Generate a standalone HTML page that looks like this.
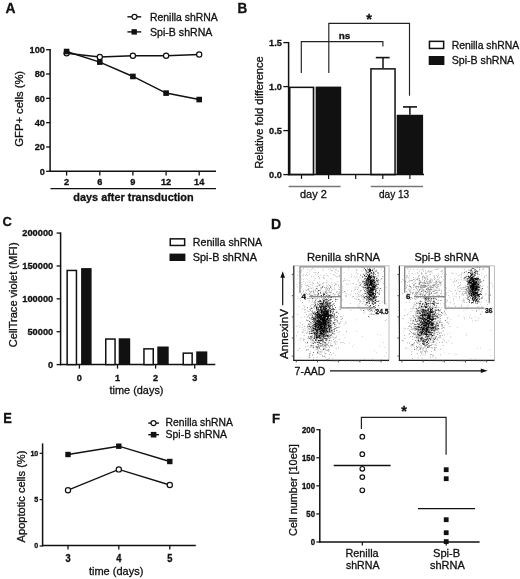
<!DOCTYPE html>
<html><head><meta charset="utf-8"><style>
html,body{margin:0;padding:0;background:#fff;width:520px;height:579px;overflow:hidden}
svg{display:block;filter:grayscale(1) blur(0.3px)}
text{font-family:"Liberation Sans", sans-serif;stroke:#111;stroke-width:0.3px}
</style></head><body>
<svg width="520" height="579" viewBox="0 0 520 579">
<text x="5.50" y="12.70" font-size="13.8" font-weight="bold" text-anchor="start" fill="#111">A</text>
<line x1="50.10" y1="49.00" x2="50.10" y2="172.05" stroke="#111" stroke-width="1.5"/>
<line x1="49.40" y1="171.30" x2="216.00" y2="171.30" stroke="#111" stroke-width="1.5"/>
<line x1="46.10" y1="171.30" x2="50.10" y2="171.30" stroke="#111" stroke-width="1.3"/>
<text x="44.90" y="174.60" font-size="9.2" font-weight="bold" text-anchor="end" fill="#111">0</text>
<line x1="46.10" y1="146.98" x2="50.10" y2="146.98" stroke="#111" stroke-width="1.3"/>
<text x="44.90" y="150.28" font-size="9.2" font-weight="bold" text-anchor="end" fill="#111">20</text>
<line x1="46.10" y1="122.66" x2="50.10" y2="122.66" stroke="#111" stroke-width="1.3"/>
<text x="44.90" y="125.96" font-size="9.2" font-weight="bold" text-anchor="end" fill="#111">40</text>
<line x1="46.10" y1="98.34" x2="50.10" y2="98.34" stroke="#111" stroke-width="1.3"/>
<text x="44.90" y="101.64" font-size="9.2" font-weight="bold" text-anchor="end" fill="#111">60</text>
<line x1="46.10" y1="74.02" x2="50.10" y2="74.02" stroke="#111" stroke-width="1.3"/>
<text x="44.90" y="77.32" font-size="9.2" font-weight="bold" text-anchor="end" fill="#111">80</text>
<line x1="46.10" y1="49.70" x2="50.10" y2="49.70" stroke="#111" stroke-width="1.3"/>
<text x="44.90" y="53.00" font-size="9.2" font-weight="bold" text-anchor="end" fill="#111">100</text>
<line x1="66.60" y1="171.30" x2="66.60" y2="175.60" stroke="#111" stroke-width="1.3"/>
<text transform="translate(66.60,185.00) scale(1,1.08)" font-size="9.2" font-weight="bold" text-anchor="middle" fill="#111">2</text>
<line x1="99.80" y1="171.30" x2="99.80" y2="175.60" stroke="#111" stroke-width="1.3"/>
<text transform="translate(99.80,185.00) scale(1,1.08)" font-size="9.2" font-weight="bold" text-anchor="middle" fill="#111">6</text>
<line x1="132.90" y1="171.30" x2="132.90" y2="175.60" stroke="#111" stroke-width="1.3"/>
<text transform="translate(132.90,185.00) scale(1,1.08)" font-size="9.2" font-weight="bold" text-anchor="middle" fill="#111">9</text>
<line x1="166.10" y1="171.30" x2="166.10" y2="175.60" stroke="#111" stroke-width="1.3"/>
<text transform="translate(166.10,185.00) scale(1,1.08)" font-size="9.2" font-weight="bold" text-anchor="middle" fill="#111">12</text>
<line x1="199.20" y1="171.30" x2="199.20" y2="175.60" stroke="#111" stroke-width="1.3"/>
<text transform="translate(199.20,185.00) scale(1,1.08)" font-size="9.2" font-weight="bold" text-anchor="middle" fill="#111">14</text>
<line x1="50.50" y1="188.60" x2="216.00" y2="188.60" stroke="#111" stroke-width="1.4"/>
<text x="133.50" y="200.80" font-size="10.9" font-weight="bold" text-anchor="middle" fill="#111" textLength="120.3" lengthAdjust="spacingAndGlyphs">days after transduction</text>
<text transform="translate(23.10,108.80) rotate(-90)" font-size="10.7" font-weight="normal" text-anchor="middle" fill="#111" textLength="75.8" lengthAdjust="spacingAndGlyphs">GFP+ cells (%)</text>
<polyline points="66.60,53.35 99.80,57.00 132.90,55.78 166.10,55.78 199.20,54.56" fill="none" stroke="#111" stroke-width="1.5"/>
<polyline points="66.60,51.52 99.80,62.10 132.90,76.45 166.10,93.11 199.20,99.56" fill="none" stroke="#111" stroke-width="1.5"/>
<circle cx="66.60" cy="53.35" r="2.60" fill="#fff" stroke="#111" stroke-width="1.2"/>
<circle cx="99.80" cy="57.00" r="2.60" fill="#fff" stroke="#111" stroke-width="1.2"/>
<circle cx="132.90" cy="55.78" r="2.60" fill="#fff" stroke="#111" stroke-width="1.2"/>
<circle cx="166.10" cy="55.78" r="2.60" fill="#fff" stroke="#111" stroke-width="1.2"/>
<circle cx="199.20" cy="54.56" r="2.60" fill="#fff" stroke="#111" stroke-width="1.2"/>
<rect x="63.80" y="48.72" width="5.60" height="5.60" fill="#111" stroke="none" stroke-width="0"/>
<rect x="97.00" y="59.30" width="5.60" height="5.60" fill="#111" stroke="none" stroke-width="0"/>
<rect x="130.10" y="73.65" width="5.60" height="5.60" fill="#111" stroke="none" stroke-width="0"/>
<rect x="163.30" y="90.31" width="5.60" height="5.60" fill="#111" stroke="none" stroke-width="0"/>
<rect x="196.40" y="96.76" width="5.60" height="5.60" fill="#111" stroke="none" stroke-width="0"/>
<line x1="127.40" y1="16.80" x2="141.20" y2="16.80" stroke="#111" stroke-width="1.4"/>
<circle cx="134.50" cy="16.80" r="2.50" fill="#fff" stroke="#111" stroke-width="1.2"/>
<text x="150.00" y="20.80" font-size="10.4" font-weight="normal" text-anchor="start" fill="#111" textLength="67.7" lengthAdjust="spacingAndGlyphs">Renilla shRNA</text>
<line x1="127.40" y1="31.90" x2="141.20" y2="31.90" stroke="#111" stroke-width="1.4"/>
<rect x="131.50" y="29.20" width="5.40" height="5.40" fill="#111" stroke="none" stroke-width="0"/>
<text x="150.00" y="36.10" font-size="10.4" font-weight="normal" text-anchor="start" fill="#111" textLength="62.4" lengthAdjust="spacingAndGlyphs">Spi-B shRNA</text>
<text transform="translate(237.40,12.60) scale(1,1.12)" font-size="13.5" font-weight="bold" text-anchor="start" fill="#111">B</text>
<rect x="289.75" y="87.35" width="23.70" height="87.25" fill="#fff" stroke="#111" stroke-width="1.5"/>
<rect x="315.70" y="86.60" width="25.50" height="88.00" fill="#111" stroke="none" stroke-width="0"/>
<line x1="314.90" y1="86.60" x2="314.90" y2="174.60" stroke="#888" stroke-width="0.8"/>
<rect x="370.95" y="68.87" width="24.10" height="105.73" fill="#fff" stroke="#111" stroke-width="1.5"/>
<rect x="396.70" y="114.76" width="26.40" height="59.84" fill="#111" stroke="none" stroke-width="0"/>
<line x1="383.00" y1="68.12" x2="383.00" y2="57.60" stroke="#111" stroke-width="1.5"/>
<line x1="375.80" y1="57.60" x2="389.60" y2="57.60" stroke="#111" stroke-width="1.6"/>
<line x1="409.90" y1="114.76" x2="409.90" y2="106.90" stroke="#111" stroke-width="1.5"/>
<line x1="403.00" y1="106.90" x2="417.00" y2="106.90" stroke="#111" stroke-width="1.6"/>
<line x1="288.60" y1="41.90" x2="288.60" y2="175.35" stroke="#111" stroke-width="1.5"/>
<line x1="287.90" y1="174.60" x2="424.00" y2="174.60" stroke="#111" stroke-width="1.5"/>
<line x1="283.30" y1="174.60" x2="288.60" y2="174.60" stroke="#111" stroke-width="1.3"/>
<text transform="translate(281.90,177.70) scale(1,0.95)" font-size="9.2" font-weight="bold" text-anchor="end" fill="#111">0.0</text>
<line x1="283.30" y1="130.60" x2="288.60" y2="130.60" stroke="#111" stroke-width="1.3"/>
<text transform="translate(281.90,133.70) scale(1,0.95)" font-size="9.2" font-weight="bold" text-anchor="end" fill="#111">0.5</text>
<line x1="283.30" y1="86.60" x2="288.60" y2="86.60" stroke="#111" stroke-width="1.3"/>
<text transform="translate(281.90,89.70) scale(1,0.95)" font-size="9.2" font-weight="bold" text-anchor="end" fill="#111">1.0</text>
<line x1="283.30" y1="42.60" x2="288.60" y2="42.60" stroke="#111" stroke-width="1.3"/>
<text transform="translate(281.90,45.70) scale(1,0.95)" font-size="9.2" font-weight="bold" text-anchor="end" fill="#111">1.5</text>
<line x1="301.50" y1="174.60" x2="301.50" y2="178.90" stroke="#111" stroke-width="1.2"/>
<line x1="328.60" y1="174.60" x2="328.60" y2="178.90" stroke="#111" stroke-width="1.2"/>
<line x1="355.70" y1="174.60" x2="355.70" y2="178.90" stroke="#111" stroke-width="1.2"/>
<line x1="382.80" y1="174.60" x2="382.80" y2="178.90" stroke="#111" stroke-width="1.2"/>
<line x1="409.90" y1="174.60" x2="409.90" y2="178.90" stroke="#111" stroke-width="1.2"/>
<line x1="288.60" y1="186.50" x2="340.60" y2="186.50" stroke="#777" stroke-width="1.3"/>
<line x1="370.80" y1="186.50" x2="423.00" y2="186.50" stroke="#777" stroke-width="1.3"/>
<text x="313.40" y="198.30" font-size="10.5" font-weight="normal" text-anchor="middle" fill="#111" textLength="26.8" lengthAdjust="spacingAndGlyphs">day 2</text>
<text x="394.10" y="198.30" font-size="10.5" font-weight="normal" text-anchor="middle" fill="#111" textLength="30.2" lengthAdjust="spacingAndGlyphs">day 13</text>
<text transform="translate(263.30,112.50) rotate(-90)" font-size="10.9" font-weight="normal" text-anchor="middle" fill="#111" textLength="112.4" lengthAdjust="spacingAndGlyphs">Relative fold difference</text>
<polyline points="301.30,73.10 301.30,41.60 382.90,41.60 382.90,46.50" fill="none" stroke="#222" stroke-width="1.15"/>
<polyline points="328.80,73.10 328.80,23.40 409.50,23.40 409.50,95.70" fill="none" stroke="#222" stroke-width="1.15"/>
<text x="344.60" y="39.40" font-size="9.8" font-weight="bold" text-anchor="middle" fill="#111" textLength="11.6" lengthAdjust="spacingAndGlyphs">ns</text>
<text x="369.20" y="23.90" font-size="14.5" font-weight="bold" text-anchor="middle" fill="#111">*</text>
<rect x="429.45" y="41.35" width="14.20" height="7.10" fill="#fff" stroke="#111" stroke-width="1.5"/>
<rect x="428.70" y="56.00" width="15.70" height="9.00" fill="#111" stroke="none" stroke-width="0"/>
<text x="451.70" y="48.80" font-size="10.4" font-weight="normal" text-anchor="start" fill="#111" textLength="67.5" lengthAdjust="spacingAndGlyphs">Renilla shRNA</text>
<text x="451.70" y="63.90" font-size="10.4" font-weight="normal" text-anchor="start" fill="#111" textLength="62.5" lengthAdjust="spacingAndGlyphs">Spi-B shRNA</text>
<text x="2.40" y="226.20" font-size="13" font-weight="bold" text-anchor="start" fill="#111">C</text>
<line x1="60.60" y1="232.38" x2="60.60" y2="365.35" stroke="#111" stroke-width="1.5"/>
<line x1="59.90" y1="364.60" x2="215.30" y2="364.60" stroke="#111" stroke-width="1.5"/>
<line x1="56.60" y1="364.60" x2="60.60" y2="364.60" stroke="#111" stroke-width="1.3"/>
<text x="53.20" y="367.50" font-size="8.4" font-weight="bold" text-anchor="end" fill="#111" textLength="5.15" lengthAdjust="spacingAndGlyphs">0</text>
<line x1="56.60" y1="331.72" x2="60.60" y2="331.72" stroke="#111" stroke-width="1.3"/>
<text x="53.20" y="334.62" font-size="8.4" font-weight="bold" text-anchor="end" fill="#111" textLength="25.75" lengthAdjust="spacingAndGlyphs">50000</text>
<line x1="56.60" y1="298.84" x2="60.60" y2="298.84" stroke="#111" stroke-width="1.3"/>
<text x="53.20" y="301.74" font-size="8.4" font-weight="bold" text-anchor="end" fill="#111" textLength="30.900000000000002" lengthAdjust="spacingAndGlyphs">100000</text>
<line x1="56.60" y1="265.96" x2="60.60" y2="265.96" stroke="#111" stroke-width="1.3"/>
<text x="53.20" y="268.86" font-size="8.4" font-weight="bold" text-anchor="end" fill="#111" textLength="30.900000000000002" lengthAdjust="spacingAndGlyphs">150000</text>
<line x1="56.60" y1="233.08" x2="60.60" y2="233.08" stroke="#111" stroke-width="1.3"/>
<text x="53.20" y="235.98" font-size="8.4" font-weight="bold" text-anchor="end" fill="#111" textLength="30.900000000000002" lengthAdjust="spacingAndGlyphs">200000</text>
<rect x="67.15" y="270.45" width="9.30" height="94.15" fill="#fff" stroke="#111" stroke-width="1.5"/>
<rect x="81.10" y="268.10" width="10.50" height="96.50" fill="#111" stroke="none" stroke-width="0"/>
<rect x="105.75" y="339.05" width="9.30" height="25.55" fill="#fff" stroke="#111" stroke-width="1.5"/>
<rect x="118.70" y="338.30" width="11.50" height="26.30" fill="#111" stroke="none" stroke-width="0"/>
<rect x="143.95" y="348.85" width="9.30" height="15.75" fill="#fff" stroke="#111" stroke-width="1.5"/>
<rect x="157.30" y="346.50" width="11.40" height="18.10" fill="#111" stroke="none" stroke-width="0"/>
<rect x="183.25" y="353.15" width="8.90" height="11.45" fill="#fff" stroke="#111" stroke-width="1.5"/>
<rect x="196.20" y="351.40" width="11.10" height="13.20" fill="#111" stroke="none" stroke-width="0"/>
<line x1="79.40" y1="364.60" x2="79.40" y2="368.60" stroke="#111" stroke-width="1.3"/>
<text transform="translate(79.40,381.20) scale(1,1.05)" font-size="9.2" font-weight="bold" text-anchor="middle" fill="#111">0</text>
<line x1="117.50" y1="364.60" x2="117.50" y2="368.60" stroke="#111" stroke-width="1.3"/>
<text transform="translate(117.50,381.20) scale(1,1.05)" font-size="9.2" font-weight="bold" text-anchor="middle" fill="#111">1</text>
<line x1="155.60" y1="364.60" x2="155.60" y2="368.60" stroke="#111" stroke-width="1.3"/>
<text transform="translate(155.60,381.20) scale(1,1.05)" font-size="9.2" font-weight="bold" text-anchor="middle" fill="#111">2</text>
<line x1="194.70" y1="364.60" x2="194.70" y2="368.60" stroke="#111" stroke-width="1.3"/>
<text transform="translate(194.70,381.20) scale(1,1.05)" font-size="9.2" font-weight="bold" text-anchor="middle" fill="#111">3</text>
<text x="136.50" y="393.80" font-size="10.9" font-weight="normal" text-anchor="middle" fill="#111" textLength="54" lengthAdjust="spacingAndGlyphs">time (days)</text>
<text transform="translate(17.00,294.80) rotate(-90)" font-size="10.9" font-weight="normal" text-anchor="middle" fill="#111" textLength="104.8" lengthAdjust="spacingAndGlyphs">CellTrace violet (MFI)</text>
<rect x="170.25" y="238.85" width="14.40" height="6.60" fill="#fff" stroke="#111" stroke-width="1.5"/>
<rect x="169.50" y="253.60" width="15.90" height="7.40" fill="#111" stroke="none" stroke-width="0"/>
<text x="192.80" y="245.60" font-size="10.4" font-weight="normal" text-anchor="start" fill="#111" textLength="69.4" lengthAdjust="spacingAndGlyphs">Renilla shRNA</text>
<text x="192.80" y="261.00" font-size="10.4" font-weight="normal" text-anchor="start" fill="#111" textLength="64.1" lengthAdjust="spacingAndGlyphs">Spi-B shRNA</text>
<text x="3.20" y="422.60" font-size="14" font-weight="bold" text-anchor="start" fill="#111" textLength="8.6" lengthAdjust="spacingAndGlyphs">E</text>
<line x1="42.60" y1="443.40" x2="42.60" y2="546.35" stroke="#111" stroke-width="1.5"/>
<line x1="41.90" y1="545.60" x2="195.80" y2="545.60" stroke="#111" stroke-width="1.5"/>
<line x1="39.60" y1="546.00" x2="42.60" y2="546.00" stroke="#111" stroke-width="1.2"/>
<text transform="translate(38.30,548.40) scale(1,1.1)" font-size="7.1" font-weight="bold" text-anchor="end" fill="#111">0</text>
<line x1="39.60" y1="499.65" x2="42.60" y2="499.65" stroke="#111" stroke-width="1.2"/>
<text transform="translate(38.30,502.05) scale(1,1.1)" font-size="7.1" font-weight="bold" text-anchor="end" fill="#111">5</text>
<line x1="39.60" y1="453.30" x2="42.60" y2="453.30" stroke="#111" stroke-width="1.2"/>
<text transform="translate(38.30,455.70) scale(1,1.1)" font-size="7.1" font-weight="bold" text-anchor="end" fill="#111">10</text>
<line x1="68.00" y1="545.60" x2="68.00" y2="549.40" stroke="#111" stroke-width="1.3"/>
<text transform="translate(68.00,561.70) scale(1,1.12)" font-size="9.3" font-weight="bold" text-anchor="middle" fill="#111">3</text>
<line x1="118.80" y1="545.60" x2="118.80" y2="549.40" stroke="#111" stroke-width="1.3"/>
<text transform="translate(118.80,561.70) scale(1,1.12)" font-size="9.3" font-weight="bold" text-anchor="middle" fill="#111">4</text>
<line x1="169.80" y1="545.60" x2="169.80" y2="549.40" stroke="#111" stroke-width="1.3"/>
<text transform="translate(169.80,561.70) scale(1,1.12)" font-size="9.3" font-weight="bold" text-anchor="middle" fill="#111">5</text>
<text x="116.10" y="574.90" font-size="10.9" font-weight="normal" text-anchor="middle" fill="#111" textLength="54.4" lengthAdjust="spacingAndGlyphs">time (days)</text>
<text transform="translate(25.00,496.50) rotate(-90)" font-size="10.7" font-weight="normal" text-anchor="middle" fill="#111" textLength="91.8" lengthAdjust="spacingAndGlyphs">Apoptotic cells (%)</text>
<polyline points="68.00,454.50 118.80,446.20 169.80,461.50" fill="none" stroke="#111" stroke-width="1.4"/>
<polyline points="68.00,490.20 118.80,469.40 169.80,485.00" fill="none" stroke="#111" stroke-width="1.4"/>
<rect x="65.30" y="451.80" width="5.40" height="5.40" fill="#111" stroke="none" stroke-width="0"/>
<rect x="116.10" y="443.50" width="5.40" height="5.40" fill="#111" stroke="none" stroke-width="0"/>
<rect x="167.10" y="458.80" width="5.40" height="5.40" fill="#111" stroke="none" stroke-width="0"/>
<circle cx="68.00" cy="490.20" r="2.60" fill="#fff" stroke="#111" stroke-width="1.2"/>
<circle cx="118.80" cy="469.40" r="2.60" fill="#fff" stroke="#111" stroke-width="1.2"/>
<circle cx="169.80" cy="485.00" r="2.60" fill="#fff" stroke="#111" stroke-width="1.2"/>
<line x1="148.30" y1="423.10" x2="159.00" y2="423.10" stroke="#111" stroke-width="1.4"/>
<circle cx="153.50" cy="423.10" r="2.50" fill="#fff" stroke="#111" stroke-width="1.2"/>
<text x="165.60" y="426.00" font-size="10.4" font-weight="normal" text-anchor="start" fill="#111" textLength="67.3" lengthAdjust="spacingAndGlyphs">Renilla shRNA</text>
<line x1="148.30" y1="434.70" x2="159.00" y2="434.70" stroke="#111" stroke-width="1.4"/>
<rect x="150.80" y="431.90" width="5.60" height="5.60" fill="#111" stroke="none" stroke-width="0"/>
<text x="165.60" y="438.00" font-size="10.4" font-weight="normal" text-anchor="start" fill="#111" textLength="61.4" lengthAdjust="spacingAndGlyphs">Spi-B shRNA</text>
<text x="271.90" y="423.20" font-size="13.3" font-weight="bold" text-anchor="start" fill="#111">F</text>
<line x1="319.80" y1="429.00" x2="319.80" y2="542.75" stroke="#111" stroke-width="1.5"/>
<line x1="319.10" y1="542.00" x2="479.60" y2="542.00" stroke="#111" stroke-width="1.5"/>
<line x1="316.30" y1="542.00" x2="319.80" y2="542.00" stroke="#111" stroke-width="1.2"/>
<text transform="translate(315.00,545.30) scale(1,1.18)" font-size="7.8" font-weight="bold" text-anchor="end" fill="#111">0</text>
<line x1="316.30" y1="513.92" x2="319.80" y2="513.92" stroke="#111" stroke-width="1.2"/>
<text transform="translate(315.00,517.22) scale(1,1.18)" font-size="7.8" font-weight="bold" text-anchor="end" fill="#111">50</text>
<line x1="316.30" y1="485.85" x2="319.80" y2="485.85" stroke="#111" stroke-width="1.2"/>
<text transform="translate(315.00,489.15) scale(1,1.18)" font-size="7.8" font-weight="bold" text-anchor="end" fill="#111">100</text>
<line x1="316.30" y1="457.77" x2="319.80" y2="457.77" stroke="#111" stroke-width="1.2"/>
<text transform="translate(315.00,461.07) scale(1,1.18)" font-size="7.8" font-weight="bold" text-anchor="end" fill="#111">150</text>
<line x1="316.30" y1="429.70" x2="319.80" y2="429.70" stroke="#111" stroke-width="1.2"/>
<text transform="translate(315.00,433.00) scale(1,1.18)" font-size="7.8" font-weight="bold" text-anchor="end" fill="#111">200</text>
<line x1="362.30" y1="542.00" x2="362.30" y2="545.50" stroke="#111" stroke-width="1.2"/>
<line x1="446.20" y1="542.00" x2="446.20" y2="545.50" stroke="#111" stroke-width="1.2"/>
<text x="362.00" y="556.70" font-size="10.9" font-weight="normal" text-anchor="middle" fill="#111" textLength="33.2" lengthAdjust="spacingAndGlyphs">Renilla</text>
<text x="362.70" y="569.20" font-size="10.9" font-weight="normal" text-anchor="middle" fill="#111" textLength="33.6" lengthAdjust="spacingAndGlyphs">shRNA</text>
<text x="446.60" y="556.70" font-size="10.9" font-weight="normal" text-anchor="middle" fill="#111" textLength="27.2" lengthAdjust="spacingAndGlyphs">Spi-B</text>
<text x="447.40" y="569.20" font-size="10.9" font-weight="normal" text-anchor="middle" fill="#111" textLength="34.8" lengthAdjust="spacingAndGlyphs">shRNA</text>
<text transform="translate(296.70,490.10) rotate(-90)" font-size="10.9" font-weight="normal" text-anchor="middle" fill="#111" textLength="91.7" lengthAdjust="spacingAndGlyphs">Cell number [10e6]</text>
<line x1="333.70" y1="465.50" x2="390.60" y2="465.50" stroke="#111" stroke-width="1.4"/>
<line x1="418.00" y1="508.60" x2="475.10" y2="508.60" stroke="#111" stroke-width="1.4"/>
<circle cx="362.30" cy="436.70" r="2.30" fill="#fff" stroke="#111" stroke-width="1.2"/>
<circle cx="362.30" cy="454.20" r="2.30" fill="#fff" stroke="#111" stroke-width="1.2"/>
<circle cx="362.30" cy="468.80" r="2.30" fill="#fff" stroke="#111" stroke-width="1.2"/>
<circle cx="362.30" cy="477.10" r="2.30" fill="#fff" stroke="#111" stroke-width="1.2"/>
<circle cx="362.30" cy="490.30" r="2.30" fill="#fff" stroke="#111" stroke-width="1.2"/>
<rect x="443.80" y="467.30" width="4.80" height="4.80" fill="#111" stroke="none" stroke-width="0"/>
<rect x="443.80" y="476.30" width="4.80" height="4.80" fill="#111" stroke="none" stroke-width="0"/>
<rect x="443.80" y="517.30" width="4.80" height="4.80" fill="#111" stroke="none" stroke-width="0"/>
<rect x="443.80" y="530.30" width="4.80" height="4.80" fill="#111" stroke="none" stroke-width="0"/>
<rect x="443.80" y="539.20" width="4.80" height="4.80" fill="#111" stroke="none" stroke-width="0"/>
<polyline points="361.40,429.00 361.40,417.40 446.10,417.40 446.10,454.70" fill="none" stroke="#222" stroke-width="1.2"/>
<text x="404.20" y="416.00" font-size="14.5" font-weight="bold" text-anchor="middle" fill="#111">*</text>
<defs><filter id="soft" x="-5%" y="-5%" width="110%" height="110%"><feGaussianBlur stdDeviation="0.35"/></filter></defs>
<text x="270.90" y="228.70" font-size="14" font-weight="bold" text-anchor="start" fill="#111">D</text>
<rect x="293.8" y="265.8" width="95.19999999999999" height="94.59999999999997" fill="#fff" stroke="#b5b5b5" stroke-width="0.9"/>
<path d="M322.2 333.7h0.75v0.75h-0.75zM327.9 311.6h0.75v0.75h-0.75zM320.6 315.4h0.75v0.75h-0.75zM324.7 317.9h0.75v0.75h-0.75zM325.6 299.3h0.75v0.75h-0.75zM329.5 314.9h0.75v0.75h-0.75zM325.3 316.8h0.75v0.75h-0.75zM320.2 325.7h0.75v0.75h-0.75zM326.0 315.8h0.75v0.75h-0.75zM321.3 327.4h0.75v0.75h-0.75zM317.8 306.9h0.75v0.75h-0.75zM323.9 312.1h0.75v0.75h-0.75zM312.8 316.8h0.75v0.75h-0.75zM319.8 309.1h0.75v0.75h-0.75zM314.8 324.3h0.75v0.75h-0.75zM326.3 315.3h0.75v0.75h-0.75zM318.4 325.9h0.75v0.75h-0.75zM325.4 315.1h0.75v0.75h-0.75zM324.6 329.2h0.75v0.75h-0.75zM321.0 312.3h0.75v0.75h-0.75zM323.7 321.6h0.75v0.75h-0.75zM327.3 304.1h0.75v0.75h-0.75zM318.8 313.2h0.75v0.75h-0.75zM313.7 325.8h0.75v0.75h-0.75zM324.5 311.1h0.75v0.75h-0.75zM328.7 324.7h0.75v0.75h-0.75zM325.0 322.4h0.75v0.75h-0.75zM326.6 303.9h0.75v0.75h-0.75zM324.9 324.5h0.75v0.75h-0.75zM313.5 328.2h0.75v0.75h-0.75zM320.8 328.6h0.75v0.75h-0.75zM319.9 321.0h0.75v0.75h-0.75zM323.6 310.2h0.75v0.75h-0.75zM324.9 317.4h0.75v0.75h-0.75zM324.4 313.4h0.75v0.75h-0.75zM327.2 323.3h0.75v0.75h-0.75zM321.1 326.9h0.75v0.75h-0.75zM328.0 334.9h0.75v0.75h-0.75zM314.4 333.1h0.75v0.75h-0.75zM324.2 317.8h0.75v0.75h-0.75zM317.2 335.4h0.75v0.75h-0.75zM315.9 329.1h0.75v0.75h-0.75zM328.2 300.3h0.75v0.75h-0.75zM320.5 307.5h0.75v0.75h-0.75zM323.2 334.8h0.75v0.75h-0.75zM331.7 296.6h0.75v0.75h-0.75zM319.2 328.7h0.75v0.75h-0.75zM329.6 320.1h0.75v0.75h-0.75zM318.4 325.0h0.75v0.75h-0.75zM321.9 318.0h0.75v0.75h-0.75zM318.5 325.9h0.75v0.75h-0.75zM323.5 318.2h0.75v0.75h-0.75zM320.9 307.5h0.75v0.75h-0.75zM319.7 333.5h0.75v0.75h-0.75zM321.1 305.9h0.75v0.75h-0.75zM328.4 321.9h0.75v0.75h-0.75zM332.1 315.1h0.75v0.75h-0.75zM319.8 306.5h0.75v0.75h-0.75zM328.4 342.6h0.75v0.75h-0.75zM318.1 315.6h0.75v0.75h-0.75zM324.9 310.0h0.75v0.75h-0.75zM320.7 317.2h0.75v0.75h-0.75zM322.9 330.6h0.75v0.75h-0.75zM322.1 329.3h0.75v0.75h-0.75zM320.0 324.4h0.75v0.75h-0.75zM311.7 310.9h0.75v0.75h-0.75zM325.8 311.9h0.75v0.75h-0.75zM324.8 324.0h0.75v0.75h-0.75zM328.3 324.8h0.75v0.75h-0.75zM326.9 316.2h0.75v0.75h-0.75zM318.6 314.4h0.75v0.75h-0.75zM319.7 309.8h0.75v0.75h-0.75zM319.4 320.5h0.75v0.75h-0.75zM323.2 315.9h0.75v0.75h-0.75zM312.8 324.3h0.75v0.75h-0.75zM323.1 330.4h0.75v0.75h-0.75zM324.8 311.9h0.75v0.75h-0.75zM318.5 342.3h0.75v0.75h-0.75zM325.6 336.6h0.75v0.75h-0.75zM332.2 306.1h0.75v0.75h-0.75zM323.8 323.6h0.75v0.75h-0.75zM324.7 324.0h0.75v0.75h-0.75zM323.0 321.2h0.75v0.75h-0.75zM314.8 322.3h0.75v0.75h-0.75zM318.4 323.2h0.75v0.75h-0.75zM319.8 327.5h0.75v0.75h-0.75zM325.9 321.0h0.75v0.75h-0.75zM323.5 320.1h0.75v0.75h-0.75zM319.9 319.5h0.75v0.75h-0.75zM319.6 325.2h0.75v0.75h-0.75zM322.1 325.9h0.75v0.75h-0.75zM315.6 332.5h0.75v0.75h-0.75zM318.3 314.5h0.75v0.75h-0.75zM321.1 314.8h0.75v0.75h-0.75zM323.4 313.4h0.75v0.75h-0.75zM316.9 314.2h0.75v0.75h-0.75zM328.3 317.0h0.75v0.75h-0.75zM316.4 323.1h0.75v0.75h-0.75zM314.5 342.3h0.75v0.75h-0.75zM314.7 328.9h0.75v0.75h-0.75zM324.6 303.8h0.75v0.75h-0.75zM323.4 329.3h0.75v0.75h-0.75zM324.2 321.4h0.75v0.75h-0.75zM326.6 319.1h0.75v0.75h-0.75zM323.6 317.8h0.75v0.75h-0.75zM325.0 308.8h0.75v0.75h-0.75zM325.8 312.8h0.75v0.75h-0.75zM316.8 326.6h0.75v0.75h-0.75zM330.1 325.3h0.75v0.75h-0.75zM319.5 328.5h0.75v0.75h-0.75zM319.8 319.9h0.75v0.75h-0.75zM322.4 296.2h0.75v0.75h-0.75zM322.9 309.0h0.75v0.75h-0.75zM318.7 306.8h0.75v0.75h-0.75zM314.7 314.4h0.75v0.75h-0.75zM326.0 334.8h0.75v0.75h-0.75zM321.9 331.2h0.75v0.75h-0.75zM320.7 301.3h0.75v0.75h-0.75zM322.7 324.1h0.75v0.75h-0.75zM319.9 324.2h0.75v0.75h-0.75zM324.7 309.7h0.75v0.75h-0.75zM314.9 321.6h0.75v0.75h-0.75zM321.0 317.0h0.75v0.75h-0.75zM326.7 335.0h0.75v0.75h-0.75zM320.0 328.2h0.75v0.75h-0.75zM326.5 324.8h0.75v0.75h-0.75zM327.0 313.3h0.75v0.75h-0.75zM325.6 338.6h0.75v0.75h-0.75zM325.9 311.6h0.75v0.75h-0.75zM324.9 331.2h0.75v0.75h-0.75zM323.8 313.3h0.75v0.75h-0.75zM329.4 303.2h0.75v0.75h-0.75zM324.4 318.5h0.75v0.75h-0.75zM316.3 335.5h0.75v0.75h-0.75zM323.7 307.2h0.75v0.75h-0.75zM324.9 314.0h0.75v0.75h-0.75zM312.9 318.0h0.75v0.75h-0.75zM323.3 325.8h0.75v0.75h-0.75zM322.8 320.0h0.75v0.75h-0.75zM324.3 316.6h0.75v0.75h-0.75zM327.6 318.4h0.75v0.75h-0.75zM323.4 324.7h0.75v0.75h-0.75zM316.9 315.6h0.75v0.75h-0.75zM329.3 319.4h0.75v0.75h-0.75zM320.6 324.2h0.75v0.75h-0.75zM319.7 324.1h0.75v0.75h-0.75zM318.8 324.6h0.75v0.75h-0.75zM314.4 337.7h0.75v0.75h-0.75zM319.5 305.3h0.75v0.75h-0.75zM320.9 316.8h0.75v0.75h-0.75zM322.7 308.0h0.75v0.75h-0.75zM323.9 355.8h0.75v0.75h-0.75zM315.9 326.8h0.75v0.75h-0.75zM320.5 322.8h0.75v0.75h-0.75zM313.3 313.1h0.75v0.75h-0.75zM324.2 318.4h0.75v0.75h-0.75zM329.8 308.5h0.75v0.75h-0.75zM322.8 349.2h0.75v0.75h-0.75zM318.3 312.8h0.75v0.75h-0.75zM321.8 319.6h0.75v0.75h-0.75zM326.1 319.1h0.75v0.75h-0.75zM318.4 324.1h0.75v0.75h-0.75zM334.7 326.0h0.75v0.75h-0.75zM308.6 325.9h0.75v0.75h-0.75zM317.8 328.6h0.75v0.75h-0.75zM321.2 340.1h0.75v0.75h-0.75zM326.5 326.6h0.75v0.75h-0.75zM322.9 319.1h0.75v0.75h-0.75zM323.6 332.3h0.75v0.75h-0.75zM324.6 315.0h0.75v0.75h-0.75zM328.1 318.6h0.75v0.75h-0.75zM321.6 312.2h0.75v0.75h-0.75zM319.3 315.0h0.75v0.75h-0.75zM308.6 337.7h0.75v0.75h-0.75zM324.7 316.3h0.75v0.75h-0.75zM327.0 321.7h0.75v0.75h-0.75zM323.8 293.9h0.75v0.75h-0.75zM320.9 326.0h0.75v0.75h-0.75zM329.7 334.5h0.75v0.75h-0.75zM328.8 304.4h0.75v0.75h-0.75zM311.5 331.6h0.75v0.75h-0.75zM322.1 329.7h0.75v0.75h-0.75zM321.4 322.6h0.75v0.75h-0.75zM314.8 328.5h0.75v0.75h-0.75zM319.9 324.7h0.75v0.75h-0.75zM324.2 317.6h0.75v0.75h-0.75zM323.5 319.0h0.75v0.75h-0.75zM325.6 323.1h0.75v0.75h-0.75zM319.4 315.5h0.75v0.75h-0.75zM330.4 314.4h0.75v0.75h-0.75zM326.8 321.4h0.75v0.75h-0.75zM319.3 313.9h0.75v0.75h-0.75zM322.6 322.3h0.75v0.75h-0.75zM324.9 305.5h0.75v0.75h-0.75zM319.1 320.6h0.75v0.75h-0.75zM329.7 291.8h0.75v0.75h-0.75zM324.1 313.4h0.75v0.75h-0.75zM324.1 313.9h0.75v0.75h-0.75zM323.7 335.0h0.75v0.75h-0.75zM323.7 323.5h0.75v0.75h-0.75zM323.8 311.4h0.75v0.75h-0.75zM324.6 316.5h0.75v0.75h-0.75zM318.1 321.7h0.75v0.75h-0.75zM320.9 328.3h0.75v0.75h-0.75zM321.8 314.7h0.75v0.75h-0.75zM329.0 326.2h0.75v0.75h-0.75zM328.1 322.8h0.75v0.75h-0.75zM321.5 316.0h0.75v0.75h-0.75zM320.7 330.4h0.75v0.75h-0.75zM322.5 304.6h0.75v0.75h-0.75zM321.8 305.7h0.75v0.75h-0.75zM322.8 307.3h0.75v0.75h-0.75zM315.9 324.5h0.75v0.75h-0.75zM321.6 303.3h0.75v0.75h-0.75zM325.6 340.0h0.75v0.75h-0.75zM314.9 342.4h0.75v0.75h-0.75zM318.7 316.8h0.75v0.75h-0.75zM321.1 305.8h0.75v0.75h-0.75zM328.2 321.6h0.75v0.75h-0.75zM318.4 319.2h0.75v0.75h-0.75zM314.7 320.4h0.75v0.75h-0.75zM326.5 300.1h0.75v0.75h-0.75zM319.9 322.6h0.75v0.75h-0.75zM327.0 331.0h0.75v0.75h-0.75zM319.8 313.7h0.75v0.75h-0.75zM324.2 315.1h0.75v0.75h-0.75zM320.5 331.8h0.75v0.75h-0.75zM330.1 318.3h0.75v0.75h-0.75zM321.1 326.3h0.75v0.75h-0.75zM312.9 324.8h0.75v0.75h-0.75zM316.9 347.1h0.75v0.75h-0.75zM325.5 319.5h0.75v0.75h-0.75zM321.1 294.9h0.75v0.75h-0.75zM325.4 334.7h0.75v0.75h-0.75zM318.5 328.9h0.75v0.75h-0.75zM325.5 302.4h0.75v0.75h-0.75zM326.5 331.3h0.75v0.75h-0.75zM323.1 318.8h0.75v0.75h-0.75zM325.8 302.3h0.75v0.75h-0.75zM322.4 330.5h0.75v0.75h-0.75zM316.0 333.4h0.75v0.75h-0.75zM320.0 299.9h0.75v0.75h-0.75zM321.5 310.4h0.75v0.75h-0.75zM323.5 307.2h0.75v0.75h-0.75zM327.0 309.7h0.75v0.75h-0.75zM323.7 313.0h0.75v0.75h-0.75zM320.5 333.0h0.75v0.75h-0.75zM323.0 315.4h0.75v0.75h-0.75zM316.0 335.1h0.75v0.75h-0.75zM325.5 314.8h0.75v0.75h-0.75zM323.2 308.9h0.75v0.75h-0.75zM317.1 314.3h0.75v0.75h-0.75zM323.7 322.1h0.75v0.75h-0.75zM318.4 329.5h0.75v0.75h-0.75zM325.8 319.7h0.75v0.75h-0.75zM327.0 314.4h0.75v0.75h-0.75zM321.5 325.1h0.75v0.75h-0.75zM321.8 328.2h0.75v0.75h-0.75zM316.0 337.8h0.75v0.75h-0.75zM318.2 320.4h0.75v0.75h-0.75zM315.4 329.7h0.75v0.75h-0.75zM328.1 327.5h0.75v0.75h-0.75zM326.0 302.0h0.75v0.75h-0.75zM318.2 317.4h0.75v0.75h-0.75zM317.5 333.9h0.75v0.75h-0.75zM322.9 319.3h0.75v0.75h-0.75zM324.3 309.0h0.75v0.75h-0.75zM317.6 313.4h0.75v0.75h-0.75zM324.4 322.2h0.75v0.75h-0.75zM324.8 329.4h0.75v0.75h-0.75zM315.5 317.9h0.75v0.75h-0.75zM322.7 305.9h0.75v0.75h-0.75zM319.4 331.7h0.75v0.75h-0.75zM327.3 328.1h0.75v0.75h-0.75zM322.2 317.7h0.75v0.75h-0.75zM327.2 313.4h0.75v0.75h-0.75zM323.6 332.6h0.75v0.75h-0.75zM320.2 314.8h0.75v0.75h-0.75zM322.0 326.1h0.75v0.75h-0.75zM324.3 320.3h0.75v0.75h-0.75zM324.7 302.3h0.75v0.75h-0.75zM317.9 323.9h0.75v0.75h-0.75zM317.5 308.8h0.75v0.75h-0.75zM316.2 313.8h0.75v0.75h-0.75zM321.1 310.1h0.75v0.75h-0.75zM323.1 336.6h0.75v0.75h-0.75zM321.3 333.3h0.75v0.75h-0.75zM323.4 307.9h0.75v0.75h-0.75zM320.8 310.7h0.75v0.75h-0.75zM325.7 306.3h0.75v0.75h-0.75zM328.3 322.4h0.75v0.75h-0.75zM312.3 333.3h0.75v0.75h-0.75zM329.5 307.9h0.75v0.75h-0.75zM326.7 299.1h0.75v0.75h-0.75zM323.2 302.4h0.75v0.75h-0.75zM324.3 300.6h0.75v0.75h-0.75zM309.4 330.9h0.75v0.75h-0.75zM333.0 307.9h0.75v0.75h-0.75zM326.0 318.9h0.75v0.75h-0.75zM320.4 327.1h0.75v0.75h-0.75zM329.9 303.1h0.75v0.75h-0.75zM324.7 322.0h0.75v0.75h-0.75zM315.2 340.2h0.75v0.75h-0.75zM331.4 305.2h0.75v0.75h-0.75zM330.3 316.0h0.75v0.75h-0.75zM321.2 335.7h0.75v0.75h-0.75zM323.1 322.7h0.75v0.75h-0.75zM329.3 329.1h0.75v0.75h-0.75zM326.3 303.4h0.75v0.75h-0.75zM314.5 335.6h0.75v0.75h-0.75zM317.6 323.9h0.75v0.75h-0.75zM316.8 321.0h0.75v0.75h-0.75zM315.9 339.9h0.75v0.75h-0.75zM317.1 321.4h0.75v0.75h-0.75zM321.1 332.8h0.75v0.75h-0.75zM315.2 323.4h0.75v0.75h-0.75zM321.0 325.9h0.75v0.75h-0.75zM324.3 314.0h0.75v0.75h-0.75zM323.2 315.6h0.75v0.75h-0.75zM324.2 317.7h0.75v0.75h-0.75zM318.9 321.4h0.75v0.75h-0.75zM323.7 342.1h0.75v0.75h-0.75zM319.6 324.4h0.75v0.75h-0.75zM329.0 295.0h0.75v0.75h-0.75zM313.6 312.5h0.75v0.75h-0.75zM321.5 345.1h0.75v0.75h-0.75zM323.9 331.3h0.75v0.75h-0.75zM320.9 295.5h0.75v0.75h-0.75zM310.9 336.4h0.75v0.75h-0.75zM322.9 306.3h0.75v0.75h-0.75zM327.4 301.4h0.75v0.75h-0.75zM327.4 331.8h0.75v0.75h-0.75zM318.3 310.7h0.75v0.75h-0.75zM326.1 306.6h0.75v0.75h-0.75zM326.1 305.6h0.75v0.75h-0.75zM325.9 318.8h0.75v0.75h-0.75zM319.9 312.0h0.75v0.75h-0.75zM323.1 300.1h0.75v0.75h-0.75zM320.7 316.7h0.75v0.75h-0.75zM325.3 305.5h0.75v0.75h-0.75zM330.2 312.3h0.75v0.75h-0.75zM316.5 337.1h0.75v0.75h-0.75zM330.0 313.7h0.75v0.75h-0.75zM317.7 322.5h0.75v0.75h-0.75zM318.7 318.6h0.75v0.75h-0.75zM329.5 319.9h0.75v0.75h-0.75zM322.7 323.1h0.75v0.75h-0.75zM321.7 328.7h0.75v0.75h-0.75zM326.2 313.9h0.75v0.75h-0.75zM322.5 344.3h0.75v0.75h-0.75zM324.0 317.0h0.75v0.75h-0.75zM331.8 314.7h0.75v0.75h-0.75zM316.7 329.7h0.75v0.75h-0.75zM317.7 317.3h0.75v0.75h-0.75zM323.6 317.9h0.75v0.75h-0.75zM318.3 316.4h0.75v0.75h-0.75zM319.2 333.4h0.75v0.75h-0.75zM318.5 316.1h0.75v0.75h-0.75zM331.8 309.0h0.75v0.75h-0.75zM329.1 329.5h0.75v0.75h-0.75zM321.3 306.0h0.75v0.75h-0.75zM324.2 325.6h0.75v0.75h-0.75zM326.6 318.2h0.75v0.75h-0.75zM327.8 331.0h0.75v0.75h-0.75zM316.9 337.3h0.75v0.75h-0.75zM322.8 313.8h0.75v0.75h-0.75zM320.5 339.9h0.75v0.75h-0.75zM326.7 299.2h0.75v0.75h-0.75zM322.4 318.4h0.75v0.75h-0.75zM321.2 315.2h0.75v0.75h-0.75zM315.0 332.6h0.75v0.75h-0.75zM317.5 318.7h0.75v0.75h-0.75zM319.1 314.2h0.75v0.75h-0.75zM325.6 322.0h0.75v0.75h-0.75zM318.8 312.2h0.75v0.75h-0.75zM319.7 331.1h0.75v0.75h-0.75zM322.6 322.0h0.75v0.75h-0.75zM320.4 318.2h0.75v0.75h-0.75zM323.0 300.7h0.75v0.75h-0.75zM329.7 307.8h0.75v0.75h-0.75zM319.3 335.1h0.75v0.75h-0.75zM323.1 319.8h0.75v0.75h-0.75zM319.2 305.7h0.75v0.75h-0.75zM322.9 331.7h0.75v0.75h-0.75zM317.7 336.2h0.75v0.75h-0.75zM316.6 315.5h0.75v0.75h-0.75zM324.4 318.7h0.75v0.75h-0.75zM325.3 310.6h0.75v0.75h-0.75zM317.0 303.7h0.75v0.75h-0.75zM316.2 312.2h0.75v0.75h-0.75zM315.2 326.9h0.75v0.75h-0.75zM318.8 301.5h0.75v0.75h-0.75zM333.9 305.0h0.75v0.75h-0.75zM316.0 335.9h0.75v0.75h-0.75zM327.6 305.2h0.75v0.75h-0.75zM314.9 313.7h0.75v0.75h-0.75zM327.4 313.9h0.75v0.75h-0.75zM318.1 321.8h0.75v0.75h-0.75zM327.8 302.7h0.75v0.75h-0.75zM320.2 306.9h0.75v0.75h-0.75zM332.4 332.8h0.75v0.75h-0.75zM326.6 316.1h0.75v0.75h-0.75zM325.2 296.9h0.75v0.75h-0.75zM323.3 305.7h0.75v0.75h-0.75zM315.6 316.3h0.75v0.75h-0.75zM320.3 326.8h0.75v0.75h-0.75zM325.4 320.8h0.75v0.75h-0.75zM317.5 329.4h0.75v0.75h-0.75zM321.4 332.3h0.75v0.75h-0.75zM317.6 294.3h0.75v0.75h-0.75zM319.7 343.1h0.75v0.75h-0.75zM324.3 316.8h0.75v0.75h-0.75zM326.2 322.8h0.75v0.75h-0.75zM324.2 313.6h0.75v0.75h-0.75zM322.4 321.8h0.75v0.75h-0.75zM318.9 310.3h0.75v0.75h-0.75zM322.7 329.5h0.75v0.75h-0.75zM325.1 323.3h0.75v0.75h-0.75zM324.4 344.9h0.75v0.75h-0.75zM323.2 329.9h0.75v0.75h-0.75zM331.4 315.4h0.75v0.75h-0.75zM323.3 329.9h0.75v0.75h-0.75zM330.1 318.8h0.75v0.75h-0.75zM323.7 320.0h0.75v0.75h-0.75zM316.2 334.5h0.75v0.75h-0.75zM320.8 303.2h0.75v0.75h-0.75zM321.3 302.8h0.75v0.75h-0.75zM317.2 322.9h0.75v0.75h-0.75zM317.6 333.3h0.75v0.75h-0.75zM315.0 326.6h0.75v0.75h-0.75zM324.7 333.4h0.75v0.75h-0.75zM326.5 320.0h0.75v0.75h-0.75zM322.4 319.3h0.75v0.75h-0.75zM327.5 310.4h0.75v0.75h-0.75zM324.5 317.8h0.75v0.75h-0.75zM323.2 316.8h0.75v0.75h-0.75zM332.3 307.8h0.75v0.75h-0.75zM323.3 322.2h0.75v0.75h-0.75zM325.0 323.1h0.75v0.75h-0.75zM324.1 329.0h0.75v0.75h-0.75zM314.8 324.1h0.75v0.75h-0.75zM316.1 325.7h0.75v0.75h-0.75zM316.4 313.4h0.75v0.75h-0.75zM321.8 334.4h0.75v0.75h-0.75zM324.8 321.6h0.75v0.75h-0.75zM328.8 306.8h0.75v0.75h-0.75zM312.0 321.3h0.75v0.75h-0.75zM320.7 333.4h0.75v0.75h-0.75zM332.3 301.0h0.75v0.75h-0.75zM334.0 329.5h0.75v0.75h-0.75zM326.1 321.6h0.75v0.75h-0.75zM333.7 314.6h0.75v0.75h-0.75zM319.8 322.8h0.75v0.75h-0.75zM315.5 328.5h0.75v0.75h-0.75zM321.5 323.8h0.75v0.75h-0.75zM323.8 308.4h0.75v0.75h-0.75zM328.4 306.3h0.75v0.75h-0.75zM326.3 301.6h0.75v0.75h-0.75zM323.9 310.8h0.75v0.75h-0.75zM322.3 313.4h0.75v0.75h-0.75zM311.6 314.5h0.75v0.75h-0.75zM322.4 326.3h0.75v0.75h-0.75zM315.0 302.4h0.75v0.75h-0.75zM317.9 320.3h0.75v0.75h-0.75zM319.0 313.5h0.75v0.75h-0.75zM326.2 327.7h0.75v0.75h-0.75zM325.6 308.6h0.75v0.75h-0.75zM322.4 317.9h0.75v0.75h-0.75zM315.2 332.8h0.75v0.75h-0.75zM322.5 315.0h0.75v0.75h-0.75zM328.9 324.2h0.75v0.75h-0.75zM326.2 330.1h0.75v0.75h-0.75zM325.5 305.4h0.75v0.75h-0.75zM320.2 331.3h0.75v0.75h-0.75zM318.4 322.5h0.75v0.75h-0.75zM324.0 333.7h0.75v0.75h-0.75zM328.3 325.8h0.75v0.75h-0.75zM321.2 329.9h0.75v0.75h-0.75zM324.6 317.1h0.75v0.75h-0.75zM328.6 321.6h0.75v0.75h-0.75zM318.4 335.0h0.75v0.75h-0.75zM320.8 326.8h0.75v0.75h-0.75zM314.7 323.9h0.75v0.75h-0.75zM317.5 312.7h0.75v0.75h-0.75zM312.9 346.9h0.75v0.75h-0.75zM321.3 322.9h0.75v0.75h-0.75zM327.4 315.9h0.75v0.75h-0.75zM324.5 304.9h0.75v0.75h-0.75zM323.0 315.3h0.75v0.75h-0.75zM324.4 320.6h0.75v0.75h-0.75zM315.4 304.9h0.75v0.75h-0.75zM317.2 330.2h0.75v0.75h-0.75zM324.1 323.0h0.75v0.75h-0.75zM312.3 298.0h0.75v0.75h-0.75zM319.0 318.3h0.75v0.75h-0.75zM319.1 325.2h0.75v0.75h-0.75zM321.2 308.4h0.75v0.75h-0.75zM317.8 323.8h0.75v0.75h-0.75zM322.4 319.1h0.75v0.75h-0.75zM332.9 311.4h0.75v0.75h-0.75zM322.6 309.6h0.75v0.75h-0.75zM320.3 326.3h0.75v0.75h-0.75zM324.7 316.9h0.75v0.75h-0.75zM323.9 319.5h0.75v0.75h-0.75zM313.0 291.6h0.75v0.75h-0.75zM333.1 322.4h0.75v0.75h-0.75zM321.7 302.5h0.75v0.75h-0.75zM315.9 337.1h0.75v0.75h-0.75zM308.6 324.0h0.75v0.75h-0.75zM326.2 319.2h0.75v0.75h-0.75zM325.6 316.7h0.75v0.75h-0.75zM333.5 303.3h0.75v0.75h-0.75zM315.5 326.4h0.75v0.75h-0.75zM328.9 315.7h0.75v0.75h-0.75zM327.0 311.8h0.75v0.75h-0.75zM316.3 337.3h0.75v0.75h-0.75zM329.5 331.5h0.75v0.75h-0.75zM319.9 309.4h0.75v0.75h-0.75zM316.4 320.8h0.75v0.75h-0.75zM324.8 323.6h0.75v0.75h-0.75zM315.1 325.7h0.75v0.75h-0.75zM322.1 320.9h0.75v0.75h-0.75zM321.9 318.0h0.75v0.75h-0.75zM324.8 319.7h0.75v0.75h-0.75zM323.1 312.4h0.75v0.75h-0.75zM323.9 317.7h0.75v0.75h-0.75zM311.8 330.5h0.75v0.75h-0.75zM320.7 330.1h0.75v0.75h-0.75zM321.2 319.5h0.75v0.75h-0.75zM323.0 319.3h0.75v0.75h-0.75zM319.9 302.9h0.75v0.75h-0.75zM330.8 299.1h0.75v0.75h-0.75zM320.4 327.5h0.75v0.75h-0.75zM323.8 324.8h0.75v0.75h-0.75zM325.7 330.8h0.75v0.75h-0.75zM323.4 348.8h0.75v0.75h-0.75zM317.1 325.0h0.75v0.75h-0.75zM320.3 315.4h0.75v0.75h-0.75zM323.4 334.1h0.75v0.75h-0.75zM318.6 314.6h0.75v0.75h-0.75zM325.5 323.6h0.75v0.75h-0.75zM331.4 325.3h0.75v0.75h-0.75zM323.1 316.0h0.75v0.75h-0.75zM323.0 317.7h0.75v0.75h-0.75zM315.4 323.7h0.75v0.75h-0.75zM321.2 318.1h0.75v0.75h-0.75zM319.9 338.3h0.75v0.75h-0.75zM325.3 327.7h0.75v0.75h-0.75zM319.1 311.2h0.75v0.75h-0.75zM320.6 323.2h0.75v0.75h-0.75zM320.3 319.0h0.75v0.75h-0.75zM326.6 320.5h0.75v0.75h-0.75zM317.3 318.2h0.75v0.75h-0.75zM318.8 323.6h0.75v0.75h-0.75zM316.4 321.2h0.75v0.75h-0.75zM325.3 318.5h0.75v0.75h-0.75zM317.6 316.1h0.75v0.75h-0.75zM322.6 324.6h0.75v0.75h-0.75zM326.0 316.3h0.75v0.75h-0.75zM315.7 337.9h0.75v0.75h-0.75zM323.4 323.3h0.75v0.75h-0.75zM323.5 308.7h0.75v0.75h-0.75zM320.5 323.5h0.75v0.75h-0.75zM327.0 317.9h0.75v0.75h-0.75zM307.0 325.7h0.75v0.75h-0.75zM323.7 332.2h0.75v0.75h-0.75zM325.4 343.4h0.75v0.75h-0.75zM328.8 330.0h0.75v0.75h-0.75zM326.5 303.5h0.75v0.75h-0.75zM326.1 323.9h0.75v0.75h-0.75zM319.5 327.3h0.75v0.75h-0.75zM324.0 314.2h0.75v0.75h-0.75zM321.4 317.6h0.75v0.75h-0.75zM323.1 315.1h0.75v0.75h-0.75zM324.6 299.1h0.75v0.75h-0.75zM320.6 303.6h0.75v0.75h-0.75zM319.7 326.5h0.75v0.75h-0.75zM322.1 318.8h0.75v0.75h-0.75zM322.3 335.8h0.75v0.75h-0.75zM316.7 331.9h0.75v0.75h-0.75zM314.7 319.2h0.75v0.75h-0.75zM322.8 310.9h0.75v0.75h-0.75zM323.0 326.9h0.75v0.75h-0.75zM316.3 322.3h0.75v0.75h-0.75zM320.2 301.3h0.75v0.75h-0.75zM321.1 312.4h0.75v0.75h-0.75zM328.4 307.6h0.75v0.75h-0.75zM330.2 310.1h0.75v0.75h-0.75zM331.3 320.4h0.75v0.75h-0.75zM324.2 327.0h0.75v0.75h-0.75zM326.3 331.9h0.75v0.75h-0.75zM330.3 311.9h0.75v0.75h-0.75zM316.0 296.1h0.75v0.75h-0.75zM320.1 328.7h0.75v0.75h-0.75zM323.8 320.2h0.75v0.75h-0.75zM320.3 314.4h0.75v0.75h-0.75zM320.6 324.7h0.75v0.75h-0.75zM313.5 332.0h0.75v0.75h-0.75zM315.0 322.2h0.75v0.75h-0.75zM319.0 317.9h0.75v0.75h-0.75zM317.0 311.0h0.75v0.75h-0.75zM320.9 309.6h0.75v0.75h-0.75zM333.8 309.3h0.75v0.75h-0.75zM318.8 316.1h0.75v0.75h-0.75zM316.8 297.8h0.75v0.75h-0.75zM320.7 323.8h0.75v0.75h-0.75zM314.7 324.0h0.75v0.75h-0.75zM316.2 322.8h0.75v0.75h-0.75zM323.7 323.9h0.75v0.75h-0.75zM324.1 311.6h0.75v0.75h-0.75zM326.2 313.1h0.75v0.75h-0.75zM323.6 326.2h0.75v0.75h-0.75zM320.5 307.7h0.75v0.75h-0.75zM324.9 307.0h0.75v0.75h-0.75zM317.7 311.1h0.75v0.75h-0.75zM326.0 316.1h0.75v0.75h-0.75zM311.2 333.3h0.75v0.75h-0.75zM331.9 332.8h0.75v0.75h-0.75zM319.2 322.2h0.75v0.75h-0.75zM324.4 327.7h0.75v0.75h-0.75zM322.1 308.7h0.75v0.75h-0.75zM325.6 324.2h0.75v0.75h-0.75zM315.6 319.7h0.75v0.75h-0.75zM323.2 319.2h0.75v0.75h-0.75zM324.5 326.6h0.75v0.75h-0.75zM324.5 317.3h0.75v0.75h-0.75zM315.5 329.7h0.75v0.75h-0.75zM328.7 336.3h0.75v0.75h-0.75zM321.8 319.6h0.75v0.75h-0.75zM328.9 330.7h0.75v0.75h-0.75zM323.6 326.3h0.75v0.75h-0.75zM318.3 327.8h0.75v0.75h-0.75zM318.0 320.6h0.75v0.75h-0.75zM321.3 315.5h0.75v0.75h-0.75zM311.8 317.0h0.75v0.75h-0.75zM323.5 318.4h0.75v0.75h-0.75zM320.0 325.3h0.75v0.75h-0.75zM325.2 326.7h0.75v0.75h-0.75zM318.1 322.2h0.75v0.75h-0.75zM320.3 311.8h0.75v0.75h-0.75zM314.7 322.8h0.75v0.75h-0.75zM317.7 344.1h0.75v0.75h-0.75zM321.4 317.9h0.75v0.75h-0.75zM320.0 340.0h0.75v0.75h-0.75zM317.4 320.7h0.75v0.75h-0.75zM318.2 320.6h0.75v0.75h-0.75zM321.7 331.1h0.75v0.75h-0.75zM315.1 323.4h0.75v0.75h-0.75zM329.7 310.4h0.75v0.75h-0.75zM321.1 311.3h0.75v0.75h-0.75zM309.4 325.7h0.75v0.75h-0.75zM327.6 312.0h0.75v0.75h-0.75zM313.1 327.4h0.75v0.75h-0.75zM322.3 329.8h0.75v0.75h-0.75zM326.3 314.7h0.75v0.75h-0.75zM323.8 300.5h0.75v0.75h-0.75zM327.3 318.8h0.75v0.75h-0.75zM327.1 327.8h0.75v0.75h-0.75zM320.5 319.1h0.75v0.75h-0.75zM317.7 301.2h0.75v0.75h-0.75zM321.3 321.8h0.75v0.75h-0.75zM316.7 330.0h0.75v0.75h-0.75zM322.4 324.2h0.75v0.75h-0.75zM318.2 304.0h0.75v0.75h-0.75zM325.7 324.0h0.75v0.75h-0.75zM321.4 315.9h0.75v0.75h-0.75zM320.6 319.2h0.75v0.75h-0.75zM319.5 300.8h0.75v0.75h-0.75zM325.7 302.6h0.75v0.75h-0.75zM320.3 317.6h0.75v0.75h-0.75zM323.2 302.8h0.75v0.75h-0.75zM327.7 323.4h0.75v0.75h-0.75zM325.6 330.8h0.75v0.75h-0.75zM318.1 290.1h0.75v0.75h-0.75zM323.5 332.4h0.75v0.75h-0.75zM327.5 311.4h0.75v0.75h-0.75zM321.5 323.1h0.75v0.75h-0.75zM313.3 317.9h0.75v0.75h-0.75zM318.9 337.7h0.75v0.75h-0.75zM318.8 337.6h0.75v0.75h-0.75zM322.0 302.9h0.75v0.75h-0.75zM332.6 304.3h0.75v0.75h-0.75zM325.0 335.7h0.75v0.75h-0.75zM319.4 308.9h0.75v0.75h-0.75zM327.0 317.9h0.75v0.75h-0.75zM316.1 312.2h0.75v0.75h-0.75zM320.1 330.8h0.75v0.75h-0.75zM320.6 327.4h0.75v0.75h-0.75zM329.9 328.6h0.75v0.75h-0.75zM328.9 328.8h0.75v0.75h-0.75zM314.3 336.7h0.75v0.75h-0.75zM323.6 317.9h0.75v0.75h-0.75zM316.8 306.7h0.75v0.75h-0.75zM316.7 322.7h0.75v0.75h-0.75zM316.4 314.8h0.75v0.75h-0.75zM319.0 328.4h0.75v0.75h-0.75zM320.6 319.3h0.75v0.75h-0.75zM328.4 313.3h0.75v0.75h-0.75zM324.9 307.7h0.75v0.75h-0.75zM323.6 320.4h0.75v0.75h-0.75zM322.8 314.8h0.75v0.75h-0.75zM317.1 319.7h0.75v0.75h-0.75zM319.8 331.7h0.75v0.75h-0.75zM326.4 305.4h0.75v0.75h-0.75zM325.0 313.5h0.75v0.75h-0.75zM324.2 313.9h0.75v0.75h-0.75zM314.9 334.2h0.75v0.75h-0.75zM324.2 306.4h0.75v0.75h-0.75zM312.9 319.5h0.75v0.75h-0.75zM316.3 319.4h0.75v0.75h-0.75zM325.0 333.3h0.75v0.75h-0.75zM320.3 334.9h0.75v0.75h-0.75zM327.6 312.5h0.75v0.75h-0.75zM314.0 333.1h0.75v0.75h-0.75zM324.9 342.3h0.75v0.75h-0.75zM328.9 324.2h0.75v0.75h-0.75zM330.1 304.9h0.75v0.75h-0.75zM322.9 316.7h0.75v0.75h-0.75zM330.4 321.2h0.75v0.75h-0.75zM307.3 342.0h0.75v0.75h-0.75zM317.7 330.3h0.75v0.75h-0.75zM319.7 323.8h0.75v0.75h-0.75zM325.1 320.4h0.75v0.75h-0.75zM317.5 336.8h0.75v0.75h-0.75zM324.0 318.9h0.75v0.75h-0.75zM325.5 312.8h0.75v0.75h-0.75zM331.1 317.5h0.75v0.75h-0.75zM323.8 322.7h0.75v0.75h-0.75zM317.7 310.6h0.75v0.75h-0.75zM323.1 323.2h0.75v0.75h-0.75zM328.5 321.2h0.75v0.75h-0.75zM316.9 328.4h0.75v0.75h-0.75zM326.1 328.2h0.75v0.75h-0.75zM323.7 306.9h0.75v0.75h-0.75zM327.7 309.7h0.75v0.75h-0.75zM324.8 302.6h0.75v0.75h-0.75zM325.8 310.2h0.75v0.75h-0.75zM327.3 335.2h0.75v0.75h-0.75zM327.7 305.2h0.75v0.75h-0.75zM317.6 313.8h0.75v0.75h-0.75zM325.3 321.9h0.75v0.75h-0.75zM322.8 322.9h0.75v0.75h-0.75zM324.9 325.2h0.75v0.75h-0.75zM330.2 315.1h0.75v0.75h-0.75zM323.1 300.7h0.75v0.75h-0.75zM315.7 316.5h0.75v0.75h-0.75zM316.4 325.4h0.75v0.75h-0.75zM327.1 312.9h0.75v0.75h-0.75zM319.7 316.1h0.75v0.75h-0.75zM322.7 314.2h0.75v0.75h-0.75zM324.1 322.0h0.75v0.75h-0.75zM323.7 326.9h0.75v0.75h-0.75zM322.2 321.4h0.75v0.75h-0.75zM330.5 314.9h0.75v0.75h-0.75zM325.8 318.5h0.75v0.75h-0.75zM319.8 316.6h0.75v0.75h-0.75zM318.1 322.3h0.75v0.75h-0.75zM319.1 317.3h0.75v0.75h-0.75zM327.8 315.4h0.75v0.75h-0.75zM327.5 319.7h0.75v0.75h-0.75zM326.1 311.5h0.75v0.75h-0.75zM322.7 346.4h0.75v0.75h-0.75zM326.0 328.0h0.75v0.75h-0.75zM323.1 328.1h0.75v0.75h-0.75zM316.4 314.4h0.75v0.75h-0.75zM324.0 327.2h0.75v0.75h-0.75zM320.0 319.1h0.75v0.75h-0.75zM320.2 319.0h0.75v0.75h-0.75zM316.2 308.5h0.75v0.75h-0.75zM321.6 302.5h0.75v0.75h-0.75zM317.3 315.8h0.75v0.75h-0.75zM316.9 325.1h0.75v0.75h-0.75zM319.8 320.2h0.75v0.75h-0.75zM317.1 315.0h0.75v0.75h-0.75zM324.4 322.2h0.75v0.75h-0.75zM319.7 324.7h0.75v0.75h-0.75zM322.8 320.9h0.75v0.75h-0.75zM329.5 311.5h0.75v0.75h-0.75zM323.9 323.0h0.75v0.75h-0.75zM320.7 308.5h0.75v0.75h-0.75zM325.2 320.6h0.75v0.75h-0.75zM322.1 319.9h0.75v0.75h-0.75zM321.9 310.6h0.75v0.75h-0.75zM323.2 300.6h0.75v0.75h-0.75zM321.7 304.5h0.75v0.75h-0.75zM320.1 327.9h0.75v0.75h-0.75zM320.5 315.5h0.75v0.75h-0.75zM324.2 315.6h0.75v0.75h-0.75zM319.8 316.7h0.75v0.75h-0.75zM329.0 322.4h0.75v0.75h-0.75zM324.1 306.2h0.75v0.75h-0.75zM324.7 304.8h0.75v0.75h-0.75zM324.0 307.0h0.75v0.75h-0.75zM331.1 297.3h0.75v0.75h-0.75zM327.6 324.5h0.75v0.75h-0.75zM313.2 321.8h0.75v0.75h-0.75zM328.6 327.3h0.75v0.75h-0.75zM313.7 318.6h0.75v0.75h-0.75zM316.1 312.2h0.75v0.75h-0.75zM318.6 339.9h0.75v0.75h-0.75zM322.3 316.9h0.75v0.75h-0.75zM320.1 327.2h0.75v0.75h-0.75zM325.0 308.4h0.75v0.75h-0.75zM328.7 304.7h0.75v0.75h-0.75zM320.4 324.8h0.75v0.75h-0.75zM329.9 311.5h0.75v0.75h-0.75zM323.1 332.0h0.75v0.75h-0.75zM324.7 329.3h0.75v0.75h-0.75zM326.7 319.4h0.75v0.75h-0.75zM324.7 327.2h0.75v0.75h-0.75zM321.6 335.8h0.75v0.75h-0.75zM312.2 315.4h0.75v0.75h-0.75zM328.6 320.1h0.75v0.75h-0.75zM318.6 325.0h0.75v0.75h-0.75zM326.9 311.0h0.75v0.75h-0.75zM325.4 316.3h0.75v0.75h-0.75zM321.1 319.1h0.75v0.75h-0.75zM327.0 305.2h0.75v0.75h-0.75zM319.9 327.2h0.75v0.75h-0.75zM315.8 306.6h0.75v0.75h-0.75zM324.4 318.0h0.75v0.75h-0.75zM321.0 321.4h0.75v0.75h-0.75zM317.0 351.7h0.75v0.75h-0.75zM317.0 317.7h0.75v0.75h-0.75zM314.9 319.0h0.75v0.75h-0.75zM329.0 315.7h0.75v0.75h-0.75zM324.6 313.0h0.75v0.75h-0.75zM330.4 316.4h0.75v0.75h-0.75zM315.7 330.6h0.75v0.75h-0.75zM319.9 326.7h0.75v0.75h-0.75zM322.4 321.8h0.75v0.75h-0.75zM322.4 310.0h0.75v0.75h-0.75zM314.5 333.4h0.75v0.75h-0.75zM321.0 322.8h0.75v0.75h-0.75zM319.5 300.2h0.75v0.75h-0.75zM315.6 337.1h0.75v0.75h-0.75zM317.9 317.7h0.75v0.75h-0.75zM314.6 318.0h0.75v0.75h-0.75zM319.9 318.2h0.75v0.75h-0.75zM321.3 313.3h0.75v0.75h-0.75zM318.9 320.9h0.75v0.75h-0.75zM323.2 317.2h0.75v0.75h-0.75zM330.0 317.0h0.75v0.75h-0.75zM322.4 312.4h0.75v0.75h-0.75zM326.6 306.4h0.75v0.75h-0.75zM313.9 313.8h0.75v0.75h-0.75zM324.6 306.2h0.75v0.75h-0.75zM327.9 315.8h0.75v0.75h-0.75zM314.4 321.1h0.75v0.75h-0.75zM330.2 306.0h0.75v0.75h-0.75zM315.4 328.1h0.75v0.75h-0.75zM327.9 326.4h0.75v0.75h-0.75zM320.1 322.2h0.75v0.75h-0.75zM323.2 330.5h0.75v0.75h-0.75zM332.0 312.7h0.75v0.75h-0.75zM327.9 312.6h0.75v0.75h-0.75zM324.5 308.4h0.75v0.75h-0.75zM318.0 325.7h0.75v0.75h-0.75zM317.4 330.8h0.75v0.75h-0.75zM319.0 321.7h0.75v0.75h-0.75zM321.3 316.3h0.75v0.75h-0.75zM322.3 330.1h0.75v0.75h-0.75zM336.6 299.2h0.75v0.75h-0.75zM323.1 316.9h0.75v0.75h-0.75zM317.3 324.8h0.75v0.75h-0.75zM317.4 321.0h0.75v0.75h-0.75zM327.6 295.7h0.75v0.75h-0.75zM322.8 323.4h0.75v0.75h-0.75zM317.1 327.3h0.75v0.75h-0.75zM323.3 315.0h0.75v0.75h-0.75zM327.5 303.0h0.75v0.75h-0.75zM324.7 315.4h0.75v0.75h-0.75zM316.6 320.4h0.75v0.75h-0.75zM320.0 328.7h0.75v0.75h-0.75zM314.5 321.4h0.75v0.75h-0.75zM319.5 336.6h0.75v0.75h-0.75zM316.3 333.2h0.75v0.75h-0.75zM313.2 327.6h0.75v0.75h-0.75zM321.0 323.6h0.75v0.75h-0.75zM318.3 301.4h0.75v0.75h-0.75zM314.2 336.8h0.75v0.75h-0.75zM322.6 310.0h0.75v0.75h-0.75zM325.9 309.4h0.75v0.75h-0.75zM318.1 309.0h0.75v0.75h-0.75zM327.2 336.2h0.75v0.75h-0.75zM317.0 324.8h0.75v0.75h-0.75zM326.3 338.3h0.75v0.75h-0.75zM310.1 327.1h0.75v0.75h-0.75zM324.7 302.6h0.75v0.75h-0.75zM323.5 320.2h0.75v0.75h-0.75zM325.0 311.5h0.75v0.75h-0.75zM323.6 312.0h0.75v0.75h-0.75zM324.5 319.3h0.75v0.75h-0.75zM319.7 305.9h0.75v0.75h-0.75zM329.5 326.2h0.75v0.75h-0.75zM325.8 310.2h0.75v0.75h-0.75zM319.9 337.2h0.75v0.75h-0.75zM325.1 308.7h0.75v0.75h-0.75zM321.8 320.6h0.75v0.75h-0.75zM320.6 310.2h0.75v0.75h-0.75zM327.6 322.0h0.75v0.75h-0.75zM320.6 303.8h0.75v0.75h-0.75zM318.8 320.8h0.75v0.75h-0.75zM325.7 313.3h0.75v0.75h-0.75zM326.9 317.9h0.75v0.75h-0.75zM318.0 292.9h0.75v0.75h-0.75zM316.0 307.3h0.75v0.75h-0.75zM320.9 323.2h0.75v0.75h-0.75zM328.3 315.6h0.75v0.75h-0.75zM316.1 346.4h0.75v0.75h-0.75zM323.1 315.9h0.75v0.75h-0.75zM320.4 306.4h0.75v0.75h-0.75zM324.7 321.6h0.75v0.75h-0.75zM329.3 326.5h0.75v0.75h-0.75zM325.8 330.0h0.75v0.75h-0.75zM320.3 315.7h0.75v0.75h-0.75zM321.4 307.0h0.75v0.75h-0.75zM321.0 316.5h0.75v0.75h-0.75zM324.9 317.6h0.75v0.75h-0.75zM312.5 324.9h0.75v0.75h-0.75zM328.5 297.2h0.75v0.75h-0.75zM318.1 321.7h0.75v0.75h-0.75zM315.4 317.5h0.75v0.75h-0.75zM322.0 306.0h0.75v0.75h-0.75zM323.2 323.0h0.75v0.75h-0.75zM315.7 323.2h0.75v0.75h-0.75zM326.9 315.0h0.75v0.75h-0.75zM323.9 325.0h0.75v0.75h-0.75zM320.7 330.3h0.75v0.75h-0.75zM323.6 308.6h0.75v0.75h-0.75zM324.3 327.1h0.75v0.75h-0.75zM325.7 311.0h0.75v0.75h-0.75zM324.0 332.5h0.75v0.75h-0.75zM322.9 331.2h0.75v0.75h-0.75zM328.1 316.0h0.75v0.75h-0.75zM325.0 315.1h0.75v0.75h-0.75zM327.0 316.1h0.75v0.75h-0.75zM319.2 321.0h0.75v0.75h-0.75zM321.5 323.9h0.75v0.75h-0.75zM324.1 306.7h0.75v0.75h-0.75zM318.8 325.2h0.75v0.75h-0.75zM324.2 319.4h0.75v0.75h-0.75zM334.5 324.3h0.75v0.75h-0.75zM321.5 327.5h0.75v0.75h-0.75zM328.3 320.1h0.75v0.75h-0.75zM313.6 325.5h0.75v0.75h-0.75zM322.2 341.5h0.75v0.75h-0.75zM313.1 340.5h0.75v0.75h-0.75zM321.2 329.9h0.75v0.75h-0.75zM320.6 322.6h0.75v0.75h-0.75zM327.4 317.9h0.75v0.75h-0.75zM327.1 316.4h0.75v0.75h-0.75zM320.1 318.9h0.75v0.75h-0.75zM319.6 320.2h0.75v0.75h-0.75zM328.6 304.6h0.75v0.75h-0.75zM314.1 324.3h0.75v0.75h-0.75zM330.1 326.3h0.75v0.75h-0.75zM328.4 329.4h0.75v0.75h-0.75zM318.6 323.2h0.75v0.75h-0.75zM309.3 320.9h0.75v0.75h-0.75zM325.0 302.7h0.75v0.75h-0.75zM312.2 312.4h0.75v0.75h-0.75zM323.2 331.5h0.75v0.75h-0.75zM334.5 328.0h0.75v0.75h-0.75zM314.9 300.6h0.75v0.75h-0.75zM322.9 330.6h0.75v0.75h-0.75zM314.4 319.2h0.75v0.75h-0.75zM320.0 321.9h0.75v0.75h-0.75zM321.4 326.1h0.75v0.75h-0.75zM327.3 318.3h0.75v0.75h-0.75zM325.9 338.7h0.75v0.75h-0.75zM317.4 312.5h0.75v0.75h-0.75zM324.7 338.0h0.75v0.75h-0.75zM323.1 331.2h0.75v0.75h-0.75zM320.8 330.6h0.75v0.75h-0.75zM319.3 329.1h0.75v0.75h-0.75zM324.3 323.6h0.75v0.75h-0.75zM329.0 327.9h0.75v0.75h-0.75zM319.5 331.2h0.75v0.75h-0.75zM314.3 335.2h0.75v0.75h-0.75zM335.6 318.9h0.75v0.75h-0.75zM324.9 320.1h0.75v0.75h-0.75zM326.5 314.0h0.75v0.75h-0.75zM325.7 316.3h0.75v0.75h-0.75zM320.5 323.2h0.75v0.75h-0.75zM322.3 303.4h0.75v0.75h-0.75zM332.5 316.9h0.75v0.75h-0.75zM314.4 336.3h0.75v0.75h-0.75zM322.5 323.1h0.75v0.75h-0.75zM326.0 310.0h0.75v0.75h-0.75zM308.5 327.7h0.75v0.75h-0.75zM323.8 330.5h0.75v0.75h-0.75zM319.0 320.2h0.75v0.75h-0.75zM324.5 316.7h0.75v0.75h-0.75zM321.4 324.2h0.75v0.75h-0.75zM317.8 339.7h0.75v0.75h-0.75zM318.2 323.7h0.75v0.75h-0.75zM321.0 314.6h0.75v0.75h-0.75zM325.2 329.8h0.75v0.75h-0.75zM329.6 323.0h0.75v0.75h-0.75zM320.4 330.9h0.75v0.75h-0.75zM315.7 325.2h0.75v0.75h-0.75zM325.1 325.3h0.75v0.75h-0.75zM317.0 308.7h0.75v0.75h-0.75zM330.5 311.3h0.75v0.75h-0.75zM314.6 312.5h0.75v0.75h-0.75zM322.6 332.8h0.75v0.75h-0.75zM322.5 333.0h0.75v0.75h-0.75zM323.6 325.0h0.75v0.75h-0.75zM327.2 314.3h0.75v0.75h-0.75zM323.9 316.0h0.75v0.75h-0.75zM319.4 329.0h0.75v0.75h-0.75zM318.5 323.6h0.75v0.75h-0.75zM318.6 321.8h0.75v0.75h-0.75zM319.9 333.1h0.75v0.75h-0.75zM322.8 321.2h0.75v0.75h-0.75zM330.3 286.8h0.75v0.75h-0.75zM317.0 295.5h0.75v0.75h-0.75zM322.3 324.9h0.75v0.75h-0.75zM325.4 321.4h0.75v0.75h-0.75zM318.1 340.5h0.75v0.75h-0.75zM323.7 316.9h0.75v0.75h-0.75zM316.8 327.5h0.75v0.75h-0.75zM319.8 317.0h0.75v0.75h-0.75zM323.2 321.9h0.75v0.75h-0.75zM318.2 335.1h0.75v0.75h-0.75zM317.3 311.5h0.75v0.75h-0.75zM323.6 320.7h0.75v0.75h-0.75zM322.5 315.8h0.75v0.75h-0.75zM322.3 314.3h0.75v0.75h-0.75zM314.2 332.0h0.75v0.75h-0.75zM317.2 320.5h0.75v0.75h-0.75zM325.6 318.5h0.75v0.75h-0.75zM335.3 298.7h0.75v0.75h-0.75zM318.5 323.0h0.75v0.75h-0.75zM328.6 314.0h0.75v0.75h-0.75zM315.2 335.5h0.75v0.75h-0.75zM317.7 320.5h0.75v0.75h-0.75zM326.3 311.0h0.75v0.75h-0.75zM319.9 326.2h0.75v0.75h-0.75zM321.1 323.5h0.75v0.75h-0.75zM317.5 321.3h0.75v0.75h-0.75zM316.8 307.1h0.75v0.75h-0.75zM330.5 320.1h0.75v0.75h-0.75zM326.4 307.8h0.75v0.75h-0.75zM321.9 318.0h0.75v0.75h-0.75zM315.2 329.3h0.75v0.75h-0.75zM318.6 319.9h0.75v0.75h-0.75zM314.7 334.1h0.75v0.75h-0.75zM325.7 322.0h0.75v0.75h-0.75zM317.7 316.9h0.75v0.75h-0.75zM327.9 314.0h0.75v0.75h-0.75zM323.3 320.8h0.75v0.75h-0.75zM316.7 338.5h0.75v0.75h-0.75zM312.5 327.5h0.75v0.75h-0.75zM321.6 303.8h0.75v0.75h-0.75zM323.6 324.4h0.75v0.75h-0.75zM322.3 311.5h0.75v0.75h-0.75zM324.2 330.2h0.75v0.75h-0.75zM323.1 337.0h0.75v0.75h-0.75zM326.1 325.6h0.75v0.75h-0.75zM328.7 309.7h0.75v0.75h-0.75zM319.5 326.6h0.75v0.75h-0.75zM324.5 334.0h0.75v0.75h-0.75zM327.5 318.8h0.75v0.75h-0.75zM323.1 316.7h0.75v0.75h-0.75zM320.3 316.4h0.75v0.75h-0.75zM326.4 312.9h0.75v0.75h-0.75zM320.4 322.7h0.75v0.75h-0.75zM319.6 319.2h0.75v0.75h-0.75zM311.6 329.7h0.75v0.75h-0.75zM320.6 322.9h0.75v0.75h-0.75zM323.9 300.4h0.75v0.75h-0.75zM333.7 315.7h0.75v0.75h-0.75zM323.1 301.9h0.75v0.75h-0.75zM325.3 323.2h0.75v0.75h-0.75zM320.7 324.2h0.75v0.75h-0.75zM328.7 314.1h0.75v0.75h-0.75zM318.2 336.9h0.75v0.75h-0.75zM323.9 318.6h0.75v0.75h-0.75zM333.7 316.7h0.75v0.75h-0.75zM321.9 324.3h0.75v0.75h-0.75zM320.8 324.3h0.75v0.75h-0.75zM323.4 314.0h0.75v0.75h-0.75zM321.4 324.9h0.75v0.75h-0.75zM324.5 326.0h0.75v0.75h-0.75zM326.4 321.5h0.75v0.75h-0.75zM325.1 315.8h0.75v0.75h-0.75zM321.4 332.2h0.75v0.75h-0.75zM313.1 329.9h0.75v0.75h-0.75zM337.8 293.8h0.75v0.75h-0.75zM329.7 299.0h0.75v0.75h-0.75zM324.2 336.3h0.75v0.75h-0.75zM329.6 307.5h0.75v0.75h-0.75zM316.1 309.4h0.75v0.75h-0.75zM325.8 314.6h0.75v0.75h-0.75zM322.3 323.1h0.75v0.75h-0.75zM324.3 324.8h0.75v0.75h-0.75zM322.9 303.7h0.75v0.75h-0.75zM329.2 288.6h0.75v0.75h-0.75zM328.2 311.0h0.75v0.75h-0.75zM321.3 315.5h0.75v0.75h-0.75zM320.4 321.1h0.75v0.75h-0.75zM320.9 309.9h0.75v0.75h-0.75zM326.3 312.2h0.75v0.75h-0.75zM328.6 315.2h0.75v0.75h-0.75zM318.8 326.6h0.75v0.75h-0.75zM326.4 308.6h0.75v0.75h-0.75zM320.8 335.5h0.75v0.75h-0.75zM317.4 314.3h0.75v0.75h-0.75zM323.0 307.5h0.75v0.75h-0.75zM310.3 309.8h0.75v0.75h-0.75zM324.0 326.0h0.75v0.75h-0.75zM325.0 322.7h0.75v0.75h-0.75zM316.3 330.4h0.75v0.75h-0.75zM327.7 310.2h0.75v0.75h-0.75zM326.7 314.1h0.75v0.75h-0.75zM323.1 323.5h0.75v0.75h-0.75zM315.1 339.1h0.75v0.75h-0.75zM318.1 321.5h0.75v0.75h-0.75zM319.8 326.3h0.75v0.75h-0.75zM324.3 319.4h0.75v0.75h-0.75zM329.0 319.5h0.75v0.75h-0.75zM320.3 292.1h0.75v0.75h-0.75zM320.8 318.1h0.75v0.75h-0.75zM318.0 313.8h0.75v0.75h-0.75zM325.0 329.4h0.75v0.75h-0.75zM331.3 327.0h0.75v0.75h-0.75zM318.8 324.8h0.75v0.75h-0.75zM315.7 331.3h0.75v0.75h-0.75zM323.9 313.2h0.75v0.75h-0.75zM321.7 318.0h0.75v0.75h-0.75zM319.1 335.4h0.75v0.75h-0.75zM337.1 320.5h0.75v0.75h-0.75zM327.3 319.2h0.75v0.75h-0.75zM320.5 343.6h0.75v0.75h-0.75zM320.4 325.3h0.75v0.75h-0.75zM321.6 326.6h0.75v0.75h-0.75zM322.0 326.5h0.75v0.75h-0.75zM316.1 322.6h0.75v0.75h-0.75zM328.8 306.2h0.75v0.75h-0.75zM319.0 336.0h0.75v0.75h-0.75zM324.1 330.1h0.75v0.75h-0.75zM311.5 327.7h0.75v0.75h-0.75zM316.1 309.5h0.75v0.75h-0.75zM324.2 331.3h0.75v0.75h-0.75zM315.0 313.0h0.75v0.75h-0.75zM319.4 320.5h0.75v0.75h-0.75zM315.8 346.8h0.75v0.75h-0.75zM325.0 315.1h0.75v0.75h-0.75zM319.7 345.3h0.75v0.75h-0.75zM333.0 309.4h0.75v0.75h-0.75zM323.8 332.2h0.75v0.75h-0.75zM316.5 317.4h0.75v0.75h-0.75zM328.7 309.6h0.75v0.75h-0.75zM320.1 307.6h0.75v0.75h-0.75zM318.5 329.2h0.75v0.75h-0.75zM318.2 309.0h0.75v0.75h-0.75zM319.1 339.9h0.75v0.75h-0.75zM323.0 314.0h0.75v0.75h-0.75zM322.8 324.3h0.75v0.75h-0.75zM322.7 301.3h0.75v0.75h-0.75zM323.5 317.1h0.75v0.75h-0.75zM326.1 304.0h0.75v0.75h-0.75zM327.1 312.2h0.75v0.75h-0.75zM313.8 338.2h0.75v0.75h-0.75zM319.6 325.2h0.75v0.75h-0.75zM321.3 331.7h0.75v0.75h-0.75zM327.4 328.5h0.75v0.75h-0.75zM325.5 301.6h0.75v0.75h-0.75zM313.9 326.5h0.75v0.75h-0.75zM317.4 327.3h0.75v0.75h-0.75zM322.8 305.1h0.75v0.75h-0.75zM317.0 311.1h0.75v0.75h-0.75zM317.7 320.2h0.75v0.75h-0.75zM325.3 331.9h0.75v0.75h-0.75zM317.3 316.8h0.75v0.75h-0.75zM329.5 325.0h0.75v0.75h-0.75zM323.1 295.3h0.75v0.75h-0.75zM317.1 324.3h0.75v0.75h-0.75zM319.1 342.0h0.75v0.75h-0.75zM322.4 322.6h0.75v0.75h-0.75zM316.7 312.2h0.75v0.75h-0.75zM318.8 315.3h0.75v0.75h-0.75zM320.9 324.4h0.75v0.75h-0.75zM323.1 329.6h0.75v0.75h-0.75zM315.4 325.7h0.75v0.75h-0.75zM323.1 335.6h0.75v0.75h-0.75zM320.9 323.9h0.75v0.75h-0.75zM318.0 326.5h0.75v0.75h-0.75zM323.9 312.5h0.75v0.75h-0.75zM319.9 320.8h0.75v0.75h-0.75zM324.8 306.6h0.75v0.75h-0.75zM326.3 314.2h0.75v0.75h-0.75zM331.2 329.9h0.75v0.75h-0.75zM320.0 314.6h0.75v0.75h-0.75zM333.9 319.9h0.75v0.75h-0.75zM324.7 314.1h0.75v0.75h-0.75zM321.4 328.6h0.75v0.75h-0.75zM325.0 309.8h0.75v0.75h-0.75zM328.0 319.8h0.75v0.75h-0.75zM317.4 332.7h0.75v0.75h-0.75zM321.1 328.5h0.75v0.75h-0.75zM319.3 325.2h0.75v0.75h-0.75zM314.1 328.1h0.75v0.75h-0.75zM314.6 325.7h0.75v0.75h-0.75zM309.7 326.1h0.75v0.75h-0.75zM325.5 323.0h0.75v0.75h-0.75zM327.8 305.8h0.75v0.75h-0.75zM329.6 332.3h0.75v0.75h-0.75zM316.2 315.0h0.75v0.75h-0.75zM319.2 321.3h0.75v0.75h-0.75zM322.9 294.2h0.75v0.75h-0.75zM324.9 315.8h0.75v0.75h-0.75zM317.1 332.4h0.75v0.75h-0.75zM320.3 332.5h0.75v0.75h-0.75zM324.6 315.3h0.75v0.75h-0.75zM327.7 325.1h0.75v0.75h-0.75zM319.5 304.8h0.75v0.75h-0.75zM319.3 327.7h0.75v0.75h-0.75zM320.8 338.7h0.75v0.75h-0.75zM323.2 321.3h0.75v0.75h-0.75zM323.9 309.8h0.75v0.75h-0.75zM321.4 313.5h0.75v0.75h-0.75zM310.6 307.9h0.75v0.75h-0.75zM325.5 313.5h0.75v0.75h-0.75zM321.4 305.1h0.75v0.75h-0.75zM319.1 329.5h0.75v0.75h-0.75zM322.4 314.4h0.75v0.75h-0.75zM329.4 315.3h0.75v0.75h-0.75zM320.3 332.6h0.75v0.75h-0.75zM313.6 330.2h0.75v0.75h-0.75zM316.6 314.8h0.75v0.75h-0.75zM318.7 323.1h0.75v0.75h-0.75zM322.5 322.8h0.75v0.75h-0.75zM323.0 333.8h0.75v0.75h-0.75zM330.2 322.8h0.75v0.75h-0.75zM325.6 314.1h0.75v0.75h-0.75zM316.7 328.9h0.75v0.75h-0.75zM322.1 328.7h0.75v0.75h-0.75zM313.1 352.2h0.75v0.75h-0.75zM315.8 323.7h0.75v0.75h-0.75zM326.8 303.2h0.75v0.75h-0.75zM319.3 300.7h0.75v0.75h-0.75zM315.1 303.9h0.75v0.75h-0.75zM322.5 322.7h0.75v0.75h-0.75zM320.5 333.8h0.75v0.75h-0.75zM328.7 316.2h0.75v0.75h-0.75zM320.9 317.8h0.75v0.75h-0.75zM319.8 334.6h0.75v0.75h-0.75zM323.1 316.0h0.75v0.75h-0.75zM320.9 326.2h0.75v0.75h-0.75zM320.1 324.3h0.75v0.75h-0.75zM321.8 334.0h0.75v0.75h-0.75zM327.6 302.4h0.75v0.75h-0.75zM321.2 327.7h0.75v0.75h-0.75zM319.8 329.5h0.75v0.75h-0.75zM323.6 325.2h0.75v0.75h-0.75zM321.7 323.3h0.75v0.75h-0.75zM324.5 303.6h0.75v0.75h-0.75zM317.6 312.0h0.75v0.75h-0.75zM330.1 318.7h0.75v0.75h-0.75zM323.8 320.8h0.75v0.75h-0.75zM319.5 313.8h0.75v0.75h-0.75zM326.1 314.0h0.75v0.75h-0.75zM329.6 317.9h0.75v0.75h-0.75zM322.5 317.5h0.75v0.75h-0.75zM321.7 320.6h0.75v0.75h-0.75zM329.4 339.9h0.75v0.75h-0.75zM316.5 325.7h0.75v0.75h-0.75zM325.4 308.9h0.75v0.75h-0.75zM319.0 317.0h0.75v0.75h-0.75zM310.4 333.0h0.75v0.75h-0.75zM321.8 319.2h0.75v0.75h-0.75zM322.4 322.4h0.75v0.75h-0.75zM333.2 315.8h0.75v0.75h-0.75zM326.1 312.6h0.75v0.75h-0.75zM323.7 315.9h0.75v0.75h-0.75zM321.3 311.2h0.75v0.75h-0.75zM318.1 326.9h0.75v0.75h-0.75zM325.6 322.8h0.75v0.75h-0.75zM318.8 325.1h0.75v0.75h-0.75zM309.8 336.4h0.75v0.75h-0.75zM321.9 323.0h0.75v0.75h-0.75zM327.7 312.7h0.75v0.75h-0.75zM326.7 313.1h0.75v0.75h-0.75zM324.7 314.5h0.75v0.75h-0.75zM323.6 334.1h0.75v0.75h-0.75zM319.0 315.6h0.75v0.75h-0.75zM320.5 324.1h0.75v0.75h-0.75zM335.3 307.0h0.75v0.75h-0.75zM312.3 318.9h0.75v0.75h-0.75zM314.5 318.7h0.75v0.75h-0.75zM322.2 310.4h0.75v0.75h-0.75zM318.9 303.0h0.75v0.75h-0.75zM323.0 312.1h0.75v0.75h-0.75zM327.4 328.1h0.75v0.75h-0.75zM318.0 318.8h0.75v0.75h-0.75zM322.4 327.8h0.75v0.75h-0.75zM314.1 323.9h0.75v0.75h-0.75zM331.1 314.5h0.75v0.75h-0.75zM323.2 319.7h0.75v0.75h-0.75zM316.4 333.1h0.75v0.75h-0.75zM323.5 321.3h0.75v0.75h-0.75zM325.7 326.4h0.75v0.75h-0.75zM313.1 330.2h0.75v0.75h-0.75zM319.4 323.5h0.75v0.75h-0.75zM318.8 313.4h0.75v0.75h-0.75zM326.8 317.8h0.75v0.75h-0.75zM320.9 318.2h0.75v0.75h-0.75zM322.6 320.0h0.75v0.75h-0.75zM310.9 317.7h0.75v0.75h-0.75zM321.1 328.6h0.75v0.75h-0.75zM328.8 307.3h0.75v0.75h-0.75zM331.6 316.3h0.75v0.75h-0.75zM324.7 313.8h0.75v0.75h-0.75zM319.4 336.7h0.75v0.75h-0.75zM321.3 320.1h0.75v0.75h-0.75zM327.9 335.1h0.75v0.75h-0.75zM315.2 322.6h0.75v0.75h-0.75zM322.3 339.1h0.75v0.75h-0.75zM334.3 313.6h0.75v0.75h-0.75zM324.2 328.5h0.75v0.75h-0.75zM328.0 314.4h0.75v0.75h-0.75zM326.6 311.3h0.75v0.75h-0.75zM309.6 313.7h0.75v0.75h-0.75zM323.5 328.2h0.75v0.75h-0.75zM311.6 308.3h0.75v0.75h-0.75zM322.3 286.4h0.75v0.75h-0.75zM325.2 329.9h0.75v0.75h-0.75zM308.2 336.5h0.75v0.75h-0.75zM321.6 335.8h0.75v0.75h-0.75zM323.9 317.7h0.75v0.75h-0.75zM323.2 330.2h0.75v0.75h-0.75zM323.5 320.9h0.75v0.75h-0.75zM315.7 329.7h0.75v0.75h-0.75zM322.8 339.7h0.75v0.75h-0.75zM322.6 320.2h0.75v0.75h-0.75zM319.6 330.1h0.75v0.75h-0.75zM321.7 314.4h0.75v0.75h-0.75zM330.4 335.0h0.75v0.75h-0.75zM320.5 311.8h0.75v0.75h-0.75zM328.1 309.6h0.75v0.75h-0.75zM336.3 312.3h0.75v0.75h-0.75zM327.3 305.3h0.75v0.75h-0.75zM322.5 332.4h0.75v0.75h-0.75zM324.8 314.5h0.75v0.75h-0.75zM334.5 322.2h0.75v0.75h-0.75zM321.6 315.6h0.75v0.75h-0.75zM321.4 335.7h0.75v0.75h-0.75zM319.0 323.5h0.75v0.75h-0.75zM318.8 336.1h0.75v0.75h-0.75zM322.0 330.4h0.75v0.75h-0.75zM325.5 313.7h0.75v0.75h-0.75zM326.1 328.9h0.75v0.75h-0.75zM317.2 331.4h0.75v0.75h-0.75zM339.9 308.7h0.75v0.75h-0.75zM325.8 305.8h0.75v0.75h-0.75zM325.0 313.9h0.75v0.75h-0.75zM326.5 318.6h0.75v0.75h-0.75zM317.1 335.5h0.75v0.75h-0.75zM321.7 311.4h0.75v0.75h-0.75zM323.1 311.1h0.75v0.75h-0.75zM324.7 319.5h0.75v0.75h-0.75zM321.0 329.0h0.75v0.75h-0.75zM316.6 334.5h0.75v0.75h-0.75zM313.0 343.0h0.75v0.75h-0.75zM323.6 318.0h0.75v0.75h-0.75zM319.2 328.7h0.75v0.75h-0.75zM322.0 319.8h0.75v0.75h-0.75zM327.8 314.0h0.75v0.75h-0.75zM321.6 326.2h0.75v0.75h-0.75zM327.9 316.8h0.75v0.75h-0.75zM323.5 321.2h0.75v0.75h-0.75zM326.4 334.5h0.75v0.75h-0.75zM318.2 322.3h0.75v0.75h-0.75zM322.5 327.4h0.75v0.75h-0.75zM330.0 317.0h0.75v0.75h-0.75zM323.8 332.2h0.75v0.75h-0.75zM316.7 316.6h0.75v0.75h-0.75zM320.6 322.3h0.75v0.75h-0.75zM323.9 315.2h0.75v0.75h-0.75zM331.3 309.2h0.75v0.75h-0.75zM321.8 332.9h0.75v0.75h-0.75zM326.5 318.9h0.75v0.75h-0.75zM324.6 328.6h0.75v0.75h-0.75zM322.7 327.8h0.75v0.75h-0.75zM318.3 324.3h0.75v0.75h-0.75zM314.7 316.3h0.75v0.75h-0.75zM317.1 337.0h0.75v0.75h-0.75zM320.4 325.4h0.75v0.75h-0.75zM318.2 321.4h0.75v0.75h-0.75zM321.3 313.0h0.75v0.75h-0.75zM326.8 301.6h0.75v0.75h-0.75zM325.7 346.8h0.75v0.75h-0.75zM318.6 323.5h0.75v0.75h-0.75zM315.0 324.8h0.75v0.75h-0.75zM314.1 332.0h0.75v0.75h-0.75zM320.2 303.1h0.75v0.75h-0.75zM316.2 307.8h0.75v0.75h-0.75zM321.1 330.3h0.75v0.75h-0.75zM320.5 309.6h0.75v0.75h-0.75zM318.3 324.1h0.75v0.75h-0.75zM310.5 333.1h0.75v0.75h-0.75zM324.3 294.0h0.75v0.75h-0.75zM328.1 300.4h0.75v0.75h-0.75zM321.2 333.2h0.75v0.75h-0.75zM314.3 305.6h0.75v0.75h-0.75zM316.8 312.1h0.75v0.75h-0.75zM321.5 315.3h0.75v0.75h-0.75zM319.8 316.6h0.75v0.75h-0.75zM321.3 311.9h0.75v0.75h-0.75zM323.8 319.4h0.75v0.75h-0.75zM317.2 342.0h0.75v0.75h-0.75zM316.0 331.3h0.75v0.75h-0.75zM318.5 326.1h0.75v0.75h-0.75zM324.8 327.9h0.75v0.75h-0.75zM329.2 307.8h0.75v0.75h-0.75zM336.3 316.9h0.75v0.75h-0.75zM318.3 308.5h0.75v0.75h-0.75zM333.8 331.3h0.75v0.75h-0.75zM322.2 328.5h0.75v0.75h-0.75zM328.8 318.0h0.75v0.75h-0.75zM320.3 321.3h0.75v0.75h-0.75zM326.5 318.5h0.75v0.75h-0.75zM316.3 331.7h0.75v0.75h-0.75zM313.9 317.4h0.75v0.75h-0.75zM328.4 319.7h0.75v0.75h-0.75zM323.5 321.1h0.75v0.75h-0.75zM327.4 317.3h0.75v0.75h-0.75zM312.8 328.4h0.75v0.75h-0.75zM307.3 307.5h0.75v0.75h-0.75zM330.1 327.1h0.75v0.75h-0.75zM320.1 321.0h0.75v0.75h-0.75zM322.8 330.7h0.75v0.75h-0.75zM318.6 313.5h0.75v0.75h-0.75zM319.3 323.7h0.75v0.75h-0.75zM323.6 315.7h0.75v0.75h-0.75zM326.1 307.9h0.75v0.75h-0.75zM322.0 313.5h0.75v0.75h-0.75zM317.4 336.0h0.75v0.75h-0.75zM320.8 310.9h0.75v0.75h-0.75zM322.5 310.0h0.75v0.75h-0.75zM325.3 327.8h0.75v0.75h-0.75zM327.4 306.8h0.75v0.75h-0.75zM321.6 340.1h0.75v0.75h-0.75zM321.3 334.3h0.75v0.75h-0.75zM329.8 302.1h0.75v0.75h-0.75zM328.3 325.1h0.75v0.75h-0.75zM326.7 335.8h0.75v0.75h-0.75z" fill="#000" fill-opacity="1.0" filter="url(#soft)"/>
<path d="M326.1 327.5h0.75v0.75h-0.75zM327.5 320.8h0.75v0.75h-0.75zM326.5 295.6h0.75v0.75h-0.75zM337.2 316.3h0.75v0.75h-0.75zM326.8 330.9h0.75v0.75h-0.75zM323.0 328.6h0.75v0.75h-0.75zM322.7 301.9h0.75v0.75h-0.75zM317.4 346.1h0.75v0.75h-0.75zM313.2 312.5h0.75v0.75h-0.75zM340.5 342.2h0.75v0.75h-0.75zM335.7 324.4h0.75v0.75h-0.75zM324.5 338.2h0.75v0.75h-0.75zM327.0 324.8h0.75v0.75h-0.75zM309.4 318.0h0.75v0.75h-0.75zM309.0 353.2h0.75v0.75h-0.75zM318.6 324.7h0.75v0.75h-0.75zM324.5 326.6h0.75v0.75h-0.75zM326.6 316.5h0.75v0.75h-0.75zM308.8 355.7h0.75v0.75h-0.75zM315.8 320.5h0.75v0.75h-0.75zM315.0 319.5h0.75v0.75h-0.75zM322.1 337.9h0.75v0.75h-0.75zM312.8 332.6h0.75v0.75h-0.75zM316.0 345.8h0.75v0.75h-0.75zM311.2 329.9h0.75v0.75h-0.75zM328.0 304.8h0.75v0.75h-0.75zM322.7 328.5h0.75v0.75h-0.75zM314.9 324.4h0.75v0.75h-0.75zM330.3 328.6h0.75v0.75h-0.75zM318.2 323.9h0.75v0.75h-0.75zM325.6 344.9h0.75v0.75h-0.75zM328.6 336.2h0.75v0.75h-0.75zM335.2 300.6h0.75v0.75h-0.75zM309.3 294.1h0.75v0.75h-0.75zM328.8 290.5h0.75v0.75h-0.75zM321.3 337.7h0.75v0.75h-0.75zM309.6 318.4h0.75v0.75h-0.75zM319.4 337.6h0.75v0.75h-0.75zM308.6 333.3h0.75v0.75h-0.75zM327.6 327.2h0.75v0.75h-0.75zM322.9 344.7h0.75v0.75h-0.75zM323.5 325.4h0.75v0.75h-0.75zM318.7 336.4h0.75v0.75h-0.75zM319.1 336.3h0.75v0.75h-0.75zM322.4 342.9h0.75v0.75h-0.75zM314.8 328.4h0.75v0.75h-0.75zM324.5 331.7h0.75v0.75h-0.75zM331.2 330.3h0.75v0.75h-0.75zM329.3 354.1h0.75v0.75h-0.75zM328.7 308.9h0.75v0.75h-0.75zM309.4 338.2h0.75v0.75h-0.75zM318.3 331.0h0.75v0.75h-0.75zM320.1 345.9h0.75v0.75h-0.75zM331.8 307.4h0.75v0.75h-0.75zM323.9 321.1h0.75v0.75h-0.75zM310.4 337.7h0.75v0.75h-0.75zM320.3 332.9h0.75v0.75h-0.75zM342.6 342.2h0.75v0.75h-0.75zM330.9 318.3h0.75v0.75h-0.75zM311.5 346.5h0.75v0.75h-0.75zM318.9 327.2h0.75v0.75h-0.75zM318.3 328.1h0.75v0.75h-0.75zM342.0 317.7h0.75v0.75h-0.75zM319.1 329.5h0.75v0.75h-0.75zM323.9 307.6h0.75v0.75h-0.75zM306.4 319.9h0.75v0.75h-0.75zM319.7 314.5h0.75v0.75h-0.75zM312.9 313.3h0.75v0.75h-0.75zM318.0 324.6h0.75v0.75h-0.75zM307.5 320.0h0.75v0.75h-0.75zM324.4 323.3h0.75v0.75h-0.75zM309.8 322.4h0.75v0.75h-0.75zM321.1 337.2h0.75v0.75h-0.75zM307.5 338.3h0.75v0.75h-0.75zM317.3 329.4h0.75v0.75h-0.75zM327.1 311.6h0.75v0.75h-0.75zM314.4 325.1h0.75v0.75h-0.75zM327.4 316.4h0.75v0.75h-0.75zM309.2 317.3h0.75v0.75h-0.75zM324.5 342.2h0.75v0.75h-0.75zM316.9 321.4h0.75v0.75h-0.75zM319.7 323.7h0.75v0.75h-0.75zM313.1 320.3h0.75v0.75h-0.75zM323.0 326.6h0.75v0.75h-0.75zM321.3 310.4h0.75v0.75h-0.75zM316.5 315.6h0.75v0.75h-0.75zM330.0 345.5h0.75v0.75h-0.75zM324.0 348.6h0.75v0.75h-0.75zM318.7 321.6h0.75v0.75h-0.75zM310.2 330.8h0.75v0.75h-0.75zM317.3 327.5h0.75v0.75h-0.75zM325.3 321.2h0.75v0.75h-0.75zM311.7 326.5h0.75v0.75h-0.75zM320.6 326.0h0.75v0.75h-0.75zM326.9 321.3h0.75v0.75h-0.75zM318.9 351.6h0.75v0.75h-0.75zM330.3 322.6h0.75v0.75h-0.75zM313.4 320.4h0.75v0.75h-0.75zM324.5 337.5h0.75v0.75h-0.75zM341.6 318.5h0.75v0.75h-0.75zM322.6 320.2h0.75v0.75h-0.75zM322.0 320.0h0.75v0.75h-0.75zM312.4 342.5h0.75v0.75h-0.75zM322.5 344.7h0.75v0.75h-0.75zM317.2 330.5h0.75v0.75h-0.75zM327.0 297.2h0.75v0.75h-0.75zM310.4 339.0h0.75v0.75h-0.75zM322.3 298.7h0.75v0.75h-0.75zM315.3 311.6h0.75v0.75h-0.75zM317.5 349.6h0.75v0.75h-0.75zM316.7 356.8h0.75v0.75h-0.75zM319.5 315.7h0.75v0.75h-0.75zM334.7 337.8h0.75v0.75h-0.75zM333.2 352.8h0.75v0.75h-0.75zM330.6 342.7h0.75v0.75h-0.75zM307.2 316.7h0.75v0.75h-0.75zM325.4 328.7h0.75v0.75h-0.75zM327.8 318.3h0.75v0.75h-0.75zM331.1 354.6h0.75v0.75h-0.75zM326.7 338.0h0.75v0.75h-0.75zM326.1 339.5h0.75v0.75h-0.75zM323.7 318.9h0.75v0.75h-0.75zM323.5 327.9h0.75v0.75h-0.75zM309.1 332.4h0.75v0.75h-0.75zM322.1 329.7h0.75v0.75h-0.75zM317.3 334.6h0.75v0.75h-0.75zM327.2 315.3h0.75v0.75h-0.75zM324.6 337.7h0.75v0.75h-0.75zM328.1 311.9h0.75v0.75h-0.75zM313.3 328.4h0.75v0.75h-0.75zM314.9 315.8h0.75v0.75h-0.75zM327.1 318.4h0.75v0.75h-0.75zM301.9 327.5h0.75v0.75h-0.75zM313.3 319.8h0.75v0.75h-0.75zM307.9 315.0h0.75v0.75h-0.75zM320.0 324.9h0.75v0.75h-0.75zM312.0 316.7h0.75v0.75h-0.75zM314.1 328.9h0.75v0.75h-0.75zM319.9 307.3h0.75v0.75h-0.75zM326.5 314.1h0.75v0.75h-0.75zM324.4 311.3h0.75v0.75h-0.75zM323.6 323.1h0.75v0.75h-0.75zM321.5 332.6h0.75v0.75h-0.75zM324.7 327.0h0.75v0.75h-0.75zM322.4 306.3h0.75v0.75h-0.75zM320.4 293.1h0.75v0.75h-0.75zM302.2 323.9h0.75v0.75h-0.75zM319.1 347.6h0.75v0.75h-0.75zM326.6 340.6h0.75v0.75h-0.75zM318.4 332.3h0.75v0.75h-0.75zM330.8 331.4h0.75v0.75h-0.75zM324.1 326.4h0.75v0.75h-0.75zM313.4 313.6h0.75v0.75h-0.75zM309.1 333.6h0.75v0.75h-0.75zM318.9 316.0h0.75v0.75h-0.75zM324.2 316.6h0.75v0.75h-0.75zM330.0 352.2h0.75v0.75h-0.75zM325.0 314.8h0.75v0.75h-0.75zM308.7 357.5h0.75v0.75h-0.75zM325.1 307.7h0.75v0.75h-0.75zM330.3 299.5h0.75v0.75h-0.75zM317.6 322.8h0.75v0.75h-0.75zM318.3 309.4h0.75v0.75h-0.75zM341.4 316.3h0.75v0.75h-0.75zM324.5 325.7h0.75v0.75h-0.75zM307.9 320.0h0.75v0.75h-0.75zM323.1 339.2h0.75v0.75h-0.75zM318.4 331.7h0.75v0.75h-0.75zM318.5 335.0h0.75v0.75h-0.75zM300.5 338.3h0.75v0.75h-0.75zM316.1 318.1h0.75v0.75h-0.75zM297.4 314.3h0.75v0.75h-0.75zM326.5 359.1h0.75v0.75h-0.75zM315.5 317.1h0.75v0.75h-0.75zM325.5 329.4h0.75v0.75h-0.75zM316.4 324.2h0.75v0.75h-0.75zM318.2 335.6h0.75v0.75h-0.75zM328.1 350.8h0.75v0.75h-0.75zM329.2 334.4h0.75v0.75h-0.75zM322.8 339.6h0.75v0.75h-0.75zM313.1 359.4h0.75v0.75h-0.75zM323.8 346.5h0.75v0.75h-0.75zM314.7 342.4h0.75v0.75h-0.75zM324.9 322.6h0.75v0.75h-0.75zM315.8 313.9h0.75v0.75h-0.75zM336.7 341.4h0.75v0.75h-0.75zM322.5 328.7h0.75v0.75h-0.75zM315.3 299.8h0.75v0.75h-0.75zM306.3 319.6h0.75v0.75h-0.75zM320.2 308.8h0.75v0.75h-0.75zM328.2 332.5h0.75v0.75h-0.75zM322.9 299.6h0.75v0.75h-0.75zM319.7 325.9h0.75v0.75h-0.75zM310.8 295.4h0.75v0.75h-0.75zM337.7 332.4h0.75v0.75h-0.75zM318.2 350.4h0.75v0.75h-0.75zM330.9 331.0h0.75v0.75h-0.75zM323.4 337.3h0.75v0.75h-0.75zM333.9 324.8h0.75v0.75h-0.75zM319.5 335.0h0.75v0.75h-0.75zM297.6 331.5h0.75v0.75h-0.75zM318.0 326.3h0.75v0.75h-0.75zM319.9 331.3h0.75v0.75h-0.75zM322.4 326.8h0.75v0.75h-0.75zM320.4 333.0h0.75v0.75h-0.75zM317.2 341.4h0.75v0.75h-0.75zM307.2 331.6h0.75v0.75h-0.75zM325.3 306.3h0.75v0.75h-0.75zM317.8 346.4h0.75v0.75h-0.75zM320.4 313.0h0.75v0.75h-0.75zM296.2 335.5h0.75v0.75h-0.75zM322.4 334.9h0.75v0.75h-0.75zM338.9 322.9h0.75v0.75h-0.75zM322.6 315.6h0.75v0.75h-0.75zM321.0 325.7h0.75v0.75h-0.75zM327.9 333.1h0.75v0.75h-0.75zM315.0 320.0h0.75v0.75h-0.75zM333.2 309.6h0.75v0.75h-0.75zM327.9 349.1h0.75v0.75h-0.75zM327.1 328.8h0.75v0.75h-0.75zM333.1 329.2h0.75v0.75h-0.75zM321.4 323.0h0.75v0.75h-0.75zM331.3 334.7h0.75v0.75h-0.75zM334.6 318.7h0.75v0.75h-0.75zM318.8 320.0h0.75v0.75h-0.75zM323.9 315.2h0.75v0.75h-0.75zM329.4 329.7h0.75v0.75h-0.75zM313.2 283.2h0.75v0.75h-0.75zM306.0 350.2h0.75v0.75h-0.75zM321.0 328.3h0.75v0.75h-0.75zM317.9 332.5h0.75v0.75h-0.75zM305.2 299.0h0.75v0.75h-0.75zM307.6 329.4h0.75v0.75h-0.75zM327.5 332.0h0.75v0.75h-0.75zM320.4 307.0h0.75v0.75h-0.75zM328.2 320.6h0.75v0.75h-0.75zM321.3 324.9h0.75v0.75h-0.75zM317.5 315.8h0.75v0.75h-0.75zM316.4 307.6h0.75v0.75h-0.75zM323.6 323.0h0.75v0.75h-0.75zM330.1 297.4h0.75v0.75h-0.75zM331.4 323.1h0.75v0.75h-0.75zM320.1 314.2h0.75v0.75h-0.75zM314.5 304.9h0.75v0.75h-0.75zM329.1 321.4h0.75v0.75h-0.75zM327.6 337.2h0.75v0.75h-0.75zM317.2 323.1h0.75v0.75h-0.75zM318.5 341.8h0.75v0.75h-0.75zM322.6 328.3h0.75v0.75h-0.75zM327.6 323.7h0.75v0.75h-0.75zM338.8 309.0h0.75v0.75h-0.75zM332.1 345.1h0.75v0.75h-0.75zM311.8 340.6h0.75v0.75h-0.75zM323.9 338.6h0.75v0.75h-0.75zM311.3 331.4h0.75v0.75h-0.75zM313.2 322.5h0.75v0.75h-0.75zM333.6 321.9h0.75v0.75h-0.75zM302.4 308.5h0.75v0.75h-0.75zM311.8 342.9h0.75v0.75h-0.75zM315.6 303.8h0.75v0.75h-0.75zM331.0 328.1h0.75v0.75h-0.75zM324.4 313.6h0.75v0.75h-0.75zM333.6 322.0h0.75v0.75h-0.75zM304.7 312.0h0.75v0.75h-0.75zM314.3 324.9h0.75v0.75h-0.75zM328.0 314.0h0.75v0.75h-0.75zM316.4 359.8h0.75v0.75h-0.75zM322.2 318.0h0.75v0.75h-0.75zM321.8 307.3h0.75v0.75h-0.75zM326.0 339.6h0.75v0.75h-0.75zM316.5 341.8h0.75v0.75h-0.75zM319.0 330.7h0.75v0.75h-0.75zM315.2 315.2h0.75v0.75h-0.75zM308.8 331.5h0.75v0.75h-0.75zM319.1 322.6h0.75v0.75h-0.75zM311.9 310.3h0.75v0.75h-0.75zM316.1 334.0h0.75v0.75h-0.75zM324.1 315.4h0.75v0.75h-0.75zM324.0 351.8h0.75v0.75h-0.75zM322.4 356.0h0.75v0.75h-0.75zM325.2 345.2h0.75v0.75h-0.75zM317.0 344.3h0.75v0.75h-0.75zM311.4 331.4h0.75v0.75h-0.75zM318.7 296.7h0.75v0.75h-0.75zM309.9 344.9h0.75v0.75h-0.75zM325.7 344.6h0.75v0.75h-0.75zM323.2 282.4h0.75v0.75h-0.75zM323.6 317.1h0.75v0.75h-0.75zM317.2 320.0h0.75v0.75h-0.75zM315.0 312.8h0.75v0.75h-0.75zM332.0 330.8h0.75v0.75h-0.75zM315.9 320.6h0.75v0.75h-0.75zM329.7 330.2h0.75v0.75h-0.75zM323.1 307.3h0.75v0.75h-0.75zM317.8 309.6h0.75v0.75h-0.75zM305.2 342.1h0.75v0.75h-0.75zM318.7 320.2h0.75v0.75h-0.75zM313.3 338.6h0.75v0.75h-0.75zM339.2 331.5h0.75v0.75h-0.75zM329.3 305.9h0.75v0.75h-0.75zM322.9 328.9h0.75v0.75h-0.75zM334.1 323.8h0.75v0.75h-0.75zM313.4 326.3h0.75v0.75h-0.75zM317.7 348.1h0.75v0.75h-0.75zM327.1 330.0h0.75v0.75h-0.75zM322.9 338.2h0.75v0.75h-0.75zM317.2 312.9h0.75v0.75h-0.75zM305.4 346.4h0.75v0.75h-0.75zM325.7 334.7h0.75v0.75h-0.75zM321.8 350.6h0.75v0.75h-0.75zM313.1 345.3h0.75v0.75h-0.75zM314.2 320.3h0.75v0.75h-0.75zM311.0 329.0h0.75v0.75h-0.75zM318.9 332.7h0.75v0.75h-0.75zM316.4 305.9h0.75v0.75h-0.75zM326.2 344.1h0.75v0.75h-0.75zM327.6 323.8h0.75v0.75h-0.75zM324.8 299.8h0.75v0.75h-0.75zM318.5 343.5h0.75v0.75h-0.75zM325.2 312.3h0.75v0.75h-0.75zM328.6 322.4h0.75v0.75h-0.75zM327.5 303.6h0.75v0.75h-0.75zM316.8 331.3h0.75v0.75h-0.75zM323.9 333.5h0.75v0.75h-0.75zM321.2 322.7h0.75v0.75h-0.75zM325.3 337.9h0.75v0.75h-0.75zM308.4 323.2h0.75v0.75h-0.75zM319.6 328.4h0.75v0.75h-0.75zM329.9 304.4h0.75v0.75h-0.75zM325.8 299.1h0.75v0.75h-0.75zM314.9 319.1h0.75v0.75h-0.75zM319.0 317.0h0.75v0.75h-0.75zM317.0 321.4h0.75v0.75h-0.75zM319.0 298.7h0.75v0.75h-0.75zM309.4 321.3h0.75v0.75h-0.75zM325.8 339.8h0.75v0.75h-0.75zM345.5 323.0h0.75v0.75h-0.75zM314.7 329.5h0.75v0.75h-0.75zM327.1 326.8h0.75v0.75h-0.75zM312.3 325.8h0.75v0.75h-0.75zM321.0 304.9h0.75v0.75h-0.75zM311.1 345.3h0.75v0.75h-0.75zM302.5 331.6h0.75v0.75h-0.75zM319.1 346.7h0.75v0.75h-0.75zM326.5 312.0h0.75v0.75h-0.75zM332.0 315.5h0.75v0.75h-0.75zM338.2 347.4h0.75v0.75h-0.75zM320.7 337.3h0.75v0.75h-0.75zM322.9 312.1h0.75v0.75h-0.75zM330.3 330.5h0.75v0.75h-0.75zM328.5 340.4h0.75v0.75h-0.75zM333.3 339.1h0.75v0.75h-0.75zM320.6 327.3h0.75v0.75h-0.75zM324.9 323.5h0.75v0.75h-0.75zM319.4 353.8h0.75v0.75h-0.75zM325.6 353.2h0.75v0.75h-0.75zM315.0 326.5h0.75v0.75h-0.75zM317.8 320.8h0.75v0.75h-0.75zM319.0 324.5h0.75v0.75h-0.75zM317.8 353.3h0.75v0.75h-0.75zM327.2 313.9h0.75v0.75h-0.75zM316.9 337.8h0.75v0.75h-0.75zM326.1 316.1h0.75v0.75h-0.75zM329.3 303.4h0.75v0.75h-0.75zM317.5 352.2h0.75v0.75h-0.75zM299.5 326.8h0.75v0.75h-0.75zM329.8 322.4h0.75v0.75h-0.75zM314.9 314.0h0.75v0.75h-0.75zM304.0 309.5h0.75v0.75h-0.75zM322.0 317.5h0.75v0.75h-0.75zM321.4 323.8h0.75v0.75h-0.75zM323.9 301.0h0.75v0.75h-0.75zM318.9 321.4h0.75v0.75h-0.75zM318.9 313.3h0.75v0.75h-0.75zM303.0 338.6h0.75v0.75h-0.75zM328.3 359.8h0.75v0.75h-0.75zM327.6 349.2h0.75v0.75h-0.75zM326.5 319.5h0.75v0.75h-0.75zM325.7 308.0h0.75v0.75h-0.75zM323.5 324.0h0.75v0.75h-0.75zM312.6 345.6h0.75v0.75h-0.75zM330.9 331.2h0.75v0.75h-0.75zM328.4 349.1h0.75v0.75h-0.75zM320.4 306.2h0.75v0.75h-0.75zM313.5 337.7h0.75v0.75h-0.75zM323.4 303.7h0.75v0.75h-0.75zM332.6 327.3h0.75v0.75h-0.75zM335.1 340.4h0.75v0.75h-0.75zM317.9 328.1h0.75v0.75h-0.75zM315.4 314.8h0.75v0.75h-0.75zM319.1 334.0h0.75v0.75h-0.75zM333.1 310.9h0.75v0.75h-0.75zM327.5 325.7h0.75v0.75h-0.75zM319.8 343.2h0.75v0.75h-0.75zM318.6 347.2h0.75v0.75h-0.75zM318.8 313.1h0.75v0.75h-0.75zM328.1 303.6h0.75v0.75h-0.75zM311.7 325.3h0.75v0.75h-0.75zM321.7 322.4h0.75v0.75h-0.75zM305.1 309.5h0.75v0.75h-0.75zM326.1 333.6h0.75v0.75h-0.75zM313.2 331.8h0.75v0.75h-0.75zM323.5 341.2h0.75v0.75h-0.75zM315.6 349.1h0.75v0.75h-0.75zM319.2 348.3h0.75v0.75h-0.75zM329.6 310.1h0.75v0.75h-0.75zM319.2 331.2h0.75v0.75h-0.75zM330.4 304.4h0.75v0.75h-0.75zM317.6 336.4h0.75v0.75h-0.75zM325.8 310.1h0.75v0.75h-0.75zM314.2 334.2h0.75v0.75h-0.75zM313.1 331.4h0.75v0.75h-0.75zM329.5 325.3h0.75v0.75h-0.75zM299.1 347.9h0.75v0.75h-0.75zM331.5 345.8h0.75v0.75h-0.75zM329.1 300.2h0.75v0.75h-0.75zM333.8 329.5h0.75v0.75h-0.75zM329.7 322.7h0.75v0.75h-0.75zM319.7 323.3h0.75v0.75h-0.75zM335.3 328.2h0.75v0.75h-0.75zM320.1 307.7h0.75v0.75h-0.75zM325.8 325.9h0.75v0.75h-0.75zM323.1 340.9h0.75v0.75h-0.75zM327.9 325.4h0.75v0.75h-0.75zM323.6 327.5h0.75v0.75h-0.75zM327.9 335.7h0.75v0.75h-0.75zM323.0 313.5h0.75v0.75h-0.75zM328.9 338.6h0.75v0.75h-0.75zM312.7 333.8h0.75v0.75h-0.75zM318.5 294.5h0.75v0.75h-0.75zM321.4 340.6h0.75v0.75h-0.75zM315.6 317.0h0.75v0.75h-0.75zM330.4 308.5h0.75v0.75h-0.75zM313.8 323.0h0.75v0.75h-0.75zM327.0 334.7h0.75v0.75h-0.75zM317.2 322.5h0.75v0.75h-0.75zM322.5 320.4h0.75v0.75h-0.75zM314.4 311.3h0.75v0.75h-0.75zM327.7 322.0h0.75v0.75h-0.75zM346.0 331.3h0.75v0.75h-0.75zM315.3 327.5h0.75v0.75h-0.75zM324.6 331.7h0.75v0.75h-0.75zM325.5 332.4h0.75v0.75h-0.75zM320.5 336.2h0.75v0.75h-0.75zM340.2 316.5h0.75v0.75h-0.75zM318.5 337.4h0.75v0.75h-0.75zM332.2 336.6h0.75v0.75h-0.75zM332.0 323.7h0.75v0.75h-0.75zM319.7 336.4h0.75v0.75h-0.75zM327.4 350.2h0.75v0.75h-0.75zM334.9 296.8h0.75v0.75h-0.75zM328.3 315.2h0.75v0.75h-0.75zM303.8 335.2h0.75v0.75h-0.75zM320.2 321.3h0.75v0.75h-0.75zM310.8 313.0h0.75v0.75h-0.75zM319.8 304.3h0.75v0.75h-0.75zM320.7 328.0h0.75v0.75h-0.75zM320.3 330.8h0.75v0.75h-0.75zM321.0 309.0h0.75v0.75h-0.75zM312.8 329.7h0.75v0.75h-0.75zM329.8 326.9h0.75v0.75h-0.75zM317.3 329.3h0.75v0.75h-0.75zM306.2 314.0h0.75v0.75h-0.75zM318.3 325.7h0.75v0.75h-0.75zM318.8 322.5h0.75v0.75h-0.75zM311.5 319.3h0.75v0.75h-0.75zM323.6 298.3h0.75v0.75h-0.75zM311.3 322.6h0.75v0.75h-0.75zM334.1 333.8h0.75v0.75h-0.75zM334.8 343.6h0.75v0.75h-0.75zM317.7 325.6h0.75v0.75h-0.75zM311.5 345.2h0.75v0.75h-0.75zM327.7 333.7h0.75v0.75h-0.75zM327.1 331.9h0.75v0.75h-0.75zM323.3 329.8h0.75v0.75h-0.75zM331.8 312.5h0.75v0.75h-0.75zM312.7 327.6h0.75v0.75h-0.75zM331.3 327.9h0.75v0.75h-0.75zM319.8 338.7h0.75v0.75h-0.75zM322.5 297.6h0.75v0.75h-0.75zM313.0 296.4h0.75v0.75h-0.75zM319.7 319.7h0.75v0.75h-0.75zM325.2 356.8h0.75v0.75h-0.75zM316.5 327.1h0.75v0.75h-0.75zM318.3 284.8h0.75v0.75h-0.75zM315.1 316.5h0.75v0.75h-0.75zM323.9 313.2h0.75v0.75h-0.75zM310.6 336.8h0.75v0.75h-0.75zM321.0 312.9h0.75v0.75h-0.75zM315.1 322.7h0.75v0.75h-0.75zM328.5 346.0h0.75v0.75h-0.75zM310.5 345.4h0.75v0.75h-0.75zM322.0 331.4h0.75v0.75h-0.75zM329.8 310.3h0.75v0.75h-0.75zM328.8 305.4h0.75v0.75h-0.75zM317.6 314.2h0.75v0.75h-0.75zM335.8 348.0h0.75v0.75h-0.75zM328.0 332.6h0.75v0.75h-0.75zM317.1 352.8h0.75v0.75h-0.75zM333.4 337.4h0.75v0.75h-0.75zM320.7 321.2h0.75v0.75h-0.75zM320.9 346.1h0.75v0.75h-0.75zM313.6 329.4h0.75v0.75h-0.75zM335.5 336.9h0.75v0.75h-0.75zM336.4 329.9h0.75v0.75h-0.75zM325.3 346.2h0.75v0.75h-0.75zM327.2 330.5h0.75v0.75h-0.75zM317.4 305.2h0.75v0.75h-0.75zM334.4 318.1h0.75v0.75h-0.75zM315.5 340.4h0.75v0.75h-0.75zM314.3 307.8h0.75v0.75h-0.75zM317.0 326.5h0.75v0.75h-0.75zM324.2 333.7h0.75v0.75h-0.75zM330.0 323.4h0.75v0.75h-0.75zM325.0 324.4h0.75v0.75h-0.75zM316.5 333.5h0.75v0.75h-0.75zM324.9 353.5h0.75v0.75h-0.75zM327.0 315.5h0.75v0.75h-0.75zM326.9 322.1h0.75v0.75h-0.75zM335.2 299.1h0.75v0.75h-0.75zM316.4 317.9h0.75v0.75h-0.75zM322.9 324.6h0.75v0.75h-0.75zM308.6 301.5h0.75v0.75h-0.75zM323.5 348.0h0.75v0.75h-0.75zM334.1 318.6h0.75v0.75h-0.75zM325.8 313.2h0.75v0.75h-0.75zM309.8 346.9h0.75v0.75h-0.75zM327.6 320.8h0.75v0.75h-0.75zM318.8 340.8h0.75v0.75h-0.75zM324.6 321.3h0.75v0.75h-0.75zM324.3 326.2h0.75v0.75h-0.75zM318.5 316.8h0.75v0.75h-0.75zM329.7 318.4h0.75v0.75h-0.75zM312.1 355.1h0.75v0.75h-0.75zM332.4 332.6h0.75v0.75h-0.75zM321.4 329.7h0.75v0.75h-0.75zM309.8 328.6h0.75v0.75h-0.75zM324.3 323.4h0.75v0.75h-0.75zM325.6 314.8h0.75v0.75h-0.75zM323.5 303.4h0.75v0.75h-0.75zM321.7 317.7h0.75v0.75h-0.75zM310.8 322.7h0.75v0.75h-0.75zM322.0 317.8h0.75v0.75h-0.75zM329.6 315.0h0.75v0.75h-0.75zM329.7 335.8h0.75v0.75h-0.75zM316.8 348.4h0.75v0.75h-0.75zM310.5 336.3h0.75v0.75h-0.75zM322.4 337.6h0.75v0.75h-0.75zM308.7 311.3h0.75v0.75h-0.75zM314.8 327.9h0.75v0.75h-0.75zM322.4 326.5h0.75v0.75h-0.75zM319.5 316.3h0.75v0.75h-0.75zM310.3 322.0h0.75v0.75h-0.75zM326.1 340.3h0.75v0.75h-0.75zM317.4 342.6h0.75v0.75h-0.75zM310.3 339.5h0.75v0.75h-0.75zM312.6 331.3h0.75v0.75h-0.75zM313.6 313.4h0.75v0.75h-0.75zM317.1 347.7h0.75v0.75h-0.75zM316.1 336.2h0.75v0.75h-0.75zM322.9 330.3h0.75v0.75h-0.75zM324.2 334.9h0.75v0.75h-0.75zM311.6 328.6h0.75v0.75h-0.75zM324.5 317.1h0.75v0.75h-0.75zM324.6 310.7h0.75v0.75h-0.75zM327.6 314.9h0.75v0.75h-0.75zM319.3 338.1h0.75v0.75h-0.75zM330.6 316.3h0.75v0.75h-0.75zM316.3 341.5h0.75v0.75h-0.75zM297.7 349.9h0.75v0.75h-0.75zM332.3 308.7h0.75v0.75h-0.75zM331.5 329.7h0.75v0.75h-0.75zM325.4 291.7h0.75v0.75h-0.75zM317.5 324.1h0.75v0.75h-0.75zM318.2 321.1h0.75v0.75h-0.75zM319.2 284.7h0.75v0.75h-0.75zM319.9 316.3h0.75v0.75h-0.75zM320.8 319.0h0.75v0.75h-0.75zM321.5 330.2h0.75v0.75h-0.75zM336.3 311.5h0.75v0.75h-0.75zM335.6 320.1h0.75v0.75h-0.75zM314.1 306.2h0.75v0.75h-0.75zM328.7 302.7h0.75v0.75h-0.75zM329.1 329.8h0.75v0.75h-0.75zM316.8 317.2h0.75v0.75h-0.75zM325.6 327.6h0.75v0.75h-0.75zM327.7 324.9h0.75v0.75h-0.75zM317.3 334.6h0.75v0.75h-0.75zM311.6 340.2h0.75v0.75h-0.75zM322.0 309.6h0.75v0.75h-0.75zM313.0 322.8h0.75v0.75h-0.75zM306.4 349.1h0.75v0.75h-0.75zM329.6 308.6h0.75v0.75h-0.75zM320.6 351.0h0.75v0.75h-0.75zM324.9 310.5h0.75v0.75h-0.75zM303.5 305.1h0.75v0.75h-0.75zM331.5 328.9h0.75v0.75h-0.75zM310.6 338.3h0.75v0.75h-0.75zM318.5 316.7h0.75v0.75h-0.75zM317.1 319.9h0.75v0.75h-0.75zM335.5 309.6h0.75v0.75h-0.75zM318.1 346.2h0.75v0.75h-0.75zM334.1 309.3h0.75v0.75h-0.75zM338.8 339.2h0.75v0.75h-0.75zM309.0 354.9h0.75v0.75h-0.75zM309.1 338.3h0.75v0.75h-0.75zM311.8 301.4h0.75v0.75h-0.75zM328.7 331.0h0.75v0.75h-0.75zM320.8 329.0h0.75v0.75h-0.75zM320.6 322.3h0.75v0.75h-0.75zM312.5 336.2h0.75v0.75h-0.75zM321.7 322.4h0.75v0.75h-0.75zM316.7 322.7h0.75v0.75h-0.75zM308.7 323.7h0.75v0.75h-0.75zM313.2 346.5h0.75v0.75h-0.75zM313.5 320.8h0.75v0.75h-0.75zM321.6 337.8h0.75v0.75h-0.75zM325.4 325.6h0.75v0.75h-0.75zM339.7 322.6h0.75v0.75h-0.75zM314.0 341.6h0.75v0.75h-0.75zM325.3 305.9h0.75v0.75h-0.75zM316.3 339.3h0.75v0.75h-0.75zM309.3 325.4h0.75v0.75h-0.75zM329.4 321.1h0.75v0.75h-0.75zM323.8 315.7h0.75v0.75h-0.75zM316.2 317.8h0.75v0.75h-0.75zM318.5 335.9h0.75v0.75h-0.75zM322.1 355.1h0.75v0.75h-0.75zM326.2 329.3h0.75v0.75h-0.75zM340.5 321.0h0.75v0.75h-0.75zM314.7 329.5h0.75v0.75h-0.75zM312.3 335.3h0.75v0.75h-0.75zM333.0 333.4h0.75v0.75h-0.75zM318.1 324.5h0.75v0.75h-0.75zM325.6 342.8h0.75v0.75h-0.75zM318.1 320.4h0.75v0.75h-0.75zM330.7 327.6h0.75v0.75h-0.75zM324.4 332.7h0.75v0.75h-0.75zM315.0 325.0h0.75v0.75h-0.75zM330.5 322.1h0.75v0.75h-0.75zM319.9 330.8h0.75v0.75h-0.75zM314.7 329.3h0.75v0.75h-0.75zM338.6 323.6h0.75v0.75h-0.75zM324.7 304.0h0.75v0.75h-0.75zM329.8 337.5h0.75v0.75h-0.75zM328.5 322.2h0.75v0.75h-0.75zM324.7 324.5h0.75v0.75h-0.75zM328.7 324.6h0.75v0.75h-0.75zM328.2 305.1h0.75v0.75h-0.75zM318.8 284.4h0.75v0.75h-0.75zM320.3 337.7h0.75v0.75h-0.75zM313.2 322.6h0.75v0.75h-0.75zM313.8 320.0h0.75v0.75h-0.75zM317.6 304.9h0.75v0.75h-0.75zM313.3 357.6h0.75v0.75h-0.75zM319.3 340.0h0.75v0.75h-0.75zM310.8 326.3h0.75v0.75h-0.75zM326.1 322.7h0.75v0.75h-0.75zM317.2 324.0h0.75v0.75h-0.75zM321.8 338.4h0.75v0.75h-0.75zM331.7 304.7h0.75v0.75h-0.75zM304.2 326.3h0.75v0.75h-0.75zM321.6 336.7h0.75v0.75h-0.75zM330.5 314.6h0.75v0.75h-0.75zM338.9 326.8h0.75v0.75h-0.75zM306.6 342.9h0.75v0.75h-0.75zM323.9 329.9h0.75v0.75h-0.75zM308.1 323.9h0.75v0.75h-0.75zM322.9 323.5h0.75v0.75h-0.75zM327.3 343.7h0.75v0.75h-0.75zM334.4 342.3h0.75v0.75h-0.75zM320.3 351.8h0.75v0.75h-0.75zM323.7 338.3h0.75v0.75h-0.75zM319.5 305.7h0.75v0.75h-0.75zM302.4 332.2h0.75v0.75h-0.75zM315.8 327.0h0.75v0.75h-0.75zM329.1 302.0h0.75v0.75h-0.75zM306.6 332.5h0.75v0.75h-0.75zM324.6 321.5h0.75v0.75h-0.75zM317.1 303.2h0.75v0.75h-0.75zM320.8 315.2h0.75v0.75h-0.75zM325.2 339.5h0.75v0.75h-0.75zM316.8 333.0h0.75v0.75h-0.75zM323.1 336.2h0.75v0.75h-0.75zM334.5 333.6h0.75v0.75h-0.75zM327.5 336.8h0.75v0.75h-0.75zM317.9 326.6h0.75v0.75h-0.75zM324.4 343.9h0.75v0.75h-0.75zM332.5 357.8h0.75v0.75h-0.75zM312.3 327.1h0.75v0.75h-0.75zM306.9 320.6h0.75v0.75h-0.75zM307.6 345.8h0.75v0.75h-0.75zM327.9 309.0h0.75v0.75h-0.75zM324.4 336.5h0.75v0.75h-0.75zM336.2 335.8h0.75v0.75h-0.75zM322.6 324.5h0.75v0.75h-0.75zM326.8 329.6h0.75v0.75h-0.75zM317.5 308.7h0.75v0.75h-0.75zM330.4 313.8h0.75v0.75h-0.75zM319.2 338.3h0.75v0.75h-0.75zM321.1 342.9h0.75v0.75h-0.75zM312.0 339.0h0.75v0.75h-0.75zM310.3 305.7h0.75v0.75h-0.75zM312.7 329.3h0.75v0.75h-0.75zM315.8 306.6h0.75v0.75h-0.75zM331.7 310.0h0.75v0.75h-0.75zM320.6 330.0h0.75v0.75h-0.75zM317.5 332.1h0.75v0.75h-0.75zM326.8 323.6h0.75v0.75h-0.75zM330.3 315.7h0.75v0.75h-0.75zM312.6 330.6h0.75v0.75h-0.75zM313.3 333.1h0.75v0.75h-0.75zM320.7 319.2h0.75v0.75h-0.75zM326.4 333.1h0.75v0.75h-0.75zM296.5 325.7h0.75v0.75h-0.75zM322.7 333.1h0.75v0.75h-0.75zM316.9 309.8h0.75v0.75h-0.75zM322.6 335.9h0.75v0.75h-0.75zM304.1 306.8h0.75v0.75h-0.75zM316.5 288.4h0.75v0.75h-0.75zM316.5 339.1h0.75v0.75h-0.75zM312.5 329.6h0.75v0.75h-0.75zM314.0 333.6h0.75v0.75h-0.75zM327.0 344.4h0.75v0.75h-0.75zM322.1 341.5h0.75v0.75h-0.75zM324.9 318.3h0.75v0.75h-0.75zM334.0 314.9h0.75v0.75h-0.75zM328.9 312.5h0.75v0.75h-0.75zM324.0 317.3h0.75v0.75h-0.75zM320.3 303.8h0.75v0.75h-0.75zM323.3 302.6h0.75v0.75h-0.75zM324.6 331.0h0.75v0.75h-0.75zM328.7 357.9h0.75v0.75h-0.75zM307.5 310.7h0.75v0.75h-0.75zM313.0 319.0h0.75v0.75h-0.75zM328.9 319.6h0.75v0.75h-0.75zM316.5 310.0h0.75v0.75h-0.75zM316.1 320.4h0.75v0.75h-0.75zM320.6 304.8h0.75v0.75h-0.75zM320.8 334.5h0.75v0.75h-0.75zM324.4 306.9h0.75v0.75h-0.75zM328.4 336.7h0.75v0.75h-0.75zM324.0 307.2h0.75v0.75h-0.75zM309.0 328.8h0.75v0.75h-0.75zM312.8 307.6h0.75v0.75h-0.75zM329.0 338.2h0.75v0.75h-0.75zM326.9 344.5h0.75v0.75h-0.75zM329.1 307.4h0.75v0.75h-0.75zM331.2 326.0h0.75v0.75h-0.75zM325.2 348.7h0.75v0.75h-0.75zM325.2 348.8h0.75v0.75h-0.75zM322.0 320.2h0.75v0.75h-0.75zM315.5 325.0h0.75v0.75h-0.75zM307.2 327.6h0.75v0.75h-0.75zM320.5 318.2h0.75v0.75h-0.75zM302.5 297.3h0.75v0.75h-0.75zM327.5 310.6h0.75v0.75h-0.75zM333.1 313.3h0.75v0.75h-0.75zM324.5 303.9h0.75v0.75h-0.75zM316.1 323.7h0.75v0.75h-0.75zM326.4 350.2h0.75v0.75h-0.75zM329.7 302.9h0.75v0.75h-0.75zM321.5 323.5h0.75v0.75h-0.75zM316.1 335.7h0.75v0.75h-0.75zM334.9 316.8h0.75v0.75h-0.75zM331.0 345.2h0.75v0.75h-0.75zM312.5 354.1h0.75v0.75h-0.75zM335.8 327.9h0.75v0.75h-0.75zM336.0 327.2h0.75v0.75h-0.75zM331.3 334.0h0.75v0.75h-0.75zM314.2 331.2h0.75v0.75h-0.75zM320.1 318.9h0.75v0.75h-0.75zM311.7 316.1h0.75v0.75h-0.75zM311.0 344.8h0.75v0.75h-0.75zM304.8 330.1h0.75v0.75h-0.75zM316.3 308.3h0.75v0.75h-0.75zM327.7 313.0h0.75v0.75h-0.75zM331.8 321.5h0.75v0.75h-0.75zM324.3 323.6h0.75v0.75h-0.75zM327.0 339.1h0.75v0.75h-0.75zM317.7 326.5h0.75v0.75h-0.75zM336.5 314.8h0.75v0.75h-0.75zM336.9 317.4h0.75v0.75h-0.75zM316.8 301.6h0.75v0.75h-0.75zM314.3 301.3h0.75v0.75h-0.75zM316.6 337.2h0.75v0.75h-0.75zM321.0 317.1h0.75v0.75h-0.75zM312.8 317.3h0.75v0.75h-0.75zM309.1 309.2h0.75v0.75h-0.75zM338.1 326.7h0.75v0.75h-0.75zM313.7 337.4h0.75v0.75h-0.75zM334.3 314.2h0.75v0.75h-0.75zM320.6 307.4h0.75v0.75h-0.75zM307.9 349.0h0.75v0.75h-0.75zM350.6 309.8h0.75v0.75h-0.75zM307.7 349.6h0.75v0.75h-0.75zM330.5 331.5h0.75v0.75h-0.75zM334.0 318.7h0.75v0.75h-0.75zM323.8 337.4h0.75v0.75h-0.75zM318.8 333.6h0.75v0.75h-0.75zM319.5 333.1h0.75v0.75h-0.75zM322.9 296.2h0.75v0.75h-0.75zM322.3 304.5h0.75v0.75h-0.75zM314.2 302.4h0.75v0.75h-0.75zM328.4 319.8h0.75v0.75h-0.75zM318.2 345.2h0.75v0.75h-0.75zM327.5 321.7h0.75v0.75h-0.75zM303.8 338.9h0.75v0.75h-0.75zM319.2 320.9h0.75v0.75h-0.75zM327.7 315.4h0.75v0.75h-0.75zM320.8 339.3h0.75v0.75h-0.75zM326.3 315.9h0.75v0.75h-0.75zM333.8 340.9h0.75v0.75h-0.75zM337.5 322.3h0.75v0.75h-0.75zM323.3 341.4h0.75v0.75h-0.75zM325.2 327.4h0.75v0.75h-0.75zM320.6 321.6h0.75v0.75h-0.75zM316.0 317.4h0.75v0.75h-0.75zM325.0 320.8h0.75v0.75h-0.75zM309.5 328.9h0.75v0.75h-0.75zM335.6 343.8h0.75v0.75h-0.75zM304.4 316.4h0.75v0.75h-0.75zM328.1 326.1h0.75v0.75h-0.75zM322.1 324.0h0.75v0.75h-0.75zM322.0 310.8h0.75v0.75h-0.75zM331.6 308.7h0.75v0.75h-0.75zM320.3 349.1h0.75v0.75h-0.75zM330.7 324.3h0.75v0.75h-0.75zM321.5 317.2h0.75v0.75h-0.75zM317.3 323.3h0.75v0.75h-0.75zM332.9 317.6h0.75v0.75h-0.75zM326.4 331.7h0.75v0.75h-0.75zM325.0 321.4h0.75v0.75h-0.75zM327.8 327.5h0.75v0.75h-0.75zM322.4 319.0h0.75v0.75h-0.75zM303.4 340.3h0.75v0.75h-0.75zM328.0 317.6h0.75v0.75h-0.75zM320.2 330.8h0.75v0.75h-0.75zM313.4 338.2h0.75v0.75h-0.75zM327.7 337.9h0.75v0.75h-0.75zM329.5 296.7h0.75v0.75h-0.75zM326.1 319.0h0.75v0.75h-0.75zM331.1 340.4h0.75v0.75h-0.75zM328.6 323.9h0.75v0.75h-0.75zM345.4 321.4h0.75v0.75h-0.75zM312.9 342.4h0.75v0.75h-0.75zM309.5 357.1h0.75v0.75h-0.75zM330.4 344.6h0.75v0.75h-0.75zM330.6 330.9h0.75v0.75h-0.75zM310.7 319.6h0.75v0.75h-0.75zM326.6 322.7h0.75v0.75h-0.75zM325.0 315.9h0.75v0.75h-0.75zM315.2 332.2h0.75v0.75h-0.75zM328.1 325.5h0.75v0.75h-0.75zM313.6 303.4h0.75v0.75h-0.75zM338.9 306.7h0.75v0.75h-0.75zM314.5 317.0h0.75v0.75h-0.75zM329.4 314.0h0.75v0.75h-0.75zM326.4 330.0h0.75v0.75h-0.75zM312.1 330.5h0.75v0.75h-0.75zM311.5 325.8h0.75v0.75h-0.75zM328.0 321.8h0.75v0.75h-0.75zM314.0 321.5h0.75v0.75h-0.75zM320.1 331.5h0.75v0.75h-0.75zM302.3 302.3h0.75v0.75h-0.75zM325.7 323.7h0.75v0.75h-0.75zM321.7 329.2h0.75v0.75h-0.75zM320.2 319.6h0.75v0.75h-0.75zM322.4 335.7h0.75v0.75h-0.75zM324.4 325.8h0.75v0.75h-0.75zM312.7 331.0h0.75v0.75h-0.75zM311.7 317.7h0.75v0.75h-0.75zM322.7 327.4h0.75v0.75h-0.75zM330.6 337.3h0.75v0.75h-0.75zM325.6 320.4h0.75v0.75h-0.75zM321.3 322.4h0.75v0.75h-0.75zM336.0 330.1h0.75v0.75h-0.75zM316.0 314.4h0.75v0.75h-0.75zM331.9 311.3h0.75v0.75h-0.75zM324.6 328.0h0.75v0.75h-0.75zM330.4 311.5h0.75v0.75h-0.75zM325.4 328.3h0.75v0.75h-0.75zM328.2 344.9h0.75v0.75h-0.75zM322.4 322.6h0.75v0.75h-0.75zM328.9 304.0h0.75v0.75h-0.75zM323.1 311.3h0.75v0.75h-0.75zM311.4 304.5h0.75v0.75h-0.75zM307.6 340.7h0.75v0.75h-0.75zM328.9 326.3h0.75v0.75h-0.75zM330.2 325.0h0.75v0.75h-0.75zM317.4 310.9h0.75v0.75h-0.75zM328.0 337.0h0.75v0.75h-0.75zM332.2 312.5h0.75v0.75h-0.75zM319.2 306.7h0.75v0.75h-0.75zM331.2 334.9h0.75v0.75h-0.75zM325.9 325.2h0.75v0.75h-0.75zM320.4 321.0h0.75v0.75h-0.75zM330.8 315.3h0.75v0.75h-0.75zM329.1 329.1h0.75v0.75h-0.75zM313.2 306.4h0.75v0.75h-0.75zM315.1 326.8h0.75v0.75h-0.75zM310.8 337.4h0.75v0.75h-0.75zM331.2 332.6h0.75v0.75h-0.75zM307.5 294.1h0.75v0.75h-0.75zM329.0 347.0h0.75v0.75h-0.75zM318.3 334.6h0.75v0.75h-0.75zM319.4 317.2h0.75v0.75h-0.75zM330.0 316.7h0.75v0.75h-0.75zM328.8 350.4h0.75v0.75h-0.75zM320.6 354.1h0.75v0.75h-0.75zM310.6 341.8h0.75v0.75h-0.75zM322.0 314.4h0.75v0.75h-0.75zM335.4 301.2h0.75v0.75h-0.75zM325.4 314.3h0.75v0.75h-0.75zM333.3 322.7h0.75v0.75h-0.75zM328.9 324.4h0.75v0.75h-0.75zM312.4 296.0h0.75v0.75h-0.75zM336.8 327.0h0.75v0.75h-0.75zM311.9 323.3h0.75v0.75h-0.75zM330.0 302.6h0.75v0.75h-0.75zM340.8 319.1h0.75v0.75h-0.75zM318.5 345.8h0.75v0.75h-0.75zM323.4 311.0h0.75v0.75h-0.75zM329.4 331.5h0.75v0.75h-0.75zM331.1 310.8h0.75v0.75h-0.75zM312.1 337.1h0.75v0.75h-0.75zM317.9 294.8h0.75v0.75h-0.75zM316.6 336.3h0.75v0.75h-0.75zM315.4 346.2h0.75v0.75h-0.75zM317.3 325.4h0.75v0.75h-0.75zM307.8 316.6h0.75v0.75h-0.75zM319.9 334.9h0.75v0.75h-0.75zM323.1 341.6h0.75v0.75h-0.75zM303.1 329.6h0.75v0.75h-0.75zM320.3 310.7h0.75v0.75h-0.75zM321.1 315.0h0.75v0.75h-0.75zM325.1 320.2h0.75v0.75h-0.75zM325.8 311.7h0.75v0.75h-0.75zM332.3 330.0h0.75v0.75h-0.75zM336.6 321.3h0.75v0.75h-0.75zM317.2 328.8h0.75v0.75h-0.75zM317.5 311.2h0.75v0.75h-0.75zM321.6 325.0h0.75v0.75h-0.75zM316.0 321.2h0.75v0.75h-0.75zM313.2 329.6h0.75v0.75h-0.75zM310.1 353.3h0.75v0.75h-0.75zM321.8 340.0h0.75v0.75h-0.75zM311.3 333.0h0.75v0.75h-0.75zM320.4 340.9h0.75v0.75h-0.75zM328.9 300.2h0.75v0.75h-0.75zM331.3 302.0h0.75v0.75h-0.75zM332.9 323.2h0.75v0.75h-0.75zM311.3 338.4h0.75v0.75h-0.75zM321.8 311.1h0.75v0.75h-0.75zM315.2 334.3h0.75v0.75h-0.75zM309.8 315.2h0.75v0.75h-0.75zM337.3 311.7h0.75v0.75h-0.75zM324.7 332.1h0.75v0.75h-0.75zM329.7 337.7h0.75v0.75h-0.75zM300.0 322.5h0.75v0.75h-0.75zM331.6 312.4h0.75v0.75h-0.75zM337.1 327.0h0.75v0.75h-0.75zM311.1 336.3h0.75v0.75h-0.75zM338.1 313.0h0.75v0.75h-0.75zM326.3 311.9h0.75v0.75h-0.75zM316.5 328.6h0.75v0.75h-0.75zM325.9 330.6h0.75v0.75h-0.75zM312.3 299.7h0.75v0.75h-0.75zM326.3 328.0h0.75v0.75h-0.75zM309.3 354.1h0.75v0.75h-0.75zM315.5 305.9h0.75v0.75h-0.75zM325.1 335.1h0.75v0.75h-0.75zM341.7 299.4h0.75v0.75h-0.75zM310.6 323.9h0.75v0.75h-0.75zM317.8 325.6h0.75v0.75h-0.75zM315.5 303.7h0.75v0.75h-0.75zM317.7 337.4h0.75v0.75h-0.75zM328.3 315.0h0.75v0.75h-0.75zM326.2 331.5h0.75v0.75h-0.75zM317.3 321.6h0.75v0.75h-0.75zM323.0 312.5h0.75v0.75h-0.75zM320.2 317.9h0.75v0.75h-0.75zM331.3 291.8h0.75v0.75h-0.75zM312.2 340.3h0.75v0.75h-0.75zM325.2 325.9h0.75v0.75h-0.75zM327.8 305.0h0.75v0.75h-0.75zM324.7 308.4h0.75v0.75h-0.75zM310.6 335.6h0.75v0.75h-0.75zM314.7 321.9h0.75v0.75h-0.75zM327.0 309.4h0.75v0.75h-0.75zM326.8 359.1h0.75v0.75h-0.75zM319.9 340.9h0.75v0.75h-0.75z" fill="#000" fill-opacity="0.5" filter="url(#soft)"/>
<path d="M372.7 275.7h0.75v0.75h-0.75zM366.0 284.7h0.75v0.75h-0.75zM363.6 284.0h0.75v0.75h-0.75zM371.1 291.5h0.75v0.75h-0.75zM371.7 300.0h0.75v0.75h-0.75zM369.2 299.0h0.75v0.75h-0.75zM371.9 292.5h0.75v0.75h-0.75zM369.8 295.6h0.75v0.75h-0.75zM367.9 292.5h0.75v0.75h-0.75zM373.8 282.0h0.75v0.75h-0.75zM367.3 278.2h0.75v0.75h-0.75zM370.1 290.1h0.75v0.75h-0.75zM373.0 306.0h0.75v0.75h-0.75zM375.4 291.7h0.75v0.75h-0.75zM369.1 274.7h0.75v0.75h-0.75zM372.9 292.9h0.75v0.75h-0.75zM369.4 284.8h0.75v0.75h-0.75zM370.1 289.8h0.75v0.75h-0.75zM369.9 276.5h0.75v0.75h-0.75zM370.4 291.4h0.75v0.75h-0.75zM375.9 299.4h0.75v0.75h-0.75zM372.1 287.1h0.75v0.75h-0.75zM366.1 280.4h0.75v0.75h-0.75zM366.0 283.8h0.75v0.75h-0.75zM373.6 298.3h0.75v0.75h-0.75zM373.1 288.3h0.75v0.75h-0.75zM373.4 285.6h0.75v0.75h-0.75zM364.1 285.2h0.75v0.75h-0.75zM370.4 270.2h0.75v0.75h-0.75zM368.8 297.6h0.75v0.75h-0.75zM368.2 298.3h0.75v0.75h-0.75zM371.0 280.0h0.75v0.75h-0.75zM364.7 291.3h0.75v0.75h-0.75zM372.4 273.6h0.75v0.75h-0.75zM368.9 296.7h0.75v0.75h-0.75zM367.9 289.4h0.75v0.75h-0.75zM364.1 275.2h0.75v0.75h-0.75zM372.5 276.5h0.75v0.75h-0.75zM365.7 271.4h0.75v0.75h-0.75zM369.1 271.2h0.75v0.75h-0.75zM369.9 291.9h0.75v0.75h-0.75zM375.1 285.1h0.75v0.75h-0.75zM375.3 294.4h0.75v0.75h-0.75zM369.6 291.4h0.75v0.75h-0.75zM375.0 303.2h0.75v0.75h-0.75zM372.6 287.0h0.75v0.75h-0.75zM372.9 290.0h0.75v0.75h-0.75zM370.8 289.5h0.75v0.75h-0.75zM376.0 278.0h0.75v0.75h-0.75zM370.0 276.2h0.75v0.75h-0.75zM373.0 298.6h0.75v0.75h-0.75zM374.5 285.3h0.75v0.75h-0.75zM370.4 294.2h0.75v0.75h-0.75zM370.9 289.8h0.75v0.75h-0.75zM370.9 289.7h0.75v0.75h-0.75zM369.9 290.8h0.75v0.75h-0.75zM365.7 280.7h0.75v0.75h-0.75zM366.1 284.1h0.75v0.75h-0.75zM368.0 290.9h0.75v0.75h-0.75zM374.2 276.8h0.75v0.75h-0.75zM367.8 288.8h0.75v0.75h-0.75zM374.8 296.3h0.75v0.75h-0.75zM371.7 286.9h0.75v0.75h-0.75zM368.9 289.8h0.75v0.75h-0.75zM371.9 289.1h0.75v0.75h-0.75zM368.5 270.7h0.75v0.75h-0.75zM367.6 282.0h0.75v0.75h-0.75zM366.6 288.2h0.75v0.75h-0.75zM365.8 281.9h0.75v0.75h-0.75zM371.4 295.0h0.75v0.75h-0.75zM371.0 298.6h0.75v0.75h-0.75zM368.4 278.6h0.75v0.75h-0.75zM373.7 280.0h0.75v0.75h-0.75zM369.8 270.1h0.75v0.75h-0.75zM373.8 295.2h0.75v0.75h-0.75zM367.9 269.1h0.75v0.75h-0.75zM371.1 289.7h0.75v0.75h-0.75zM373.9 306.0h0.75v0.75h-0.75zM371.0 285.0h0.75v0.75h-0.75zM369.5 283.6h0.75v0.75h-0.75zM366.0 276.3h0.75v0.75h-0.75zM370.0 271.0h0.75v0.75h-0.75zM366.2 296.4h0.75v0.75h-0.75zM368.2 293.4h0.75v0.75h-0.75zM373.7 288.4h0.75v0.75h-0.75zM372.9 286.2h0.75v0.75h-0.75zM367.5 284.5h0.75v0.75h-0.75zM370.5 288.0h0.75v0.75h-0.75zM370.5 283.1h0.75v0.75h-0.75zM373.6 286.4h0.75v0.75h-0.75zM369.0 295.0h0.75v0.75h-0.75zM367.2 285.3h0.75v0.75h-0.75zM374.9 289.5h0.75v0.75h-0.75zM374.7 286.5h0.75v0.75h-0.75zM368.7 284.6h0.75v0.75h-0.75zM368.6 282.7h0.75v0.75h-0.75zM368.9 293.8h0.75v0.75h-0.75zM371.6 285.5h0.75v0.75h-0.75zM368.0 316.1h0.75v0.75h-0.75zM369.7 299.9h0.75v0.75h-0.75zM366.7 278.3h0.75v0.75h-0.75zM374.1 278.3h0.75v0.75h-0.75zM367.0 284.9h0.75v0.75h-0.75zM368.1 283.1h0.75v0.75h-0.75zM370.8 295.4h0.75v0.75h-0.75zM370.9 290.0h0.75v0.75h-0.75zM374.4 302.2h0.75v0.75h-0.75zM369.2 268.9h0.75v0.75h-0.75zM367.2 295.6h0.75v0.75h-0.75zM368.8 279.6h0.75v0.75h-0.75zM368.9 301.3h0.75v0.75h-0.75zM370.5 283.5h0.75v0.75h-0.75zM368.2 275.6h0.75v0.75h-0.75zM379.1 290.6h0.75v0.75h-0.75zM370.8 284.2h0.75v0.75h-0.75zM373.7 279.0h0.75v0.75h-0.75zM364.4 278.8h0.75v0.75h-0.75zM371.4 308.8h0.75v0.75h-0.75zM370.1 278.8h0.75v0.75h-0.75zM369.6 279.3h0.75v0.75h-0.75zM367.9 286.7h0.75v0.75h-0.75zM371.3 281.2h0.75v0.75h-0.75zM373.8 287.9h0.75v0.75h-0.75zM370.7 282.3h0.75v0.75h-0.75zM371.5 291.4h0.75v0.75h-0.75zM372.4 280.3h0.75v0.75h-0.75zM372.3 282.6h0.75v0.75h-0.75zM370.7 294.2h0.75v0.75h-0.75zM375.1 285.0h0.75v0.75h-0.75zM366.9 286.8h0.75v0.75h-0.75zM374.2 285.7h0.75v0.75h-0.75zM377.9 272.8h0.75v0.75h-0.75zM375.1 300.3h0.75v0.75h-0.75zM373.8 280.8h0.75v0.75h-0.75zM374.6 300.1h0.75v0.75h-0.75zM374.3 286.8h0.75v0.75h-0.75zM369.6 299.0h0.75v0.75h-0.75zM371.5 284.2h0.75v0.75h-0.75zM367.8 288.4h0.75v0.75h-0.75zM366.1 290.6h0.75v0.75h-0.75zM370.9 272.7h0.75v0.75h-0.75zM371.8 299.2h0.75v0.75h-0.75zM371.2 274.9h0.75v0.75h-0.75zM368.5 294.2h0.75v0.75h-0.75zM366.3 281.7h0.75v0.75h-0.75zM373.9 286.0h0.75v0.75h-0.75zM368.6 293.9h0.75v0.75h-0.75zM375.4 293.2h0.75v0.75h-0.75zM366.2 269.9h0.75v0.75h-0.75zM369.6 269.6h0.75v0.75h-0.75zM370.1 295.5h0.75v0.75h-0.75zM362.1 281.6h0.75v0.75h-0.75zM371.4 282.4h0.75v0.75h-0.75zM371.6 292.3h0.75v0.75h-0.75zM373.6 314.1h0.75v0.75h-0.75zM371.4 279.0h0.75v0.75h-0.75zM367.2 273.9h0.75v0.75h-0.75zM372.6 291.3h0.75v0.75h-0.75zM371.8 289.6h0.75v0.75h-0.75zM375.3 299.7h0.75v0.75h-0.75zM373.5 282.0h0.75v0.75h-0.75zM369.3 274.2h0.75v0.75h-0.75zM368.3 286.9h0.75v0.75h-0.75zM366.5 279.2h0.75v0.75h-0.75zM376.7 288.2h0.75v0.75h-0.75zM365.7 273.0h0.75v0.75h-0.75zM370.1 294.9h0.75v0.75h-0.75zM370.1 295.1h0.75v0.75h-0.75zM371.3 276.9h0.75v0.75h-0.75zM373.6 284.2h0.75v0.75h-0.75zM376.2 284.2h0.75v0.75h-0.75zM369.9 281.7h0.75v0.75h-0.75zM369.5 291.0h0.75v0.75h-0.75zM369.8 298.0h0.75v0.75h-0.75zM371.7 302.7h0.75v0.75h-0.75zM370.6 299.4h0.75v0.75h-0.75zM374.1 287.5h0.75v0.75h-0.75zM378.3 305.1h0.75v0.75h-0.75zM372.1 286.1h0.75v0.75h-0.75zM370.1 285.4h0.75v0.75h-0.75zM371.3 276.9h0.75v0.75h-0.75zM370.6 281.6h0.75v0.75h-0.75zM375.6 296.9h0.75v0.75h-0.75zM375.6 312.2h0.75v0.75h-0.75zM371.9 307.0h0.75v0.75h-0.75zM371.6 293.8h0.75v0.75h-0.75zM367.5 286.7h0.75v0.75h-0.75zM374.9 294.1h0.75v0.75h-0.75zM369.3 286.9h0.75v0.75h-0.75zM368.1 279.9h0.75v0.75h-0.75zM366.0 295.8h0.75v0.75h-0.75zM373.9 287.9h0.75v0.75h-0.75zM366.3 283.2h0.75v0.75h-0.75zM376.7 277.7h0.75v0.75h-0.75zM368.9 282.2h0.75v0.75h-0.75zM372.9 276.5h0.75v0.75h-0.75zM371.3 280.0h0.75v0.75h-0.75zM369.3 275.4h0.75v0.75h-0.75zM372.1 283.5h0.75v0.75h-0.75zM368.6 296.9h0.75v0.75h-0.75zM371.5 310.2h0.75v0.75h-0.75zM371.8 288.8h0.75v0.75h-0.75zM370.8 313.6h0.75v0.75h-0.75zM374.4 286.5h0.75v0.75h-0.75zM371.5 283.0h0.75v0.75h-0.75zM372.5 283.6h0.75v0.75h-0.75zM368.7 290.8h0.75v0.75h-0.75zM374.7 297.5h0.75v0.75h-0.75zM372.8 288.9h0.75v0.75h-0.75zM362.9 282.4h0.75v0.75h-0.75zM369.8 292.1h0.75v0.75h-0.75zM375.9 297.1h0.75v0.75h-0.75zM365.0 285.1h0.75v0.75h-0.75zM369.7 293.8h0.75v0.75h-0.75zM370.2 269.1h0.75v0.75h-0.75zM367.6 282.9h0.75v0.75h-0.75zM364.0 283.1h0.75v0.75h-0.75zM369.5 297.0h0.75v0.75h-0.75zM370.0 281.1h0.75v0.75h-0.75zM370.0 287.1h0.75v0.75h-0.75zM373.4 279.5h0.75v0.75h-0.75zM363.3 310.0h0.75v0.75h-0.75zM372.7 288.6h0.75v0.75h-0.75zM378.0 279.7h0.75v0.75h-0.75zM367.9 281.8h0.75v0.75h-0.75zM371.9 283.4h0.75v0.75h-0.75zM372.8 284.8h0.75v0.75h-0.75zM374.4 293.3h0.75v0.75h-0.75zM365.1 284.3h0.75v0.75h-0.75zM366.8 284.0h0.75v0.75h-0.75zM370.3 308.3h0.75v0.75h-0.75zM369.6 271.3h0.75v0.75h-0.75zM370.7 276.0h0.75v0.75h-0.75zM376.1 296.3h0.75v0.75h-0.75zM375.3 285.4h0.75v0.75h-0.75zM367.0 288.2h0.75v0.75h-0.75zM366.0 275.7h0.75v0.75h-0.75zM367.9 284.4h0.75v0.75h-0.75zM374.8 283.7h0.75v0.75h-0.75zM369.7 292.3h0.75v0.75h-0.75zM371.7 281.2h0.75v0.75h-0.75zM368.9 301.6h0.75v0.75h-0.75zM374.3 295.9h0.75v0.75h-0.75zM375.6 271.3h0.75v0.75h-0.75zM370.7 284.5h0.75v0.75h-0.75zM364.3 287.4h0.75v0.75h-0.75zM372.4 290.4h0.75v0.75h-0.75zM364.6 282.3h0.75v0.75h-0.75zM371.0 285.1h0.75v0.75h-0.75zM371.3 292.3h0.75v0.75h-0.75zM374.9 291.4h0.75v0.75h-0.75zM378.7 293.0h0.75v0.75h-0.75zM371.3 295.0h0.75v0.75h-0.75zM370.2 284.0h0.75v0.75h-0.75zM374.3 268.5h0.75v0.75h-0.75zM364.8 304.5h0.75v0.75h-0.75zM372.7 293.5h0.75v0.75h-0.75zM371.4 290.4h0.75v0.75h-0.75zM367.4 283.2h0.75v0.75h-0.75zM367.2 296.8h0.75v0.75h-0.75zM372.4 290.5h0.75v0.75h-0.75zM371.7 286.6h0.75v0.75h-0.75zM366.8 302.0h0.75v0.75h-0.75zM372.5 286.6h0.75v0.75h-0.75zM372.3 300.4h0.75v0.75h-0.75zM374.2 295.4h0.75v0.75h-0.75zM373.1 286.4h0.75v0.75h-0.75zM374.7 298.4h0.75v0.75h-0.75zM373.5 276.3h0.75v0.75h-0.75zM372.5 294.7h0.75v0.75h-0.75zM364.5 287.3h0.75v0.75h-0.75zM367.4 289.6h0.75v0.75h-0.75zM370.1 295.4h0.75v0.75h-0.75zM368.6 276.2h0.75v0.75h-0.75zM372.0 285.2h0.75v0.75h-0.75zM380.3 288.2h0.75v0.75h-0.75zM369.6 267.8h0.75v0.75h-0.75zM367.1 284.0h0.75v0.75h-0.75zM371.4 295.0h0.75v0.75h-0.75zM368.0 290.5h0.75v0.75h-0.75zM374.0 283.7h0.75v0.75h-0.75zM370.1 269.5h0.75v0.75h-0.75zM367.7 272.4h0.75v0.75h-0.75zM372.5 286.2h0.75v0.75h-0.75zM375.4 291.1h0.75v0.75h-0.75zM372.9 293.1h0.75v0.75h-0.75zM371.0 276.9h0.75v0.75h-0.75zM375.6 288.5h0.75v0.75h-0.75zM364.5 278.7h0.75v0.75h-0.75zM366.8 296.8h0.75v0.75h-0.75zM373.7 303.3h0.75v0.75h-0.75zM377.3 283.9h0.75v0.75h-0.75zM364.3 275.1h0.75v0.75h-0.75zM368.4 294.3h0.75v0.75h-0.75zM367.6 284.6h0.75v0.75h-0.75zM367.4 302.6h0.75v0.75h-0.75zM376.6 280.0h0.75v0.75h-0.75zM367.6 287.1h0.75v0.75h-0.75zM372.6 292.4h0.75v0.75h-0.75zM372.5 297.9h0.75v0.75h-0.75zM374.4 307.7h0.75v0.75h-0.75zM371.1 283.6h0.75v0.75h-0.75zM370.4 309.7h0.75v0.75h-0.75zM373.4 296.4h0.75v0.75h-0.75zM375.0 302.3h0.75v0.75h-0.75zM378.3 283.9h0.75v0.75h-0.75zM371.4 296.0h0.75v0.75h-0.75zM373.4 285.7h0.75v0.75h-0.75zM365.5 283.2h0.75v0.75h-0.75zM368.5 286.1h0.75v0.75h-0.75zM374.2 296.6h0.75v0.75h-0.75zM367.0 279.1h0.75v0.75h-0.75zM371.3 299.4h0.75v0.75h-0.75zM370.4 290.0h0.75v0.75h-0.75zM365.7 280.9h0.75v0.75h-0.75zM368.0 288.6h0.75v0.75h-0.75zM369.7 278.7h0.75v0.75h-0.75zM367.0 288.0h0.75v0.75h-0.75zM368.4 297.6h0.75v0.75h-0.75zM370.9 285.0h0.75v0.75h-0.75zM373.4 277.0h0.75v0.75h-0.75zM373.4 281.6h0.75v0.75h-0.75zM372.7 281.6h0.75v0.75h-0.75zM367.3 267.8h0.75v0.75h-0.75zM370.5 291.9h0.75v0.75h-0.75zM365.9 302.3h0.75v0.75h-0.75zM370.3 276.0h0.75v0.75h-0.75zM376.6 285.9h0.75v0.75h-0.75zM377.3 292.0h0.75v0.75h-0.75zM370.3 290.1h0.75v0.75h-0.75zM366.6 294.2h0.75v0.75h-0.75zM371.7 290.7h0.75v0.75h-0.75zM368.5 274.7h0.75v0.75h-0.75zM371.5 295.4h0.75v0.75h-0.75zM370.7 285.1h0.75v0.75h-0.75zM368.6 293.0h0.75v0.75h-0.75zM375.0 287.5h0.75v0.75h-0.75zM367.6 309.5h0.75v0.75h-0.75zM365.3 287.0h0.75v0.75h-0.75zM370.0 299.4h0.75v0.75h-0.75zM369.8 270.5h0.75v0.75h-0.75zM366.7 286.2h0.75v0.75h-0.75zM370.2 280.3h0.75v0.75h-0.75zM368.5 270.8h0.75v0.75h-0.75zM365.5 278.5h0.75v0.75h-0.75zM368.1 284.4h0.75v0.75h-0.75zM366.5 300.2h0.75v0.75h-0.75zM364.7 292.7h0.75v0.75h-0.75zM372.1 303.1h0.75v0.75h-0.75zM374.7 276.2h0.75v0.75h-0.75zM371.5 294.9h0.75v0.75h-0.75zM373.4 293.4h0.75v0.75h-0.75zM368.5 298.8h0.75v0.75h-0.75zM370.0 282.2h0.75v0.75h-0.75zM371.0 283.1h0.75v0.75h-0.75zM368.3 287.4h0.75v0.75h-0.75zM378.8 294.2h0.75v0.75h-0.75zM370.7 283.0h0.75v0.75h-0.75zM371.5 276.4h0.75v0.75h-0.75zM372.0 290.6h0.75v0.75h-0.75zM370.7 292.0h0.75v0.75h-0.75zM369.8 293.4h0.75v0.75h-0.75zM372.1 293.5h0.75v0.75h-0.75zM370.4 295.8h0.75v0.75h-0.75zM369.8 299.4h0.75v0.75h-0.75zM370.1 299.4h0.75v0.75h-0.75zM371.2 287.4h0.75v0.75h-0.75zM367.2 291.9h0.75v0.75h-0.75zM371.6 288.3h0.75v0.75h-0.75zM371.7 289.2h0.75v0.75h-0.75zM367.5 274.6h0.75v0.75h-0.75zM372.4 290.0h0.75v0.75h-0.75zM375.3 308.9h0.75v0.75h-0.75zM373.1 294.7h0.75v0.75h-0.75zM372.2 289.2h0.75v0.75h-0.75zM372.9 294.1h0.75v0.75h-0.75zM370.6 288.6h0.75v0.75h-0.75zM373.5 297.6h0.75v0.75h-0.75zM371.1 285.2h0.75v0.75h-0.75zM372.4 295.9h0.75v0.75h-0.75zM377.5 281.8h0.75v0.75h-0.75zM372.0 279.6h0.75v0.75h-0.75zM369.0 309.3h0.75v0.75h-0.75zM369.1 285.5h0.75v0.75h-0.75zM368.6 294.8h0.75v0.75h-0.75zM369.1 270.7h0.75v0.75h-0.75zM370.9 295.5h0.75v0.75h-0.75zM370.4 288.8h0.75v0.75h-0.75zM368.2 277.2h0.75v0.75h-0.75zM370.4 276.3h0.75v0.75h-0.75zM369.0 277.0h0.75v0.75h-0.75zM369.7 294.5h0.75v0.75h-0.75zM370.3 298.1h0.75v0.75h-0.75zM371.5 286.4h0.75v0.75h-0.75zM367.5 286.8h0.75v0.75h-0.75zM366.7 292.7h0.75v0.75h-0.75zM366.1 271.6h0.75v0.75h-0.75zM367.6 269.6h0.75v0.75h-0.75zM370.7 279.7h0.75v0.75h-0.75zM368.9 292.3h0.75v0.75h-0.75zM363.3 281.3h0.75v0.75h-0.75zM371.5 297.3h0.75v0.75h-0.75zM370.8 280.7h0.75v0.75h-0.75zM373.3 297.3h0.75v0.75h-0.75zM377.4 311.0h0.75v0.75h-0.75zM369.7 299.9h0.75v0.75h-0.75zM371.0 277.5h0.75v0.75h-0.75zM372.6 300.6h0.75v0.75h-0.75zM362.9 296.4h0.75v0.75h-0.75zM367.7 301.3h0.75v0.75h-0.75zM371.1 288.8h0.75v0.75h-0.75zM374.8 285.8h0.75v0.75h-0.75zM377.0 280.8h0.75v0.75h-0.75zM368.4 275.6h0.75v0.75h-0.75zM372.0 287.0h0.75v0.75h-0.75zM372.9 298.6h0.75v0.75h-0.75zM372.8 298.5h0.75v0.75h-0.75zM373.8 287.6h0.75v0.75h-0.75zM367.9 276.2h0.75v0.75h-0.75zM372.7 282.7h0.75v0.75h-0.75zM367.2 277.2h0.75v0.75h-0.75zM369.6 288.6h0.75v0.75h-0.75zM369.4 276.3h0.75v0.75h-0.75zM369.2 296.0h0.75v0.75h-0.75zM371.0 298.2h0.75v0.75h-0.75zM370.5 292.1h0.75v0.75h-0.75zM370.3 282.2h0.75v0.75h-0.75zM371.3 296.2h0.75v0.75h-0.75zM363.9 275.5h0.75v0.75h-0.75zM363.4 274.0h0.75v0.75h-0.75zM366.0 279.5h0.75v0.75h-0.75zM369.1 294.7h0.75v0.75h-0.75zM373.9 279.9h0.75v0.75h-0.75zM368.4 291.1h0.75v0.75h-0.75zM368.0 280.9h0.75v0.75h-0.75zM364.1 290.1h0.75v0.75h-0.75zM370.8 276.9h0.75v0.75h-0.75zM365.8 273.6h0.75v0.75h-0.75zM371.4 281.7h0.75v0.75h-0.75zM366.1 280.8h0.75v0.75h-0.75zM372.7 299.1h0.75v0.75h-0.75zM374.3 289.1h0.75v0.75h-0.75zM370.9 289.2h0.75v0.75h-0.75zM372.2 292.7h0.75v0.75h-0.75zM367.0 277.6h0.75v0.75h-0.75zM368.9 292.3h0.75v0.75h-0.75zM368.5 278.0h0.75v0.75h-0.75zM373.3 301.6h0.75v0.75h-0.75zM367.2 283.5h0.75v0.75h-0.75zM373.8 284.0h0.75v0.75h-0.75zM373.0 273.9h0.75v0.75h-0.75zM369.4 292.1h0.75v0.75h-0.75zM374.9 297.5h0.75v0.75h-0.75zM365.0 269.1h0.75v0.75h-0.75zM367.3 292.8h0.75v0.75h-0.75zM372.4 297.6h0.75v0.75h-0.75zM372.3 281.6h0.75v0.75h-0.75zM368.9 277.0h0.75v0.75h-0.75zM372.7 275.2h0.75v0.75h-0.75zM370.3 288.5h0.75v0.75h-0.75zM374.0 280.6h0.75v0.75h-0.75zM371.3 277.1h0.75v0.75h-0.75zM373.3 284.1h0.75v0.75h-0.75zM369.1 276.5h0.75v0.75h-0.75zM368.2 279.0h0.75v0.75h-0.75zM368.2 296.3h0.75v0.75h-0.75zM367.0 287.0h0.75v0.75h-0.75zM372.7 276.5h0.75v0.75h-0.75zM363.3 287.5h0.75v0.75h-0.75zM364.9 276.3h0.75v0.75h-0.75zM369.8 288.6h0.75v0.75h-0.75zM369.2 279.0h0.75v0.75h-0.75zM373.2 289.7h0.75v0.75h-0.75zM376.2 280.3h0.75v0.75h-0.75zM369.8 285.6h0.75v0.75h-0.75zM371.8 289.1h0.75v0.75h-0.75zM370.2 304.9h0.75v0.75h-0.75zM369.6 290.1h0.75v0.75h-0.75zM370.7 280.6h0.75v0.75h-0.75zM372.4 269.4h0.75v0.75h-0.75zM373.7 273.0h0.75v0.75h-0.75zM369.1 286.7h0.75v0.75h-0.75zM368.6 280.5h0.75v0.75h-0.75zM373.9 310.7h0.75v0.75h-0.75zM373.4 289.2h0.75v0.75h-0.75zM368.1 277.9h0.75v0.75h-0.75zM373.9 296.4h0.75v0.75h-0.75zM374.3 297.6h0.75v0.75h-0.75zM374.3 282.4h0.75v0.75h-0.75zM367.6 275.4h0.75v0.75h-0.75zM370.0 284.3h0.75v0.75h-0.75zM370.4 274.8h0.75v0.75h-0.75zM370.6 294.1h0.75v0.75h-0.75zM370.0 282.7h0.75v0.75h-0.75zM373.0 285.9h0.75v0.75h-0.75zM372.1 283.4h0.75v0.75h-0.75zM371.1 295.8h0.75v0.75h-0.75zM369.2 288.7h0.75v0.75h-0.75zM370.6 292.2h0.75v0.75h-0.75zM369.7 290.5h0.75v0.75h-0.75zM364.4 281.3h0.75v0.75h-0.75zM372.7 293.7h0.75v0.75h-0.75zM367.1 277.2h0.75v0.75h-0.75zM371.3 290.1h0.75v0.75h-0.75zM371.5 287.4h0.75v0.75h-0.75zM370.4 296.1h0.75v0.75h-0.75zM367.2 271.7h0.75v0.75h-0.75zM373.2 280.3h0.75v0.75h-0.75zM372.2 280.7h0.75v0.75h-0.75zM366.6 299.1h0.75v0.75h-0.75zM369.9 272.7h0.75v0.75h-0.75zM369.4 284.1h0.75v0.75h-0.75zM369.4 287.3h0.75v0.75h-0.75zM366.5 281.7h0.75v0.75h-0.75zM371.5 292.5h0.75v0.75h-0.75zM370.3 278.5h0.75v0.75h-0.75zM363.9 296.9h0.75v0.75h-0.75zM366.6 280.1h0.75v0.75h-0.75zM370.1 290.2h0.75v0.75h-0.75zM370.0 278.2h0.75v0.75h-0.75zM369.9 305.4h0.75v0.75h-0.75zM377.8 287.5h0.75v0.75h-0.75zM372.1 270.4h0.75v0.75h-0.75zM370.7 293.0h0.75v0.75h-0.75zM369.1 302.8h0.75v0.75h-0.75zM372.8 293.1h0.75v0.75h-0.75zM361.9 276.5h0.75v0.75h-0.75zM372.3 282.5h0.75v0.75h-0.75zM364.6 278.1h0.75v0.75h-0.75zM374.8 294.7h0.75v0.75h-0.75zM372.8 289.2h0.75v0.75h-0.75zM366.4 302.5h0.75v0.75h-0.75zM373.4 290.0h0.75v0.75h-0.75zM369.0 268.6h0.75v0.75h-0.75zM368.8 284.2h0.75v0.75h-0.75zM367.2 297.8h0.75v0.75h-0.75zM373.3 285.0h0.75v0.75h-0.75zM372.9 287.1h0.75v0.75h-0.75zM371.0 282.1h0.75v0.75h-0.75zM377.8 275.6h0.75v0.75h-0.75zM369.7 295.8h0.75v0.75h-0.75zM373.3 272.4h0.75v0.75h-0.75zM367.2 284.0h0.75v0.75h-0.75zM367.6 278.8h0.75v0.75h-0.75zM369.3 284.4h0.75v0.75h-0.75zM373.6 271.8h0.75v0.75h-0.75zM373.4 285.6h0.75v0.75h-0.75zM371.9 283.8h0.75v0.75h-0.75zM377.4 272.6h0.75v0.75h-0.75zM373.8 283.8h0.75v0.75h-0.75zM369.4 299.4h0.75v0.75h-0.75zM369.5 294.5h0.75v0.75h-0.75zM374.7 282.8h0.75v0.75h-0.75zM376.5 301.1h0.75v0.75h-0.75zM369.5 288.2h0.75v0.75h-0.75zM367.9 288.1h0.75v0.75h-0.75zM372.9 297.1h0.75v0.75h-0.75zM370.9 281.9h0.75v0.75h-0.75zM368.2 276.5h0.75v0.75h-0.75zM369.3 291.7h0.75v0.75h-0.75zM368.4 279.2h0.75v0.75h-0.75zM366.9 290.3h0.75v0.75h-0.75zM369.4 270.8h0.75v0.75h-0.75zM373.6 298.0h0.75v0.75h-0.75zM370.2 283.1h0.75v0.75h-0.75zM370.1 277.6h0.75v0.75h-0.75zM373.3 300.9h0.75v0.75h-0.75zM373.4 290.1h0.75v0.75h-0.75zM370.9 291.7h0.75v0.75h-0.75zM375.5 281.3h0.75v0.75h-0.75zM370.1 279.9h0.75v0.75h-0.75zM366.4 287.8h0.75v0.75h-0.75zM373.7 278.0h0.75v0.75h-0.75zM373.2 294.1h0.75v0.75h-0.75zM371.6 299.9h0.75v0.75h-0.75zM368.1 300.6h0.75v0.75h-0.75zM369.1 291.0h0.75v0.75h-0.75zM365.4 293.3h0.75v0.75h-0.75zM370.3 281.1h0.75v0.75h-0.75zM367.0 286.8h0.75v0.75h-0.75zM374.3 293.2h0.75v0.75h-0.75zM369.1 278.6h0.75v0.75h-0.75zM366.9 281.7h0.75v0.75h-0.75zM365.2 280.5h0.75v0.75h-0.75zM373.5 287.3h0.75v0.75h-0.75zM369.7 280.4h0.75v0.75h-0.75zM372.3 293.2h0.75v0.75h-0.75zM374.5 281.7h0.75v0.75h-0.75zM366.7 278.9h0.75v0.75h-0.75zM366.3 284.0h0.75v0.75h-0.75zM368.8 277.5h0.75v0.75h-0.75zM369.9 295.5h0.75v0.75h-0.75zM372.3 281.3h0.75v0.75h-0.75zM370.2 289.1h0.75v0.75h-0.75zM372.1 283.8h0.75v0.75h-0.75zM366.1 287.5h0.75v0.75h-0.75zM367.1 281.2h0.75v0.75h-0.75zM369.3 294.4h0.75v0.75h-0.75zM368.6 287.0h0.75v0.75h-0.75zM369.4 280.6h0.75v0.75h-0.75zM372.8 283.0h0.75v0.75h-0.75zM371.6 289.5h0.75v0.75h-0.75zM364.3 268.0h0.75v0.75h-0.75zM360.3 284.4h0.75v0.75h-0.75zM370.9 281.5h0.75v0.75h-0.75zM368.5 282.3h0.75v0.75h-0.75zM368.1 284.8h0.75v0.75h-0.75zM370.0 277.7h0.75v0.75h-0.75zM374.5 297.6h0.75v0.75h-0.75zM368.8 305.9h0.75v0.75h-0.75zM377.7 301.3h0.75v0.75h-0.75zM373.8 282.4h0.75v0.75h-0.75zM369.1 270.9h0.75v0.75h-0.75zM368.8 294.7h0.75v0.75h-0.75zM368.8 269.9h0.75v0.75h-0.75zM375.1 306.9h0.75v0.75h-0.75zM374.8 274.0h0.75v0.75h-0.75zM372.7 279.6h0.75v0.75h-0.75zM369.7 292.6h0.75v0.75h-0.75zM374.9 282.5h0.75v0.75h-0.75zM369.0 273.9h0.75v0.75h-0.75zM370.1 277.1h0.75v0.75h-0.75zM368.6 292.7h0.75v0.75h-0.75zM370.1 287.4h0.75v0.75h-0.75zM371.0 294.2h0.75v0.75h-0.75zM374.4 277.3h0.75v0.75h-0.75zM365.1 288.8h0.75v0.75h-0.75zM372.3 300.4h0.75v0.75h-0.75zM372.6 303.7h0.75v0.75h-0.75zM371.7 281.0h0.75v0.75h-0.75zM373.3 279.3h0.75v0.75h-0.75zM368.0 289.1h0.75v0.75h-0.75zM369.3 294.7h0.75v0.75h-0.75zM369.0 303.0h0.75v0.75h-0.75zM367.0 291.5h0.75v0.75h-0.75zM368.7 299.0h0.75v0.75h-0.75zM368.4 292.7h0.75v0.75h-0.75zM360.3 274.8h0.75v0.75h-0.75zM375.3 290.5h0.75v0.75h-0.75zM370.4 294.9h0.75v0.75h-0.75zM377.7 279.5h0.75v0.75h-0.75zM369.9 282.0h0.75v0.75h-0.75zM372.4 280.8h0.75v0.75h-0.75zM365.3 269.8h0.75v0.75h-0.75zM372.2 289.4h0.75v0.75h-0.75zM372.9 272.6h0.75v0.75h-0.75zM367.4 280.0h0.75v0.75h-0.75zM372.8 291.9h0.75v0.75h-0.75zM369.7 276.7h0.75v0.75h-0.75zM370.8 282.2h0.75v0.75h-0.75zM373.0 304.2h0.75v0.75h-0.75zM370.6 276.1h0.75v0.75h-0.75zM377.6 295.9h0.75v0.75h-0.75zM371.9 288.4h0.75v0.75h-0.75zM370.7 287.7h0.75v0.75h-0.75zM371.0 272.8h0.75v0.75h-0.75zM368.0 284.7h0.75v0.75h-0.75zM370.7 288.6h0.75v0.75h-0.75zM371.6 270.0h0.75v0.75h-0.75zM367.2 278.9h0.75v0.75h-0.75zM370.6 284.9h0.75v0.75h-0.75zM376.4 285.8h0.75v0.75h-0.75zM369.5 271.6h0.75v0.75h-0.75zM375.9 290.0h0.75v0.75h-0.75zM369.9 280.3h0.75v0.75h-0.75zM370.5 283.4h0.75v0.75h-0.75zM374.0 280.7h0.75v0.75h-0.75zM368.9 281.0h0.75v0.75h-0.75zM372.1 290.6h0.75v0.75h-0.75zM373.3 293.1h0.75v0.75h-0.75zM372.0 288.0h0.75v0.75h-0.75zM373.1 292.5h0.75v0.75h-0.75zM371.3 272.0h0.75v0.75h-0.75zM368.8 279.5h0.75v0.75h-0.75zM364.6 296.4h0.75v0.75h-0.75zM374.7 298.9h0.75v0.75h-0.75zM372.0 301.5h0.75v0.75h-0.75zM365.0 296.2h0.75v0.75h-0.75zM363.9 285.2h0.75v0.75h-0.75zM370.6 291.6h0.75v0.75h-0.75zM372.3 294.2h0.75v0.75h-0.75zM368.0 279.1h0.75v0.75h-0.75zM367.6 286.5h0.75v0.75h-0.75zM369.1 271.0h0.75v0.75h-0.75zM373.2 277.1h0.75v0.75h-0.75zM368.7 278.8h0.75v0.75h-0.75zM367.9 290.9h0.75v0.75h-0.75zM368.0 271.9h0.75v0.75h-0.75zM368.1 275.8h0.75v0.75h-0.75z" fill="#000" fill-opacity="1.0" filter="url(#soft)"/>
<path d="M356.2 298.9h0.75v0.75h-0.75zM375.1 270.6h0.75v0.75h-0.75zM378.0 310.0h0.75v0.75h-0.75zM357.2 293.0h0.75v0.75h-0.75zM365.0 297.9h0.75v0.75h-0.75zM346.3 295.4h0.75v0.75h-0.75zM364.4 293.7h0.75v0.75h-0.75zM366.6 287.9h0.75v0.75h-0.75zM371.2 301.6h0.75v0.75h-0.75zM372.3 278.6h0.75v0.75h-0.75zM371.9 278.8h0.75v0.75h-0.75zM372.4 285.8h0.75v0.75h-0.75zM365.7 289.6h0.75v0.75h-0.75zM355.8 284.1h0.75v0.75h-0.75zM358.6 299.1h0.75v0.75h-0.75zM375.9 270.5h0.75v0.75h-0.75zM351.2 290.8h0.75v0.75h-0.75zM362.9 276.7h0.75v0.75h-0.75zM383.0 282.9h0.75v0.75h-0.75zM359.7 284.6h0.75v0.75h-0.75zM369.0 306.9h0.75v0.75h-0.75zM369.1 272.9h0.75v0.75h-0.75zM363.5 310.1h0.75v0.75h-0.75zM354.8 287.4h0.75v0.75h-0.75zM375.2 291.2h0.75v0.75h-0.75zM365.5 277.3h0.75v0.75h-0.75zM368.1 294.3h0.75v0.75h-0.75zM368.5 300.3h0.75v0.75h-0.75zM368.4 303.5h0.75v0.75h-0.75zM368.0 299.0h0.75v0.75h-0.75zM364.7 309.0h0.75v0.75h-0.75zM375.8 296.4h0.75v0.75h-0.75zM360.1 290.3h0.75v0.75h-0.75zM346.4 283.7h0.75v0.75h-0.75zM368.2 277.7h0.75v0.75h-0.75zM368.2 296.1h0.75v0.75h-0.75zM379.8 288.3h0.75v0.75h-0.75zM365.9 299.0h0.75v0.75h-0.75zM375.0 289.3h0.75v0.75h-0.75zM362.5 279.7h0.75v0.75h-0.75zM366.1 289.3h0.75v0.75h-0.75zM371.3 289.6h0.75v0.75h-0.75zM381.2 290.1h0.75v0.75h-0.75zM370.6 300.8h0.75v0.75h-0.75zM373.8 280.4h0.75v0.75h-0.75zM355.8 272.6h0.75v0.75h-0.75zM369.7 295.4h0.75v0.75h-0.75zM369.6 297.8h0.75v0.75h-0.75zM376.3 279.0h0.75v0.75h-0.75zM385.1 320.3h0.75v0.75h-0.75zM372.5 286.2h0.75v0.75h-0.75zM369.0 271.4h0.75v0.75h-0.75zM367.4 278.5h0.75v0.75h-0.75zM366.5 284.5h0.75v0.75h-0.75zM381.7 278.0h0.75v0.75h-0.75zM369.4 283.5h0.75v0.75h-0.75zM378.3 301.2h0.75v0.75h-0.75zM356.5 276.5h0.75v0.75h-0.75zM369.2 280.9h0.75v0.75h-0.75zM370.4 289.4h0.75v0.75h-0.75zM359.7 284.8h0.75v0.75h-0.75zM370.6 287.5h0.75v0.75h-0.75zM368.2 292.9h0.75v0.75h-0.75zM366.4 304.6h0.75v0.75h-0.75zM358.4 294.1h0.75v0.75h-0.75zM363.6 293.3h0.75v0.75h-0.75zM373.2 296.1h0.75v0.75h-0.75zM372.0 297.6h0.75v0.75h-0.75zM371.0 285.6h0.75v0.75h-0.75zM372.4 300.1h0.75v0.75h-0.75zM373.3 291.8h0.75v0.75h-0.75zM361.5 286.0h0.75v0.75h-0.75zM374.3 302.8h0.75v0.75h-0.75zM368.2 274.8h0.75v0.75h-0.75zM370.6 300.2h0.75v0.75h-0.75zM372.6 279.9h0.75v0.75h-0.75zM359.6 277.5h0.75v0.75h-0.75zM359.6 300.4h0.75v0.75h-0.75zM369.4 314.3h0.75v0.75h-0.75zM378.8 300.5h0.75v0.75h-0.75zM362.4 296.3h0.75v0.75h-0.75zM370.3 271.4h0.75v0.75h-0.75zM358.2 279.4h0.75v0.75h-0.75zM376.0 283.5h0.75v0.75h-0.75zM357.4 289.3h0.75v0.75h-0.75zM371.4 273.6h0.75v0.75h-0.75zM380.6 279.2h0.75v0.75h-0.75zM374.6 296.5h0.75v0.75h-0.75zM362.0 286.8h0.75v0.75h-0.75zM367.2 283.9h0.75v0.75h-0.75zM372.4 288.8h0.75v0.75h-0.75zM354.9 289.3h0.75v0.75h-0.75zM359.0 285.3h0.75v0.75h-0.75zM368.7 286.8h0.75v0.75h-0.75zM374.2 287.2h0.75v0.75h-0.75zM363.4 308.0h0.75v0.75h-0.75zM372.2 286.5h0.75v0.75h-0.75zM367.1 283.3h0.75v0.75h-0.75zM367.6 276.5h0.75v0.75h-0.75zM379.5 303.0h0.75v0.75h-0.75zM351.2 276.5h0.75v0.75h-0.75zM366.7 280.3h0.75v0.75h-0.75zM352.0 296.5h0.75v0.75h-0.75zM358.7 296.3h0.75v0.75h-0.75zM370.2 306.4h0.75v0.75h-0.75zM360.7 310.1h0.75v0.75h-0.75zM358.4 306.2h0.75v0.75h-0.75zM374.5 293.3h0.75v0.75h-0.75zM359.4 307.6h0.75v0.75h-0.75zM372.7 268.0h0.75v0.75h-0.75zM348.7 280.1h0.75v0.75h-0.75zM361.0 296.7h0.75v0.75h-0.75zM368.0 291.9h0.75v0.75h-0.75zM363.4 299.6h0.75v0.75h-0.75zM363.0 269.8h0.75v0.75h-0.75zM350.1 294.4h0.75v0.75h-0.75zM362.8 267.3h0.75v0.75h-0.75zM360.8 283.3h0.75v0.75h-0.75zM364.2 297.1h0.75v0.75h-0.75zM370.4 298.1h0.75v0.75h-0.75zM381.1 277.9h0.75v0.75h-0.75zM362.9 301.3h0.75v0.75h-0.75zM378.6 292.5h0.75v0.75h-0.75zM365.0 274.4h0.75v0.75h-0.75zM371.7 292.7h0.75v0.75h-0.75zM359.7 282.2h0.75v0.75h-0.75zM360.4 295.6h0.75v0.75h-0.75zM366.3 303.6h0.75v0.75h-0.75zM376.9 292.6h0.75v0.75h-0.75zM375.8 301.3h0.75v0.75h-0.75zM378.0 283.0h0.75v0.75h-0.75zM371.9 311.2h0.75v0.75h-0.75zM372.2 283.9h0.75v0.75h-0.75zM369.3 316.7h0.75v0.75h-0.75zM364.8 281.4h0.75v0.75h-0.75zM374.0 284.5h0.75v0.75h-0.75zM356.5 269.9h0.75v0.75h-0.75zM367.7 281.5h0.75v0.75h-0.75zM378.0 281.8h0.75v0.75h-0.75zM357.8 279.7h0.75v0.75h-0.75zM358.9 303.4h0.75v0.75h-0.75zM362.1 307.4h0.75v0.75h-0.75zM371.7 313.9h0.75v0.75h-0.75zM366.9 299.5h0.75v0.75h-0.75zM352.9 283.5h0.75v0.75h-0.75zM362.4 303.2h0.75v0.75h-0.75zM366.8 297.4h0.75v0.75h-0.75zM362.6 273.5h0.75v0.75h-0.75zM367.1 305.1h0.75v0.75h-0.75zM367.4 308.4h0.75v0.75h-0.75zM365.4 285.0h0.75v0.75h-0.75zM365.2 286.1h0.75v0.75h-0.75zM362.8 286.4h0.75v0.75h-0.75zM362.0 276.7h0.75v0.75h-0.75zM378.5 300.0h0.75v0.75h-0.75zM365.6 281.9h0.75v0.75h-0.75zM356.6 296.4h0.75v0.75h-0.75zM363.0 312.8h0.75v0.75h-0.75zM355.4 293.4h0.75v0.75h-0.75zM376.4 282.8h0.75v0.75h-0.75zM382.2 301.6h0.75v0.75h-0.75zM374.8 278.9h0.75v0.75h-0.75zM375.1 301.7h0.75v0.75h-0.75zM368.8 311.3h0.75v0.75h-0.75zM370.3 310.8h0.75v0.75h-0.75zM363.6 298.6h0.75v0.75h-0.75zM363.3 289.5h0.75v0.75h-0.75zM348.6 267.4h0.75v0.75h-0.75zM365.7 282.4h0.75v0.75h-0.75zM354.5 298.0h0.75v0.75h-0.75zM370.3 278.6h0.75v0.75h-0.75zM353.0 296.3h0.75v0.75h-0.75zM364.2 298.1h0.75v0.75h-0.75zM375.8 284.9h0.75v0.75h-0.75zM366.0 298.3h0.75v0.75h-0.75zM371.8 292.6h0.75v0.75h-0.75zM363.3 295.0h0.75v0.75h-0.75zM364.6 283.5h0.75v0.75h-0.75zM372.9 271.6h0.75v0.75h-0.75zM355.7 286.4h0.75v0.75h-0.75zM357.8 298.8h0.75v0.75h-0.75zM361.8 267.0h0.75v0.75h-0.75zM376.9 287.8h0.75v0.75h-0.75zM372.0 294.5h0.75v0.75h-0.75zM368.5 275.4h0.75v0.75h-0.75zM372.7 284.1h0.75v0.75h-0.75zM376.2 285.3h0.75v0.75h-0.75zM373.8 286.8h0.75v0.75h-0.75zM374.3 287.7h0.75v0.75h-0.75zM361.0 295.1h0.75v0.75h-0.75zM355.9 269.2h0.75v0.75h-0.75zM366.6 297.3h0.75v0.75h-0.75zM375.0 287.1h0.75v0.75h-0.75zM366.3 290.7h0.75v0.75h-0.75zM365.6 282.0h0.75v0.75h-0.75zM370.6 282.0h0.75v0.75h-0.75zM365.6 302.8h0.75v0.75h-0.75zM368.7 281.9h0.75v0.75h-0.75zM372.1 286.4h0.75v0.75h-0.75zM371.9 277.7h0.75v0.75h-0.75zM361.6 270.8h0.75v0.75h-0.75zM375.1 305.2h0.75v0.75h-0.75zM375.5 292.5h0.75v0.75h-0.75zM368.5 285.3h0.75v0.75h-0.75zM371.2 285.9h0.75v0.75h-0.75zM359.9 300.2h0.75v0.75h-0.75zM373.4 294.5h0.75v0.75h-0.75zM366.6 283.5h0.75v0.75h-0.75zM367.7 290.6h0.75v0.75h-0.75zM358.8 282.6h0.75v0.75h-0.75zM359.6 301.5h0.75v0.75h-0.75zM357.5 273.4h0.75v0.75h-0.75zM360.8 289.9h0.75v0.75h-0.75zM360.5 309.2h0.75v0.75h-0.75zM368.5 292.1h0.75v0.75h-0.75zM358.1 286.8h0.75v0.75h-0.75zM367.5 280.2h0.75v0.75h-0.75zM366.2 291.9h0.75v0.75h-0.75zM363.3 287.1h0.75v0.75h-0.75zM358.5 295.4h0.75v0.75h-0.75z" fill="#000" fill-opacity="0.45" filter="url(#soft)"/>
<path d="M322.6 270.3h0.75v0.75h-0.75zM330.3 285.6h0.75v0.75h-0.75zM302.0 295.9h0.75v0.75h-0.75zM342.5 287.8h0.75v0.75h-0.75zM303.2 274.6h0.75v0.75h-0.75zM300.2 276.1h0.75v0.75h-0.75zM324.4 293.7h0.75v0.75h-0.75zM336.3 291.4h0.75v0.75h-0.75zM337.5 275.9h0.75v0.75h-0.75zM317.6 283.1h0.75v0.75h-0.75zM314.7 278.2h0.75v0.75h-0.75zM330.0 292.5h0.75v0.75h-0.75zM301.3 270.0h0.75v0.75h-0.75zM328.5 268.8h0.75v0.75h-0.75zM297.5 297.9h0.75v0.75h-0.75zM297.2 274.9h0.75v0.75h-0.75zM324.5 275.0h0.75v0.75h-0.75zM323.7 293.2h0.75v0.75h-0.75zM314.8 294.8h0.75v0.75h-0.75zM308.3 285.8h0.75v0.75h-0.75zM336.8 273.5h0.75v0.75h-0.75zM326.9 275.3h0.75v0.75h-0.75zM309.2 273.5h0.75v0.75h-0.75zM303.0 268.1h0.75v0.75h-0.75zM329.9 268.8h0.75v0.75h-0.75zM342.7 281.3h0.75v0.75h-0.75zM334.2 285.4h0.75v0.75h-0.75zM306.7 272.1h0.75v0.75h-0.75zM301.6 268.7h0.75v0.75h-0.75zM325.9 273.6h0.75v0.75h-0.75zM300.3 271.1h0.75v0.75h-0.75zM334.6 270.5h0.75v0.75h-0.75zM300.3 275.7h0.75v0.75h-0.75zM311.1 275.9h0.75v0.75h-0.75zM300.9 271.4h0.75v0.75h-0.75zM297.5 271.5h0.75v0.75h-0.75zM307.5 269.0h0.75v0.75h-0.75zM309.6 282.3h0.75v0.75h-0.75zM331.1 270.0h0.75v0.75h-0.75zM320.4 287.3h0.75v0.75h-0.75zM339.4 295.1h0.75v0.75h-0.75zM315.1 274.2h0.75v0.75h-0.75zM320.6 274.6h0.75v0.75h-0.75zM328.0 290.1h0.75v0.75h-0.75zM320.0 284.4h0.75v0.75h-0.75zM314.5 269.6h0.75v0.75h-0.75zM332.5 296.1h0.75v0.75h-0.75zM335.3 269.1h0.75v0.75h-0.75zM338.5 284.6h0.75v0.75h-0.75zM306.2 274.0h0.75v0.75h-0.75zM318.1 290.7h0.75v0.75h-0.75zM317.7 272.4h0.75v0.75h-0.75zM336.1 284.0h0.75v0.75h-0.75zM307.5 282.3h0.75v0.75h-0.75zM308.6 280.5h0.75v0.75h-0.75zM330.9 282.0h0.75v0.75h-0.75zM337.5 281.3h0.75v0.75h-0.75zM336.0 276.4h0.75v0.75h-0.75zM298.8 281.9h0.75v0.75h-0.75zM318.2 272.2h0.75v0.75h-0.75zM313.8 272.0h0.75v0.75h-0.75zM333.9 285.1h0.75v0.75h-0.75zM317.4 282.0h0.75v0.75h-0.75zM306.5 285.5h0.75v0.75h-0.75zM296.6 283.8h0.75v0.75h-0.75zM342.1 286.0h0.75v0.75h-0.75zM338.9 276.2h0.75v0.75h-0.75zM323.3 297.5h0.75v0.75h-0.75zM327.8 275.8h0.75v0.75h-0.75zM323.3 275.5h0.75v0.75h-0.75zM313.5 276.3h0.75v0.75h-0.75zM310.8 269.1h0.75v0.75h-0.75zM320.8 297.7h0.75v0.75h-0.75zM310.7 293.5h0.75v0.75h-0.75zM323.4 297.2h0.75v0.75h-0.75zM319.5 281.7h0.75v0.75h-0.75zM317.6 292.9h0.75v0.75h-0.75zM298.7 291.8h0.75v0.75h-0.75zM333.5 274.4h0.75v0.75h-0.75zM331.7 284.2h0.75v0.75h-0.75zM336.5 269.8h0.75v0.75h-0.75zM305.0 292.2h0.75v0.75h-0.75zM318.8 278.5h0.75v0.75h-0.75zM326.5 292.9h0.75v0.75h-0.75zM331.2 286.5h0.75v0.75h-0.75zM319.2 284.9h0.75v0.75h-0.75zM318.0 276.2h0.75v0.75h-0.75zM343.8 291.6h0.75v0.75h-0.75zM317.4 274.4h0.75v0.75h-0.75zM343.7 272.0h0.75v0.75h-0.75zM319.0 277.5h0.75v0.75h-0.75zM308.6 288.2h0.75v0.75h-0.75zM313.8 289.7h0.75v0.75h-0.75zM332.1 270.5h0.75v0.75h-0.75zM320.3 295.6h0.75v0.75h-0.75zM333.8 274.0h0.75v0.75h-0.75zM332.4 294.5h0.75v0.75h-0.75zM321.6 284.6h0.75v0.75h-0.75zM333.2 297.5h0.75v0.75h-0.75zM309.0 270.6h0.75v0.75h-0.75zM305.9 285.6h0.75v0.75h-0.75zM334.3 282.4h0.75v0.75h-0.75zM299.4 273.7h0.75v0.75h-0.75zM299.3 290.5h0.75v0.75h-0.75zM300.8 282.1h0.75v0.75h-0.75zM314.6 293.9h0.75v0.75h-0.75zM300.8 293.1h0.75v0.75h-0.75zM304.9 275.0h0.75v0.75h-0.75zM330.4 277.9h0.75v0.75h-0.75zM302.6 275.7h0.75v0.75h-0.75zM318.5 290.3h0.75v0.75h-0.75zM324.5 293.0h0.75v0.75h-0.75zM342.1 291.9h0.75v0.75h-0.75zM312.2 268.0h0.75v0.75h-0.75zM301.1 286.2h0.75v0.75h-0.75zM335.5 269.0h0.75v0.75h-0.75zM305.1 297.7h0.75v0.75h-0.75zM333.7 294.8h0.75v0.75h-0.75zM302.9 278.9h0.75v0.75h-0.75zM296.7 278.5h0.75v0.75h-0.75zM338.2 271.3h0.75v0.75h-0.75zM328.2 284.5h0.75v0.75h-0.75zM300.8 287.5h0.75v0.75h-0.75zM308.6 289.9h0.75v0.75h-0.75zM334.8 272.3h0.75v0.75h-0.75zM301.1 284.5h0.75v0.75h-0.75zM339.1 289.0h0.75v0.75h-0.75zM301.5 292.5h0.75v0.75h-0.75zM322.6 268.5h0.75v0.75h-0.75zM305.0 282.6h0.75v0.75h-0.75zM322.9 277.0h0.75v0.75h-0.75zM304.7 284.4h0.75v0.75h-0.75zM301.7 284.2h0.75v0.75h-0.75zM313.8 279.8h0.75v0.75h-0.75zM330.8 296.8h0.75v0.75h-0.75zM321.8 286.9h0.75v0.75h-0.75zM323.1 277.5h0.75v0.75h-0.75zM321.1 296.2h0.75v0.75h-0.75zM323.9 278.3h0.75v0.75h-0.75zM303.1 291.5h0.75v0.75h-0.75zM318.0 290.4h0.75v0.75h-0.75zM300.3 272.1h0.75v0.75h-0.75zM301.0 278.5h0.75v0.75h-0.75zM307.3 275.1h0.75v0.75h-0.75zM297.4 296.6h0.75v0.75h-0.75zM303.4 281.0h0.75v0.75h-0.75zM315.6 294.4h0.75v0.75h-0.75zM297.0 286.4h0.75v0.75h-0.75zM343.8 291.0h0.75v0.75h-0.75zM339.2 274.9h0.75v0.75h-0.75zM331.7 279.4h0.75v0.75h-0.75zM308.7 292.7h0.75v0.75h-0.75zM326.8 289.2h0.75v0.75h-0.75zM304.8 295.8h0.75v0.75h-0.75zM344.5 291.3h0.75v0.75h-0.75zM331.0 288.1h0.75v0.75h-0.75zM315.9 288.2h0.75v0.75h-0.75zM318.4 276.2h0.75v0.75h-0.75zM315.0 272.3h0.75v0.75h-0.75zM338.1 285.7h0.75v0.75h-0.75zM326.7 285.8h0.75v0.75h-0.75zM301.2 294.0h0.75v0.75h-0.75zM300.6 275.6h0.75v0.75h-0.75zM334.9 275.4h0.75v0.75h-0.75zM310.3 295.7h0.75v0.75h-0.75zM317.1 282.5h0.75v0.75h-0.75zM325.8 282.6h0.75v0.75h-0.75zM310.4 287.5h0.75v0.75h-0.75zM332.9 268.3h0.75v0.75h-0.75zM330.5 273.5h0.75v0.75h-0.75z" fill="#000" fill-opacity="0.38" filter="url(#soft)"/>
<path d="M333.1 293.2h0.75v0.75h-0.75zM312.2 295.1h0.75v0.75h-0.75zM309.3 291.2h0.75v0.75h-0.75zM313.7 294.5h0.75v0.75h-0.75zM319.3 290.1h0.75v0.75h-0.75zM324.7 295.4h0.75v0.75h-0.75zM324.4 298.6h0.75v0.75h-0.75zM311.5 295.0h0.75v0.75h-0.75zM338.8 293.1h0.75v0.75h-0.75zM299.8 297.9h0.75v0.75h-0.75zM320.0 296.3h0.75v0.75h-0.75zM324.8 296.1h0.75v0.75h-0.75zM334.3 293.7h0.75v0.75h-0.75zM329.9 286.5h0.75v0.75h-0.75zM313.1 292.4h0.75v0.75h-0.75zM337.9 288.8h0.75v0.75h-0.75zM318.5 296.3h0.75v0.75h-0.75zM316.7 286.5h0.75v0.75h-0.75zM302.3 296.9h0.75v0.75h-0.75zM310.7 294.7h0.75v0.75h-0.75zM327.1 288.0h0.75v0.75h-0.75zM326.5 282.3h0.75v0.75h-0.75zM320.8 287.8h0.75v0.75h-0.75zM324.3 294.0h0.75v0.75h-0.75zM323.8 296.1h0.75v0.75h-0.75zM315.5 285.7h0.75v0.75h-0.75zM309.5 298.0h0.75v0.75h-0.75zM311.5 291.2h0.75v0.75h-0.75zM325.5 292.2h0.75v0.75h-0.75zM312.0 282.4h0.75v0.75h-0.75zM331.4 290.1h0.75v0.75h-0.75zM305.6 289.7h0.75v0.75h-0.75zM322.4 283.1h0.75v0.75h-0.75zM323.3 293.0h0.75v0.75h-0.75zM326.5 293.0h0.75v0.75h-0.75zM311.9 284.8h0.75v0.75h-0.75zM319.9 290.3h0.75v0.75h-0.75zM337.2 291.5h0.75v0.75h-0.75zM326.0 293.2h0.75v0.75h-0.75zM304.3 296.7h0.75v0.75h-0.75zM317.2 285.7h0.75v0.75h-0.75zM326.0 299.1h0.75v0.75h-0.75zM320.6 291.5h0.75v0.75h-0.75zM315.4 290.8h0.75v0.75h-0.75zM332.9 293.3h0.75v0.75h-0.75zM326.0 295.8h0.75v0.75h-0.75zM327.5 294.0h0.75v0.75h-0.75zM306.9 289.0h0.75v0.75h-0.75zM328.5 295.0h0.75v0.75h-0.75zM326.2 287.2h0.75v0.75h-0.75zM324.5 300.1h0.75v0.75h-0.75zM322.2 299.6h0.75v0.75h-0.75zM330.4 297.0h0.75v0.75h-0.75zM315.0 289.6h0.75v0.75h-0.75zM315.0 298.6h0.75v0.75h-0.75zM334.2 287.7h0.75v0.75h-0.75zM308.9 293.5h0.75v0.75h-0.75zM334.8 294.2h0.75v0.75h-0.75zM328.1 295.3h0.75v0.75h-0.75zM327.5 292.2h0.75v0.75h-0.75zM326.5 296.3h0.75v0.75h-0.75zM320.7 301.2h0.75v0.75h-0.75zM311.2 290.9h0.75v0.75h-0.75zM313.3 298.2h0.75v0.75h-0.75zM332.6 289.1h0.75v0.75h-0.75zM322.5 290.6h0.75v0.75h-0.75zM308.1 288.8h0.75v0.75h-0.75zM325.0 295.7h0.75v0.75h-0.75zM314.4 292.8h0.75v0.75h-0.75zM329.9 299.7h0.75v0.75h-0.75zM325.2 288.8h0.75v0.75h-0.75zM306.1 293.2h0.75v0.75h-0.75zM318.7 290.0h0.75v0.75h-0.75zM314.9 290.1h0.75v0.75h-0.75zM323.3 296.2h0.75v0.75h-0.75zM313.7 302.1h0.75v0.75h-0.75zM335.9 291.7h0.75v0.75h-0.75zM324.8 300.4h0.75v0.75h-0.75zM312.7 289.8h0.75v0.75h-0.75zM315.8 287.9h0.75v0.75h-0.75zM328.9 291.8h0.75v0.75h-0.75zM322.8 293.3h0.75v0.75h-0.75zM319.9 300.4h0.75v0.75h-0.75zM320.2 288.7h0.75v0.75h-0.75zM308.2 289.6h0.75v0.75h-0.75zM323.7 293.8h0.75v0.75h-0.75zM324.7 290.9h0.75v0.75h-0.75zM326.2 295.2h0.75v0.75h-0.75zM310.0 294.9h0.75v0.75h-0.75zM326.0 291.6h0.75v0.75h-0.75zM332.8 293.2h0.75v0.75h-0.75zM314.5 297.6h0.75v0.75h-0.75zM339.5 287.3h0.75v0.75h-0.75zM321.2 297.3h0.75v0.75h-0.75zM328.0 298.0h0.75v0.75h-0.75zM334.9 284.1h0.75v0.75h-0.75zM328.8 284.9h0.75v0.75h-0.75zM312.6 287.6h0.75v0.75h-0.75zM326.7 284.7h0.75v0.75h-0.75zM322.9 285.5h0.75v0.75h-0.75zM341.7 290.3h0.75v0.75h-0.75zM321.7 287.1h0.75v0.75h-0.75zM316.2 299.5h0.75v0.75h-0.75zM324.3 287.2h0.75v0.75h-0.75zM316.9 292.2h0.75v0.75h-0.75zM339.3 292.4h0.75v0.75h-0.75zM326.2 298.2h0.75v0.75h-0.75zM345.6 296.2h0.75v0.75h-0.75zM311.3 288.0h0.75v0.75h-0.75zM338.8 295.0h0.75v0.75h-0.75zM302.8 290.4h0.75v0.75h-0.75zM317.3 291.2h0.75v0.75h-0.75zM328.3 296.3h0.75v0.75h-0.75zM335.2 283.5h0.75v0.75h-0.75zM324.8 291.9h0.75v0.75h-0.75zM311.3 297.1h0.75v0.75h-0.75zM308.7 286.0h0.75v0.75h-0.75zM338.0 295.0h0.75v0.75h-0.75zM330.1 299.5h0.75v0.75h-0.75zM309.2 299.8h0.75v0.75h-0.75zM323.0 295.7h0.75v0.75h-0.75zM330.0 296.2h0.75v0.75h-0.75zM318.2 292.9h0.75v0.75h-0.75zM323.6 298.3h0.75v0.75h-0.75zM299.9 300.1h0.75v0.75h-0.75zM312.7 303.9h0.75v0.75h-0.75zM326.8 301.8h0.75v0.75h-0.75zM319.8 301.7h0.75v0.75h-0.75zM326.3 295.1h0.75v0.75h-0.75zM326.6 280.6h0.75v0.75h-0.75zM307.2 284.9h0.75v0.75h-0.75zM322.9 291.9h0.75v0.75h-0.75zM330.3 294.8h0.75v0.75h-0.75zM334.5 289.5h0.75v0.75h-0.75zM325.6 290.5h0.75v0.75h-0.75zM310.4 284.1h0.75v0.75h-0.75zM321.0 288.4h0.75v0.75h-0.75zM316.6 288.2h0.75v0.75h-0.75zM310.9 307.1h0.75v0.75h-0.75zM322.3 286.4h0.75v0.75h-0.75zM319.9 293.0h0.75v0.75h-0.75zM307.1 298.2h0.75v0.75h-0.75zM312.5 295.5h0.75v0.75h-0.75zM317.1 288.8h0.75v0.75h-0.75zM354.2 289.8h0.75v0.75h-0.75zM306.3 290.2h0.75v0.75h-0.75zM311.6 298.3h0.75v0.75h-0.75zM326.0 286.8h0.75v0.75h-0.75zM339.3 291.6h0.75v0.75h-0.75zM308.3 298.3h0.75v0.75h-0.75zM328.1 287.6h0.75v0.75h-0.75zM310.1 292.0h0.75v0.75h-0.75zM314.7 295.5h0.75v0.75h-0.75zM324.4 286.7h0.75v0.75h-0.75zM310.5 291.5h0.75v0.75h-0.75zM334.6 289.5h0.75v0.75h-0.75zM327.5 289.5h0.75v0.75h-0.75zM325.9 289.8h0.75v0.75h-0.75zM325.7 288.2h0.75v0.75h-0.75z" fill="#000" fill-opacity="0.45" filter="url(#soft)"/>
<path d="M371.0 272.5h0.75v0.75h-0.75zM367.7 269.5h0.75v0.75h-0.75zM383.0 270.9h0.75v0.75h-0.75zM366.5 272.0h0.75v0.75h-0.75zM366.1 295.8h0.75v0.75h-0.75zM376.1 269.6h0.75v0.75h-0.75zM362.3 298.6h0.75v0.75h-0.75zM358.3 291.3h0.75v0.75h-0.75zM370.5 305.0h0.75v0.75h-0.75zM361.3 279.8h0.75v0.75h-0.75zM350.2 303.3h0.75v0.75h-0.75zM367.6 305.4h0.75v0.75h-0.75zM357.4 287.7h0.75v0.75h-0.75zM364.5 283.6h0.75v0.75h-0.75zM378.8 289.3h0.75v0.75h-0.75zM384.6 300.7h0.75v0.75h-0.75zM385.8 303.0h0.75v0.75h-0.75zM345.9 293.4h0.75v0.75h-0.75zM382.0 276.0h0.75v0.75h-0.75zM384.6 268.8h0.75v0.75h-0.75zM360.5 301.0h0.75v0.75h-0.75zM358.7 299.6h0.75v0.75h-0.75zM362.3 281.5h0.75v0.75h-0.75zM346.4 279.4h0.75v0.75h-0.75zM372.1 302.2h0.75v0.75h-0.75zM352.7 282.9h0.75v0.75h-0.75zM351.1 274.2h0.75v0.75h-0.75zM362.3 294.1h0.75v0.75h-0.75zM378.6 307.6h0.75v0.75h-0.75zM345.1 292.7h0.75v0.75h-0.75zM366.3 270.7h0.75v0.75h-0.75zM382.7 276.2h0.75v0.75h-0.75zM380.2 280.9h0.75v0.75h-0.75zM348.4 307.4h0.75v0.75h-0.75zM354.0 276.2h0.75v0.75h-0.75zM343.5 280.1h0.75v0.75h-0.75zM376.4 269.9h0.75v0.75h-0.75zM344.8 280.3h0.75v0.75h-0.75zM368.8 302.1h0.75v0.75h-0.75zM378.9 280.0h0.75v0.75h-0.75zM372.1 297.7h0.75v0.75h-0.75zM379.1 307.7h0.75v0.75h-0.75zM368.8 273.2h0.75v0.75h-0.75zM344.1 278.4h0.75v0.75h-0.75zM349.7 283.0h0.75v0.75h-0.75zM381.1 268.7h0.75v0.75h-0.75zM347.9 269.4h0.75v0.75h-0.75zM357.5 304.8h0.75v0.75h-0.75zM360.2 307.5h0.75v0.75h-0.75zM374.2 285.8h0.75v0.75h-0.75zM385.8 304.6h0.75v0.75h-0.75zM376.1 276.5h0.75v0.75h-0.75zM347.9 284.0h0.75v0.75h-0.75zM344.8 295.2h0.75v0.75h-0.75zM363.3 279.7h0.75v0.75h-0.75zM348.3 294.6h0.75v0.75h-0.75zM359.3 292.1h0.75v0.75h-0.75zM369.2 306.7h0.75v0.75h-0.75zM363.9 300.7h0.75v0.75h-0.75zM357.4 281.6h0.75v0.75h-0.75zM359.9 291.1h0.75v0.75h-0.75zM386.0 287.4h0.75v0.75h-0.75zM376.2 288.7h0.75v0.75h-0.75zM347.4 289.7h0.75v0.75h-0.75zM362.9 286.4h0.75v0.75h-0.75zM373.7 269.4h0.75v0.75h-0.75zM384.6 273.9h0.75v0.75h-0.75zM355.4 277.8h0.75v0.75h-0.75zM377.7 306.1h0.75v0.75h-0.75zM374.9 305.1h0.75v0.75h-0.75z" fill="#000" fill-opacity="0.35" filter="url(#soft)"/>
<path d="M356.2 319.6h0.75v0.75h-0.75zM377.4 334.1h0.75v0.75h-0.75zM366.6 307.8h0.75v0.75h-0.75zM352.0 346.3h0.75v0.75h-0.75zM320.2 320.6h0.75v0.75h-0.75zM312.9 348.1h0.75v0.75h-0.75zM298.8 306.0h0.75v0.75h-0.75zM380.3 316.6h0.75v0.75h-0.75zM325.4 349.7h0.75v0.75h-0.75zM384.3 347.3h0.75v0.75h-0.75zM298.7 339.4h0.75v0.75h-0.75zM343.4 334.5h0.75v0.75h-0.75zM381.3 359.1h0.75v0.75h-0.75zM300.6 339.7h0.75v0.75h-0.75zM386.0 319.0h0.75v0.75h-0.75zM364.6 311.8h0.75v0.75h-0.75zM321.7 325.9h0.75v0.75h-0.75zM383.9 355.8h0.75v0.75h-0.75zM368.0 310.2h0.75v0.75h-0.75zM321.1 352.2h0.75v0.75h-0.75zM379.1 345.4h0.75v0.75h-0.75zM317.8 310.2h0.75v0.75h-0.75zM373.8 300.8h0.75v0.75h-0.75zM371.8 303.9h0.75v0.75h-0.75zM356.3 331.2h0.75v0.75h-0.75zM343.4 315.1h0.75v0.75h-0.75zM324.0 343.0h0.75v0.75h-0.75zM310.9 333.2h0.75v0.75h-0.75zM334.5 323.0h0.75v0.75h-0.75zM309.0 333.5h0.75v0.75h-0.75zM343.9 343.3h0.75v0.75h-0.75zM349.3 342.7h0.75v0.75h-0.75zM362.4 308.2h0.75v0.75h-0.75zM330.5 315.3h0.75v0.75h-0.75zM335.0 312.0h0.75v0.75h-0.75zM362.2 336.3h0.75v0.75h-0.75zM329.3 357.1h0.75v0.75h-0.75zM304.9 328.2h0.75v0.75h-0.75zM375.7 303.5h0.75v0.75h-0.75zM309.9 323.4h0.75v0.75h-0.75zM301.2 317.5h0.75v0.75h-0.75zM317.6 327.1h0.75v0.75h-0.75zM372.2 358.3h0.75v0.75h-0.75zM364.0 358.0h0.75v0.75h-0.75zM306.3 333.3h0.75v0.75h-0.75zM354.0 343.7h0.75v0.75h-0.75zM374.4 301.4h0.75v0.75h-0.75zM380.3 334.7h0.75v0.75h-0.75zM344.5 337.0h0.75v0.75h-0.75zM374.1 350.4h0.75v0.75h-0.75zM328.3 325.9h0.75v0.75h-0.75zM298.6 325.2h0.75v0.75h-0.75zM310.0 351.2h0.75v0.75h-0.75zM320.1 308.2h0.75v0.75h-0.75zM299.7 357.4h0.75v0.75h-0.75zM383.0 342.1h0.75v0.75h-0.75zM386.0 352.1h0.75v0.75h-0.75zM376.4 352.6h0.75v0.75h-0.75zM343.7 323.8h0.75v0.75h-0.75zM335.0 355.5h0.75v0.75h-0.75z" fill="#000" fill-opacity="0.3" filter="url(#soft)"/>
<line x1="293.80" y1="265.80" x2="293.80" y2="360.90" stroke="#1a1a1a" stroke-width="1.1"/>
<line x1="293.30" y1="360.40" x2="389.00" y2="360.40" stroke="#1a1a1a" stroke-width="1.1"/>
<polyline points="300.00,292.80 300.00,266.80 341.00,266.80 341.00,296.60 309.20,296.60" fill="none" stroke="#888" stroke-width="1.3"/>
<polyline points="341.00,266.80 384.60,266.80 384.60,304.30" fill="none" stroke="#888" stroke-width="1.3"/>
<polyline points="341.00,296.60 341.00,307.80 374.60,307.80" fill="none" stroke="#888" stroke-width="1.3"/>
<text x="301.40" y="299.40" font-size="8.0" font-weight="bold" text-anchor="start" fill="#111">4</text>
<text x="375.60" y="314.00" font-size="8.0" font-weight="bold" text-anchor="start" fill="#111" textLength="12.9" lengthAdjust="spacingAndGlyphs">24.5</text>
<text x="343.50" y="261.30" font-size="10.9" font-weight="normal" text-anchor="middle" fill="#111" textLength="73" lengthAdjust="spacingAndGlyphs">Renilla shRNA</text>
<line x1="291.80" y1="356.10" x2="293.80" y2="356.10" stroke="#444" stroke-width="0.9"/>
<line x1="291.80" y1="338.00" x2="293.80" y2="338.00" stroke="#444" stroke-width="0.9"/>
<line x1="291.80" y1="316.90" x2="293.80" y2="316.90" stroke="#444" stroke-width="0.9"/>
<line x1="291.80" y1="295.70" x2="293.80" y2="295.70" stroke="#444" stroke-width="0.9"/>
<line x1="291.80" y1="274.40" x2="293.80" y2="274.40" stroke="#444" stroke-width="0.9"/>
<line x1="292.60" y1="331.62" x2="293.80" y2="331.62" stroke="#777" stroke-width="0.6"/>
<line x1="292.60" y1="327.89" x2="293.80" y2="327.89" stroke="#777" stroke-width="0.6"/>
<line x1="292.60" y1="325.24" x2="293.80" y2="325.24" stroke="#777" stroke-width="0.6"/>
<line x1="292.60" y1="323.18" x2="293.80" y2="323.18" stroke="#777" stroke-width="0.6"/>
<line x1="292.60" y1="321.50" x2="293.80" y2="321.50" stroke="#777" stroke-width="0.6"/>
<line x1="292.60" y1="320.08" x2="293.80" y2="320.08" stroke="#777" stroke-width="0.6"/>
<line x1="292.60" y1="318.85" x2="293.80" y2="318.85" stroke="#777" stroke-width="0.6"/>
<line x1="292.60" y1="317.77" x2="293.80" y2="317.77" stroke="#777" stroke-width="0.6"/>
<line x1="292.60" y1="310.52" x2="293.80" y2="310.52" stroke="#777" stroke-width="0.6"/>
<line x1="292.60" y1="306.79" x2="293.80" y2="306.79" stroke="#777" stroke-width="0.6"/>
<line x1="292.60" y1="304.14" x2="293.80" y2="304.14" stroke="#777" stroke-width="0.6"/>
<line x1="292.60" y1="302.08" x2="293.80" y2="302.08" stroke="#777" stroke-width="0.6"/>
<line x1="292.60" y1="300.40" x2="293.80" y2="300.40" stroke="#777" stroke-width="0.6"/>
<line x1="292.60" y1="298.98" x2="293.80" y2="298.98" stroke="#777" stroke-width="0.6"/>
<line x1="292.60" y1="297.75" x2="293.80" y2="297.75" stroke="#777" stroke-width="0.6"/>
<line x1="292.60" y1="296.67" x2="293.80" y2="296.67" stroke="#777" stroke-width="0.6"/>
<line x1="292.60" y1="289.32" x2="293.80" y2="289.32" stroke="#777" stroke-width="0.6"/>
<line x1="292.60" y1="285.59" x2="293.80" y2="285.59" stroke="#777" stroke-width="0.6"/>
<line x1="292.60" y1="282.94" x2="293.80" y2="282.94" stroke="#777" stroke-width="0.6"/>
<line x1="292.60" y1="280.88" x2="293.80" y2="280.88" stroke="#777" stroke-width="0.6"/>
<line x1="292.60" y1="279.20" x2="293.80" y2="279.20" stroke="#777" stroke-width="0.6"/>
<line x1="292.60" y1="277.78" x2="293.80" y2="277.78" stroke="#777" stroke-width="0.6"/>
<line x1="292.60" y1="276.55" x2="293.80" y2="276.55" stroke="#777" stroke-width="0.6"/>
<line x1="292.60" y1="275.47" x2="293.80" y2="275.47" stroke="#777" stroke-width="0.6"/>
<line x1="292.60" y1="268.02" x2="293.80" y2="268.02" stroke="#777" stroke-width="0.6"/>
<line x1="296.30" y1="360.40" x2="296.30" y2="362.40" stroke="#444" stroke-width="0.9"/>
<line x1="317.50" y1="360.40" x2="317.50" y2="362.40" stroke="#444" stroke-width="0.9"/>
<line x1="338.70" y1="360.40" x2="338.70" y2="362.40" stroke="#444" stroke-width="0.9"/>
<line x1="359.90" y1="360.40" x2="359.90" y2="362.40" stroke="#444" stroke-width="0.9"/>
<line x1="381.10" y1="360.40" x2="381.10" y2="362.40" stroke="#444" stroke-width="0.9"/>
<line x1="323.88" y1="360.40" x2="323.88" y2="361.60" stroke="#777" stroke-width="0.6"/>
<line x1="327.61" y1="360.40" x2="327.61" y2="361.60" stroke="#777" stroke-width="0.6"/>
<line x1="330.26" y1="360.40" x2="330.26" y2="361.60" stroke="#777" stroke-width="0.6"/>
<line x1="332.32" y1="360.40" x2="332.32" y2="361.60" stroke="#777" stroke-width="0.6"/>
<line x1="334.00" y1="360.40" x2="334.00" y2="361.60" stroke="#777" stroke-width="0.6"/>
<line x1="335.42" y1="360.40" x2="335.42" y2="361.60" stroke="#777" stroke-width="0.6"/>
<line x1="336.65" y1="360.40" x2="336.65" y2="361.60" stroke="#777" stroke-width="0.6"/>
<line x1="337.73" y1="360.40" x2="337.73" y2="361.60" stroke="#777" stroke-width="0.6"/>
<line x1="345.08" y1="360.40" x2="345.08" y2="361.60" stroke="#777" stroke-width="0.6"/>
<line x1="348.81" y1="360.40" x2="348.81" y2="361.60" stroke="#777" stroke-width="0.6"/>
<line x1="351.46" y1="360.40" x2="351.46" y2="361.60" stroke="#777" stroke-width="0.6"/>
<line x1="353.52" y1="360.40" x2="353.52" y2="361.60" stroke="#777" stroke-width="0.6"/>
<line x1="355.20" y1="360.40" x2="355.20" y2="361.60" stroke="#777" stroke-width="0.6"/>
<line x1="356.62" y1="360.40" x2="356.62" y2="361.60" stroke="#777" stroke-width="0.6"/>
<line x1="357.85" y1="360.40" x2="357.85" y2="361.60" stroke="#777" stroke-width="0.6"/>
<line x1="358.93" y1="360.40" x2="358.93" y2="361.60" stroke="#777" stroke-width="0.6"/>
<line x1="366.28" y1="360.40" x2="366.28" y2="361.60" stroke="#777" stroke-width="0.6"/>
<line x1="370.01" y1="360.40" x2="370.01" y2="361.60" stroke="#777" stroke-width="0.6"/>
<line x1="372.66" y1="360.40" x2="372.66" y2="361.60" stroke="#777" stroke-width="0.6"/>
<line x1="374.72" y1="360.40" x2="374.72" y2="361.60" stroke="#777" stroke-width="0.6"/>
<line x1="376.40" y1="360.40" x2="376.40" y2="361.60" stroke="#777" stroke-width="0.6"/>
<line x1="377.82" y1="360.40" x2="377.82" y2="361.60" stroke="#777" stroke-width="0.6"/>
<line x1="379.05" y1="360.40" x2="379.05" y2="361.60" stroke="#777" stroke-width="0.6"/>
<line x1="380.13" y1="360.40" x2="380.13" y2="361.60" stroke="#777" stroke-width="0.6"/>
<line x1="387.48" y1="360.40" x2="387.48" y2="361.60" stroke="#777" stroke-width="0.6"/>
<rect x="399.4" y="265.8" width="95.0" height="94.59999999999997" fill="#fff" stroke="#b5b5b5" stroke-width="0.9"/>
<path d="M424.0 322.1h0.75v0.75h-0.75zM426.2 322.9h0.75v0.75h-0.75zM432.9 303.2h0.75v0.75h-0.75zM417.8 308.0h0.75v0.75h-0.75zM424.8 322.4h0.75v0.75h-0.75zM428.9 322.8h0.75v0.75h-0.75zM426.9 300.7h0.75v0.75h-0.75zM423.0 326.7h0.75v0.75h-0.75zM420.2 318.0h0.75v0.75h-0.75zM424.1 326.9h0.75v0.75h-0.75zM421.9 304.1h0.75v0.75h-0.75zM424.4 318.1h0.75v0.75h-0.75zM430.3 312.0h0.75v0.75h-0.75zM425.1 315.3h0.75v0.75h-0.75zM423.9 344.3h0.75v0.75h-0.75zM413.8 332.7h0.75v0.75h-0.75zM422.3 323.1h0.75v0.75h-0.75zM418.7 326.1h0.75v0.75h-0.75zM422.2 328.4h0.75v0.75h-0.75zM432.9 303.7h0.75v0.75h-0.75zM418.3 336.7h0.75v0.75h-0.75zM435.8 316.2h0.75v0.75h-0.75zM416.1 307.9h0.75v0.75h-0.75zM430.9 337.6h0.75v0.75h-0.75zM425.6 305.9h0.75v0.75h-0.75zM431.8 302.9h0.75v0.75h-0.75zM422.9 315.1h0.75v0.75h-0.75zM423.1 327.9h0.75v0.75h-0.75zM421.5 324.3h0.75v0.75h-0.75zM431.5 330.0h0.75v0.75h-0.75zM432.8 313.4h0.75v0.75h-0.75zM417.9 326.4h0.75v0.75h-0.75zM427.3 323.2h0.75v0.75h-0.75zM424.3 326.4h0.75v0.75h-0.75zM421.2 331.8h0.75v0.75h-0.75zM434.9 318.1h0.75v0.75h-0.75zM426.5 327.5h0.75v0.75h-0.75zM429.0 325.6h0.75v0.75h-0.75zM427.3 317.1h0.75v0.75h-0.75zM434.0 304.0h0.75v0.75h-0.75zM431.8 308.7h0.75v0.75h-0.75zM428.6 309.1h0.75v0.75h-0.75zM418.7 312.7h0.75v0.75h-0.75zM421.5 337.4h0.75v0.75h-0.75zM423.3 314.2h0.75v0.75h-0.75zM421.5 322.4h0.75v0.75h-0.75zM426.1 326.7h0.75v0.75h-0.75zM422.8 308.8h0.75v0.75h-0.75zM425.9 330.1h0.75v0.75h-0.75zM429.8 308.0h0.75v0.75h-0.75zM423.8 325.2h0.75v0.75h-0.75zM423.4 306.4h0.75v0.75h-0.75zM427.1 316.1h0.75v0.75h-0.75zM427.6 329.1h0.75v0.75h-0.75zM423.8 309.1h0.75v0.75h-0.75zM422.5 330.6h0.75v0.75h-0.75zM426.7 328.8h0.75v0.75h-0.75zM424.5 329.3h0.75v0.75h-0.75zM423.9 314.6h0.75v0.75h-0.75zM426.2 319.2h0.75v0.75h-0.75zM425.1 321.6h0.75v0.75h-0.75zM430.9 311.1h0.75v0.75h-0.75zM417.7 329.0h0.75v0.75h-0.75zM435.4 327.8h0.75v0.75h-0.75zM420.4 328.2h0.75v0.75h-0.75zM431.7 327.9h0.75v0.75h-0.75zM435.1 325.8h0.75v0.75h-0.75zM412.7 333.1h0.75v0.75h-0.75zM422.5 312.2h0.75v0.75h-0.75zM417.9 310.4h0.75v0.75h-0.75zM424.5 333.3h0.75v0.75h-0.75zM431.8 325.3h0.75v0.75h-0.75zM432.3 313.5h0.75v0.75h-0.75zM422.2 343.3h0.75v0.75h-0.75zM428.5 315.7h0.75v0.75h-0.75zM429.9 310.8h0.75v0.75h-0.75zM434.0 302.7h0.75v0.75h-0.75zM423.6 319.8h0.75v0.75h-0.75zM425.3 307.3h0.75v0.75h-0.75zM430.5 325.5h0.75v0.75h-0.75zM426.6 326.8h0.75v0.75h-0.75zM424.0 332.3h0.75v0.75h-0.75zM423.5 310.2h0.75v0.75h-0.75zM425.4 318.9h0.75v0.75h-0.75zM428.0 327.3h0.75v0.75h-0.75zM434.6 302.4h0.75v0.75h-0.75zM418.6 327.4h0.75v0.75h-0.75zM432.7 329.2h0.75v0.75h-0.75zM425.9 318.5h0.75v0.75h-0.75zM425.0 340.9h0.75v0.75h-0.75zM425.5 324.9h0.75v0.75h-0.75zM420.5 333.8h0.75v0.75h-0.75zM425.9 318.4h0.75v0.75h-0.75zM425.1 320.3h0.75v0.75h-0.75zM439.7 321.7h0.75v0.75h-0.75zM429.8 311.4h0.75v0.75h-0.75zM419.7 300.8h0.75v0.75h-0.75zM423.7 324.3h0.75v0.75h-0.75zM427.7 304.8h0.75v0.75h-0.75zM429.7 313.6h0.75v0.75h-0.75zM432.1 315.8h0.75v0.75h-0.75zM426.8 313.1h0.75v0.75h-0.75zM423.3 323.1h0.75v0.75h-0.75zM429.4 327.7h0.75v0.75h-0.75zM423.2 309.3h0.75v0.75h-0.75zM428.7 334.2h0.75v0.75h-0.75zM424.2 317.7h0.75v0.75h-0.75zM424.5 325.9h0.75v0.75h-0.75zM431.2 309.0h0.75v0.75h-0.75zM428.7 335.8h0.75v0.75h-0.75zM429.5 311.6h0.75v0.75h-0.75zM419.7 324.9h0.75v0.75h-0.75zM433.2 327.0h0.75v0.75h-0.75zM433.6 314.2h0.75v0.75h-0.75zM427.0 312.5h0.75v0.75h-0.75zM429.4 318.1h0.75v0.75h-0.75zM422.9 319.0h0.75v0.75h-0.75zM429.5 329.7h0.75v0.75h-0.75zM430.5 344.9h0.75v0.75h-0.75zM430.4 309.9h0.75v0.75h-0.75zM432.0 310.0h0.75v0.75h-0.75zM421.5 331.8h0.75v0.75h-0.75zM424.0 323.0h0.75v0.75h-0.75zM424.4 320.7h0.75v0.75h-0.75zM418.5 335.2h0.75v0.75h-0.75zM432.8 316.4h0.75v0.75h-0.75zM432.9 328.3h0.75v0.75h-0.75zM432.7 335.1h0.75v0.75h-0.75zM421.0 333.3h0.75v0.75h-0.75zM426.2 330.3h0.75v0.75h-0.75zM425.7 344.7h0.75v0.75h-0.75zM434.9 318.1h0.75v0.75h-0.75zM429.1 323.4h0.75v0.75h-0.75zM428.2 331.3h0.75v0.75h-0.75zM422.3 308.7h0.75v0.75h-0.75zM432.4 323.2h0.75v0.75h-0.75zM424.8 315.6h0.75v0.75h-0.75zM419.9 322.1h0.75v0.75h-0.75zM418.7 327.2h0.75v0.75h-0.75zM428.3 313.9h0.75v0.75h-0.75zM431.8 327.7h0.75v0.75h-0.75zM427.9 313.2h0.75v0.75h-0.75zM423.7 312.9h0.75v0.75h-0.75zM417.4 325.9h0.75v0.75h-0.75zM430.3 303.5h0.75v0.75h-0.75zM428.5 317.9h0.75v0.75h-0.75zM427.3 328.8h0.75v0.75h-0.75zM431.1 311.9h0.75v0.75h-0.75zM430.3 315.1h0.75v0.75h-0.75zM414.3 348.9h0.75v0.75h-0.75zM426.8 317.6h0.75v0.75h-0.75zM433.1 323.1h0.75v0.75h-0.75zM423.9 324.7h0.75v0.75h-0.75zM428.2 318.3h0.75v0.75h-0.75zM415.1 328.0h0.75v0.75h-0.75zM422.0 311.8h0.75v0.75h-0.75zM426.8 344.3h0.75v0.75h-0.75zM420.8 327.1h0.75v0.75h-0.75zM419.4 306.9h0.75v0.75h-0.75zM424.8 331.8h0.75v0.75h-0.75zM427.9 323.5h0.75v0.75h-0.75zM432.4 323.6h0.75v0.75h-0.75zM423.7 312.0h0.75v0.75h-0.75zM425.0 325.5h0.75v0.75h-0.75zM424.9 319.2h0.75v0.75h-0.75zM423.8 313.6h0.75v0.75h-0.75zM420.7 315.1h0.75v0.75h-0.75zM435.1 328.8h0.75v0.75h-0.75zM433.2 319.3h0.75v0.75h-0.75zM425.9 330.1h0.75v0.75h-0.75zM424.7 334.3h0.75v0.75h-0.75zM427.2 329.4h0.75v0.75h-0.75zM422.8 342.5h0.75v0.75h-0.75zM427.5 327.8h0.75v0.75h-0.75zM422.9 315.3h0.75v0.75h-0.75zM429.9 301.7h0.75v0.75h-0.75zM432.5 311.9h0.75v0.75h-0.75zM431.2 311.8h0.75v0.75h-0.75zM426.3 322.1h0.75v0.75h-0.75zM431.0 309.8h0.75v0.75h-0.75zM429.2 323.0h0.75v0.75h-0.75zM430.3 310.3h0.75v0.75h-0.75zM426.6 313.1h0.75v0.75h-0.75zM424.7 333.5h0.75v0.75h-0.75zM432.3 308.4h0.75v0.75h-0.75zM425.8 320.6h0.75v0.75h-0.75zM422.0 318.9h0.75v0.75h-0.75zM421.4 329.5h0.75v0.75h-0.75zM421.9 338.5h0.75v0.75h-0.75zM417.1 331.6h0.75v0.75h-0.75zM429.4 312.6h0.75v0.75h-0.75zM418.3 326.7h0.75v0.75h-0.75zM420.6 335.5h0.75v0.75h-0.75zM427.0 320.6h0.75v0.75h-0.75zM427.0 328.8h0.75v0.75h-0.75zM426.4 326.9h0.75v0.75h-0.75zM428.2 314.5h0.75v0.75h-0.75zM431.8 335.8h0.75v0.75h-0.75zM431.8 319.8h0.75v0.75h-0.75zM429.7 307.9h0.75v0.75h-0.75zM422.5 313.2h0.75v0.75h-0.75zM423.6 331.1h0.75v0.75h-0.75zM422.5 315.8h0.75v0.75h-0.75zM419.2 316.7h0.75v0.75h-0.75zM418.4 334.1h0.75v0.75h-0.75zM425.6 331.1h0.75v0.75h-0.75zM432.9 322.9h0.75v0.75h-0.75zM428.0 321.5h0.75v0.75h-0.75zM424.3 298.4h0.75v0.75h-0.75zM427.3 312.9h0.75v0.75h-0.75zM421.6 316.8h0.75v0.75h-0.75zM426.3 328.3h0.75v0.75h-0.75zM421.7 309.5h0.75v0.75h-0.75zM431.5 324.4h0.75v0.75h-0.75zM430.2 316.1h0.75v0.75h-0.75zM419.8 338.0h0.75v0.75h-0.75zM432.3 311.7h0.75v0.75h-0.75zM428.4 331.6h0.75v0.75h-0.75zM438.3 328.3h0.75v0.75h-0.75zM429.1 317.4h0.75v0.75h-0.75zM424.3 321.3h0.75v0.75h-0.75zM423.3 329.2h0.75v0.75h-0.75zM427.2 318.2h0.75v0.75h-0.75zM421.7 324.5h0.75v0.75h-0.75zM424.9 326.0h0.75v0.75h-0.75zM422.0 330.4h0.75v0.75h-0.75zM426.0 341.9h0.75v0.75h-0.75zM422.9 343.9h0.75v0.75h-0.75zM440.5 314.6h0.75v0.75h-0.75zM436.4 329.1h0.75v0.75h-0.75zM420.9 318.1h0.75v0.75h-0.75zM431.6 322.6h0.75v0.75h-0.75zM431.0 324.3h0.75v0.75h-0.75zM433.8 315.9h0.75v0.75h-0.75zM421.8 316.8h0.75v0.75h-0.75zM426.7 312.0h0.75v0.75h-0.75zM426.7 319.5h0.75v0.75h-0.75zM425.4 321.9h0.75v0.75h-0.75zM425.0 333.1h0.75v0.75h-0.75zM427.3 329.6h0.75v0.75h-0.75zM420.0 325.1h0.75v0.75h-0.75zM424.6 301.7h0.75v0.75h-0.75zM436.6 303.0h0.75v0.75h-0.75zM430.8 327.9h0.75v0.75h-0.75zM432.4 314.4h0.75v0.75h-0.75zM414.6 334.0h0.75v0.75h-0.75zM426.4 328.9h0.75v0.75h-0.75zM426.1 335.8h0.75v0.75h-0.75zM429.4 316.8h0.75v0.75h-0.75zM438.4 310.1h0.75v0.75h-0.75zM416.5 327.8h0.75v0.75h-0.75zM429.2 326.8h0.75v0.75h-0.75zM424.4 322.8h0.75v0.75h-0.75zM422.9 319.1h0.75v0.75h-0.75zM430.1 314.7h0.75v0.75h-0.75zM430.4 317.5h0.75v0.75h-0.75zM427.3 318.1h0.75v0.75h-0.75zM432.4 320.5h0.75v0.75h-0.75zM423.2 324.8h0.75v0.75h-0.75zM432.6 322.0h0.75v0.75h-0.75zM421.9 315.9h0.75v0.75h-0.75zM421.9 338.5h0.75v0.75h-0.75zM427.7 330.6h0.75v0.75h-0.75zM430.8 316.3h0.75v0.75h-0.75zM432.1 317.9h0.75v0.75h-0.75zM428.3 299.1h0.75v0.75h-0.75zM426.3 317.2h0.75v0.75h-0.75zM423.0 325.2h0.75v0.75h-0.75zM420.6 321.1h0.75v0.75h-0.75zM414.4 324.3h0.75v0.75h-0.75zM423.2 341.2h0.75v0.75h-0.75zM427.4 327.0h0.75v0.75h-0.75zM412.5 322.7h0.75v0.75h-0.75zM420.9 337.6h0.75v0.75h-0.75zM431.1 320.1h0.75v0.75h-0.75zM427.3 321.7h0.75v0.75h-0.75zM426.2 328.0h0.75v0.75h-0.75zM429.3 318.0h0.75v0.75h-0.75zM423.0 339.8h0.75v0.75h-0.75zM424.4 314.1h0.75v0.75h-0.75zM437.6 317.0h0.75v0.75h-0.75zM425.8 306.8h0.75v0.75h-0.75zM421.6 338.1h0.75v0.75h-0.75zM425.0 334.3h0.75v0.75h-0.75zM421.5 332.5h0.75v0.75h-0.75zM427.4 316.7h0.75v0.75h-0.75zM418.3 339.8h0.75v0.75h-0.75zM427.5 321.1h0.75v0.75h-0.75zM431.1 308.9h0.75v0.75h-0.75zM433.7 327.4h0.75v0.75h-0.75zM429.6 327.1h0.75v0.75h-0.75zM423.8 321.6h0.75v0.75h-0.75zM429.1 315.5h0.75v0.75h-0.75zM433.5 327.8h0.75v0.75h-0.75zM433.7 302.7h0.75v0.75h-0.75zM434.4 313.3h0.75v0.75h-0.75zM423.4 320.5h0.75v0.75h-0.75zM433.8 323.8h0.75v0.75h-0.75zM429.0 332.2h0.75v0.75h-0.75zM432.2 332.0h0.75v0.75h-0.75zM431.5 323.2h0.75v0.75h-0.75zM429.5 306.2h0.75v0.75h-0.75zM426.3 298.6h0.75v0.75h-0.75zM426.5 323.2h0.75v0.75h-0.75zM423.4 317.9h0.75v0.75h-0.75zM432.0 315.7h0.75v0.75h-0.75zM427.0 342.1h0.75v0.75h-0.75zM428.5 330.9h0.75v0.75h-0.75zM429.1 326.8h0.75v0.75h-0.75zM432.3 316.8h0.75v0.75h-0.75zM430.4 314.8h0.75v0.75h-0.75zM424.9 329.1h0.75v0.75h-0.75zM423.9 294.8h0.75v0.75h-0.75zM425.7 335.7h0.75v0.75h-0.75zM421.9 329.8h0.75v0.75h-0.75zM424.9 305.9h0.75v0.75h-0.75zM425.1 297.5h0.75v0.75h-0.75zM432.3 314.4h0.75v0.75h-0.75zM428.4 320.2h0.75v0.75h-0.75zM419.5 320.0h0.75v0.75h-0.75zM432.1 327.1h0.75v0.75h-0.75zM424.7 314.1h0.75v0.75h-0.75zM426.1 307.3h0.75v0.75h-0.75zM427.7 302.9h0.75v0.75h-0.75zM422.9 331.5h0.75v0.75h-0.75zM426.4 313.9h0.75v0.75h-0.75zM427.1 317.7h0.75v0.75h-0.75zM427.6 331.9h0.75v0.75h-0.75zM426.0 303.0h0.75v0.75h-0.75zM428.5 311.4h0.75v0.75h-0.75zM431.9 328.8h0.75v0.75h-0.75zM426.4 325.8h0.75v0.75h-0.75zM419.5 305.6h0.75v0.75h-0.75zM424.8 325.3h0.75v0.75h-0.75zM432.9 310.9h0.75v0.75h-0.75zM422.1 313.9h0.75v0.75h-0.75zM422.9 324.4h0.75v0.75h-0.75zM419.7 332.1h0.75v0.75h-0.75zM420.2 347.8h0.75v0.75h-0.75zM425.9 322.2h0.75v0.75h-0.75zM418.6 327.6h0.75v0.75h-0.75zM417.4 334.0h0.75v0.75h-0.75zM423.4 325.0h0.75v0.75h-0.75zM428.9 329.8h0.75v0.75h-0.75zM432.9 330.0h0.75v0.75h-0.75zM430.0 312.8h0.75v0.75h-0.75zM421.1 331.3h0.75v0.75h-0.75zM428.0 314.7h0.75v0.75h-0.75zM426.2 331.1h0.75v0.75h-0.75zM430.8 312.6h0.75v0.75h-0.75zM420.3 303.5h0.75v0.75h-0.75zM424.3 318.6h0.75v0.75h-0.75zM420.2 335.1h0.75v0.75h-0.75zM435.5 308.7h0.75v0.75h-0.75zM430.0 318.2h0.75v0.75h-0.75zM429.2 321.6h0.75v0.75h-0.75zM426.1 331.2h0.75v0.75h-0.75zM429.8 315.1h0.75v0.75h-0.75zM428.8 313.6h0.75v0.75h-0.75zM426.3 327.6h0.75v0.75h-0.75zM428.7 303.6h0.75v0.75h-0.75zM429.3 307.1h0.75v0.75h-0.75zM427.6 328.1h0.75v0.75h-0.75zM419.5 312.9h0.75v0.75h-0.75zM430.4 322.6h0.75v0.75h-0.75zM416.7 335.7h0.75v0.75h-0.75zM423.6 309.9h0.75v0.75h-0.75zM427.8 313.8h0.75v0.75h-0.75zM426.7 323.7h0.75v0.75h-0.75zM438.0 325.6h0.75v0.75h-0.75zM427.8 321.6h0.75v0.75h-0.75zM428.2 325.5h0.75v0.75h-0.75zM423.6 327.8h0.75v0.75h-0.75zM423.3 316.5h0.75v0.75h-0.75zM426.1 332.1h0.75v0.75h-0.75zM430.4 287.8h0.75v0.75h-0.75zM432.2 319.1h0.75v0.75h-0.75zM426.9 336.3h0.75v0.75h-0.75zM423.1 311.5h0.75v0.75h-0.75zM417.1 312.8h0.75v0.75h-0.75zM430.4 310.6h0.75v0.75h-0.75zM421.6 327.4h0.75v0.75h-0.75zM421.7 315.1h0.75v0.75h-0.75zM422.6 326.9h0.75v0.75h-0.75zM423.2 317.0h0.75v0.75h-0.75zM425.5 301.7h0.75v0.75h-0.75zM425.2 302.2h0.75v0.75h-0.75zM420.7 318.3h0.75v0.75h-0.75zM426.9 317.7h0.75v0.75h-0.75zM431.3 319.6h0.75v0.75h-0.75zM429.0 314.4h0.75v0.75h-0.75zM423.3 339.8h0.75v0.75h-0.75zM418.6 336.6h0.75v0.75h-0.75zM422.8 329.4h0.75v0.75h-0.75zM420.2 328.7h0.75v0.75h-0.75zM427.8 297.6h0.75v0.75h-0.75zM423.3 328.9h0.75v0.75h-0.75zM431.1 321.6h0.75v0.75h-0.75zM423.6 321.3h0.75v0.75h-0.75zM420.2 312.9h0.75v0.75h-0.75zM427.4 320.1h0.75v0.75h-0.75zM429.6 321.0h0.75v0.75h-0.75zM429.1 318.3h0.75v0.75h-0.75zM429.2 345.4h0.75v0.75h-0.75zM421.7 324.3h0.75v0.75h-0.75zM424.2 327.0h0.75v0.75h-0.75zM428.6 311.2h0.75v0.75h-0.75zM427.1 322.7h0.75v0.75h-0.75zM425.9 324.4h0.75v0.75h-0.75zM433.0 324.4h0.75v0.75h-0.75zM425.2 324.1h0.75v0.75h-0.75zM435.9 310.1h0.75v0.75h-0.75zM431.8 311.5h0.75v0.75h-0.75zM419.0 317.1h0.75v0.75h-0.75zM428.1 317.8h0.75v0.75h-0.75zM423.2 314.2h0.75v0.75h-0.75zM422.0 311.8h0.75v0.75h-0.75zM423.6 295.9h0.75v0.75h-0.75zM428.5 323.1h0.75v0.75h-0.75zM426.9 330.3h0.75v0.75h-0.75zM423.7 322.1h0.75v0.75h-0.75zM414.2 328.5h0.75v0.75h-0.75zM424.6 328.2h0.75v0.75h-0.75zM430.4 317.2h0.75v0.75h-0.75zM420.5 327.2h0.75v0.75h-0.75zM430.4 328.7h0.75v0.75h-0.75zM423.9 312.2h0.75v0.75h-0.75zM425.1 310.4h0.75v0.75h-0.75zM416.2 329.3h0.75v0.75h-0.75zM428.4 326.8h0.75v0.75h-0.75zM422.3 322.2h0.75v0.75h-0.75zM420.6 307.7h0.75v0.75h-0.75zM428.6 300.4h0.75v0.75h-0.75zM424.7 346.4h0.75v0.75h-0.75zM432.1 325.2h0.75v0.75h-0.75zM429.2 317.3h0.75v0.75h-0.75zM423.6 343.4h0.75v0.75h-0.75zM425.4 314.9h0.75v0.75h-0.75zM429.5 318.7h0.75v0.75h-0.75zM432.5 311.3h0.75v0.75h-0.75zM422.5 318.3h0.75v0.75h-0.75zM434.0 327.3h0.75v0.75h-0.75zM427.7 321.3h0.75v0.75h-0.75zM428.1 309.9h0.75v0.75h-0.75zM428.9 314.6h0.75v0.75h-0.75zM427.6 320.7h0.75v0.75h-0.75zM427.9 315.5h0.75v0.75h-0.75zM431.0 322.7h0.75v0.75h-0.75zM422.9 327.3h0.75v0.75h-0.75zM424.9 325.8h0.75v0.75h-0.75zM430.5 314.1h0.75v0.75h-0.75zM426.4 321.8h0.75v0.75h-0.75zM426.7 342.5h0.75v0.75h-0.75zM428.2 308.2h0.75v0.75h-0.75zM427.1 315.0h0.75v0.75h-0.75zM438.0 309.1h0.75v0.75h-0.75zM421.3 331.2h0.75v0.75h-0.75zM424.1 318.2h0.75v0.75h-0.75zM425.5 314.5h0.75v0.75h-0.75zM424.6 298.8h0.75v0.75h-0.75zM426.1 328.2h0.75v0.75h-0.75zM435.4 317.8h0.75v0.75h-0.75zM430.5 311.8h0.75v0.75h-0.75zM433.5 341.8h0.75v0.75h-0.75zM428.2 316.9h0.75v0.75h-0.75zM426.9 337.6h0.75v0.75h-0.75zM420.8 337.5h0.75v0.75h-0.75zM422.0 314.7h0.75v0.75h-0.75zM427.9 327.6h0.75v0.75h-0.75zM431.2 334.3h0.75v0.75h-0.75zM421.4 324.6h0.75v0.75h-0.75zM430.3 322.6h0.75v0.75h-0.75zM432.0 319.3h0.75v0.75h-0.75zM425.3 298.3h0.75v0.75h-0.75zM417.9 333.7h0.75v0.75h-0.75zM421.3 327.1h0.75v0.75h-0.75zM429.8 318.7h0.75v0.75h-0.75zM431.5 312.3h0.75v0.75h-0.75zM429.5 318.7h0.75v0.75h-0.75zM419.7 303.3h0.75v0.75h-0.75zM425.8 339.0h0.75v0.75h-0.75zM432.2 323.8h0.75v0.75h-0.75zM430.4 329.1h0.75v0.75h-0.75zM425.5 335.7h0.75v0.75h-0.75zM427.9 315.3h0.75v0.75h-0.75zM444.9 320.0h0.75v0.75h-0.75zM426.1 329.7h0.75v0.75h-0.75zM420.9 311.0h0.75v0.75h-0.75zM435.7 323.8h0.75v0.75h-0.75zM421.6 306.4h0.75v0.75h-0.75zM426.1 310.3h0.75v0.75h-0.75zM432.9 297.8h0.75v0.75h-0.75zM432.4 307.6h0.75v0.75h-0.75zM420.6 324.2h0.75v0.75h-0.75zM420.5 317.6h0.75v0.75h-0.75zM423.9 296.3h0.75v0.75h-0.75zM420.8 327.2h0.75v0.75h-0.75zM416.6 310.9h0.75v0.75h-0.75zM422.1 332.8h0.75v0.75h-0.75zM430.8 334.9h0.75v0.75h-0.75zM421.9 331.7h0.75v0.75h-0.75zM427.6 306.5h0.75v0.75h-0.75zM428.9 319.7h0.75v0.75h-0.75zM423.3 310.7h0.75v0.75h-0.75zM418.7 329.8h0.75v0.75h-0.75zM428.5 316.8h0.75v0.75h-0.75zM424.6 315.3h0.75v0.75h-0.75zM430.1 321.3h0.75v0.75h-0.75zM417.9 325.7h0.75v0.75h-0.75zM428.7 313.4h0.75v0.75h-0.75zM424.1 315.6h0.75v0.75h-0.75zM429.4 315.2h0.75v0.75h-0.75zM426.3 321.8h0.75v0.75h-0.75zM433.8 301.3h0.75v0.75h-0.75zM437.6 302.8h0.75v0.75h-0.75zM425.4 312.6h0.75v0.75h-0.75zM427.1 326.5h0.75v0.75h-0.75zM437.6 328.6h0.75v0.75h-0.75zM423.2 324.8h0.75v0.75h-0.75zM427.0 313.5h0.75v0.75h-0.75zM429.3 322.5h0.75v0.75h-0.75zM424.3 314.5h0.75v0.75h-0.75zM429.9 318.1h0.75v0.75h-0.75zM432.2 327.6h0.75v0.75h-0.75zM420.7 301.0h0.75v0.75h-0.75zM426.7 313.6h0.75v0.75h-0.75zM421.5 315.4h0.75v0.75h-0.75zM433.4 315.4h0.75v0.75h-0.75zM435.6 325.2h0.75v0.75h-0.75zM418.1 329.6h0.75v0.75h-0.75zM433.6 298.5h0.75v0.75h-0.75zM420.4 322.6h0.75v0.75h-0.75zM423.8 340.5h0.75v0.75h-0.75zM422.3 341.3h0.75v0.75h-0.75zM419.8 314.8h0.75v0.75h-0.75zM428.1 325.9h0.75v0.75h-0.75zM427.2 338.1h0.75v0.75h-0.75zM435.3 338.3h0.75v0.75h-0.75zM426.1 330.8h0.75v0.75h-0.75zM425.2 337.2h0.75v0.75h-0.75zM415.4 319.2h0.75v0.75h-0.75zM425.5 316.3h0.75v0.75h-0.75zM434.2 302.6h0.75v0.75h-0.75zM422.6 309.9h0.75v0.75h-0.75zM426.4 311.4h0.75v0.75h-0.75zM431.1 328.7h0.75v0.75h-0.75zM416.4 302.7h0.75v0.75h-0.75zM430.5 323.5h0.75v0.75h-0.75zM418.9 324.2h0.75v0.75h-0.75zM420.6 332.5h0.75v0.75h-0.75zM420.2 317.3h0.75v0.75h-0.75zM428.8 320.6h0.75v0.75h-0.75zM431.6 323.3h0.75v0.75h-0.75zM419.3 327.0h0.75v0.75h-0.75zM421.1 339.2h0.75v0.75h-0.75zM434.2 329.9h0.75v0.75h-0.75zM437.1 324.9h0.75v0.75h-0.75zM433.7 328.1h0.75v0.75h-0.75zM430.8 328.5h0.75v0.75h-0.75zM428.0 340.0h0.75v0.75h-0.75zM421.3 306.5h0.75v0.75h-0.75zM422.8 340.0h0.75v0.75h-0.75zM425.3 312.9h0.75v0.75h-0.75zM422.5 328.0h0.75v0.75h-0.75zM426.3 334.2h0.75v0.75h-0.75zM425.0 331.6h0.75v0.75h-0.75zM422.4 328.8h0.75v0.75h-0.75zM441.2 312.2h0.75v0.75h-0.75zM425.9 331.9h0.75v0.75h-0.75zM421.8 318.3h0.75v0.75h-0.75zM423.9 325.1h0.75v0.75h-0.75zM420.0 339.6h0.75v0.75h-0.75zM427.2 322.8h0.75v0.75h-0.75zM425.8 321.1h0.75v0.75h-0.75zM415.4 340.0h0.75v0.75h-0.75zM422.3 332.0h0.75v0.75h-0.75zM425.8 319.2h0.75v0.75h-0.75zM429.0 338.2h0.75v0.75h-0.75zM426.1 315.1h0.75v0.75h-0.75zM428.8 293.4h0.75v0.75h-0.75zM422.4 312.3h0.75v0.75h-0.75zM424.8 307.1h0.75v0.75h-0.75zM430.6 315.9h0.75v0.75h-0.75zM427.2 321.0h0.75v0.75h-0.75zM425.0 314.7h0.75v0.75h-0.75zM432.8 327.2h0.75v0.75h-0.75zM433.8 316.1h0.75v0.75h-0.75zM427.9 324.4h0.75v0.75h-0.75zM425.0 321.4h0.75v0.75h-0.75zM418.8 311.8h0.75v0.75h-0.75zM422.1 310.8h0.75v0.75h-0.75zM428.6 324.1h0.75v0.75h-0.75zM428.5 317.4h0.75v0.75h-0.75zM431.4 328.8h0.75v0.75h-0.75zM429.3 316.2h0.75v0.75h-0.75zM434.0 304.9h0.75v0.75h-0.75zM418.7 310.6h0.75v0.75h-0.75zM432.4 319.5h0.75v0.75h-0.75zM423.7 297.3h0.75v0.75h-0.75zM425.5 310.9h0.75v0.75h-0.75zM416.5 337.5h0.75v0.75h-0.75zM426.7 336.0h0.75v0.75h-0.75zM426.5 327.2h0.75v0.75h-0.75zM423.2 329.4h0.75v0.75h-0.75zM424.6 328.6h0.75v0.75h-0.75zM427.6 308.8h0.75v0.75h-0.75zM426.7 322.9h0.75v0.75h-0.75zM423.2 321.5h0.75v0.75h-0.75zM431.0 332.4h0.75v0.75h-0.75zM426.9 296.5h0.75v0.75h-0.75zM430.2 339.4h0.75v0.75h-0.75zM425.5 312.4h0.75v0.75h-0.75zM428.1 322.8h0.75v0.75h-0.75zM430.8 312.4h0.75v0.75h-0.75zM435.0 327.2h0.75v0.75h-0.75zM421.7 334.6h0.75v0.75h-0.75zM426.0 329.0h0.75v0.75h-0.75zM428.4 321.0h0.75v0.75h-0.75zM428.1 315.9h0.75v0.75h-0.75zM423.1 320.3h0.75v0.75h-0.75zM425.2 326.1h0.75v0.75h-0.75zM427.5 303.3h0.75v0.75h-0.75zM430.6 318.9h0.75v0.75h-0.75zM430.7 326.7h0.75v0.75h-0.75zM427.9 326.7h0.75v0.75h-0.75zM419.7 341.1h0.75v0.75h-0.75zM435.9 323.8h0.75v0.75h-0.75zM424.2 329.9h0.75v0.75h-0.75zM425.0 339.6h0.75v0.75h-0.75zM424.5 309.7h0.75v0.75h-0.75zM422.7 315.1h0.75v0.75h-0.75zM430.1 319.2h0.75v0.75h-0.75zM428.0 317.0h0.75v0.75h-0.75zM433.0 318.6h0.75v0.75h-0.75zM427.7 337.8h0.75v0.75h-0.75zM428.1 315.0h0.75v0.75h-0.75zM425.5 334.1h0.75v0.75h-0.75zM428.5 312.2h0.75v0.75h-0.75zM432.3 303.1h0.75v0.75h-0.75zM416.4 315.5h0.75v0.75h-0.75zM417.6 323.4h0.75v0.75h-0.75zM426.8 318.4h0.75v0.75h-0.75zM423.9 311.2h0.75v0.75h-0.75zM431.1 298.1h0.75v0.75h-0.75zM430.2 322.5h0.75v0.75h-0.75zM426.3 326.3h0.75v0.75h-0.75zM419.2 335.2h0.75v0.75h-0.75zM429.1 332.1h0.75v0.75h-0.75zM416.8 328.5h0.75v0.75h-0.75zM426.0 296.7h0.75v0.75h-0.75zM425.0 322.6h0.75v0.75h-0.75zM422.9 327.1h0.75v0.75h-0.75zM429.3 315.2h0.75v0.75h-0.75zM425.0 330.3h0.75v0.75h-0.75zM421.9 328.8h0.75v0.75h-0.75zM433.0 318.0h0.75v0.75h-0.75zM428.4 320.7h0.75v0.75h-0.75zM430.6 303.2h0.75v0.75h-0.75zM418.4 315.7h0.75v0.75h-0.75zM423.7 333.0h0.75v0.75h-0.75zM433.2 324.4h0.75v0.75h-0.75zM432.6 314.1h0.75v0.75h-0.75zM424.0 305.8h0.75v0.75h-0.75zM432.2 324.4h0.75v0.75h-0.75zM426.4 306.7h0.75v0.75h-0.75zM421.7 328.6h0.75v0.75h-0.75zM426.5 333.0h0.75v0.75h-0.75zM427.5 313.1h0.75v0.75h-0.75zM420.9 323.7h0.75v0.75h-0.75zM434.4 338.9h0.75v0.75h-0.75zM423.0 328.3h0.75v0.75h-0.75zM423.1 325.5h0.75v0.75h-0.75zM413.0 320.5h0.75v0.75h-0.75zM417.9 340.7h0.75v0.75h-0.75zM424.7 326.9h0.75v0.75h-0.75zM426.7 306.6h0.75v0.75h-0.75zM429.5 331.4h0.75v0.75h-0.75zM427.6 326.5h0.75v0.75h-0.75zM431.9 324.8h0.75v0.75h-0.75zM426.0 303.8h0.75v0.75h-0.75zM422.5 314.7h0.75v0.75h-0.75zM430.2 333.9h0.75v0.75h-0.75zM426.7 331.8h0.75v0.75h-0.75zM415.1 329.4h0.75v0.75h-0.75zM420.9 333.9h0.75v0.75h-0.75zM432.7 330.6h0.75v0.75h-0.75zM430.5 331.9h0.75v0.75h-0.75zM435.3 311.9h0.75v0.75h-0.75zM434.3 314.5h0.75v0.75h-0.75zM420.2 331.0h0.75v0.75h-0.75zM430.5 323.4h0.75v0.75h-0.75zM423.8 329.6h0.75v0.75h-0.75zM425.8 348.6h0.75v0.75h-0.75zM428.6 325.3h0.75v0.75h-0.75zM424.4 329.3h0.75v0.75h-0.75zM434.9 310.4h0.75v0.75h-0.75zM425.2 302.0h0.75v0.75h-0.75zM426.5 339.1h0.75v0.75h-0.75zM421.1 320.0h0.75v0.75h-0.75zM423.2 320.1h0.75v0.75h-0.75zM423.0 319.3h0.75v0.75h-0.75zM421.4 326.1h0.75v0.75h-0.75zM431.4 327.5h0.75v0.75h-0.75zM417.8 339.7h0.75v0.75h-0.75zM430.1 332.0h0.75v0.75h-0.75zM422.5 316.9h0.75v0.75h-0.75zM430.0 338.7h0.75v0.75h-0.75zM422.2 326.5h0.75v0.75h-0.75zM428.8 316.6h0.75v0.75h-0.75zM428.4 315.2h0.75v0.75h-0.75zM432.9 301.2h0.75v0.75h-0.75zM428.2 315.2h0.75v0.75h-0.75zM426.4 311.8h0.75v0.75h-0.75zM412.3 344.2h0.75v0.75h-0.75zM430.2 324.3h0.75v0.75h-0.75zM426.6 324.8h0.75v0.75h-0.75zM425.3 323.4h0.75v0.75h-0.75zM433.4 311.7h0.75v0.75h-0.75zM422.7 343.5h0.75v0.75h-0.75zM424.5 325.0h0.75v0.75h-0.75zM426.0 328.3h0.75v0.75h-0.75zM429.9 321.4h0.75v0.75h-0.75zM422.2 313.5h0.75v0.75h-0.75zM427.2 340.9h0.75v0.75h-0.75zM418.3 324.3h0.75v0.75h-0.75zM429.0 314.4h0.75v0.75h-0.75zM427.9 319.9h0.75v0.75h-0.75zM430.6 337.5h0.75v0.75h-0.75zM425.3 325.4h0.75v0.75h-0.75zM428.9 322.2h0.75v0.75h-0.75zM426.8 298.5h0.75v0.75h-0.75zM427.2 309.8h0.75v0.75h-0.75zM424.6 326.9h0.75v0.75h-0.75zM429.4 315.3h0.75v0.75h-0.75zM424.5 319.3h0.75v0.75h-0.75zM421.6 340.1h0.75v0.75h-0.75zM434.9 315.4h0.75v0.75h-0.75zM434.3 326.0h0.75v0.75h-0.75zM421.5 333.4h0.75v0.75h-0.75zM429.8 321.4h0.75v0.75h-0.75zM419.7 318.0h0.75v0.75h-0.75zM415.6 325.9h0.75v0.75h-0.75zM425.2 309.9h0.75v0.75h-0.75zM420.6 338.1h0.75v0.75h-0.75zM419.4 332.3h0.75v0.75h-0.75zM427.1 334.2h0.75v0.75h-0.75zM418.8 325.8h0.75v0.75h-0.75zM432.5 316.7h0.75v0.75h-0.75zM419.8 303.3h0.75v0.75h-0.75zM423.2 333.5h0.75v0.75h-0.75zM433.9 318.4h0.75v0.75h-0.75zM430.8 330.0h0.75v0.75h-0.75zM429.5 310.9h0.75v0.75h-0.75zM430.1 308.8h0.75v0.75h-0.75zM427.1 329.5h0.75v0.75h-0.75zM431.8 317.6h0.75v0.75h-0.75zM432.0 335.1h0.75v0.75h-0.75zM431.3 318.7h0.75v0.75h-0.75zM428.2 320.9h0.75v0.75h-0.75zM427.0 329.0h0.75v0.75h-0.75zM431.9 319.1h0.75v0.75h-0.75zM430.3 322.5h0.75v0.75h-0.75zM427.5 310.6h0.75v0.75h-0.75zM428.5 319.4h0.75v0.75h-0.75zM428.1 331.6h0.75v0.75h-0.75zM430.3 327.4h0.75v0.75h-0.75zM424.3 305.4h0.75v0.75h-0.75zM424.9 322.0h0.75v0.75h-0.75zM427.6 335.4h0.75v0.75h-0.75zM428.1 336.0h0.75v0.75h-0.75zM424.8 310.7h0.75v0.75h-0.75zM430.8 307.5h0.75v0.75h-0.75zM419.2 318.8h0.75v0.75h-0.75zM428.3 332.3h0.75v0.75h-0.75zM426.7 331.0h0.75v0.75h-0.75zM426.6 304.0h0.75v0.75h-0.75zM421.5 305.9h0.75v0.75h-0.75zM425.7 299.5h0.75v0.75h-0.75zM419.9 315.5h0.75v0.75h-0.75zM430.9 325.0h0.75v0.75h-0.75zM424.8 324.1h0.75v0.75h-0.75zM425.4 350.8h0.75v0.75h-0.75zM418.7 303.1h0.75v0.75h-0.75zM417.4 310.1h0.75v0.75h-0.75zM424.9 331.7h0.75v0.75h-0.75zM425.4 318.6h0.75v0.75h-0.75zM425.7 323.2h0.75v0.75h-0.75zM422.1 329.5h0.75v0.75h-0.75zM426.1 323.4h0.75v0.75h-0.75zM429.0 325.6h0.75v0.75h-0.75zM430.1 309.8h0.75v0.75h-0.75zM428.6 303.2h0.75v0.75h-0.75zM416.4 321.2h0.75v0.75h-0.75zM428.2 324.8h0.75v0.75h-0.75zM428.0 328.8h0.75v0.75h-0.75zM417.9 318.6h0.75v0.75h-0.75zM425.2 312.5h0.75v0.75h-0.75zM427.8 326.0h0.75v0.75h-0.75zM427.7 321.1h0.75v0.75h-0.75zM437.1 316.4h0.75v0.75h-0.75zM426.4 333.4h0.75v0.75h-0.75zM434.8 307.1h0.75v0.75h-0.75zM421.6 337.0h0.75v0.75h-0.75zM431.6 327.2h0.75v0.75h-0.75zM425.1 328.2h0.75v0.75h-0.75zM419.7 311.7h0.75v0.75h-0.75zM433.6 304.1h0.75v0.75h-0.75zM425.6 327.7h0.75v0.75h-0.75zM427.8 308.5h0.75v0.75h-0.75zM423.6 328.1h0.75v0.75h-0.75zM424.3 339.0h0.75v0.75h-0.75zM425.7 340.1h0.75v0.75h-0.75zM426.2 333.6h0.75v0.75h-0.75zM428.4 320.4h0.75v0.75h-0.75zM420.0 329.6h0.75v0.75h-0.75zM426.6 324.2h0.75v0.75h-0.75zM423.7 311.8h0.75v0.75h-0.75zM421.7 321.5h0.75v0.75h-0.75zM430.5 314.9h0.75v0.75h-0.75zM421.0 314.0h0.75v0.75h-0.75zM420.8 305.7h0.75v0.75h-0.75zM424.3 314.2h0.75v0.75h-0.75zM424.4 340.9h0.75v0.75h-0.75zM430.5 333.6h0.75v0.75h-0.75zM426.3 323.2h0.75v0.75h-0.75zM422.4 303.6h0.75v0.75h-0.75zM418.8 320.0h0.75v0.75h-0.75zM428.4 343.0h0.75v0.75h-0.75zM425.8 304.5h0.75v0.75h-0.75zM424.4 326.6h0.75v0.75h-0.75zM420.7 317.9h0.75v0.75h-0.75zM428.6 320.6h0.75v0.75h-0.75zM428.3 320.3h0.75v0.75h-0.75zM426.2 335.0h0.75v0.75h-0.75zM430.5 321.4h0.75v0.75h-0.75zM428.8 319.0h0.75v0.75h-0.75zM426.1 325.1h0.75v0.75h-0.75zM427.3 347.2h0.75v0.75h-0.75zM427.6 324.8h0.75v0.75h-0.75zM436.5 306.7h0.75v0.75h-0.75zM427.0 334.1h0.75v0.75h-0.75zM427.5 320.2h0.75v0.75h-0.75zM422.6 323.1h0.75v0.75h-0.75zM423.2 333.6h0.75v0.75h-0.75zM429.2 316.9h0.75v0.75h-0.75zM432.0 308.0h0.75v0.75h-0.75zM422.5 330.8h0.75v0.75h-0.75zM427.9 308.5h0.75v0.75h-0.75zM423.1 320.2h0.75v0.75h-0.75zM423.5 324.6h0.75v0.75h-0.75z" fill="#000" fill-opacity="1.0" filter="url(#soft)"/>
<path d="M425.2 333.4h0.75v0.75h-0.75zM425.5 331.4h0.75v0.75h-0.75zM422.5 332.3h0.75v0.75h-0.75zM428.9 335.8h0.75v0.75h-0.75zM428.9 319.9h0.75v0.75h-0.75zM425.5 345.0h0.75v0.75h-0.75zM423.9 327.4h0.75v0.75h-0.75zM439.1 333.0h0.75v0.75h-0.75zM431.7 312.3h0.75v0.75h-0.75zM418.7 331.5h0.75v0.75h-0.75zM443.5 296.9h0.75v0.75h-0.75zM412.2 336.6h0.75v0.75h-0.75zM428.1 311.4h0.75v0.75h-0.75zM433.4 327.4h0.75v0.75h-0.75zM422.0 325.4h0.75v0.75h-0.75zM421.5 331.1h0.75v0.75h-0.75zM420.1 310.5h0.75v0.75h-0.75zM420.0 332.2h0.75v0.75h-0.75zM435.1 315.0h0.75v0.75h-0.75zM417.5 331.5h0.75v0.75h-0.75zM435.0 318.7h0.75v0.75h-0.75zM438.3 312.4h0.75v0.75h-0.75zM437.6 333.7h0.75v0.75h-0.75zM412.0 336.0h0.75v0.75h-0.75zM424.1 323.7h0.75v0.75h-0.75zM419.9 327.2h0.75v0.75h-0.75zM420.6 328.8h0.75v0.75h-0.75zM434.6 344.1h0.75v0.75h-0.75zM435.0 336.9h0.75v0.75h-0.75zM429.5 322.4h0.75v0.75h-0.75zM416.8 342.1h0.75v0.75h-0.75zM422.3 329.2h0.75v0.75h-0.75zM414.7 334.2h0.75v0.75h-0.75zM437.2 322.6h0.75v0.75h-0.75zM433.3 322.4h0.75v0.75h-0.75zM427.3 318.8h0.75v0.75h-0.75zM404.1 335.0h0.75v0.75h-0.75zM429.9 333.5h0.75v0.75h-0.75zM439.9 336.7h0.75v0.75h-0.75zM429.7 315.8h0.75v0.75h-0.75zM449.8 302.3h0.75v0.75h-0.75zM422.8 319.4h0.75v0.75h-0.75zM434.8 329.3h0.75v0.75h-0.75zM430.4 300.0h0.75v0.75h-0.75zM421.7 341.7h0.75v0.75h-0.75zM421.9 308.8h0.75v0.75h-0.75zM427.7 317.3h0.75v0.75h-0.75zM426.0 331.2h0.75v0.75h-0.75zM418.0 326.9h0.75v0.75h-0.75zM437.2 320.4h0.75v0.75h-0.75zM424.3 318.3h0.75v0.75h-0.75zM428.9 333.2h0.75v0.75h-0.75zM418.9 329.3h0.75v0.75h-0.75zM439.9 300.0h0.75v0.75h-0.75zM434.4 337.7h0.75v0.75h-0.75zM413.6 304.6h0.75v0.75h-0.75zM421.4 347.0h0.75v0.75h-0.75zM420.8 327.5h0.75v0.75h-0.75zM427.0 324.7h0.75v0.75h-0.75zM442.5 327.2h0.75v0.75h-0.75zM416.4 332.1h0.75v0.75h-0.75zM431.4 309.5h0.75v0.75h-0.75zM427.6 317.0h0.75v0.75h-0.75zM415.2 314.8h0.75v0.75h-0.75zM432.7 322.4h0.75v0.75h-0.75zM412.4 338.9h0.75v0.75h-0.75zM423.4 283.5h0.75v0.75h-0.75zM417.0 293.1h0.75v0.75h-0.75zM442.9 326.9h0.75v0.75h-0.75zM418.9 310.1h0.75v0.75h-0.75zM419.8 330.6h0.75v0.75h-0.75zM436.4 324.9h0.75v0.75h-0.75zM436.4 322.3h0.75v0.75h-0.75zM408.6 333.8h0.75v0.75h-0.75zM434.5 333.1h0.75v0.75h-0.75zM435.2 311.0h0.75v0.75h-0.75zM423.9 326.9h0.75v0.75h-0.75zM429.0 334.0h0.75v0.75h-0.75zM434.3 318.8h0.75v0.75h-0.75zM417.3 321.2h0.75v0.75h-0.75zM424.4 319.9h0.75v0.75h-0.75zM418.4 340.3h0.75v0.75h-0.75zM434.2 339.2h0.75v0.75h-0.75zM432.6 332.9h0.75v0.75h-0.75zM422.4 321.0h0.75v0.75h-0.75zM428.5 298.8h0.75v0.75h-0.75zM428.2 297.0h0.75v0.75h-0.75zM441.4 332.7h0.75v0.75h-0.75zM420.9 326.7h0.75v0.75h-0.75zM421.9 349.5h0.75v0.75h-0.75zM435.4 326.0h0.75v0.75h-0.75zM422.0 335.7h0.75v0.75h-0.75zM428.4 325.4h0.75v0.75h-0.75zM421.9 304.5h0.75v0.75h-0.75zM414.9 317.7h0.75v0.75h-0.75zM412.6 314.9h0.75v0.75h-0.75zM441.0 324.1h0.75v0.75h-0.75zM432.0 316.7h0.75v0.75h-0.75zM437.4 326.2h0.75v0.75h-0.75zM432.9 341.3h0.75v0.75h-0.75zM429.9 354.0h0.75v0.75h-0.75zM418.5 322.9h0.75v0.75h-0.75zM430.4 324.3h0.75v0.75h-0.75zM430.1 357.5h0.75v0.75h-0.75zM423.7 330.8h0.75v0.75h-0.75zM421.9 315.2h0.75v0.75h-0.75zM410.3 336.2h0.75v0.75h-0.75zM437.9 324.8h0.75v0.75h-0.75zM436.3 305.1h0.75v0.75h-0.75zM424.7 324.4h0.75v0.75h-0.75zM432.3 326.0h0.75v0.75h-0.75zM430.7 347.1h0.75v0.75h-0.75zM417.0 326.2h0.75v0.75h-0.75zM429.5 315.9h0.75v0.75h-0.75zM429.2 300.0h0.75v0.75h-0.75zM417.7 323.9h0.75v0.75h-0.75zM441.7 341.8h0.75v0.75h-0.75zM433.1 338.2h0.75v0.75h-0.75zM423.9 323.2h0.75v0.75h-0.75zM409.0 342.7h0.75v0.75h-0.75zM424.5 297.4h0.75v0.75h-0.75zM419.1 334.7h0.75v0.75h-0.75zM412.5 320.8h0.75v0.75h-0.75zM407.8 322.0h0.75v0.75h-0.75zM425.3 290.7h0.75v0.75h-0.75zM419.4 333.4h0.75v0.75h-0.75zM422.8 347.9h0.75v0.75h-0.75zM433.1 341.4h0.75v0.75h-0.75zM415.6 313.8h0.75v0.75h-0.75zM428.6 332.9h0.75v0.75h-0.75zM421.4 323.3h0.75v0.75h-0.75zM417.7 320.1h0.75v0.75h-0.75zM429.2 346.3h0.75v0.75h-0.75zM430.6 338.0h0.75v0.75h-0.75zM426.5 333.3h0.75v0.75h-0.75zM434.1 311.2h0.75v0.75h-0.75zM434.1 333.3h0.75v0.75h-0.75zM434.4 331.0h0.75v0.75h-0.75zM420.3 320.5h0.75v0.75h-0.75zM426.2 288.8h0.75v0.75h-0.75zM419.0 318.1h0.75v0.75h-0.75zM421.3 312.0h0.75v0.75h-0.75zM416.9 323.2h0.75v0.75h-0.75zM420.5 345.7h0.75v0.75h-0.75zM425.7 324.5h0.75v0.75h-0.75zM432.7 323.2h0.75v0.75h-0.75zM425.5 342.7h0.75v0.75h-0.75zM433.8 321.2h0.75v0.75h-0.75zM414.9 318.7h0.75v0.75h-0.75zM430.4 301.0h0.75v0.75h-0.75zM423.2 325.4h0.75v0.75h-0.75zM413.3 345.4h0.75v0.75h-0.75zM423.8 303.8h0.75v0.75h-0.75zM417.5 333.3h0.75v0.75h-0.75zM437.2 328.0h0.75v0.75h-0.75zM427.4 322.7h0.75v0.75h-0.75zM439.2 342.2h0.75v0.75h-0.75zM412.7 328.6h0.75v0.75h-0.75zM430.7 322.3h0.75v0.75h-0.75zM429.6 334.8h0.75v0.75h-0.75zM418.5 345.9h0.75v0.75h-0.75zM427.2 341.2h0.75v0.75h-0.75zM428.3 324.3h0.75v0.75h-0.75zM437.1 329.5h0.75v0.75h-0.75zM439.0 332.5h0.75v0.75h-0.75zM444.0 311.5h0.75v0.75h-0.75zM426.7 314.8h0.75v0.75h-0.75zM417.0 330.3h0.75v0.75h-0.75zM413.8 326.7h0.75v0.75h-0.75zM436.7 331.9h0.75v0.75h-0.75zM421.6 323.1h0.75v0.75h-0.75zM431.9 347.6h0.75v0.75h-0.75zM423.9 328.1h0.75v0.75h-0.75zM430.0 322.6h0.75v0.75h-0.75zM428.9 329.3h0.75v0.75h-0.75zM436.8 315.5h0.75v0.75h-0.75zM426.6 330.8h0.75v0.75h-0.75zM420.0 322.2h0.75v0.75h-0.75zM425.7 304.9h0.75v0.75h-0.75zM421.9 310.3h0.75v0.75h-0.75zM421.7 316.8h0.75v0.75h-0.75zM421.9 336.7h0.75v0.75h-0.75zM436.1 336.0h0.75v0.75h-0.75zM419.3 331.7h0.75v0.75h-0.75zM415.5 335.8h0.75v0.75h-0.75zM431.9 319.8h0.75v0.75h-0.75zM426.2 337.5h0.75v0.75h-0.75zM431.9 316.7h0.75v0.75h-0.75zM419.9 302.6h0.75v0.75h-0.75zM423.0 317.7h0.75v0.75h-0.75zM425.8 333.7h0.75v0.75h-0.75zM414.3 316.8h0.75v0.75h-0.75zM423.0 303.1h0.75v0.75h-0.75zM424.2 318.7h0.75v0.75h-0.75zM428.6 334.7h0.75v0.75h-0.75zM431.4 320.9h0.75v0.75h-0.75zM427.7 328.2h0.75v0.75h-0.75zM434.3 297.7h0.75v0.75h-0.75zM423.7 315.0h0.75v0.75h-0.75zM426.6 340.4h0.75v0.75h-0.75zM427.5 327.2h0.75v0.75h-0.75zM420.0 331.1h0.75v0.75h-0.75zM427.6 310.9h0.75v0.75h-0.75zM430.9 318.0h0.75v0.75h-0.75zM408.4 325.9h0.75v0.75h-0.75zM429.8 331.2h0.75v0.75h-0.75zM426.7 324.6h0.75v0.75h-0.75zM431.0 332.7h0.75v0.75h-0.75zM410.7 317.7h0.75v0.75h-0.75zM426.4 324.2h0.75v0.75h-0.75zM432.4 338.6h0.75v0.75h-0.75zM426.8 319.8h0.75v0.75h-0.75zM439.7 310.8h0.75v0.75h-0.75zM424.8 354.7h0.75v0.75h-0.75zM430.8 333.2h0.75v0.75h-0.75zM425.7 342.8h0.75v0.75h-0.75zM449.6 326.0h0.75v0.75h-0.75zM423.9 342.7h0.75v0.75h-0.75zM441.4 328.2h0.75v0.75h-0.75zM419.1 331.9h0.75v0.75h-0.75zM419.4 340.7h0.75v0.75h-0.75zM424.2 333.6h0.75v0.75h-0.75zM426.5 337.5h0.75v0.75h-0.75zM409.3 333.5h0.75v0.75h-0.75zM427.4 329.7h0.75v0.75h-0.75zM414.0 347.4h0.75v0.75h-0.75zM420.5 333.4h0.75v0.75h-0.75zM421.6 323.7h0.75v0.75h-0.75zM422.2 303.2h0.75v0.75h-0.75zM420.6 345.6h0.75v0.75h-0.75zM416.6 329.3h0.75v0.75h-0.75zM411.5 344.0h0.75v0.75h-0.75zM414.6 311.2h0.75v0.75h-0.75zM424.6 333.9h0.75v0.75h-0.75zM415.2 326.4h0.75v0.75h-0.75zM430.3 325.3h0.75v0.75h-0.75zM419.6 333.4h0.75v0.75h-0.75zM435.1 357.6h0.75v0.75h-0.75zM436.5 299.6h0.75v0.75h-0.75zM436.6 339.0h0.75v0.75h-0.75zM428.5 335.6h0.75v0.75h-0.75zM435.2 320.7h0.75v0.75h-0.75zM415.9 324.1h0.75v0.75h-0.75zM431.5 317.0h0.75v0.75h-0.75zM420.7 308.7h0.75v0.75h-0.75zM430.5 309.8h0.75v0.75h-0.75zM424.3 315.9h0.75v0.75h-0.75zM436.8 338.8h0.75v0.75h-0.75zM445.1 312.7h0.75v0.75h-0.75zM418.0 331.4h0.75v0.75h-0.75zM414.8 321.0h0.75v0.75h-0.75zM431.7 326.0h0.75v0.75h-0.75zM433.1 314.2h0.75v0.75h-0.75zM422.2 324.9h0.75v0.75h-0.75zM433.0 341.0h0.75v0.75h-0.75zM436.1 326.0h0.75v0.75h-0.75zM420.2 321.2h0.75v0.75h-0.75zM426.2 303.8h0.75v0.75h-0.75zM418.4 302.3h0.75v0.75h-0.75zM428.5 329.0h0.75v0.75h-0.75zM418.5 341.4h0.75v0.75h-0.75zM426.9 324.2h0.75v0.75h-0.75zM431.6 330.1h0.75v0.75h-0.75zM417.4 318.0h0.75v0.75h-0.75zM414.3 337.1h0.75v0.75h-0.75zM425.2 339.5h0.75v0.75h-0.75zM420.3 310.0h0.75v0.75h-0.75zM435.3 336.6h0.75v0.75h-0.75zM414.1 343.6h0.75v0.75h-0.75zM420.2 349.1h0.75v0.75h-0.75zM430.2 316.6h0.75v0.75h-0.75zM424.1 324.1h0.75v0.75h-0.75zM401.9 340.2h0.75v0.75h-0.75zM423.6 337.5h0.75v0.75h-0.75zM402.8 340.5h0.75v0.75h-0.75zM426.3 309.8h0.75v0.75h-0.75zM442.3 335.2h0.75v0.75h-0.75zM418.4 315.9h0.75v0.75h-0.75zM430.9 351.2h0.75v0.75h-0.75zM430.4 319.2h0.75v0.75h-0.75zM441.0 315.0h0.75v0.75h-0.75zM437.0 334.1h0.75v0.75h-0.75zM425.1 317.7h0.75v0.75h-0.75zM421.5 326.8h0.75v0.75h-0.75zM437.6 323.4h0.75v0.75h-0.75zM418.9 346.9h0.75v0.75h-0.75zM434.7 326.0h0.75v0.75h-0.75zM436.5 327.3h0.75v0.75h-0.75zM441.3 322.2h0.75v0.75h-0.75zM420.2 321.0h0.75v0.75h-0.75zM427.2 328.3h0.75v0.75h-0.75zM421.5 319.6h0.75v0.75h-0.75zM415.4 320.4h0.75v0.75h-0.75zM439.6 321.1h0.75v0.75h-0.75zM418.1 318.0h0.75v0.75h-0.75zM419.8 325.6h0.75v0.75h-0.75zM419.1 344.2h0.75v0.75h-0.75zM419.2 323.5h0.75v0.75h-0.75zM438.1 323.5h0.75v0.75h-0.75zM436.4 321.4h0.75v0.75h-0.75zM432.5 356.4h0.75v0.75h-0.75zM418.4 335.0h0.75v0.75h-0.75zM417.0 327.1h0.75v0.75h-0.75zM420.5 328.8h0.75v0.75h-0.75zM416.1 297.0h0.75v0.75h-0.75zM430.8 326.7h0.75v0.75h-0.75zM436.7 327.0h0.75v0.75h-0.75zM426.8 313.3h0.75v0.75h-0.75zM414.6 330.0h0.75v0.75h-0.75zM416.3 347.9h0.75v0.75h-0.75zM437.8 331.7h0.75v0.75h-0.75zM436.1 323.0h0.75v0.75h-0.75zM424.0 345.0h0.75v0.75h-0.75zM419.3 333.1h0.75v0.75h-0.75zM433.1 300.3h0.75v0.75h-0.75zM413.4 317.8h0.75v0.75h-0.75zM423.0 327.3h0.75v0.75h-0.75zM419.7 316.2h0.75v0.75h-0.75zM417.3 312.3h0.75v0.75h-0.75zM429.0 317.7h0.75v0.75h-0.75zM416.8 310.2h0.75v0.75h-0.75zM419.2 303.4h0.75v0.75h-0.75zM427.6 331.4h0.75v0.75h-0.75zM414.8 319.8h0.75v0.75h-0.75zM422.8 338.1h0.75v0.75h-0.75zM419.7 321.9h0.75v0.75h-0.75zM417.3 313.1h0.75v0.75h-0.75zM435.3 329.4h0.75v0.75h-0.75zM428.2 303.0h0.75v0.75h-0.75zM417.7 338.4h0.75v0.75h-0.75zM426.1 342.1h0.75v0.75h-0.75zM426.0 334.0h0.75v0.75h-0.75zM426.9 333.6h0.75v0.75h-0.75zM429.1 341.5h0.75v0.75h-0.75zM421.6 323.5h0.75v0.75h-0.75zM420.2 326.8h0.75v0.75h-0.75zM429.8 326.4h0.75v0.75h-0.75zM409.7 318.6h0.75v0.75h-0.75zM421.5 321.9h0.75v0.75h-0.75zM420.6 321.5h0.75v0.75h-0.75zM433.6 333.4h0.75v0.75h-0.75zM437.9 299.9h0.75v0.75h-0.75zM417.2 308.9h0.75v0.75h-0.75zM434.4 334.9h0.75v0.75h-0.75zM421.1 318.9h0.75v0.75h-0.75zM428.3 344.9h0.75v0.75h-0.75zM439.0 314.2h0.75v0.75h-0.75zM433.5 321.9h0.75v0.75h-0.75zM430.7 334.3h0.75v0.75h-0.75zM404.4 338.2h0.75v0.75h-0.75zM411.6 319.8h0.75v0.75h-0.75zM433.3 301.3h0.75v0.75h-0.75zM445.9 314.5h0.75v0.75h-0.75zM432.6 316.8h0.75v0.75h-0.75zM431.9 316.4h0.75v0.75h-0.75zM425.5 291.6h0.75v0.75h-0.75zM434.1 334.8h0.75v0.75h-0.75zM423.1 321.9h0.75v0.75h-0.75zM416.8 316.7h0.75v0.75h-0.75zM428.0 330.1h0.75v0.75h-0.75zM432.2 342.1h0.75v0.75h-0.75zM434.4 330.6h0.75v0.75h-0.75zM428.9 322.5h0.75v0.75h-0.75zM436.5 313.4h0.75v0.75h-0.75zM419.3 332.3h0.75v0.75h-0.75zM413.9 323.5h0.75v0.75h-0.75zM413.2 315.6h0.75v0.75h-0.75zM455.6 296.5h0.75v0.75h-0.75zM434.4 315.7h0.75v0.75h-0.75zM416.3 305.6h0.75v0.75h-0.75zM431.1 319.4h0.75v0.75h-0.75zM426.1 350.4h0.75v0.75h-0.75zM414.5 296.3h0.75v0.75h-0.75zM427.1 346.1h0.75v0.75h-0.75zM427.4 346.6h0.75v0.75h-0.75zM435.6 329.5h0.75v0.75h-0.75zM419.7 329.4h0.75v0.75h-0.75zM435.8 331.9h0.75v0.75h-0.75zM426.0 332.0h0.75v0.75h-0.75zM426.1 338.5h0.75v0.75h-0.75zM424.3 350.9h0.75v0.75h-0.75zM429.6 328.6h0.75v0.75h-0.75zM411.2 297.1h0.75v0.75h-0.75zM424.7 320.0h0.75v0.75h-0.75zM442.5 312.5h0.75v0.75h-0.75zM418.1 339.6h0.75v0.75h-0.75zM409.0 330.5h0.75v0.75h-0.75zM415.2 286.7h0.75v0.75h-0.75zM410.8 326.4h0.75v0.75h-0.75zM425.9 321.9h0.75v0.75h-0.75zM418.1 327.9h0.75v0.75h-0.75zM428.1 326.1h0.75v0.75h-0.75zM439.5 337.6h0.75v0.75h-0.75zM417.9 317.2h0.75v0.75h-0.75zM417.8 329.1h0.75v0.75h-0.75zM434.4 347.3h0.75v0.75h-0.75zM427.1 316.3h0.75v0.75h-0.75zM416.7 302.9h0.75v0.75h-0.75zM440.3 317.9h0.75v0.75h-0.75zM421.5 353.6h0.75v0.75h-0.75zM420.4 325.3h0.75v0.75h-0.75zM429.4 297.7h0.75v0.75h-0.75zM429.0 296.1h0.75v0.75h-0.75zM421.0 325.3h0.75v0.75h-0.75zM431.0 323.6h0.75v0.75h-0.75zM416.0 327.7h0.75v0.75h-0.75zM435.4 315.4h0.75v0.75h-0.75zM416.3 311.5h0.75v0.75h-0.75zM406.5 347.8h0.75v0.75h-0.75zM428.8 324.2h0.75v0.75h-0.75zM427.4 344.3h0.75v0.75h-0.75zM422.8 306.9h0.75v0.75h-0.75zM435.2 290.3h0.75v0.75h-0.75zM423.0 343.9h0.75v0.75h-0.75zM439.0 322.6h0.75v0.75h-0.75zM425.3 324.3h0.75v0.75h-0.75zM423.8 324.7h0.75v0.75h-0.75zM437.8 331.2h0.75v0.75h-0.75zM440.5 331.9h0.75v0.75h-0.75zM423.0 322.6h0.75v0.75h-0.75zM444.5 313.7h0.75v0.75h-0.75zM434.8 310.3h0.75v0.75h-0.75zM430.7 320.0h0.75v0.75h-0.75zM422.4 313.9h0.75v0.75h-0.75zM419.7 329.5h0.75v0.75h-0.75zM437.7 329.8h0.75v0.75h-0.75zM418.5 334.0h0.75v0.75h-0.75zM404.8 328.6h0.75v0.75h-0.75zM445.1 286.9h0.75v0.75h-0.75zM423.2 341.2h0.75v0.75h-0.75zM442.0 341.9h0.75v0.75h-0.75zM422.3 351.4h0.75v0.75h-0.75zM439.5 318.8h0.75v0.75h-0.75zM426.8 312.7h0.75v0.75h-0.75zM423.5 347.3h0.75v0.75h-0.75zM416.2 345.8h0.75v0.75h-0.75zM429.1 331.3h0.75v0.75h-0.75zM421.1 338.5h0.75v0.75h-0.75zM425.0 323.6h0.75v0.75h-0.75zM412.5 329.0h0.75v0.75h-0.75zM422.9 339.6h0.75v0.75h-0.75zM427.2 324.8h0.75v0.75h-0.75zM421.6 317.8h0.75v0.75h-0.75zM419.9 337.6h0.75v0.75h-0.75zM413.6 306.2h0.75v0.75h-0.75zM428.2 347.0h0.75v0.75h-0.75zM428.8 322.7h0.75v0.75h-0.75zM444.0 327.4h0.75v0.75h-0.75zM421.1 329.3h0.75v0.75h-0.75zM434.5 318.6h0.75v0.75h-0.75zM432.7 319.4h0.75v0.75h-0.75zM427.1 330.1h0.75v0.75h-0.75zM404.8 347.8h0.75v0.75h-0.75zM430.7 331.2h0.75v0.75h-0.75zM427.2 321.5h0.75v0.75h-0.75zM437.0 323.2h0.75v0.75h-0.75zM432.9 298.4h0.75v0.75h-0.75zM442.3 325.3h0.75v0.75h-0.75zM427.9 309.4h0.75v0.75h-0.75zM417.7 332.5h0.75v0.75h-0.75zM418.8 313.8h0.75v0.75h-0.75zM425.4 352.9h0.75v0.75h-0.75zM426.9 340.6h0.75v0.75h-0.75zM414.3 317.3h0.75v0.75h-0.75zM432.5 305.9h0.75v0.75h-0.75zM402.5 317.9h0.75v0.75h-0.75zM421.7 321.5h0.75v0.75h-0.75zM431.0 332.8h0.75v0.75h-0.75zM421.2 333.3h0.75v0.75h-0.75zM423.9 326.3h0.75v0.75h-0.75zM416.8 335.7h0.75v0.75h-0.75zM422.1 343.4h0.75v0.75h-0.75zM413.0 343.5h0.75v0.75h-0.75zM415.1 332.8h0.75v0.75h-0.75zM415.6 312.6h0.75v0.75h-0.75zM431.2 299.1h0.75v0.75h-0.75zM433.0 354.9h0.75v0.75h-0.75zM431.2 300.5h0.75v0.75h-0.75zM430.7 322.3h0.75v0.75h-0.75zM426.7 324.3h0.75v0.75h-0.75zM434.4 348.8h0.75v0.75h-0.75zM428.2 345.9h0.75v0.75h-0.75zM417.4 310.4h0.75v0.75h-0.75zM422.4 338.2h0.75v0.75h-0.75zM434.1 300.5h0.75v0.75h-0.75zM427.7 331.2h0.75v0.75h-0.75zM447.5 317.2h0.75v0.75h-0.75zM413.8 302.7h0.75v0.75h-0.75zM424.0 333.6h0.75v0.75h-0.75zM427.7 324.1h0.75v0.75h-0.75zM419.0 326.2h0.75v0.75h-0.75zM425.0 309.4h0.75v0.75h-0.75zM421.9 322.8h0.75v0.75h-0.75zM407.6 328.1h0.75v0.75h-0.75zM427.1 327.3h0.75v0.75h-0.75zM417.0 322.9h0.75v0.75h-0.75zM428.0 337.4h0.75v0.75h-0.75zM428.2 305.2h0.75v0.75h-0.75zM431.6 347.7h0.75v0.75h-0.75zM423.6 287.0h0.75v0.75h-0.75zM433.0 340.2h0.75v0.75h-0.75zM426.1 319.7h0.75v0.75h-0.75zM435.8 336.7h0.75v0.75h-0.75zM426.0 323.7h0.75v0.75h-0.75zM427.8 341.5h0.75v0.75h-0.75zM427.4 308.4h0.75v0.75h-0.75zM420.9 329.6h0.75v0.75h-0.75zM429.4 317.1h0.75v0.75h-0.75zM432.5 315.6h0.75v0.75h-0.75zM434.5 350.0h0.75v0.75h-0.75zM433.2 326.3h0.75v0.75h-0.75zM431.0 293.0h0.75v0.75h-0.75zM438.4 310.4h0.75v0.75h-0.75zM417.2 320.5h0.75v0.75h-0.75zM417.1 325.8h0.75v0.75h-0.75zM422.6 323.8h0.75v0.75h-0.75zM434.8 328.5h0.75v0.75h-0.75zM419.7 322.2h0.75v0.75h-0.75zM417.6 340.4h0.75v0.75h-0.75zM415.3 319.4h0.75v0.75h-0.75zM438.7 316.9h0.75v0.75h-0.75zM426.0 331.2h0.75v0.75h-0.75zM410.7 329.3h0.75v0.75h-0.75zM433.1 325.2h0.75v0.75h-0.75zM429.9 309.7h0.75v0.75h-0.75zM425.2 319.3h0.75v0.75h-0.75zM424.8 304.1h0.75v0.75h-0.75zM419.4 332.1h0.75v0.75h-0.75zM419.3 333.0h0.75v0.75h-0.75zM437.7 325.8h0.75v0.75h-0.75zM425.6 333.2h0.75v0.75h-0.75zM417.3 318.0h0.75v0.75h-0.75zM415.8 313.3h0.75v0.75h-0.75zM439.3 310.3h0.75v0.75h-0.75zM424.9 319.2h0.75v0.75h-0.75zM421.3 320.7h0.75v0.75h-0.75zM423.1 329.8h0.75v0.75h-0.75zM422.4 330.8h0.75v0.75h-0.75zM423.7 320.3h0.75v0.75h-0.75zM423.3 349.8h0.75v0.75h-0.75zM415.0 324.1h0.75v0.75h-0.75zM430.9 331.5h0.75v0.75h-0.75zM416.9 310.0h0.75v0.75h-0.75zM424.6 341.7h0.75v0.75h-0.75zM431.3 322.5h0.75v0.75h-0.75zM422.2 321.9h0.75v0.75h-0.75zM423.8 304.5h0.75v0.75h-0.75zM413.6 325.5h0.75v0.75h-0.75zM440.9 325.2h0.75v0.75h-0.75zM410.6 311.1h0.75v0.75h-0.75zM424.5 310.2h0.75v0.75h-0.75zM427.0 313.6h0.75v0.75h-0.75zM418.6 306.5h0.75v0.75h-0.75zM428.6 328.8h0.75v0.75h-0.75zM428.4 333.9h0.75v0.75h-0.75zM424.1 342.4h0.75v0.75h-0.75zM416.7 337.1h0.75v0.75h-0.75zM421.8 318.4h0.75v0.75h-0.75zM419.6 334.1h0.75v0.75h-0.75zM427.0 340.6h0.75v0.75h-0.75zM417.9 329.5h0.75v0.75h-0.75zM417.6 334.2h0.75v0.75h-0.75zM437.2 309.5h0.75v0.75h-0.75zM434.6 309.1h0.75v0.75h-0.75zM437.9 325.6h0.75v0.75h-0.75zM430.3 308.9h0.75v0.75h-0.75zM439.0 321.8h0.75v0.75h-0.75zM422.0 340.5h0.75v0.75h-0.75zM419.4 322.9h0.75v0.75h-0.75zM422.7 314.9h0.75v0.75h-0.75zM434.8 348.5h0.75v0.75h-0.75zM418.0 349.9h0.75v0.75h-0.75zM434.9 319.0h0.75v0.75h-0.75zM431.2 353.9h0.75v0.75h-0.75zM420.7 318.7h0.75v0.75h-0.75zM417.8 357.5h0.75v0.75h-0.75zM434.4 313.0h0.75v0.75h-0.75zM424.8 335.9h0.75v0.75h-0.75zM423.9 343.3h0.75v0.75h-0.75zM426.6 344.3h0.75v0.75h-0.75zM429.0 329.0h0.75v0.75h-0.75zM421.3 332.2h0.75v0.75h-0.75zM433.0 302.6h0.75v0.75h-0.75zM431.0 344.4h0.75v0.75h-0.75zM434.0 331.3h0.75v0.75h-0.75zM424.9 311.7h0.75v0.75h-0.75zM419.1 323.0h0.75v0.75h-0.75zM417.9 330.0h0.75v0.75h-0.75zM422.6 323.4h0.75v0.75h-0.75zM436.7 328.2h0.75v0.75h-0.75zM432.4 301.7h0.75v0.75h-0.75zM431.4 314.7h0.75v0.75h-0.75zM439.9 303.6h0.75v0.75h-0.75zM420.5 340.1h0.75v0.75h-0.75zM443.6 303.4h0.75v0.75h-0.75zM425.0 317.0h0.75v0.75h-0.75zM439.9 354.6h0.75v0.75h-0.75zM429.5 340.5h0.75v0.75h-0.75zM422.1 312.6h0.75v0.75h-0.75zM431.5 320.9h0.75v0.75h-0.75zM433.5 322.9h0.75v0.75h-0.75zM437.9 323.8h0.75v0.75h-0.75zM427.2 341.6h0.75v0.75h-0.75zM428.7 347.2h0.75v0.75h-0.75zM422.3 315.4h0.75v0.75h-0.75zM434.4 333.6h0.75v0.75h-0.75zM422.3 312.5h0.75v0.75h-0.75zM421.5 327.7h0.75v0.75h-0.75zM424.8 312.0h0.75v0.75h-0.75zM419.7 336.0h0.75v0.75h-0.75zM435.7 347.0h0.75v0.75h-0.75zM420.4 312.6h0.75v0.75h-0.75zM431.2 321.5h0.75v0.75h-0.75zM432.6 338.6h0.75v0.75h-0.75zM423.3 325.2h0.75v0.75h-0.75zM413.5 306.6h0.75v0.75h-0.75zM431.9 354.7h0.75v0.75h-0.75zM412.5 308.2h0.75v0.75h-0.75zM422.1 336.9h0.75v0.75h-0.75zM410.9 328.8h0.75v0.75h-0.75zM436.8 291.8h0.75v0.75h-0.75zM416.5 337.3h0.75v0.75h-0.75zM434.8 312.6h0.75v0.75h-0.75zM432.9 337.8h0.75v0.75h-0.75zM414.6 326.3h0.75v0.75h-0.75zM421.2 322.2h0.75v0.75h-0.75zM427.5 309.6h0.75v0.75h-0.75zM410.5 308.6h0.75v0.75h-0.75zM415.1 324.5h0.75v0.75h-0.75zM433.2 316.8h0.75v0.75h-0.75zM419.9 319.3h0.75v0.75h-0.75zM431.8 322.5h0.75v0.75h-0.75zM426.0 315.8h0.75v0.75h-0.75zM425.3 320.0h0.75v0.75h-0.75zM434.9 324.6h0.75v0.75h-0.75zM435.4 330.1h0.75v0.75h-0.75zM427.8 300.5h0.75v0.75h-0.75zM424.0 312.4h0.75v0.75h-0.75zM433.7 328.9h0.75v0.75h-0.75zM428.8 322.5h0.75v0.75h-0.75zM436.6 294.9h0.75v0.75h-0.75zM431.4 318.7h0.75v0.75h-0.75zM417.3 316.4h0.75v0.75h-0.75zM425.1 329.5h0.75v0.75h-0.75zM434.4 314.1h0.75v0.75h-0.75zM419.4 340.8h0.75v0.75h-0.75zM434.7 309.0h0.75v0.75h-0.75zM419.7 330.7h0.75v0.75h-0.75zM423.1 335.3h0.75v0.75h-0.75zM419.2 316.8h0.75v0.75h-0.75zM450.4 336.8h0.75v0.75h-0.75zM438.7 328.8h0.75v0.75h-0.75zM420.3 343.5h0.75v0.75h-0.75zM438.3 320.6h0.75v0.75h-0.75zM423.5 334.1h0.75v0.75h-0.75zM424.9 303.8h0.75v0.75h-0.75zM431.3 336.2h0.75v0.75h-0.75zM411.1 353.9h0.75v0.75h-0.75zM416.3 309.0h0.75v0.75h-0.75zM418.0 326.1h0.75v0.75h-0.75zM424.7 300.5h0.75v0.75h-0.75zM426.2 331.0h0.75v0.75h-0.75zM419.5 292.1h0.75v0.75h-0.75zM415.8 316.1h0.75v0.75h-0.75zM431.3 316.6h0.75v0.75h-0.75zM425.2 321.9h0.75v0.75h-0.75zM432.7 341.7h0.75v0.75h-0.75zM436.4 323.5h0.75v0.75h-0.75zM414.8 298.7h0.75v0.75h-0.75zM417.9 321.0h0.75v0.75h-0.75zM415.0 304.6h0.75v0.75h-0.75zM422.2 318.2h0.75v0.75h-0.75zM420.1 351.8h0.75v0.75h-0.75zM432.8 303.8h0.75v0.75h-0.75zM432.6 320.8h0.75v0.75h-0.75zM418.2 316.8h0.75v0.75h-0.75zM447.3 318.4h0.75v0.75h-0.75zM417.3 323.0h0.75v0.75h-0.75zM431.0 324.9h0.75v0.75h-0.75zM423.0 310.4h0.75v0.75h-0.75zM419.1 304.6h0.75v0.75h-0.75zM424.9 331.4h0.75v0.75h-0.75zM428.6 322.5h0.75v0.75h-0.75zM436.0 328.4h0.75v0.75h-0.75zM429.9 307.6h0.75v0.75h-0.75zM421.8 318.3h0.75v0.75h-0.75zM434.1 321.0h0.75v0.75h-0.75zM423.7 321.4h0.75v0.75h-0.75zM438.0 314.3h0.75v0.75h-0.75zM418.7 329.4h0.75v0.75h-0.75zM424.6 345.4h0.75v0.75h-0.75zM435.0 328.0h0.75v0.75h-0.75zM424.2 325.9h0.75v0.75h-0.75zM437.0 329.6h0.75v0.75h-0.75zM431.0 288.9h0.75v0.75h-0.75zM415.9 324.5h0.75v0.75h-0.75zM430.9 333.9h0.75v0.75h-0.75zM426.4 298.9h0.75v0.75h-0.75zM426.3 312.9h0.75v0.75h-0.75zM407.0 314.6h0.75v0.75h-0.75zM421.7 328.1h0.75v0.75h-0.75zM431.7 326.3h0.75v0.75h-0.75zM425.2 317.2h0.75v0.75h-0.75zM425.1 308.3h0.75v0.75h-0.75zM431.3 324.0h0.75v0.75h-0.75zM434.1 331.8h0.75v0.75h-0.75zM422.2 324.3h0.75v0.75h-0.75zM425.1 325.8h0.75v0.75h-0.75zM404.0 315.0h0.75v0.75h-0.75zM441.9 323.9h0.75v0.75h-0.75zM437.6 315.4h0.75v0.75h-0.75zM412.6 323.2h0.75v0.75h-0.75zM422.6 314.4h0.75v0.75h-0.75zM435.7 345.0h0.75v0.75h-0.75zM419.9 355.6h0.75v0.75h-0.75zM433.5 306.8h0.75v0.75h-0.75zM434.5 329.7h0.75v0.75h-0.75zM426.0 301.9h0.75v0.75h-0.75zM429.5 313.7h0.75v0.75h-0.75zM440.9 307.4h0.75v0.75h-0.75zM413.1 334.6h0.75v0.75h-0.75zM415.9 349.5h0.75v0.75h-0.75zM418.1 337.8h0.75v0.75h-0.75zM417.4 319.5h0.75v0.75h-0.75zM427.1 315.1h0.75v0.75h-0.75zM431.7 314.3h0.75v0.75h-0.75zM437.9 336.9h0.75v0.75h-0.75zM412.2 358.0h0.75v0.75h-0.75zM428.6 313.0h0.75v0.75h-0.75zM428.4 327.2h0.75v0.75h-0.75zM432.8 337.5h0.75v0.75h-0.75zM436.1 305.4h0.75v0.75h-0.75zM428.2 316.3h0.75v0.75h-0.75zM412.8 316.4h0.75v0.75h-0.75zM417.0 333.1h0.75v0.75h-0.75zM423.4 331.6h0.75v0.75h-0.75zM425.2 328.0h0.75v0.75h-0.75zM430.0 313.2h0.75v0.75h-0.75zM424.6 323.6h0.75v0.75h-0.75zM421.5 311.7h0.75v0.75h-0.75zM428.3 334.8h0.75v0.75h-0.75zM441.6 326.1h0.75v0.75h-0.75zM428.1 309.2h0.75v0.75h-0.75zM425.4 344.7h0.75v0.75h-0.75zM442.9 330.5h0.75v0.75h-0.75zM440.1 348.8h0.75v0.75h-0.75zM444.2 334.6h0.75v0.75h-0.75zM421.2 330.0h0.75v0.75h-0.75zM436.7 316.3h0.75v0.75h-0.75zM426.0 314.1h0.75v0.75h-0.75zM421.5 305.8h0.75v0.75h-0.75zM436.1 314.6h0.75v0.75h-0.75zM427.1 333.8h0.75v0.75h-0.75zM423.6 310.4h0.75v0.75h-0.75zM421.0 311.2h0.75v0.75h-0.75zM427.0 316.6h0.75v0.75h-0.75zM435.5 319.0h0.75v0.75h-0.75zM430.4 311.2h0.75v0.75h-0.75zM410.7 323.4h0.75v0.75h-0.75zM434.0 338.9h0.75v0.75h-0.75zM436.0 317.8h0.75v0.75h-0.75zM422.8 328.2h0.75v0.75h-0.75zM423.0 334.3h0.75v0.75h-0.75zM432.9 338.5h0.75v0.75h-0.75zM419.0 348.8h0.75v0.75h-0.75zM409.6 323.5h0.75v0.75h-0.75zM421.1 325.6h0.75v0.75h-0.75zM423.3 342.6h0.75v0.75h-0.75zM419.1 337.5h0.75v0.75h-0.75zM416.0 326.6h0.75v0.75h-0.75zM428.7 339.3h0.75v0.75h-0.75zM415.7 294.4h0.75v0.75h-0.75zM440.0 309.0h0.75v0.75h-0.75zM423.1 323.3h0.75v0.75h-0.75zM437.5 334.1h0.75v0.75h-0.75zM435.8 343.5h0.75v0.75h-0.75zM430.0 321.5h0.75v0.75h-0.75zM437.1 338.5h0.75v0.75h-0.75zM428.4 297.9h0.75v0.75h-0.75zM420.7 333.1h0.75v0.75h-0.75zM421.7 340.5h0.75v0.75h-0.75zM448.3 323.3h0.75v0.75h-0.75zM429.0 338.2h0.75v0.75h-0.75zM441.0 291.4h0.75v0.75h-0.75zM421.7 347.8h0.75v0.75h-0.75zM425.6 300.2h0.75v0.75h-0.75zM430.4 305.3h0.75v0.75h-0.75zM433.7 339.2h0.75v0.75h-0.75zM422.7 309.0h0.75v0.75h-0.75zM430.3 319.8h0.75v0.75h-0.75zM423.5 317.5h0.75v0.75h-0.75zM421.8 312.1h0.75v0.75h-0.75zM433.1 341.7h0.75v0.75h-0.75zM418.7 308.0h0.75v0.75h-0.75zM432.4 344.1h0.75v0.75h-0.75zM430.6 342.3h0.75v0.75h-0.75zM432.8 325.9h0.75v0.75h-0.75zM423.8 315.0h0.75v0.75h-0.75zM425.2 299.7h0.75v0.75h-0.75zM438.5 307.0h0.75v0.75h-0.75zM428.2 331.0h0.75v0.75h-0.75zM425.2 325.5h0.75v0.75h-0.75zM419.2 320.9h0.75v0.75h-0.75zM432.3 335.2h0.75v0.75h-0.75zM414.6 326.9h0.75v0.75h-0.75zM410.9 327.2h0.75v0.75h-0.75zM426.5 305.4h0.75v0.75h-0.75zM438.1 303.2h0.75v0.75h-0.75zM436.2 299.1h0.75v0.75h-0.75zM432.0 296.0h0.75v0.75h-0.75zM421.5 306.8h0.75v0.75h-0.75zM428.3 312.8h0.75v0.75h-0.75zM423.9 329.2h0.75v0.75h-0.75zM417.1 317.9h0.75v0.75h-0.75zM427.7 310.7h0.75v0.75h-0.75zM428.9 298.1h0.75v0.75h-0.75zM442.8 338.7h0.75v0.75h-0.75zM413.0 315.4h0.75v0.75h-0.75zM422.4 334.1h0.75v0.75h-0.75zM431.8 340.0h0.75v0.75h-0.75zM435.4 306.7h0.75v0.75h-0.75zM426.9 322.5h0.75v0.75h-0.75zM430.6 322.0h0.75v0.75h-0.75zM410.3 320.6h0.75v0.75h-0.75zM446.6 321.7h0.75v0.75h-0.75zM435.7 322.4h0.75v0.75h-0.75zM423.1 325.9h0.75v0.75h-0.75zM423.6 338.3h0.75v0.75h-0.75zM421.7 298.1h0.75v0.75h-0.75zM433.0 331.8h0.75v0.75h-0.75zM422.0 323.6h0.75v0.75h-0.75zM432.0 329.7h0.75v0.75h-0.75zM417.1 347.0h0.75v0.75h-0.75zM447.2 321.7h0.75v0.75h-0.75zM417.0 342.7h0.75v0.75h-0.75zM437.4 309.9h0.75v0.75h-0.75zM412.7 307.4h0.75v0.75h-0.75zM421.3 309.5h0.75v0.75h-0.75zM421.5 319.0h0.75v0.75h-0.75zM411.3 332.0h0.75v0.75h-0.75zM436.9 292.0h0.75v0.75h-0.75zM422.9 317.7h0.75v0.75h-0.75zM418.3 326.2h0.75v0.75h-0.75zM415.7 337.5h0.75v0.75h-0.75zM421.7 308.9h0.75v0.75h-0.75zM428.0 324.4h0.75v0.75h-0.75zM436.6 323.8h0.75v0.75h-0.75zM421.2 352.5h0.75v0.75h-0.75zM426.2 328.6h0.75v0.75h-0.75zM436.8 313.0h0.75v0.75h-0.75zM423.6 312.1h0.75v0.75h-0.75zM440.9 307.6h0.75v0.75h-0.75zM414.8 308.0h0.75v0.75h-0.75zM439.7 336.6h0.75v0.75h-0.75zM418.4 313.3h0.75v0.75h-0.75zM444.1 310.6h0.75v0.75h-0.75zM424.7 312.8h0.75v0.75h-0.75zM445.6 309.1h0.75v0.75h-0.75zM412.3 328.4h0.75v0.75h-0.75zM426.9 318.5h0.75v0.75h-0.75zM418.3 297.1h0.75v0.75h-0.75zM416.8 353.1h0.75v0.75h-0.75zM410.4 345.4h0.75v0.75h-0.75zM444.2 340.5h0.75v0.75h-0.75zM427.9 343.1h0.75v0.75h-0.75zM435.7 302.5h0.75v0.75h-0.75zM429.9 308.9h0.75v0.75h-0.75zM407.4 342.5h0.75v0.75h-0.75zM418.3 329.9h0.75v0.75h-0.75zM414.1 341.9h0.75v0.75h-0.75zM430.3 318.9h0.75v0.75h-0.75zM417.3 315.1h0.75v0.75h-0.75zM426.4 314.4h0.75v0.75h-0.75zM416.3 334.6h0.75v0.75h-0.75zM428.0 339.2h0.75v0.75h-0.75zM432.5 305.2h0.75v0.75h-0.75zM426.0 310.9h0.75v0.75h-0.75zM413.3 328.4h0.75v0.75h-0.75zM422.6 331.1h0.75v0.75h-0.75zM421.4 335.2h0.75v0.75h-0.75zM423.6 328.6h0.75v0.75h-0.75zM434.1 349.2h0.75v0.75h-0.75zM422.0 295.1h0.75v0.75h-0.75zM411.8 345.5h0.75v0.75h-0.75zM440.2 335.0h0.75v0.75h-0.75zM438.1 317.4h0.75v0.75h-0.75zM420.8 345.2h0.75v0.75h-0.75zM432.0 332.3h0.75v0.75h-0.75zM430.8 324.0h0.75v0.75h-0.75zM411.5 344.8h0.75v0.75h-0.75zM427.8 314.1h0.75v0.75h-0.75zM421.5 339.1h0.75v0.75h-0.75zM420.1 309.6h0.75v0.75h-0.75zM429.0 337.6h0.75v0.75h-0.75zM433.6 336.7h0.75v0.75h-0.75zM428.3 322.4h0.75v0.75h-0.75zM409.5 326.3h0.75v0.75h-0.75zM420.6 351.1h0.75v0.75h-0.75zM421.5 331.2h0.75v0.75h-0.75zM432.6 307.7h0.75v0.75h-0.75zM415.9 346.4h0.75v0.75h-0.75zM436.0 299.0h0.75v0.75h-0.75zM426.4 345.6h0.75v0.75h-0.75zM419.0 327.5h0.75v0.75h-0.75zM426.6 320.1h0.75v0.75h-0.75zM421.3 286.5h0.75v0.75h-0.75zM416.0 321.7h0.75v0.75h-0.75zM427.2 351.4h0.75v0.75h-0.75zM446.4 342.2h0.75v0.75h-0.75zM427.2 308.7h0.75v0.75h-0.75zM423.9 341.6h0.75v0.75h-0.75zM424.4 329.3h0.75v0.75h-0.75zM436.4 309.8h0.75v0.75h-0.75zM419.6 348.8h0.75v0.75h-0.75zM430.5 339.0h0.75v0.75h-0.75zM428.1 310.2h0.75v0.75h-0.75zM437.1 317.8h0.75v0.75h-0.75zM430.2 333.8h0.75v0.75h-0.75zM429.9 308.2h0.75v0.75h-0.75zM430.1 306.0h0.75v0.75h-0.75zM428.7 319.5h0.75v0.75h-0.75zM438.8 314.8h0.75v0.75h-0.75zM424.6 323.6h0.75v0.75h-0.75zM409.5 325.0h0.75v0.75h-0.75zM425.4 314.0h0.75v0.75h-0.75zM424.4 329.8h0.75v0.75h-0.75zM428.9 333.1h0.75v0.75h-0.75zM434.6 340.9h0.75v0.75h-0.75zM423.3 330.8h0.75v0.75h-0.75zM425.4 318.6h0.75v0.75h-0.75zM421.4 310.2h0.75v0.75h-0.75zM427.2 339.3h0.75v0.75h-0.75zM422.1 318.9h0.75v0.75h-0.75zM417.9 307.2h0.75v0.75h-0.75zM416.3 329.6h0.75v0.75h-0.75zM411.5 351.6h0.75v0.75h-0.75zM432.3 324.8h0.75v0.75h-0.75zM420.4 339.5h0.75v0.75h-0.75zM422.7 354.6h0.75v0.75h-0.75zM424.4 332.3h0.75v0.75h-0.75zM418.5 342.7h0.75v0.75h-0.75zM429.8 332.1h0.75v0.75h-0.75zM439.8 310.2h0.75v0.75h-0.75zM410.2 299.1h0.75v0.75h-0.75zM419.8 321.4h0.75v0.75h-0.75zM422.5 333.3h0.75v0.75h-0.75zM434.8 313.1h0.75v0.75h-0.75zM436.1 315.7h0.75v0.75h-0.75zM417.5 338.0h0.75v0.75h-0.75zM433.0 334.4h0.75v0.75h-0.75zM417.3 347.6h0.75v0.75h-0.75zM429.2 313.6h0.75v0.75h-0.75zM426.2 328.6h0.75v0.75h-0.75zM425.6 317.3h0.75v0.75h-0.75zM439.9 316.1h0.75v0.75h-0.75zM429.0 324.5h0.75v0.75h-0.75zM428.1 301.6h0.75v0.75h-0.75zM442.7 345.0h0.75v0.75h-0.75zM425.5 342.7h0.75v0.75h-0.75zM426.6 337.7h0.75v0.75h-0.75zM425.1 303.2h0.75v0.75h-0.75zM420.9 318.3h0.75v0.75h-0.75zM420.1 297.2h0.75v0.75h-0.75zM423.9 334.6h0.75v0.75h-0.75zM429.0 313.3h0.75v0.75h-0.75zM439.8 320.2h0.75v0.75h-0.75zM428.9 322.1h0.75v0.75h-0.75zM419.0 328.9h0.75v0.75h-0.75zM417.9 310.8h0.75v0.75h-0.75zM410.1 330.9h0.75v0.75h-0.75zM430.9 324.0h0.75v0.75h-0.75zM422.5 323.1h0.75v0.75h-0.75zM432.6 317.0h0.75v0.75h-0.75zM425.3 331.0h0.75v0.75h-0.75zM424.8 330.6h0.75v0.75h-0.75zM431.3 320.6h0.75v0.75h-0.75zM441.8 313.0h0.75v0.75h-0.75zM425.9 329.4h0.75v0.75h-0.75zM425.5 309.3h0.75v0.75h-0.75zM426.1 311.8h0.75v0.75h-0.75zM424.5 333.7h0.75v0.75h-0.75zM432.1 324.2h0.75v0.75h-0.75zM421.8 357.7h0.75v0.75h-0.75zM424.9 352.3h0.75v0.75h-0.75zM419.4 330.3h0.75v0.75h-0.75zM439.0 310.6h0.75v0.75h-0.75zM416.0 341.6h0.75v0.75h-0.75zM439.0 335.4h0.75v0.75h-0.75zM429.6 317.5h0.75v0.75h-0.75zM428.8 338.0h0.75v0.75h-0.75z" fill="#000" fill-opacity="0.5" filter="url(#soft)"/>
<path d="M472.3 274.2h0.75v0.75h-0.75zM476.8 279.1h0.75v0.75h-0.75zM469.4 281.5h0.75v0.75h-0.75zM476.7 278.2h0.75v0.75h-0.75zM473.6 299.8h0.75v0.75h-0.75zM474.7 285.2h0.75v0.75h-0.75zM471.0 274.2h0.75v0.75h-0.75zM477.6 278.2h0.75v0.75h-0.75zM473.8 293.5h0.75v0.75h-0.75zM471.6 284.2h0.75v0.75h-0.75zM476.5 288.3h0.75v0.75h-0.75zM477.1 295.8h0.75v0.75h-0.75zM477.9 277.7h0.75v0.75h-0.75zM474.4 287.2h0.75v0.75h-0.75zM472.9 273.8h0.75v0.75h-0.75zM473.0 295.3h0.75v0.75h-0.75zM476.3 282.3h0.75v0.75h-0.75zM473.1 285.4h0.75v0.75h-0.75zM475.9 282.2h0.75v0.75h-0.75zM471.5 275.3h0.75v0.75h-0.75zM475.8 300.8h0.75v0.75h-0.75zM474.6 291.1h0.75v0.75h-0.75zM475.9 279.0h0.75v0.75h-0.75zM475.3 298.0h0.75v0.75h-0.75zM476.6 286.1h0.75v0.75h-0.75zM471.2 280.7h0.75v0.75h-0.75zM477.0 283.3h0.75v0.75h-0.75zM473.8 288.2h0.75v0.75h-0.75zM472.6 279.5h0.75v0.75h-0.75zM474.8 281.4h0.75v0.75h-0.75zM472.2 294.2h0.75v0.75h-0.75zM475.6 271.6h0.75v0.75h-0.75zM470.1 290.7h0.75v0.75h-0.75zM470.7 291.2h0.75v0.75h-0.75zM476.6 295.1h0.75v0.75h-0.75zM478.8 279.1h0.75v0.75h-0.75zM470.8 281.9h0.75v0.75h-0.75zM472.1 292.8h0.75v0.75h-0.75zM474.9 281.1h0.75v0.75h-0.75zM472.2 277.3h0.75v0.75h-0.75zM472.4 276.5h0.75v0.75h-0.75zM479.2 294.6h0.75v0.75h-0.75zM472.5 285.2h0.75v0.75h-0.75zM476.0 287.5h0.75v0.75h-0.75zM477.4 289.3h0.75v0.75h-0.75zM480.6 294.1h0.75v0.75h-0.75zM470.3 278.2h0.75v0.75h-0.75zM472.0 298.9h0.75v0.75h-0.75zM472.6 293.1h0.75v0.75h-0.75zM469.3 289.0h0.75v0.75h-0.75zM470.3 282.1h0.75v0.75h-0.75zM473.6 276.6h0.75v0.75h-0.75zM480.7 281.1h0.75v0.75h-0.75zM472.1 298.5h0.75v0.75h-0.75zM476.4 270.1h0.75v0.75h-0.75zM474.8 294.9h0.75v0.75h-0.75zM470.5 285.6h0.75v0.75h-0.75zM471.3 280.5h0.75v0.75h-0.75zM478.8 295.8h0.75v0.75h-0.75zM471.1 277.0h0.75v0.75h-0.75zM475.9 289.4h0.75v0.75h-0.75zM472.7 288.3h0.75v0.75h-0.75zM469.7 280.0h0.75v0.75h-0.75zM471.4 295.1h0.75v0.75h-0.75zM473.6 279.6h0.75v0.75h-0.75zM471.4 294.0h0.75v0.75h-0.75zM474.8 283.5h0.75v0.75h-0.75zM472.6 292.0h0.75v0.75h-0.75zM472.8 284.9h0.75v0.75h-0.75zM471.6 268.5h0.75v0.75h-0.75zM475.5 286.4h0.75v0.75h-0.75zM476.2 310.5h0.75v0.75h-0.75zM472.6 290.9h0.75v0.75h-0.75zM472.6 281.2h0.75v0.75h-0.75zM471.2 283.4h0.75v0.75h-0.75zM473.8 299.7h0.75v0.75h-0.75zM474.8 283.2h0.75v0.75h-0.75zM476.7 281.4h0.75v0.75h-0.75zM475.8 289.4h0.75v0.75h-0.75zM472.0 289.6h0.75v0.75h-0.75zM477.1 292.8h0.75v0.75h-0.75zM467.9 272.0h0.75v0.75h-0.75zM473.3 284.5h0.75v0.75h-0.75zM469.2 290.6h0.75v0.75h-0.75zM475.1 296.1h0.75v0.75h-0.75zM474.5 299.6h0.75v0.75h-0.75zM471.6 283.2h0.75v0.75h-0.75zM475.6 290.2h0.75v0.75h-0.75zM468.9 279.3h0.75v0.75h-0.75zM475.4 288.3h0.75v0.75h-0.75zM471.4 283.8h0.75v0.75h-0.75zM473.1 285.0h0.75v0.75h-0.75zM475.0 292.0h0.75v0.75h-0.75zM471.2 302.7h0.75v0.75h-0.75zM474.5 286.1h0.75v0.75h-0.75zM479.3 288.9h0.75v0.75h-0.75zM470.0 275.9h0.75v0.75h-0.75zM471.8 281.5h0.75v0.75h-0.75zM468.2 281.9h0.75v0.75h-0.75zM470.9 295.0h0.75v0.75h-0.75zM474.9 281.0h0.75v0.75h-0.75zM476.7 286.4h0.75v0.75h-0.75zM467.5 284.2h0.75v0.75h-0.75zM477.9 288.8h0.75v0.75h-0.75zM471.7 286.5h0.75v0.75h-0.75zM471.8 290.3h0.75v0.75h-0.75zM474.4 284.6h0.75v0.75h-0.75zM476.1 300.0h0.75v0.75h-0.75zM474.6 296.5h0.75v0.75h-0.75zM476.1 286.4h0.75v0.75h-0.75zM473.8 297.7h0.75v0.75h-0.75zM474.8 294.4h0.75v0.75h-0.75zM468.9 290.7h0.75v0.75h-0.75zM468.4 299.3h0.75v0.75h-0.75zM474.6 293.8h0.75v0.75h-0.75zM471.6 285.8h0.75v0.75h-0.75zM470.4 278.8h0.75v0.75h-0.75zM474.3 284.7h0.75v0.75h-0.75zM472.7 285.4h0.75v0.75h-0.75zM477.8 295.8h0.75v0.75h-0.75zM479.4 287.3h0.75v0.75h-0.75zM471.9 288.1h0.75v0.75h-0.75zM476.0 277.7h0.75v0.75h-0.75zM475.7 285.7h0.75v0.75h-0.75zM475.2 289.9h0.75v0.75h-0.75zM472.9 281.1h0.75v0.75h-0.75zM472.9 294.8h0.75v0.75h-0.75zM468.5 286.4h0.75v0.75h-0.75zM473.2 285.5h0.75v0.75h-0.75zM474.3 290.4h0.75v0.75h-0.75zM473.7 296.6h0.75v0.75h-0.75zM472.8 302.6h0.75v0.75h-0.75zM467.9 296.7h0.75v0.75h-0.75zM472.6 277.7h0.75v0.75h-0.75zM470.9 282.3h0.75v0.75h-0.75zM474.1 286.5h0.75v0.75h-0.75zM477.6 287.3h0.75v0.75h-0.75zM472.7 284.0h0.75v0.75h-0.75zM475.3 287.9h0.75v0.75h-0.75zM478.3 284.5h0.75v0.75h-0.75zM472.5 283.0h0.75v0.75h-0.75zM471.2 282.8h0.75v0.75h-0.75zM470.8 269.4h0.75v0.75h-0.75zM468.2 276.0h0.75v0.75h-0.75zM465.4 276.9h0.75v0.75h-0.75zM475.1 288.4h0.75v0.75h-0.75zM468.2 272.5h0.75v0.75h-0.75zM471.4 278.9h0.75v0.75h-0.75zM474.8 286.9h0.75v0.75h-0.75zM473.8 283.6h0.75v0.75h-0.75zM475.9 287.9h0.75v0.75h-0.75zM481.2 294.2h0.75v0.75h-0.75zM473.8 284.6h0.75v0.75h-0.75zM471.6 278.0h0.75v0.75h-0.75zM473.9 290.2h0.75v0.75h-0.75zM478.2 290.3h0.75v0.75h-0.75zM476.3 289.8h0.75v0.75h-0.75zM472.8 290.2h0.75v0.75h-0.75zM475.3 285.4h0.75v0.75h-0.75zM472.7 285.3h0.75v0.75h-0.75zM467.2 286.5h0.75v0.75h-0.75zM469.1 301.9h0.75v0.75h-0.75zM473.1 288.6h0.75v0.75h-0.75zM474.7 274.4h0.75v0.75h-0.75zM478.3 284.0h0.75v0.75h-0.75zM477.0 298.1h0.75v0.75h-0.75zM476.6 266.8h0.75v0.75h-0.75zM470.1 282.4h0.75v0.75h-0.75zM469.8 285.2h0.75v0.75h-0.75zM478.5 298.0h0.75v0.75h-0.75zM472.4 278.3h0.75v0.75h-0.75zM476.1 293.4h0.75v0.75h-0.75zM472.8 280.3h0.75v0.75h-0.75zM478.6 301.6h0.75v0.75h-0.75zM477.7 294.6h0.75v0.75h-0.75zM472.4 288.7h0.75v0.75h-0.75zM470.3 297.5h0.75v0.75h-0.75zM470.3 279.9h0.75v0.75h-0.75zM472.8 285.3h0.75v0.75h-0.75zM478.3 294.8h0.75v0.75h-0.75zM471.2 288.5h0.75v0.75h-0.75zM474.6 298.6h0.75v0.75h-0.75zM468.5 280.9h0.75v0.75h-0.75zM470.4 287.2h0.75v0.75h-0.75zM476.5 286.5h0.75v0.75h-0.75zM480.5 282.3h0.75v0.75h-0.75zM474.1 282.1h0.75v0.75h-0.75zM469.3 282.1h0.75v0.75h-0.75zM473.8 281.8h0.75v0.75h-0.75zM471.5 285.7h0.75v0.75h-0.75zM471.5 293.1h0.75v0.75h-0.75zM475.6 288.1h0.75v0.75h-0.75zM476.9 271.3h0.75v0.75h-0.75zM470.6 295.4h0.75v0.75h-0.75zM470.8 293.1h0.75v0.75h-0.75zM475.0 288.3h0.75v0.75h-0.75zM473.1 277.8h0.75v0.75h-0.75zM468.9 272.2h0.75v0.75h-0.75zM475.0 287.1h0.75v0.75h-0.75zM474.6 278.6h0.75v0.75h-0.75zM473.7 295.1h0.75v0.75h-0.75zM471.2 282.2h0.75v0.75h-0.75zM472.4 301.9h0.75v0.75h-0.75zM477.2 302.7h0.75v0.75h-0.75zM481.9 288.0h0.75v0.75h-0.75zM474.6 269.2h0.75v0.75h-0.75zM473.9 283.0h0.75v0.75h-0.75zM473.7 287.7h0.75v0.75h-0.75zM466.7 286.6h0.75v0.75h-0.75zM472.1 276.4h0.75v0.75h-0.75zM471.5 291.7h0.75v0.75h-0.75zM471.3 296.1h0.75v0.75h-0.75zM475.0 286.6h0.75v0.75h-0.75zM470.3 278.3h0.75v0.75h-0.75zM476.8 287.1h0.75v0.75h-0.75zM474.0 288.1h0.75v0.75h-0.75zM475.9 292.4h0.75v0.75h-0.75zM472.1 287.7h0.75v0.75h-0.75zM472.7 289.6h0.75v0.75h-0.75zM468.5 282.4h0.75v0.75h-0.75zM477.4 277.7h0.75v0.75h-0.75zM471.1 286.6h0.75v0.75h-0.75zM469.3 284.8h0.75v0.75h-0.75zM474.1 291.8h0.75v0.75h-0.75zM473.7 288.0h0.75v0.75h-0.75zM471.8 287.0h0.75v0.75h-0.75zM474.0 289.5h0.75v0.75h-0.75zM475.5 292.2h0.75v0.75h-0.75zM475.4 288.5h0.75v0.75h-0.75zM473.5 282.1h0.75v0.75h-0.75zM475.3 295.9h0.75v0.75h-0.75zM471.7 290.1h0.75v0.75h-0.75zM472.9 284.4h0.75v0.75h-0.75zM470.1 282.7h0.75v0.75h-0.75zM475.2 290.3h0.75v0.75h-0.75zM475.9 281.7h0.75v0.75h-0.75zM466.3 288.7h0.75v0.75h-0.75zM473.1 290.9h0.75v0.75h-0.75zM479.1 296.0h0.75v0.75h-0.75zM466.6 279.6h0.75v0.75h-0.75zM472.2 297.5h0.75v0.75h-0.75zM470.8 282.3h0.75v0.75h-0.75zM476.7 273.3h0.75v0.75h-0.75zM471.4 274.4h0.75v0.75h-0.75zM469.7 287.8h0.75v0.75h-0.75zM473.3 284.6h0.75v0.75h-0.75zM473.0 282.2h0.75v0.75h-0.75zM472.9 289.4h0.75v0.75h-0.75zM470.7 285.8h0.75v0.75h-0.75zM471.7 292.3h0.75v0.75h-0.75zM477.1 292.3h0.75v0.75h-0.75zM476.6 283.5h0.75v0.75h-0.75zM472.3 287.2h0.75v0.75h-0.75zM472.4 290.3h0.75v0.75h-0.75zM472.8 276.3h0.75v0.75h-0.75zM470.2 287.0h0.75v0.75h-0.75zM480.9 289.8h0.75v0.75h-0.75zM468.5 286.2h0.75v0.75h-0.75zM471.2 275.3h0.75v0.75h-0.75zM481.7 307.4h0.75v0.75h-0.75zM473.2 285.9h0.75v0.75h-0.75zM472.5 292.1h0.75v0.75h-0.75zM476.1 295.5h0.75v0.75h-0.75zM470.0 282.9h0.75v0.75h-0.75zM476.0 288.4h0.75v0.75h-0.75zM468.7 284.6h0.75v0.75h-0.75zM476.6 271.2h0.75v0.75h-0.75zM478.4 286.9h0.75v0.75h-0.75zM478.2 295.4h0.75v0.75h-0.75zM474.6 286.2h0.75v0.75h-0.75zM472.9 280.9h0.75v0.75h-0.75zM473.9 289.1h0.75v0.75h-0.75zM468.6 279.9h0.75v0.75h-0.75zM465.9 271.6h0.75v0.75h-0.75zM470.9 288.9h0.75v0.75h-0.75zM473.4 286.8h0.75v0.75h-0.75zM471.9 277.0h0.75v0.75h-0.75zM476.0 292.3h0.75v0.75h-0.75zM469.6 282.3h0.75v0.75h-0.75zM474.5 278.2h0.75v0.75h-0.75zM470.7 288.4h0.75v0.75h-0.75zM473.7 293.5h0.75v0.75h-0.75zM472.4 290.7h0.75v0.75h-0.75zM475.1 301.3h0.75v0.75h-0.75zM471.0 285.0h0.75v0.75h-0.75zM470.3 289.9h0.75v0.75h-0.75zM475.7 299.9h0.75v0.75h-0.75zM472.9 292.7h0.75v0.75h-0.75zM474.3 299.8h0.75v0.75h-0.75zM473.7 285.4h0.75v0.75h-0.75zM476.3 287.2h0.75v0.75h-0.75zM471.4 272.6h0.75v0.75h-0.75zM475.1 296.9h0.75v0.75h-0.75zM474.1 294.7h0.75v0.75h-0.75zM472.5 292.2h0.75v0.75h-0.75zM476.4 284.9h0.75v0.75h-0.75zM469.3 283.4h0.75v0.75h-0.75zM473.7 292.4h0.75v0.75h-0.75zM467.5 295.8h0.75v0.75h-0.75zM475.5 285.6h0.75v0.75h-0.75zM470.3 280.8h0.75v0.75h-0.75zM474.9 290.4h0.75v0.75h-0.75zM474.7 275.2h0.75v0.75h-0.75zM472.1 285.9h0.75v0.75h-0.75zM472.9 281.6h0.75v0.75h-0.75zM474.0 296.0h0.75v0.75h-0.75zM469.5 294.5h0.75v0.75h-0.75zM470.5 278.4h0.75v0.75h-0.75zM470.4 291.4h0.75v0.75h-0.75zM475.1 295.3h0.75v0.75h-0.75zM471.1 276.9h0.75v0.75h-0.75zM480.2 293.2h0.75v0.75h-0.75zM465.7 276.0h0.75v0.75h-0.75zM473.7 297.7h0.75v0.75h-0.75zM479.5 280.8h0.75v0.75h-0.75zM475.7 286.0h0.75v0.75h-0.75zM472.6 283.2h0.75v0.75h-0.75zM469.7 278.4h0.75v0.75h-0.75zM472.4 289.7h0.75v0.75h-0.75zM469.2 295.9h0.75v0.75h-0.75zM472.4 292.2h0.75v0.75h-0.75zM470.5 276.5h0.75v0.75h-0.75zM477.1 292.2h0.75v0.75h-0.75zM467.4 288.1h0.75v0.75h-0.75zM468.4 288.1h0.75v0.75h-0.75zM476.0 287.5h0.75v0.75h-0.75zM472.5 284.8h0.75v0.75h-0.75zM473.3 280.2h0.75v0.75h-0.75zM474.9 282.5h0.75v0.75h-0.75zM468.0 286.9h0.75v0.75h-0.75zM479.2 296.6h0.75v0.75h-0.75zM473.0 280.8h0.75v0.75h-0.75zM471.9 296.1h0.75v0.75h-0.75zM475.9 281.0h0.75v0.75h-0.75zM474.3 298.2h0.75v0.75h-0.75zM473.8 287.7h0.75v0.75h-0.75zM471.8 273.4h0.75v0.75h-0.75zM476.3 292.6h0.75v0.75h-0.75zM475.9 297.1h0.75v0.75h-0.75zM473.3 283.6h0.75v0.75h-0.75zM475.0 278.0h0.75v0.75h-0.75zM467.4 281.8h0.75v0.75h-0.75zM471.6 279.3h0.75v0.75h-0.75zM473.9 292.3h0.75v0.75h-0.75zM471.6 270.8h0.75v0.75h-0.75zM468.2 277.8h0.75v0.75h-0.75zM472.9 286.3h0.75v0.75h-0.75zM475.1 302.6h0.75v0.75h-0.75zM470.4 293.3h0.75v0.75h-0.75zM473.0 287.8h0.75v0.75h-0.75zM472.6 294.6h0.75v0.75h-0.75zM476.3 299.1h0.75v0.75h-0.75zM480.2 279.4h0.75v0.75h-0.75zM473.4 293.8h0.75v0.75h-0.75zM476.9 292.6h0.75v0.75h-0.75zM471.6 302.0h0.75v0.75h-0.75zM471.0 293.5h0.75v0.75h-0.75zM472.5 284.9h0.75v0.75h-0.75zM476.6 282.2h0.75v0.75h-0.75zM476.3 289.1h0.75v0.75h-0.75zM470.6 285.7h0.75v0.75h-0.75zM474.6 292.7h0.75v0.75h-0.75zM477.3 278.2h0.75v0.75h-0.75zM471.3 280.7h0.75v0.75h-0.75zM469.3 300.3h0.75v0.75h-0.75zM472.3 284.3h0.75v0.75h-0.75zM472.4 279.9h0.75v0.75h-0.75zM476.6 289.2h0.75v0.75h-0.75zM471.6 283.9h0.75v0.75h-0.75zM474.9 289.7h0.75v0.75h-0.75zM476.4 297.5h0.75v0.75h-0.75zM472.1 279.0h0.75v0.75h-0.75zM472.2 287.4h0.75v0.75h-0.75zM471.7 288.5h0.75v0.75h-0.75zM469.8 285.2h0.75v0.75h-0.75zM474.7 280.9h0.75v0.75h-0.75zM476.0 300.0h0.75v0.75h-0.75zM464.0 277.4h0.75v0.75h-0.75zM473.0 292.3h0.75v0.75h-0.75zM470.4 286.8h0.75v0.75h-0.75zM478.0 290.6h0.75v0.75h-0.75zM471.9 281.7h0.75v0.75h-0.75zM474.3 290.4h0.75v0.75h-0.75zM474.8 287.2h0.75v0.75h-0.75zM466.8 278.0h0.75v0.75h-0.75zM472.6 287.5h0.75v0.75h-0.75zM475.2 282.5h0.75v0.75h-0.75zM475.7 299.1h0.75v0.75h-0.75zM475.1 293.1h0.75v0.75h-0.75zM472.2 278.7h0.75v0.75h-0.75zM475.0 290.0h0.75v0.75h-0.75zM476.8 285.2h0.75v0.75h-0.75zM470.3 277.7h0.75v0.75h-0.75zM474.2 271.9h0.75v0.75h-0.75zM477.5 284.6h0.75v0.75h-0.75zM473.4 284.1h0.75v0.75h-0.75zM478.3 278.0h0.75v0.75h-0.75zM475.6 290.1h0.75v0.75h-0.75zM477.1 293.9h0.75v0.75h-0.75zM470.1 272.8h0.75v0.75h-0.75zM466.6 281.2h0.75v0.75h-0.75zM474.8 287.7h0.75v0.75h-0.75zM472.0 289.2h0.75v0.75h-0.75zM468.8 293.7h0.75v0.75h-0.75zM477.9 296.7h0.75v0.75h-0.75zM475.6 299.9h0.75v0.75h-0.75zM468.8 276.5h0.75v0.75h-0.75zM473.4 286.0h0.75v0.75h-0.75zM472.3 289.4h0.75v0.75h-0.75zM472.3 297.9h0.75v0.75h-0.75zM473.5 268.2h0.75v0.75h-0.75zM472.0 280.1h0.75v0.75h-0.75zM468.7 291.5h0.75v0.75h-0.75zM470.2 270.7h0.75v0.75h-0.75zM472.0 299.2h0.75v0.75h-0.75zM473.4 300.3h0.75v0.75h-0.75zM475.4 300.7h0.75v0.75h-0.75zM475.5 291.4h0.75v0.75h-0.75zM463.9 272.0h0.75v0.75h-0.75zM468.9 281.9h0.75v0.75h-0.75zM476.3 292.4h0.75v0.75h-0.75zM475.1 271.8h0.75v0.75h-0.75zM470.0 283.0h0.75v0.75h-0.75zM474.8 287.3h0.75v0.75h-0.75zM470.3 273.3h0.75v0.75h-0.75zM476.2 279.0h0.75v0.75h-0.75zM472.6 285.4h0.75v0.75h-0.75zM474.6 280.3h0.75v0.75h-0.75zM469.3 282.6h0.75v0.75h-0.75zM470.4 285.6h0.75v0.75h-0.75zM468.3 280.8h0.75v0.75h-0.75zM469.1 300.5h0.75v0.75h-0.75zM467.4 279.5h0.75v0.75h-0.75zM472.1 280.9h0.75v0.75h-0.75zM469.1 276.8h0.75v0.75h-0.75zM472.6 296.7h0.75v0.75h-0.75zM477.4 301.1h0.75v0.75h-0.75zM471.7 287.1h0.75v0.75h-0.75zM477.6 292.3h0.75v0.75h-0.75zM474.3 287.8h0.75v0.75h-0.75zM476.3 283.7h0.75v0.75h-0.75zM474.6 281.0h0.75v0.75h-0.75zM476.0 291.9h0.75v0.75h-0.75zM473.5 276.6h0.75v0.75h-0.75zM473.2 298.8h0.75v0.75h-0.75zM471.8 288.4h0.75v0.75h-0.75zM467.9 276.3h0.75v0.75h-0.75zM473.3 293.1h0.75v0.75h-0.75zM476.0 282.7h0.75v0.75h-0.75zM479.4 267.4h0.75v0.75h-0.75zM468.6 292.7h0.75v0.75h-0.75zM477.5 300.9h0.75v0.75h-0.75zM470.6 274.5h0.75v0.75h-0.75zM468.7 277.1h0.75v0.75h-0.75zM474.8 283.6h0.75v0.75h-0.75zM472.1 290.4h0.75v0.75h-0.75zM472.7 287.2h0.75v0.75h-0.75zM478.1 282.4h0.75v0.75h-0.75zM473.7 280.3h0.75v0.75h-0.75zM475.7 278.0h0.75v0.75h-0.75zM470.4 290.0h0.75v0.75h-0.75zM466.9 297.7h0.75v0.75h-0.75zM475.3 285.5h0.75v0.75h-0.75zM472.2 289.6h0.75v0.75h-0.75zM474.7 279.0h0.75v0.75h-0.75zM473.8 279.7h0.75v0.75h-0.75zM471.7 285.4h0.75v0.75h-0.75zM473.6 283.9h0.75v0.75h-0.75zM473.1 282.9h0.75v0.75h-0.75zM472.4 297.7h0.75v0.75h-0.75zM477.9 281.1h0.75v0.75h-0.75zM466.5 289.9h0.75v0.75h-0.75zM479.3 286.7h0.75v0.75h-0.75zM474.7 287.0h0.75v0.75h-0.75zM474.5 282.9h0.75v0.75h-0.75zM473.4 284.6h0.75v0.75h-0.75zM472.6 287.5h0.75v0.75h-0.75zM469.1 293.3h0.75v0.75h-0.75zM473.8 288.2h0.75v0.75h-0.75zM471.3 270.3h0.75v0.75h-0.75zM473.1 282.8h0.75v0.75h-0.75zM465.8 292.5h0.75v0.75h-0.75zM478.3 285.9h0.75v0.75h-0.75zM475.0 298.3h0.75v0.75h-0.75zM477.4 273.8h0.75v0.75h-0.75zM472.0 297.7h0.75v0.75h-0.75zM470.8 273.8h0.75v0.75h-0.75zM473.0 283.8h0.75v0.75h-0.75zM466.6 294.7h0.75v0.75h-0.75zM473.2 284.7h0.75v0.75h-0.75zM473.5 286.8h0.75v0.75h-0.75zM477.5 285.9h0.75v0.75h-0.75zM471.3 288.7h0.75v0.75h-0.75zM474.2 291.4h0.75v0.75h-0.75zM470.5 288.5h0.75v0.75h-0.75zM475.1 278.9h0.75v0.75h-0.75zM475.0 286.3h0.75v0.75h-0.75zM477.8 300.3h0.75v0.75h-0.75zM474.3 277.8h0.75v0.75h-0.75zM473.2 279.2h0.75v0.75h-0.75zM470.7 294.5h0.75v0.75h-0.75zM475.1 284.2h0.75v0.75h-0.75zM469.9 286.2h0.75v0.75h-0.75zM477.5 291.9h0.75v0.75h-0.75zM474.0 288.1h0.75v0.75h-0.75zM477.6 294.1h0.75v0.75h-0.75zM473.9 270.6h0.75v0.75h-0.75zM475.6 288.4h0.75v0.75h-0.75zM473.3 294.7h0.75v0.75h-0.75zM470.9 287.6h0.75v0.75h-0.75zM473.8 275.5h0.75v0.75h-0.75zM472.8 287.0h0.75v0.75h-0.75zM476.8 291.6h0.75v0.75h-0.75zM473.4 291.9h0.75v0.75h-0.75zM466.8 280.7h0.75v0.75h-0.75zM471.0 289.2h0.75v0.75h-0.75zM478.9 293.7h0.75v0.75h-0.75zM476.5 293.6h0.75v0.75h-0.75zM478.5 279.8h0.75v0.75h-0.75zM474.9 280.5h0.75v0.75h-0.75zM471.9 291.1h0.75v0.75h-0.75zM476.1 286.5h0.75v0.75h-0.75zM476.9 287.5h0.75v0.75h-0.75zM473.1 286.5h0.75v0.75h-0.75zM473.7 295.1h0.75v0.75h-0.75zM476.8 284.7h0.75v0.75h-0.75zM472.9 282.6h0.75v0.75h-0.75zM475.2 289.6h0.75v0.75h-0.75zM475.0 278.8h0.75v0.75h-0.75zM474.4 282.3h0.75v0.75h-0.75zM470.2 285.6h0.75v0.75h-0.75zM472.4 289.7h0.75v0.75h-0.75zM474.9 286.8h0.75v0.75h-0.75zM475.1 289.3h0.75v0.75h-0.75zM473.3 280.4h0.75v0.75h-0.75zM476.5 294.4h0.75v0.75h-0.75zM476.7 280.4h0.75v0.75h-0.75zM470.5 286.9h0.75v0.75h-0.75zM476.2 287.7h0.75v0.75h-0.75zM476.9 280.3h0.75v0.75h-0.75zM475.3 273.0h0.75v0.75h-0.75zM471.0 277.8h0.75v0.75h-0.75zM475.4 282.8h0.75v0.75h-0.75zM473.5 293.0h0.75v0.75h-0.75zM471.6 292.6h0.75v0.75h-0.75zM470.6 295.1h0.75v0.75h-0.75zM470.5 276.7h0.75v0.75h-0.75zM474.8 297.2h0.75v0.75h-0.75zM468.0 291.8h0.75v0.75h-0.75zM477.1 290.5h0.75v0.75h-0.75zM469.2 277.4h0.75v0.75h-0.75zM475.0 270.7h0.75v0.75h-0.75zM476.9 300.7h0.75v0.75h-0.75zM469.4 276.4h0.75v0.75h-0.75zM475.7 282.1h0.75v0.75h-0.75zM475.6 283.9h0.75v0.75h-0.75zM471.9 284.9h0.75v0.75h-0.75zM475.6 291.8h0.75v0.75h-0.75zM473.3 296.8h0.75v0.75h-0.75zM478.3 294.2h0.75v0.75h-0.75zM469.2 280.1h0.75v0.75h-0.75zM472.9 290.1h0.75v0.75h-0.75zM477.6 283.5h0.75v0.75h-0.75zM477.4 279.0h0.75v0.75h-0.75zM474.5 283.6h0.75v0.75h-0.75zM472.7 295.4h0.75v0.75h-0.75zM472.3 286.8h0.75v0.75h-0.75zM478.9 290.4h0.75v0.75h-0.75zM469.2 276.9h0.75v0.75h-0.75zM472.0 287.7h0.75v0.75h-0.75zM474.4 274.1h0.75v0.75h-0.75zM470.0 275.6h0.75v0.75h-0.75zM473.4 289.3h0.75v0.75h-0.75zM472.8 290.0h0.75v0.75h-0.75zM472.9 286.9h0.75v0.75h-0.75zM478.0 294.0h0.75v0.75h-0.75zM471.8 283.4h0.75v0.75h-0.75zM477.1 287.6h0.75v0.75h-0.75zM471.4 289.1h0.75v0.75h-0.75zM469.6 286.8h0.75v0.75h-0.75zM472.0 288.6h0.75v0.75h-0.75zM480.4 291.0h0.75v0.75h-0.75zM470.2 272.7h0.75v0.75h-0.75zM473.9 284.7h0.75v0.75h-0.75zM469.3 280.9h0.75v0.75h-0.75zM473.5 278.1h0.75v0.75h-0.75zM473.0 289.8h0.75v0.75h-0.75zM471.3 295.6h0.75v0.75h-0.75zM470.7 277.1h0.75v0.75h-0.75zM476.9 284.5h0.75v0.75h-0.75zM471.2 278.7h0.75v0.75h-0.75zM474.8 282.1h0.75v0.75h-0.75zM472.0 272.4h0.75v0.75h-0.75zM469.1 281.8h0.75v0.75h-0.75zM469.0 281.1h0.75v0.75h-0.75zM476.8 288.3h0.75v0.75h-0.75zM476.8 280.2h0.75v0.75h-0.75zM475.3 283.7h0.75v0.75h-0.75zM475.8 278.8h0.75v0.75h-0.75zM473.8 293.6h0.75v0.75h-0.75zM474.0 288.6h0.75v0.75h-0.75zM472.5 268.2h0.75v0.75h-0.75zM470.8 279.7h0.75v0.75h-0.75zM476.3 288.3h0.75v0.75h-0.75zM470.3 292.1h0.75v0.75h-0.75zM474.7 274.7h0.75v0.75h-0.75zM477.5 290.8h0.75v0.75h-0.75zM482.2 297.5h0.75v0.75h-0.75zM468.6 293.2h0.75v0.75h-0.75zM474.2 283.7h0.75v0.75h-0.75zM474.5 291.6h0.75v0.75h-0.75zM472.3 279.0h0.75v0.75h-0.75zM475.4 289.8h0.75v0.75h-0.75zM469.7 294.8h0.75v0.75h-0.75zM472.6 300.2h0.75v0.75h-0.75zM478.1 286.9h0.75v0.75h-0.75zM476.0 279.6h0.75v0.75h-0.75zM474.0 272.4h0.75v0.75h-0.75zM469.9 284.6h0.75v0.75h-0.75zM475.4 293.5h0.75v0.75h-0.75zM477.1 295.3h0.75v0.75h-0.75zM472.0 285.1h0.75v0.75h-0.75zM471.4 285.8h0.75v0.75h-0.75zM467.8 278.1h0.75v0.75h-0.75zM477.9 289.2h0.75v0.75h-0.75zM471.3 290.7h0.75v0.75h-0.75zM474.3 286.2h0.75v0.75h-0.75zM472.2 278.2h0.75v0.75h-0.75zM473.3 287.1h0.75v0.75h-0.75zM473.5 297.6h0.75v0.75h-0.75zM473.5 288.7h0.75v0.75h-0.75zM477.5 294.2h0.75v0.75h-0.75zM467.0 283.4h0.75v0.75h-0.75zM470.2 279.3h0.75v0.75h-0.75zM476.5 299.6h0.75v0.75h-0.75zM474.8 269.2h0.75v0.75h-0.75zM471.9 283.4h0.75v0.75h-0.75zM471.9 297.9h0.75v0.75h-0.75zM474.9 292.0h0.75v0.75h-0.75zM473.6 293.2h0.75v0.75h-0.75zM472.9 276.2h0.75v0.75h-0.75zM473.4 281.0h0.75v0.75h-0.75zM468.6 269.7h0.75v0.75h-0.75zM471.5 283.6h0.75v0.75h-0.75zM479.2 283.6h0.75v0.75h-0.75zM471.1 284.8h0.75v0.75h-0.75zM475.9 277.6h0.75v0.75h-0.75zM472.6 295.5h0.75v0.75h-0.75zM478.6 282.3h0.75v0.75h-0.75zM468.0 283.1h0.75v0.75h-0.75zM472.7 294.0h0.75v0.75h-0.75zM476.2 287.6h0.75v0.75h-0.75zM470.7 287.7h0.75v0.75h-0.75zM470.7 278.0h0.75v0.75h-0.75zM473.2 301.1h0.75v0.75h-0.75zM479.0 299.3h0.75v0.75h-0.75zM468.3 289.0h0.75v0.75h-0.75zM471.0 289.0h0.75v0.75h-0.75zM476.2 292.5h0.75v0.75h-0.75zM471.3 277.8h0.75v0.75h-0.75zM475.6 296.6h0.75v0.75h-0.75zM471.0 278.8h0.75v0.75h-0.75zM473.0 281.9h0.75v0.75h-0.75zM476.5 295.3h0.75v0.75h-0.75zM476.0 282.6h0.75v0.75h-0.75zM470.6 282.8h0.75v0.75h-0.75zM473.8 292.9h0.75v0.75h-0.75zM474.8 284.3h0.75v0.75h-0.75zM475.3 293.1h0.75v0.75h-0.75zM473.1 279.0h0.75v0.75h-0.75zM475.0 294.4h0.75v0.75h-0.75zM475.7 279.6h0.75v0.75h-0.75zM474.9 287.8h0.75v0.75h-0.75zM472.8 285.2h0.75v0.75h-0.75zM471.8 281.0h0.75v0.75h-0.75zM474.5 286.9h0.75v0.75h-0.75zM473.9 278.1h0.75v0.75h-0.75zM474.3 298.8h0.75v0.75h-0.75zM470.2 286.1h0.75v0.75h-0.75zM473.5 288.7h0.75v0.75h-0.75zM475.9 283.0h0.75v0.75h-0.75zM476.3 292.7h0.75v0.75h-0.75zM472.7 291.2h0.75v0.75h-0.75zM477.4 298.9h0.75v0.75h-0.75zM473.0 293.0h0.75v0.75h-0.75zM473.7 281.2h0.75v0.75h-0.75zM481.2 297.8h0.75v0.75h-0.75zM476.2 286.2h0.75v0.75h-0.75zM474.5 284.3h0.75v0.75h-0.75zM479.8 285.5h0.75v0.75h-0.75zM474.0 294.1h0.75v0.75h-0.75zM473.5 294.2h0.75v0.75h-0.75zM474.7 287.2h0.75v0.75h-0.75zM473.8 272.5h0.75v0.75h-0.75zM476.8 292.9h0.75v0.75h-0.75zM475.0 289.1h0.75v0.75h-0.75zM470.6 286.6h0.75v0.75h-0.75zM470.9 281.8h0.75v0.75h-0.75zM470.0 282.8h0.75v0.75h-0.75z" fill="#000" fill-opacity="1.0" filter="url(#soft)"/>
<path d="M478.6 293.4h0.75v0.75h-0.75zM464.8 278.7h0.75v0.75h-0.75zM478.9 285.7h0.75v0.75h-0.75zM477.3 306.7h0.75v0.75h-0.75zM478.4 276.6h0.75v0.75h-0.75zM455.3 306.0h0.75v0.75h-0.75zM461.6 272.5h0.75v0.75h-0.75zM467.3 284.4h0.75v0.75h-0.75zM475.4 280.8h0.75v0.75h-0.75zM464.9 297.5h0.75v0.75h-0.75zM464.4 318.4h0.75v0.75h-0.75zM461.3 289.1h0.75v0.75h-0.75zM479.4 288.6h0.75v0.75h-0.75zM459.8 288.0h0.75v0.75h-0.75zM478.8 280.3h0.75v0.75h-0.75zM459.8 287.9h0.75v0.75h-0.75zM456.2 293.7h0.75v0.75h-0.75zM476.4 290.0h0.75v0.75h-0.75zM463.1 300.5h0.75v0.75h-0.75zM480.9 301.5h0.75v0.75h-0.75zM468.5 294.2h0.75v0.75h-0.75zM466.4 302.1h0.75v0.75h-0.75zM468.2 275.0h0.75v0.75h-0.75zM469.8 294.6h0.75v0.75h-0.75zM470.6 286.6h0.75v0.75h-0.75zM464.4 289.3h0.75v0.75h-0.75zM470.6 289.2h0.75v0.75h-0.75zM470.1 287.5h0.75v0.75h-0.75zM465.4 308.4h0.75v0.75h-0.75zM459.7 290.8h0.75v0.75h-0.75zM479.4 269.0h0.75v0.75h-0.75zM459.2 296.3h0.75v0.75h-0.75zM489.3 300.2h0.75v0.75h-0.75zM468.3 282.1h0.75v0.75h-0.75zM467.0 273.8h0.75v0.75h-0.75zM466.6 298.0h0.75v0.75h-0.75zM468.8 292.2h0.75v0.75h-0.75zM476.8 280.7h0.75v0.75h-0.75zM468.4 290.1h0.75v0.75h-0.75zM465.3 289.1h0.75v0.75h-0.75zM475.5 288.4h0.75v0.75h-0.75zM459.3 291.1h0.75v0.75h-0.75zM469.6 287.7h0.75v0.75h-0.75zM462.8 288.7h0.75v0.75h-0.75zM470.2 281.6h0.75v0.75h-0.75zM465.6 286.1h0.75v0.75h-0.75zM457.6 290.6h0.75v0.75h-0.75zM467.4 299.3h0.75v0.75h-0.75zM458.0 282.5h0.75v0.75h-0.75zM473.0 290.7h0.75v0.75h-0.75zM467.9 298.5h0.75v0.75h-0.75zM467.6 293.5h0.75v0.75h-0.75zM470.5 285.0h0.75v0.75h-0.75zM465.5 280.3h0.75v0.75h-0.75zM467.0 291.4h0.75v0.75h-0.75zM466.7 276.3h0.75v0.75h-0.75zM475.0 289.3h0.75v0.75h-0.75zM474.7 288.7h0.75v0.75h-0.75zM482.5 295.8h0.75v0.75h-0.75zM473.0 293.2h0.75v0.75h-0.75zM477.7 289.5h0.75v0.75h-0.75zM475.9 285.6h0.75v0.75h-0.75zM481.8 286.0h0.75v0.75h-0.75zM448.3 295.0h0.75v0.75h-0.75zM468.6 286.0h0.75v0.75h-0.75zM458.4 286.1h0.75v0.75h-0.75zM461.6 294.6h0.75v0.75h-0.75zM474.5 283.1h0.75v0.75h-0.75zM476.7 266.6h0.75v0.75h-0.75zM470.3 297.6h0.75v0.75h-0.75zM480.5 294.1h0.75v0.75h-0.75zM481.4 292.5h0.75v0.75h-0.75zM470.1 291.5h0.75v0.75h-0.75zM488.0 312.0h0.75v0.75h-0.75zM473.8 293.6h0.75v0.75h-0.75zM474.7 272.0h0.75v0.75h-0.75zM467.5 289.8h0.75v0.75h-0.75zM465.7 285.8h0.75v0.75h-0.75zM462.6 286.9h0.75v0.75h-0.75zM477.8 288.5h0.75v0.75h-0.75zM476.6 286.1h0.75v0.75h-0.75zM465.4 289.3h0.75v0.75h-0.75zM458.6 279.6h0.75v0.75h-0.75zM468.6 281.6h0.75v0.75h-0.75zM473.4 279.3h0.75v0.75h-0.75zM477.2 296.7h0.75v0.75h-0.75zM471.7 280.5h0.75v0.75h-0.75zM462.9 294.5h0.75v0.75h-0.75zM469.0 317.2h0.75v0.75h-0.75zM476.8 303.1h0.75v0.75h-0.75zM464.5 287.0h0.75v0.75h-0.75zM472.4 283.1h0.75v0.75h-0.75zM468.7 291.8h0.75v0.75h-0.75zM477.8 293.9h0.75v0.75h-0.75zM482.7 280.4h0.75v0.75h-0.75zM476.5 279.4h0.75v0.75h-0.75zM469.1 299.6h0.75v0.75h-0.75zM474.4 290.4h0.75v0.75h-0.75zM472.4 295.0h0.75v0.75h-0.75zM479.7 294.5h0.75v0.75h-0.75zM467.9 296.9h0.75v0.75h-0.75zM470.7 290.8h0.75v0.75h-0.75zM472.0 298.3h0.75v0.75h-0.75zM472.5 283.9h0.75v0.75h-0.75zM461.2 273.7h0.75v0.75h-0.75zM473.4 280.9h0.75v0.75h-0.75zM477.0 288.4h0.75v0.75h-0.75zM472.9 287.5h0.75v0.75h-0.75zM488.6 298.4h0.75v0.75h-0.75zM474.6 295.3h0.75v0.75h-0.75zM454.5 278.4h0.75v0.75h-0.75zM479.3 301.8h0.75v0.75h-0.75zM461.9 293.5h0.75v0.75h-0.75zM469.5 299.6h0.75v0.75h-0.75zM469.2 290.6h0.75v0.75h-0.75zM474.4 286.4h0.75v0.75h-0.75zM467.7 280.9h0.75v0.75h-0.75zM469.4 288.0h0.75v0.75h-0.75zM477.6 288.3h0.75v0.75h-0.75zM467.0 275.9h0.75v0.75h-0.75zM465.4 291.9h0.75v0.75h-0.75zM471.5 302.2h0.75v0.75h-0.75zM469.9 283.1h0.75v0.75h-0.75zM480.5 298.4h0.75v0.75h-0.75zM479.1 274.3h0.75v0.75h-0.75zM470.4 290.3h0.75v0.75h-0.75zM471.1 287.5h0.75v0.75h-0.75zM478.4 285.3h0.75v0.75h-0.75zM471.3 285.8h0.75v0.75h-0.75zM463.2 294.7h0.75v0.75h-0.75zM484.0 277.3h0.75v0.75h-0.75zM481.4 306.3h0.75v0.75h-0.75zM461.3 273.7h0.75v0.75h-0.75zM465.3 277.4h0.75v0.75h-0.75zM465.9 276.4h0.75v0.75h-0.75zM468.4 292.6h0.75v0.75h-0.75zM476.4 285.5h0.75v0.75h-0.75zM463.9 293.6h0.75v0.75h-0.75zM475.1 279.1h0.75v0.75h-0.75zM473.6 275.6h0.75v0.75h-0.75zM465.9 288.7h0.75v0.75h-0.75zM469.0 299.6h0.75v0.75h-0.75zM469.6 290.2h0.75v0.75h-0.75zM478.6 270.7h0.75v0.75h-0.75zM475.2 300.2h0.75v0.75h-0.75zM469.3 299.6h0.75v0.75h-0.75zM463.0 277.9h0.75v0.75h-0.75zM461.3 305.0h0.75v0.75h-0.75zM464.7 293.2h0.75v0.75h-0.75zM458.9 297.7h0.75v0.75h-0.75zM461.1 279.4h0.75v0.75h-0.75zM452.6 273.1h0.75v0.75h-0.75zM477.2 272.0h0.75v0.75h-0.75zM481.7 311.6h0.75v0.75h-0.75zM469.3 272.1h0.75v0.75h-0.75zM467.9 290.1h0.75v0.75h-0.75zM456.2 280.1h0.75v0.75h-0.75zM471.7 292.1h0.75v0.75h-0.75zM457.2 286.8h0.75v0.75h-0.75zM471.4 299.8h0.75v0.75h-0.75zM472.8 299.3h0.75v0.75h-0.75zM474.7 278.1h0.75v0.75h-0.75zM490.3 295.1h0.75v0.75h-0.75zM472.5 283.3h0.75v0.75h-0.75zM481.9 288.6h0.75v0.75h-0.75zM474.9 290.1h0.75v0.75h-0.75zM469.8 269.9h0.75v0.75h-0.75zM466.7 307.2h0.75v0.75h-0.75zM472.5 280.0h0.75v0.75h-0.75zM464.3 278.1h0.75v0.75h-0.75zM467.7 285.7h0.75v0.75h-0.75zM481.1 291.6h0.75v0.75h-0.75zM482.9 268.8h0.75v0.75h-0.75zM455.2 289.9h0.75v0.75h-0.75zM457.8 288.1h0.75v0.75h-0.75zM464.3 300.4h0.75v0.75h-0.75zM479.2 269.6h0.75v0.75h-0.75zM476.1 287.2h0.75v0.75h-0.75zM474.3 281.5h0.75v0.75h-0.75zM479.4 298.5h0.75v0.75h-0.75zM470.2 269.4h0.75v0.75h-0.75zM453.4 298.5h0.75v0.75h-0.75zM471.9 271.1h0.75v0.75h-0.75zM463.7 316.7h0.75v0.75h-0.75zM462.6 291.2h0.75v0.75h-0.75zM480.0 313.7h0.75v0.75h-0.75zM473.0 293.0h0.75v0.75h-0.75zM462.1 292.7h0.75v0.75h-0.75zM470.4 275.1h0.75v0.75h-0.75zM462.3 301.7h0.75v0.75h-0.75zM478.3 317.7h0.75v0.75h-0.75zM485.4 294.6h0.75v0.75h-0.75zM483.1 279.7h0.75v0.75h-0.75zM467.8 304.9h0.75v0.75h-0.75zM465.0 286.9h0.75v0.75h-0.75zM470.7 298.0h0.75v0.75h-0.75zM478.4 279.0h0.75v0.75h-0.75zM477.7 285.3h0.75v0.75h-0.75zM470.2 289.7h0.75v0.75h-0.75zM477.8 286.9h0.75v0.75h-0.75zM474.5 279.4h0.75v0.75h-0.75zM460.7 275.4h0.75v0.75h-0.75zM473.0 289.2h0.75v0.75h-0.75zM472.3 273.0h0.75v0.75h-0.75zM465.6 288.6h0.75v0.75h-0.75zM476.2 294.0h0.75v0.75h-0.75zM468.8 280.2h0.75v0.75h-0.75zM460.2 282.2h0.75v0.75h-0.75zM479.4 285.6h0.75v0.75h-0.75zM467.0 291.2h0.75v0.75h-0.75zM490.8 282.8h0.75v0.75h-0.75zM464.0 268.7h0.75v0.75h-0.75zM456.4 292.5h0.75v0.75h-0.75zM473.4 281.0h0.75v0.75h-0.75zM473.8 294.6h0.75v0.75h-0.75zM465.4 290.9h0.75v0.75h-0.75zM477.1 271.1h0.75v0.75h-0.75zM469.9 288.8h0.75v0.75h-0.75zM457.9 315.4h0.75v0.75h-0.75zM478.7 309.6h0.75v0.75h-0.75zM460.5 287.3h0.75v0.75h-0.75zM479.5 282.4h0.75v0.75h-0.75zM486.1 275.6h0.75v0.75h-0.75zM470.8 283.8h0.75v0.75h-0.75zM459.0 285.3h0.75v0.75h-0.75zM471.0 275.8h0.75v0.75h-0.75zM467.5 298.9h0.75v0.75h-0.75zM477.2 293.3h0.75v0.75h-0.75zM476.2 302.9h0.75v0.75h-0.75zM469.8 280.0h0.75v0.75h-0.75zM471.8 289.9h0.75v0.75h-0.75zM466.4 290.8h0.75v0.75h-0.75zM473.3 300.2h0.75v0.75h-0.75zM464.3 302.3h0.75v0.75h-0.75zM469.7 272.3h0.75v0.75h-0.75zM479.0 294.1h0.75v0.75h-0.75zM472.0 275.2h0.75v0.75h-0.75zM477.2 276.4h0.75v0.75h-0.75zM463.4 287.3h0.75v0.75h-0.75zM477.9 288.5h0.75v0.75h-0.75zM471.9 277.7h0.75v0.75h-0.75zM477.7 284.0h0.75v0.75h-0.75zM475.4 320.1h0.75v0.75h-0.75zM472.6 276.4h0.75v0.75h-0.75zM460.7 277.0h0.75v0.75h-0.75zM463.8 291.1h0.75v0.75h-0.75zM480.6 288.2h0.75v0.75h-0.75zM468.9 295.1h0.75v0.75h-0.75zM464.9 285.3h0.75v0.75h-0.75zM477.6 301.8h0.75v0.75h-0.75zM468.3 283.8h0.75v0.75h-0.75zM467.5 291.4h0.75v0.75h-0.75zM482.1 288.8h0.75v0.75h-0.75zM462.6 300.3h0.75v0.75h-0.75z" fill="#000" fill-opacity="0.45" filter="url(#soft)"/>
<path d="M427.5 279.0h0.75v0.75h-0.75zM409.9 294.3h0.75v0.75h-0.75zM415.5 286.0h0.75v0.75h-0.75zM442.2 273.4h0.75v0.75h-0.75zM410.8 280.2h0.75v0.75h-0.75zM425.4 293.4h0.75v0.75h-0.75zM408.7 279.7h0.75v0.75h-0.75zM419.0 282.6h0.75v0.75h-0.75zM404.8 285.9h0.75v0.75h-0.75zM445.4 292.3h0.75v0.75h-0.75zM406.5 284.5h0.75v0.75h-0.75zM411.5 287.9h0.75v0.75h-0.75zM437.7 281.4h0.75v0.75h-0.75zM404.9 280.0h0.75v0.75h-0.75zM430.0 286.1h0.75v0.75h-0.75zM431.7 279.3h0.75v0.75h-0.75zM404.0 272.1h0.75v0.75h-0.75zM438.6 284.3h0.75v0.75h-0.75zM430.4 278.7h0.75v0.75h-0.75zM412.6 292.0h0.75v0.75h-0.75zM444.0 284.4h0.75v0.75h-0.75zM422.9 286.4h0.75v0.75h-0.75zM408.5 272.9h0.75v0.75h-0.75zM424.2 285.9h0.75v0.75h-0.75zM406.6 291.6h0.75v0.75h-0.75zM426.5 280.6h0.75v0.75h-0.75zM427.1 278.5h0.75v0.75h-0.75zM433.9 276.2h0.75v0.75h-0.75zM425.7 283.1h0.75v0.75h-0.75zM434.9 278.1h0.75v0.75h-0.75zM419.7 268.9h0.75v0.75h-0.75zM402.3 279.0h0.75v0.75h-0.75zM415.8 294.3h0.75v0.75h-0.75zM422.4 288.8h0.75v0.75h-0.75zM403.3 279.7h0.75v0.75h-0.75zM417.1 272.4h0.75v0.75h-0.75zM434.3 293.6h0.75v0.75h-0.75zM439.2 290.1h0.75v0.75h-0.75zM424.8 290.9h0.75v0.75h-0.75zM422.4 294.5h0.75v0.75h-0.75zM437.8 279.5h0.75v0.75h-0.75zM407.7 268.5h0.75v0.75h-0.75zM423.0 297.9h0.75v0.75h-0.75zM435.6 283.1h0.75v0.75h-0.75zM419.8 281.6h0.75v0.75h-0.75zM431.3 287.0h0.75v0.75h-0.75zM421.0 274.2h0.75v0.75h-0.75zM443.8 289.7h0.75v0.75h-0.75zM428.2 289.6h0.75v0.75h-0.75zM408.7 286.3h0.75v0.75h-0.75zM438.0 290.0h0.75v0.75h-0.75zM409.2 284.6h0.75v0.75h-0.75zM422.2 273.6h0.75v0.75h-0.75zM432.9 296.5h0.75v0.75h-0.75zM418.5 285.8h0.75v0.75h-0.75zM440.1 283.8h0.75v0.75h-0.75zM411.7 297.6h0.75v0.75h-0.75zM425.3 285.6h0.75v0.75h-0.75zM442.1 269.8h0.75v0.75h-0.75zM441.2 292.9h0.75v0.75h-0.75zM406.9 268.5h0.75v0.75h-0.75zM431.5 270.4h0.75v0.75h-0.75zM426.7 275.7h0.75v0.75h-0.75zM429.5 274.3h0.75v0.75h-0.75zM429.4 289.3h0.75v0.75h-0.75zM436.7 295.9h0.75v0.75h-0.75zM424.5 287.3h0.75v0.75h-0.75zM405.9 287.6h0.75v0.75h-0.75zM414.0 283.7h0.75v0.75h-0.75zM443.7 275.7h0.75v0.75h-0.75zM405.1 284.2h0.75v0.75h-0.75zM404.1 271.1h0.75v0.75h-0.75zM418.6 280.6h0.75v0.75h-0.75zM428.8 280.9h0.75v0.75h-0.75zM434.4 290.9h0.75v0.75h-0.75zM436.3 287.8h0.75v0.75h-0.75zM434.6 269.3h0.75v0.75h-0.75zM444.6 276.5h0.75v0.75h-0.75zM439.7 284.9h0.75v0.75h-0.75zM418.8 282.7h0.75v0.75h-0.75zM408.6 271.5h0.75v0.75h-0.75zM416.7 269.0h0.75v0.75h-0.75zM405.1 288.0h0.75v0.75h-0.75zM430.3 281.5h0.75v0.75h-0.75zM433.8 277.7h0.75v0.75h-0.75zM432.7 285.1h0.75v0.75h-0.75zM428.9 282.1h0.75v0.75h-0.75zM418.0 290.8h0.75v0.75h-0.75zM436.3 285.0h0.75v0.75h-0.75zM437.8 273.8h0.75v0.75h-0.75zM420.4 285.9h0.75v0.75h-0.75zM403.7 275.5h0.75v0.75h-0.75zM421.9 290.1h0.75v0.75h-0.75zM427.3 271.6h0.75v0.75h-0.75zM444.5 293.4h0.75v0.75h-0.75zM402.4 292.4h0.75v0.75h-0.75zM433.5 292.7h0.75v0.75h-0.75zM407.7 268.5h0.75v0.75h-0.75zM420.0 293.3h0.75v0.75h-0.75zM412.0 293.3h0.75v0.75h-0.75zM406.6 275.9h0.75v0.75h-0.75zM441.1 290.1h0.75v0.75h-0.75zM433.6 295.7h0.75v0.75h-0.75zM434.3 285.0h0.75v0.75h-0.75zM405.9 297.7h0.75v0.75h-0.75zM428.4 270.2h0.75v0.75h-0.75zM422.1 282.5h0.75v0.75h-0.75zM419.0 289.1h0.75v0.75h-0.75zM427.9 287.3h0.75v0.75h-0.75zM406.3 275.4h0.75v0.75h-0.75zM425.8 275.0h0.75v0.75h-0.75zM436.1 287.7h0.75v0.75h-0.75zM423.9 283.8h0.75v0.75h-0.75zM421.2 272.3h0.75v0.75h-0.75zM445.0 277.9h0.75v0.75h-0.75zM426.9 279.3h0.75v0.75h-0.75zM435.8 269.3h0.75v0.75h-0.75zM407.0 285.1h0.75v0.75h-0.75zM422.0 268.8h0.75v0.75h-0.75zM419.9 287.2h0.75v0.75h-0.75zM410.3 268.7h0.75v0.75h-0.75zM417.6 277.7h0.75v0.75h-0.75zM431.6 272.6h0.75v0.75h-0.75zM435.0 280.8h0.75v0.75h-0.75zM414.7 281.4h0.75v0.75h-0.75zM407.5 277.0h0.75v0.75h-0.75zM419.0 282.5h0.75v0.75h-0.75zM441.2 277.3h0.75v0.75h-0.75zM425.1 294.5h0.75v0.75h-0.75zM441.5 280.9h0.75v0.75h-0.75zM409.3 270.4h0.75v0.75h-0.75zM438.6 281.0h0.75v0.75h-0.75zM409.0 281.5h0.75v0.75h-0.75zM436.2 280.5h0.75v0.75h-0.75zM404.8 281.5h0.75v0.75h-0.75zM431.9 284.4h0.75v0.75h-0.75zM424.8 282.5h0.75v0.75h-0.75zM405.8 296.7h0.75v0.75h-0.75zM430.6 271.3h0.75v0.75h-0.75zM408.7 296.1h0.75v0.75h-0.75zM436.8 269.0h0.75v0.75h-0.75zM423.9 280.2h0.75v0.75h-0.75zM432.9 287.1h0.75v0.75h-0.75zM441.5 270.4h0.75v0.75h-0.75zM418.9 278.4h0.75v0.75h-0.75zM413.3 269.1h0.75v0.75h-0.75zM440.6 271.3h0.75v0.75h-0.75zM419.2 270.8h0.75v0.75h-0.75zM402.1 293.4h0.75v0.75h-0.75zM435.0 297.9h0.75v0.75h-0.75zM406.9 274.9h0.75v0.75h-0.75zM424.2 286.6h0.75v0.75h-0.75zM421.5 290.7h0.75v0.75h-0.75zM415.8 288.2h0.75v0.75h-0.75zM434.9 281.9h0.75v0.75h-0.75zM406.9 282.3h0.75v0.75h-0.75zM426.5 286.1h0.75v0.75h-0.75zM440.1 292.9h0.75v0.75h-0.75zM434.3 277.2h0.75v0.75h-0.75zM432.7 295.3h0.75v0.75h-0.75zM409.3 286.2h0.75v0.75h-0.75zM403.7 297.7h0.75v0.75h-0.75zM433.4 295.9h0.75v0.75h-0.75zM441.8 295.8h0.75v0.75h-0.75zM406.3 287.3h0.75v0.75h-0.75zM414.8 273.6h0.75v0.75h-0.75zM445.9 294.4h0.75v0.75h-0.75zM409.7 279.9h0.75v0.75h-0.75zM414.0 296.1h0.75v0.75h-0.75zM415.7 292.4h0.75v0.75h-0.75z" fill="#000" fill-opacity="0.38" filter="url(#soft)"/>
<path d="M425.7 281.4h0.75v0.75h-0.75zM416.0 291.8h0.75v0.75h-0.75zM440.3 283.2h0.75v0.75h-0.75zM439.5 295.9h0.75v0.75h-0.75zM420.8 282.2h0.75v0.75h-0.75zM421.2 291.3h0.75v0.75h-0.75zM436.3 281.0h0.75v0.75h-0.75zM413.3 285.0h0.75v0.75h-0.75zM435.9 287.3h0.75v0.75h-0.75zM425.7 273.0h0.75v0.75h-0.75zM430.6 282.3h0.75v0.75h-0.75zM425.9 285.4h0.75v0.75h-0.75zM421.9 277.9h0.75v0.75h-0.75zM426.5 288.4h0.75v0.75h-0.75zM439.4 282.6h0.75v0.75h-0.75zM417.2 297.6h0.75v0.75h-0.75zM434.1 279.2h0.75v0.75h-0.75zM423.6 285.0h0.75v0.75h-0.75zM437.2 284.5h0.75v0.75h-0.75zM437.2 286.3h0.75v0.75h-0.75zM419.7 286.0h0.75v0.75h-0.75zM412.1 280.1h0.75v0.75h-0.75zM430.5 278.8h0.75v0.75h-0.75zM423.0 275.6h0.75v0.75h-0.75zM425.7 272.5h0.75v0.75h-0.75zM422.7 289.8h0.75v0.75h-0.75zM421.3 290.9h0.75v0.75h-0.75zM428.8 289.0h0.75v0.75h-0.75zM419.7 284.0h0.75v0.75h-0.75zM417.3 279.3h0.75v0.75h-0.75zM421.5 288.2h0.75v0.75h-0.75zM438.1 275.0h0.75v0.75h-0.75zM437.6 268.2h0.75v0.75h-0.75zM408.9 296.6h0.75v0.75h-0.75zM435.4 285.8h0.75v0.75h-0.75zM427.4 284.7h0.75v0.75h-0.75zM407.9 289.3h0.75v0.75h-0.75zM421.7 269.5h0.75v0.75h-0.75zM429.6 289.6h0.75v0.75h-0.75zM436.3 291.9h0.75v0.75h-0.75zM423.4 289.3h0.75v0.75h-0.75zM425.3 285.6h0.75v0.75h-0.75zM440.5 282.3h0.75v0.75h-0.75zM405.5 281.3h0.75v0.75h-0.75zM413.2 277.3h0.75v0.75h-0.75zM437.1 287.5h0.75v0.75h-0.75zM419.3 283.3h0.75v0.75h-0.75zM433.6 285.8h0.75v0.75h-0.75zM439.2 277.4h0.75v0.75h-0.75zM427.6 285.3h0.75v0.75h-0.75zM418.4 286.8h0.75v0.75h-0.75zM431.1 292.8h0.75v0.75h-0.75zM409.4 285.5h0.75v0.75h-0.75zM430.5 292.9h0.75v0.75h-0.75zM428.7 284.8h0.75v0.75h-0.75zM420.0 294.7h0.75v0.75h-0.75zM424.8 295.2h0.75v0.75h-0.75zM426.5 286.6h0.75v0.75h-0.75zM419.1 275.1h0.75v0.75h-0.75zM427.8 283.2h0.75v0.75h-0.75zM436.2 274.8h0.75v0.75h-0.75zM414.9 291.8h0.75v0.75h-0.75zM418.2 276.5h0.75v0.75h-0.75zM408.4 277.7h0.75v0.75h-0.75zM429.8 290.5h0.75v0.75h-0.75zM410.0 286.4h0.75v0.75h-0.75zM417.3 278.9h0.75v0.75h-0.75zM429.7 282.6h0.75v0.75h-0.75zM427.1 288.2h0.75v0.75h-0.75zM429.7 286.2h0.75v0.75h-0.75zM431.8 280.3h0.75v0.75h-0.75zM417.5 277.9h0.75v0.75h-0.75zM425.0 278.3h0.75v0.75h-0.75zM426.5 282.8h0.75v0.75h-0.75zM437.0 277.2h0.75v0.75h-0.75zM434.6 288.9h0.75v0.75h-0.75zM443.4 279.6h0.75v0.75h-0.75zM429.5 280.2h0.75v0.75h-0.75zM422.1 286.2h0.75v0.75h-0.75zM432.6 294.4h0.75v0.75h-0.75zM422.4 279.3h0.75v0.75h-0.75zM426.2 292.0h0.75v0.75h-0.75zM430.1 289.0h0.75v0.75h-0.75zM432.9 284.6h0.75v0.75h-0.75zM430.2 298.7h0.75v0.75h-0.75zM429.9 280.0h0.75v0.75h-0.75zM422.4 282.8h0.75v0.75h-0.75zM427.9 288.7h0.75v0.75h-0.75zM413.2 279.1h0.75v0.75h-0.75zM422.2 277.2h0.75v0.75h-0.75zM409.2 275.5h0.75v0.75h-0.75zM433.6 275.0h0.75v0.75h-0.75zM437.9 284.5h0.75v0.75h-0.75zM426.3 297.2h0.75v0.75h-0.75zM440.8 275.9h0.75v0.75h-0.75zM433.4 288.5h0.75v0.75h-0.75zM419.5 281.8h0.75v0.75h-0.75zM417.8 295.8h0.75v0.75h-0.75zM446.3 274.0h0.75v0.75h-0.75zM418.8 283.0h0.75v0.75h-0.75zM417.6 291.7h0.75v0.75h-0.75zM427.1 282.4h0.75v0.75h-0.75zM411.8 272.9h0.75v0.75h-0.75zM425.3 270.5h0.75v0.75h-0.75zM431.7 280.8h0.75v0.75h-0.75zM433.4 286.4h0.75v0.75h-0.75zM430.0 287.0h0.75v0.75h-0.75zM419.8 279.9h0.75v0.75h-0.75zM422.2 285.1h0.75v0.75h-0.75zM431.5 282.6h0.75v0.75h-0.75zM436.0 281.2h0.75v0.75h-0.75zM416.0 279.0h0.75v0.75h-0.75zM420.1 294.2h0.75v0.75h-0.75zM432.0 287.1h0.75v0.75h-0.75zM424.6 286.2h0.75v0.75h-0.75zM415.5 301.5h0.75v0.75h-0.75zM429.9 291.6h0.75v0.75h-0.75zM434.9 284.0h0.75v0.75h-0.75zM424.2 277.7h0.75v0.75h-0.75zM424.7 283.0h0.75v0.75h-0.75zM410.4 286.0h0.75v0.75h-0.75zM415.6 282.8h0.75v0.75h-0.75zM443.5 296.2h0.75v0.75h-0.75zM413.4 285.5h0.75v0.75h-0.75zM428.1 295.3h0.75v0.75h-0.75zM441.3 284.4h0.75v0.75h-0.75zM421.0 286.9h0.75v0.75h-0.75zM429.2 271.5h0.75v0.75h-0.75zM427.7 281.4h0.75v0.75h-0.75zM438.6 288.6h0.75v0.75h-0.75zM427.3 290.1h0.75v0.75h-0.75zM424.0 285.3h0.75v0.75h-0.75zM428.0 271.5h0.75v0.75h-0.75zM432.3 291.3h0.75v0.75h-0.75zM431.2 291.9h0.75v0.75h-0.75zM415.9 285.7h0.75v0.75h-0.75zM423.8 282.5h0.75v0.75h-0.75zM415.5 277.7h0.75v0.75h-0.75zM424.2 276.5h0.75v0.75h-0.75zM422.2 275.9h0.75v0.75h-0.75zM428.8 298.3h0.75v0.75h-0.75zM428.3 283.4h0.75v0.75h-0.75zM413.9 279.0h0.75v0.75h-0.75zM430.2 285.1h0.75v0.75h-0.75zM423.0 270.8h0.75v0.75h-0.75zM415.8 286.5h0.75v0.75h-0.75zM416.8 289.6h0.75v0.75h-0.75zM425.6 276.9h0.75v0.75h-0.75zM421.3 273.3h0.75v0.75h-0.75zM421.9 287.6h0.75v0.75h-0.75zM435.5 286.7h0.75v0.75h-0.75zM423.1 285.5h0.75v0.75h-0.75zM414.9 282.9h0.75v0.75h-0.75zM431.2 285.9h0.75v0.75h-0.75zM430.4 280.7h0.75v0.75h-0.75zM429.7 282.9h0.75v0.75h-0.75zM417.4 272.8h0.75v0.75h-0.75zM406.0 277.5h0.75v0.75h-0.75zM420.8 285.0h0.75v0.75h-0.75zM418.4 275.4h0.75v0.75h-0.75zM427.6 287.2h0.75v0.75h-0.75zM429.0 286.7h0.75v0.75h-0.75zM420.1 287.0h0.75v0.75h-0.75zM428.9 290.6h0.75v0.75h-0.75zM422.9 276.5h0.75v0.75h-0.75zM433.4 290.7h0.75v0.75h-0.75zM423.5 268.5h0.75v0.75h-0.75zM418.0 290.9h0.75v0.75h-0.75zM419.3 279.9h0.75v0.75h-0.75zM433.5 284.7h0.75v0.75h-0.75zM425.0 278.8h0.75v0.75h-0.75zM427.4 285.1h0.75v0.75h-0.75zM430.1 271.4h0.75v0.75h-0.75zM434.6 297.0h0.75v0.75h-0.75zM429.1 281.4h0.75v0.75h-0.75zM434.7 292.9h0.75v0.75h-0.75zM419.4 283.6h0.75v0.75h-0.75zM426.7 277.7h0.75v0.75h-0.75zM424.1 290.5h0.75v0.75h-0.75zM441.6 271.4h0.75v0.75h-0.75zM430.2 273.8h0.75v0.75h-0.75zM420.3 288.6h0.75v0.75h-0.75zM416.8 286.6h0.75v0.75h-0.75zM421.5 289.1h0.75v0.75h-0.75zM414.1 298.1h0.75v0.75h-0.75zM417.5 279.5h0.75v0.75h-0.75zM415.2 293.2h0.75v0.75h-0.75zM428.4 284.6h0.75v0.75h-0.75zM437.0 275.9h0.75v0.75h-0.75zM417.9 286.1h0.75v0.75h-0.75zM418.7 281.9h0.75v0.75h-0.75zM423.6 282.1h0.75v0.75h-0.75zM427.3 276.3h0.75v0.75h-0.75zM433.6 284.2h0.75v0.75h-0.75zM419.4 280.3h0.75v0.75h-0.75zM427.3 283.3h0.75v0.75h-0.75zM429.2 294.2h0.75v0.75h-0.75zM425.0 273.0h0.75v0.75h-0.75zM427.7 285.1h0.75v0.75h-0.75z" fill="#000" fill-opacity="0.45" filter="url(#soft)"/>
<path d="M426.5 289.0h0.75v0.75h-0.75zM408.9 288.5h0.75v0.75h-0.75zM426.8 289.1h0.75v0.75h-0.75zM440.8 300.3h0.75v0.75h-0.75zM405.8 301.8h0.75v0.75h-0.75zM413.3 287.3h0.75v0.75h-0.75zM453.0 299.7h0.75v0.75h-0.75zM434.6 283.8h0.75v0.75h-0.75zM426.3 293.2h0.75v0.75h-0.75zM415.9 292.5h0.75v0.75h-0.75zM411.8 298.6h0.75v0.75h-0.75zM424.7 285.1h0.75v0.75h-0.75zM439.2 295.3h0.75v0.75h-0.75zM440.0 281.9h0.75v0.75h-0.75zM419.0 289.5h0.75v0.75h-0.75zM408.8 290.7h0.75v0.75h-0.75zM425.8 288.7h0.75v0.75h-0.75zM424.2 281.0h0.75v0.75h-0.75zM431.0 298.4h0.75v0.75h-0.75zM411.8 283.0h0.75v0.75h-0.75zM425.1 283.0h0.75v0.75h-0.75zM416.2 287.7h0.75v0.75h-0.75zM411.3 280.0h0.75v0.75h-0.75zM434.5 283.7h0.75v0.75h-0.75zM433.5 285.1h0.75v0.75h-0.75zM431.7 287.0h0.75v0.75h-0.75zM409.7 292.8h0.75v0.75h-0.75zM423.3 285.6h0.75v0.75h-0.75zM446.6 300.5h0.75v0.75h-0.75zM413.3 289.2h0.75v0.75h-0.75zM420.8 284.8h0.75v0.75h-0.75zM429.8 294.6h0.75v0.75h-0.75zM435.7 282.8h0.75v0.75h-0.75zM430.4 297.4h0.75v0.75h-0.75zM404.2 287.7h0.75v0.75h-0.75zM416.7 294.2h0.75v0.75h-0.75zM410.1 289.4h0.75v0.75h-0.75zM422.7 285.1h0.75v0.75h-0.75zM424.4 280.3h0.75v0.75h-0.75zM413.0 284.1h0.75v0.75h-0.75zM432.5 298.2h0.75v0.75h-0.75zM422.4 287.3h0.75v0.75h-0.75zM408.5 281.2h0.75v0.75h-0.75zM426.3 296.3h0.75v0.75h-0.75zM420.5 285.5h0.75v0.75h-0.75zM418.7 293.5h0.75v0.75h-0.75zM437.3 289.7h0.75v0.75h-0.75zM421.0 291.3h0.75v0.75h-0.75zM419.0 289.5h0.75v0.75h-0.75zM436.1 292.7h0.75v0.75h-0.75zM409.3 301.8h0.75v0.75h-0.75zM453.7 281.1h0.75v0.75h-0.75zM420.3 293.7h0.75v0.75h-0.75zM437.5 278.9h0.75v0.75h-0.75zM441.6 297.3h0.75v0.75h-0.75zM431.8 289.5h0.75v0.75h-0.75zM405.9 291.0h0.75v0.75h-0.75zM417.0 292.3h0.75v0.75h-0.75zM420.6 282.6h0.75v0.75h-0.75zM445.8 305.6h0.75v0.75h-0.75zM409.8 291.6h0.75v0.75h-0.75zM414.2 294.5h0.75v0.75h-0.75zM415.8 292.9h0.75v0.75h-0.75zM419.5 294.0h0.75v0.75h-0.75zM406.7 292.8h0.75v0.75h-0.75zM427.3 292.6h0.75v0.75h-0.75zM426.8 298.4h0.75v0.75h-0.75zM437.9 286.3h0.75v0.75h-0.75zM425.3 285.1h0.75v0.75h-0.75zM419.9 300.7h0.75v0.75h-0.75zM415.0 295.3h0.75v0.75h-0.75zM441.3 294.4h0.75v0.75h-0.75zM436.4 283.7h0.75v0.75h-0.75zM421.0 285.0h0.75v0.75h-0.75zM439.5 289.4h0.75v0.75h-0.75zM417.3 289.6h0.75v0.75h-0.75zM436.5 282.2h0.75v0.75h-0.75zM433.1 290.9h0.75v0.75h-0.75zM423.3 292.2h0.75v0.75h-0.75zM418.2 283.9h0.75v0.75h-0.75zM410.5 292.1h0.75v0.75h-0.75zM410.2 286.4h0.75v0.75h-0.75zM416.8 295.6h0.75v0.75h-0.75zM424.9 291.3h0.75v0.75h-0.75zM424.4 295.3h0.75v0.75h-0.75zM423.6 287.2h0.75v0.75h-0.75zM427.2 291.9h0.75v0.75h-0.75zM427.5 292.3h0.75v0.75h-0.75zM436.2 298.4h0.75v0.75h-0.75zM414.2 285.1h0.75v0.75h-0.75zM445.9 287.7h0.75v0.75h-0.75zM403.9 289.1h0.75v0.75h-0.75zM428.9 297.0h0.75v0.75h-0.75zM429.0 293.6h0.75v0.75h-0.75zM427.4 296.6h0.75v0.75h-0.75zM409.3 290.4h0.75v0.75h-0.75zM428.1 291.3h0.75v0.75h-0.75zM436.8 282.6h0.75v0.75h-0.75zM437.7 295.0h0.75v0.75h-0.75zM413.6 289.0h0.75v0.75h-0.75zM424.4 277.0h0.75v0.75h-0.75zM425.1 286.5h0.75v0.75h-0.75zM419.1 278.4h0.75v0.75h-0.75zM428.0 298.2h0.75v0.75h-0.75zM438.3 297.3h0.75v0.75h-0.75zM429.2 295.5h0.75v0.75h-0.75zM411.2 286.9h0.75v0.75h-0.75zM423.2 290.2h0.75v0.75h-0.75zM419.7 289.3h0.75v0.75h-0.75zM433.6 282.2h0.75v0.75h-0.75zM430.8 289.6h0.75v0.75h-0.75zM429.1 291.2h0.75v0.75h-0.75zM428.1 288.0h0.75v0.75h-0.75zM434.9 296.3h0.75v0.75h-0.75zM431.8 285.2h0.75v0.75h-0.75zM422.7 291.3h0.75v0.75h-0.75zM444.4 294.4h0.75v0.75h-0.75zM430.3 297.0h0.75v0.75h-0.75zM412.3 293.6h0.75v0.75h-0.75zM426.5 281.1h0.75v0.75h-0.75zM401.5 281.4h0.75v0.75h-0.75zM429.0 292.1h0.75v0.75h-0.75zM428.1 288.8h0.75v0.75h-0.75zM434.9 293.0h0.75v0.75h-0.75zM419.0 289.7h0.75v0.75h-0.75zM444.1 286.7h0.75v0.75h-0.75zM412.9 281.7h0.75v0.75h-0.75zM404.9 281.9h0.75v0.75h-0.75zM437.6 293.6h0.75v0.75h-0.75zM429.8 294.6h0.75v0.75h-0.75zM418.0 287.4h0.75v0.75h-0.75zM425.7 298.3h0.75v0.75h-0.75zM420.0 281.7h0.75v0.75h-0.75zM415.8 298.6h0.75v0.75h-0.75zM423.8 282.3h0.75v0.75h-0.75zM427.7 294.3h0.75v0.75h-0.75zM416.8 285.9h0.75v0.75h-0.75zM414.8 280.0h0.75v0.75h-0.75zM420.6 294.0h0.75v0.75h-0.75zM430.6 289.2h0.75v0.75h-0.75zM410.5 290.5h0.75v0.75h-0.75zM434.6 296.2h0.75v0.75h-0.75zM419.1 284.3h0.75v0.75h-0.75zM434.2 290.5h0.75v0.75h-0.75zM439.0 295.3h0.75v0.75h-0.75zM436.0 290.1h0.75v0.75h-0.75zM412.9 292.5h0.75v0.75h-0.75zM422.4 293.7h0.75v0.75h-0.75zM423.2 293.7h0.75v0.75h-0.75zM418.9 290.5h0.75v0.75h-0.75zM434.9 298.5h0.75v0.75h-0.75zM412.6 291.8h0.75v0.75h-0.75zM427.6 291.3h0.75v0.75h-0.75zM425.0 291.1h0.75v0.75h-0.75zM420.8 293.1h0.75v0.75h-0.75zM439.4 280.4h0.75v0.75h-0.75zM439.2 282.3h0.75v0.75h-0.75zM421.3 284.6h0.75v0.75h-0.75z" fill="#000" fill-opacity="0.45" filter="url(#soft)"/>
<path d="M472.5 277.7h0.75v0.75h-0.75zM470.7 291.2h0.75v0.75h-0.75zM477.8 290.0h0.75v0.75h-0.75zM480.9 272.8h0.75v0.75h-0.75zM482.1 269.1h0.75v0.75h-0.75zM483.5 280.0h0.75v0.75h-0.75zM482.9 268.5h0.75v0.75h-0.75zM446.0 292.6h0.75v0.75h-0.75zM461.7 288.2h0.75v0.75h-0.75zM476.1 294.0h0.75v0.75h-0.75zM463.6 280.1h0.75v0.75h-0.75zM478.0 301.3h0.75v0.75h-0.75zM486.5 301.8h0.75v0.75h-0.75zM492.4 286.4h0.75v0.75h-0.75zM452.0 293.4h0.75v0.75h-0.75zM485.5 293.3h0.75v0.75h-0.75zM488.2 294.7h0.75v0.75h-0.75zM466.0 293.1h0.75v0.75h-0.75zM455.8 281.0h0.75v0.75h-0.75zM492.4 284.6h0.75v0.75h-0.75zM451.4 272.6h0.75v0.75h-0.75zM485.9 300.1h0.75v0.75h-0.75zM459.5 274.4h0.75v0.75h-0.75zM489.6 292.8h0.75v0.75h-0.75zM484.4 275.8h0.75v0.75h-0.75zM482.6 284.9h0.75v0.75h-0.75zM478.5 306.5h0.75v0.75h-0.75zM480.9 275.5h0.75v0.75h-0.75zM462.3 268.6h0.75v0.75h-0.75zM488.5 297.5h0.75v0.75h-0.75zM466.3 274.4h0.75v0.75h-0.75zM455.9 273.2h0.75v0.75h-0.75zM463.8 273.6h0.75v0.75h-0.75zM447.3 300.5h0.75v0.75h-0.75zM463.6 299.1h0.75v0.75h-0.75zM453.8 302.9h0.75v0.75h-0.75zM471.8 272.9h0.75v0.75h-0.75zM479.7 294.3h0.75v0.75h-0.75zM452.7 282.1h0.75v0.75h-0.75zM488.8 275.4h0.75v0.75h-0.75zM463.0 298.5h0.75v0.75h-0.75zM449.6 297.5h0.75v0.75h-0.75zM453.6 295.8h0.75v0.75h-0.75zM487.0 286.7h0.75v0.75h-0.75zM490.2 294.5h0.75v0.75h-0.75zM457.8 275.0h0.75v0.75h-0.75zM460.9 306.1h0.75v0.75h-0.75zM446.4 299.1h0.75v0.75h-0.75zM468.6 283.5h0.75v0.75h-0.75zM463.7 278.8h0.75v0.75h-0.75zM453.9 280.6h0.75v0.75h-0.75zM480.1 303.8h0.75v0.75h-0.75zM454.0 284.8h0.75v0.75h-0.75zM453.6 304.4h0.75v0.75h-0.75zM470.1 293.2h0.75v0.75h-0.75zM464.2 277.2h0.75v0.75h-0.75zM450.4 279.2h0.75v0.75h-0.75zM468.5 301.2h0.75v0.75h-0.75zM449.6 290.3h0.75v0.75h-0.75zM475.6 279.0h0.75v0.75h-0.75zM460.0 284.4h0.75v0.75h-0.75zM450.8 291.1h0.75v0.75h-0.75zM447.8 291.5h0.75v0.75h-0.75zM491.9 307.8h0.75v0.75h-0.75zM464.5 271.2h0.75v0.75h-0.75zM448.6 306.4h0.75v0.75h-0.75zM487.0 304.1h0.75v0.75h-0.75zM469.3 293.0h0.75v0.75h-0.75zM478.5 279.4h0.75v0.75h-0.75zM470.9 294.0h0.75v0.75h-0.75z" fill="#000" fill-opacity="0.35" filter="url(#soft)"/>
<path d="M413.0 325.9h0.75v0.75h-0.75zM489.3 310.5h0.75v0.75h-0.75zM450.5 319.1h0.75v0.75h-0.75zM424.7 319.0h0.75v0.75h-0.75zM476.8 301.7h0.75v0.75h-0.75zM433.6 310.2h0.75v0.75h-0.75zM477.0 347.9h0.75v0.75h-0.75zM434.1 346.8h0.75v0.75h-0.75zM403.3 330.4h0.75v0.75h-0.75zM451.6 342.9h0.75v0.75h-0.75zM444.4 324.9h0.75v0.75h-0.75zM407.9 312.7h0.75v0.75h-0.75zM472.3 320.5h0.75v0.75h-0.75zM434.3 323.9h0.75v0.75h-0.75zM455.9 354.0h0.75v0.75h-0.75zM463.4 310.4h0.75v0.75h-0.75zM437.3 340.2h0.75v0.75h-0.75zM409.4 337.2h0.75v0.75h-0.75zM474.9 315.9h0.75v0.75h-0.75zM470.4 358.0h0.75v0.75h-0.75zM429.8 356.3h0.75v0.75h-0.75zM444.5 351.7h0.75v0.75h-0.75zM454.4 353.7h0.75v0.75h-0.75zM437.3 315.5h0.75v0.75h-0.75zM490.6 355.4h0.75v0.75h-0.75zM457.2 326.9h0.75v0.75h-0.75zM412.4 310.3h0.75v0.75h-0.75zM404.8 309.2h0.75v0.75h-0.75zM448.8 321.1h0.75v0.75h-0.75zM471.7 317.4h0.75v0.75h-0.75zM429.2 320.1h0.75v0.75h-0.75zM448.5 353.1h0.75v0.75h-0.75zM480.6 314.3h0.75v0.75h-0.75zM421.9 317.8h0.75v0.75h-0.75zM466.0 335.0h0.75v0.75h-0.75zM475.1 357.9h0.75v0.75h-0.75zM427.8 344.9h0.75v0.75h-0.75zM442.4 330.7h0.75v0.75h-0.75zM470.1 314.8h0.75v0.75h-0.75zM489.8 349.6h0.75v0.75h-0.75zM442.3 328.1h0.75v0.75h-0.75zM446.2 302.1h0.75v0.75h-0.75zM414.2 304.5h0.75v0.75h-0.75zM485.1 311.8h0.75v0.75h-0.75zM435.0 330.5h0.75v0.75h-0.75zM442.5 322.1h0.75v0.75h-0.75zM471.8 310.0h0.75v0.75h-0.75zM449.4 332.4h0.75v0.75h-0.75zM490.4 330.0h0.75v0.75h-0.75zM477.6 320.0h0.75v0.75h-0.75zM471.1 318.1h0.75v0.75h-0.75zM412.8 319.9h0.75v0.75h-0.75zM448.3 340.4h0.75v0.75h-0.75zM483.9 308.4h0.75v0.75h-0.75zM422.8 319.8h0.75v0.75h-0.75zM465.8 333.2h0.75v0.75h-0.75zM447.1 333.5h0.75v0.75h-0.75zM480.3 347.5h0.75v0.75h-0.75zM403.5 327.7h0.75v0.75h-0.75z" fill="#000" fill-opacity="0.3" filter="url(#soft)"/>
<line x1="399.40" y1="265.80" x2="399.40" y2="360.90" stroke="#1a1a1a" stroke-width="1.1"/>
<line x1="398.90" y1="360.40" x2="494.40" y2="360.40" stroke="#1a1a1a" stroke-width="1.1"/>
<polyline points="404.70,292.80 404.70,266.80 445.10,266.80 445.10,296.60 414.30,296.60" fill="none" stroke="#888" stroke-width="1.3"/>
<polyline points="445.10,266.80 489.30,266.80 489.30,303.30" fill="none" stroke="#888" stroke-width="1.3"/>
<polyline points="445.10,296.60 445.10,308.20 484.20,308.20" fill="none" stroke="#888" stroke-width="1.3"/>
<text x="406.00" y="299.30" font-size="8.0" font-weight="bold" text-anchor="start" fill="#111">6</text>
<text x="484.90" y="312.60" font-size="8.0" font-weight="bold" text-anchor="start" fill="#111" textLength="7.5" lengthAdjust="spacingAndGlyphs">36</text>
<text x="446.60" y="261.30" font-size="10.9" font-weight="normal" text-anchor="middle" fill="#111" textLength="64.3" lengthAdjust="spacingAndGlyphs">Spi-B shRNA</text>
<line x1="397.40" y1="356.10" x2="399.40" y2="356.10" stroke="#444" stroke-width="0.9"/>
<line x1="397.40" y1="338.00" x2="399.40" y2="338.00" stroke="#444" stroke-width="0.9"/>
<line x1="397.40" y1="316.90" x2="399.40" y2="316.90" stroke="#444" stroke-width="0.9"/>
<line x1="397.40" y1="295.70" x2="399.40" y2="295.70" stroke="#444" stroke-width="0.9"/>
<line x1="397.40" y1="274.40" x2="399.40" y2="274.40" stroke="#444" stroke-width="0.9"/>
<line x1="398.20" y1="331.62" x2="399.40" y2="331.62" stroke="#777" stroke-width="0.6"/>
<line x1="398.20" y1="327.89" x2="399.40" y2="327.89" stroke="#777" stroke-width="0.6"/>
<line x1="398.20" y1="325.24" x2="399.40" y2="325.24" stroke="#777" stroke-width="0.6"/>
<line x1="398.20" y1="323.18" x2="399.40" y2="323.18" stroke="#777" stroke-width="0.6"/>
<line x1="398.20" y1="321.50" x2="399.40" y2="321.50" stroke="#777" stroke-width="0.6"/>
<line x1="398.20" y1="320.08" x2="399.40" y2="320.08" stroke="#777" stroke-width="0.6"/>
<line x1="398.20" y1="318.85" x2="399.40" y2="318.85" stroke="#777" stroke-width="0.6"/>
<line x1="398.20" y1="317.77" x2="399.40" y2="317.77" stroke="#777" stroke-width="0.6"/>
<line x1="398.20" y1="310.52" x2="399.40" y2="310.52" stroke="#777" stroke-width="0.6"/>
<line x1="398.20" y1="306.79" x2="399.40" y2="306.79" stroke="#777" stroke-width="0.6"/>
<line x1="398.20" y1="304.14" x2="399.40" y2="304.14" stroke="#777" stroke-width="0.6"/>
<line x1="398.20" y1="302.08" x2="399.40" y2="302.08" stroke="#777" stroke-width="0.6"/>
<line x1="398.20" y1="300.40" x2="399.40" y2="300.40" stroke="#777" stroke-width="0.6"/>
<line x1="398.20" y1="298.98" x2="399.40" y2="298.98" stroke="#777" stroke-width="0.6"/>
<line x1="398.20" y1="297.75" x2="399.40" y2="297.75" stroke="#777" stroke-width="0.6"/>
<line x1="398.20" y1="296.67" x2="399.40" y2="296.67" stroke="#777" stroke-width="0.6"/>
<line x1="398.20" y1="289.32" x2="399.40" y2="289.32" stroke="#777" stroke-width="0.6"/>
<line x1="398.20" y1="285.59" x2="399.40" y2="285.59" stroke="#777" stroke-width="0.6"/>
<line x1="398.20" y1="282.94" x2="399.40" y2="282.94" stroke="#777" stroke-width="0.6"/>
<line x1="398.20" y1="280.88" x2="399.40" y2="280.88" stroke="#777" stroke-width="0.6"/>
<line x1="398.20" y1="279.20" x2="399.40" y2="279.20" stroke="#777" stroke-width="0.6"/>
<line x1="398.20" y1="277.78" x2="399.40" y2="277.78" stroke="#777" stroke-width="0.6"/>
<line x1="398.20" y1="276.55" x2="399.40" y2="276.55" stroke="#777" stroke-width="0.6"/>
<line x1="398.20" y1="275.47" x2="399.40" y2="275.47" stroke="#777" stroke-width="0.6"/>
<line x1="398.20" y1="268.02" x2="399.40" y2="268.02" stroke="#777" stroke-width="0.6"/>
<line x1="401.90" y1="360.40" x2="401.90" y2="362.40" stroke="#444" stroke-width="0.9"/>
<line x1="423.10" y1="360.40" x2="423.10" y2="362.40" stroke="#444" stroke-width="0.9"/>
<line x1="444.30" y1="360.40" x2="444.30" y2="362.40" stroke="#444" stroke-width="0.9"/>
<line x1="465.50" y1="360.40" x2="465.50" y2="362.40" stroke="#444" stroke-width="0.9"/>
<line x1="486.70" y1="360.40" x2="486.70" y2="362.40" stroke="#444" stroke-width="0.9"/>
<line x1="429.48" y1="360.40" x2="429.48" y2="361.60" stroke="#777" stroke-width="0.6"/>
<line x1="433.21" y1="360.40" x2="433.21" y2="361.60" stroke="#777" stroke-width="0.6"/>
<line x1="435.86" y1="360.40" x2="435.86" y2="361.60" stroke="#777" stroke-width="0.6"/>
<line x1="437.92" y1="360.40" x2="437.92" y2="361.60" stroke="#777" stroke-width="0.6"/>
<line x1="439.60" y1="360.40" x2="439.60" y2="361.60" stroke="#777" stroke-width="0.6"/>
<line x1="441.02" y1="360.40" x2="441.02" y2="361.60" stroke="#777" stroke-width="0.6"/>
<line x1="442.25" y1="360.40" x2="442.25" y2="361.60" stroke="#777" stroke-width="0.6"/>
<line x1="443.33" y1="360.40" x2="443.33" y2="361.60" stroke="#777" stroke-width="0.6"/>
<line x1="450.68" y1="360.40" x2="450.68" y2="361.60" stroke="#777" stroke-width="0.6"/>
<line x1="454.41" y1="360.40" x2="454.41" y2="361.60" stroke="#777" stroke-width="0.6"/>
<line x1="457.06" y1="360.40" x2="457.06" y2="361.60" stroke="#777" stroke-width="0.6"/>
<line x1="459.12" y1="360.40" x2="459.12" y2="361.60" stroke="#777" stroke-width="0.6"/>
<line x1="460.80" y1="360.40" x2="460.80" y2="361.60" stroke="#777" stroke-width="0.6"/>
<line x1="462.22" y1="360.40" x2="462.22" y2="361.60" stroke="#777" stroke-width="0.6"/>
<line x1="463.45" y1="360.40" x2="463.45" y2="361.60" stroke="#777" stroke-width="0.6"/>
<line x1="464.53" y1="360.40" x2="464.53" y2="361.60" stroke="#777" stroke-width="0.6"/>
<line x1="471.88" y1="360.40" x2="471.88" y2="361.60" stroke="#777" stroke-width="0.6"/>
<line x1="475.61" y1="360.40" x2="475.61" y2="361.60" stroke="#777" stroke-width="0.6"/>
<line x1="478.26" y1="360.40" x2="478.26" y2="361.60" stroke="#777" stroke-width="0.6"/>
<line x1="480.32" y1="360.40" x2="480.32" y2="361.60" stroke="#777" stroke-width="0.6"/>
<line x1="482.00" y1="360.40" x2="482.00" y2="361.60" stroke="#777" stroke-width="0.6"/>
<line x1="483.42" y1="360.40" x2="483.42" y2="361.60" stroke="#777" stroke-width="0.6"/>
<line x1="484.65" y1="360.40" x2="484.65" y2="361.60" stroke="#777" stroke-width="0.6"/>
<line x1="485.73" y1="360.40" x2="485.73" y2="361.60" stroke="#777" stroke-width="0.6"/>
<line x1="493.08" y1="360.40" x2="493.08" y2="361.60" stroke="#777" stroke-width="0.6"/>
<line x1="282.70" y1="277.00" x2="282.70" y2="305.30" stroke="#111" stroke-width="1.2"/>
<polygon points="282.7,271.3 280.4,277.8 285.0,277.8" fill="#111"/>
<text transform="translate(288.10,334.00) rotate(-90)" font-size="10.9" font-weight="normal" text-anchor="middle" fill="#111" textLength="49.8" lengthAdjust="spacingAndGlyphs">AnnexinV</text>
<text x="294.60" y="374.90" font-size="10.5" font-weight="normal" text-anchor="start" fill="#111" textLength="30.8" lengthAdjust="spacingAndGlyphs">7-AAD</text>
<line x1="330.00" y1="370.80" x2="481.00" y2="370.80" stroke="#111" stroke-width="1.2"/>
<polygon points="487.7,370.8 480.8,368.5 480.8,373.1" fill="#111"/>
</svg>
</body></html>
